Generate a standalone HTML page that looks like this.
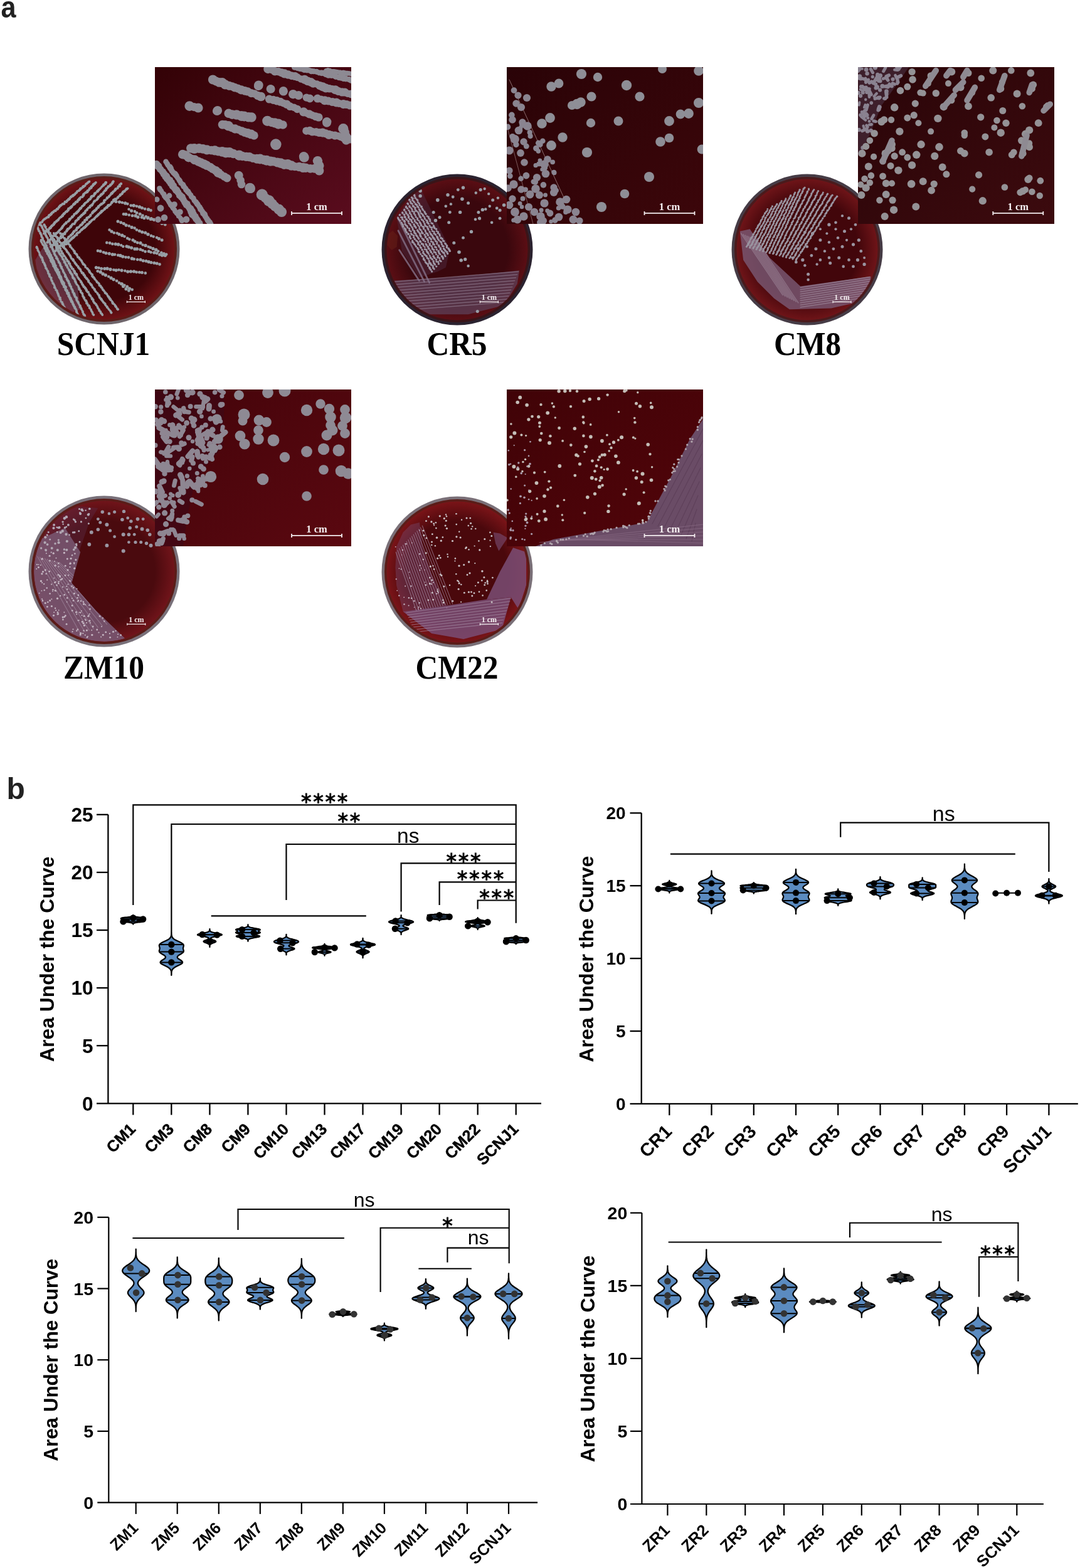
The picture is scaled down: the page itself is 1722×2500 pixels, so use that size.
<!DOCTYPE html>
<html><head><meta charset="utf-8"><style>
html,body{margin:0;padding:0;background:#fff;width:1722px;height:2500px;overflow:hidden}
svg{display:block}
</style></head><body>
<svg width="1722" height="2500" viewBox="0 0 1722 2500">
<defs><radialGradient id="ag0" cx="50%" cy="50%" r="50%"><stop offset="0" stop-color="#3e0509"/><stop offset="0.72" stop-color="#3e0509"/><stop offset="1" stop-color="#6e1216"/></radialGradient><clipPath id="dc0"><circle cx="166" cy="397" r="112"/></clipPath><radialGradient id="ag1" cx="50%" cy="50%" r="50%"><stop offset="0" stop-color="#3a070d"/><stop offset="0.72" stop-color="#3a070d"/><stop offset="1" stop-color="#5a0e14"/></radialGradient><clipPath id="dc1"><circle cx="729" cy="398" r="112"/></clipPath><radialGradient id="ag2" cx="50%" cy="50%" r="50%"><stop offset="0" stop-color="#42060b"/><stop offset="0.72" stop-color="#42060b"/><stop offset="1" stop-color="#6e1418"/></radialGradient><clipPath id="dc2"><circle cx="1287" cy="398" r="112"/></clipPath><clipPath id="zmb"><path d="M128.2 880.3 L114.2 929.4 L152.8 973.2 L198.4 1017.1 L198.7 1018.1 L189.3 1020.6 L179.6 1022.2 L169.9 1022.9 L160.1 1022.8 L150.4 1021.9 L140.8 1020.1 L131.4 1017.5 L122.2 1014.1 L113.4 1009.9 L105 1004.9 L97 999.3 L89.6 992.9 L82.8 985.9 L76.6 978.4 L71 970.4 L66.2 961.8 L62.2 953 L58.9 943.7 L56.4 934.3 L54.8 924.6 L54.1 914.9 L54.2 905.1 L55.1 895.4 L56.9 885.8 L59.5 876.4 L62.9 867.2 L67.1 858.4 L87.9 848.7 L103.7 841.7Z"/></clipPath><radialGradient id="ag3" cx="50%" cy="50%" r="50%"><stop offset="0" stop-color="#4a0a0e"/><stop offset="0.72" stop-color="#4a0a0e"/><stop offset="1" stop-color="#70141a"/></radialGradient><clipPath id="dc3"><circle cx="166" cy="911" r="112"/></clipPath><radialGradient id="ag4" cx="50%" cy="50%" r="50%"><stop offset="0" stop-color="#4a080c"/><stop offset="0.72" stop-color="#4a080c"/><stop offset="1" stop-color="#7a1418"/></radialGradient><clipPath id="dc4"><circle cx="729" cy="912" r="112"/></clipPath><linearGradient id="ig0" x1="0" y1="0" x2="1" y2="1"><stop offset="0" stop-color="#330206"/><stop offset="1" stop-color="#5a0c1e"/></linearGradient><clipPath id="ic0"><rect x="247" y="107" width="313" height="250"/></clipPath><linearGradient id="ig1" x1="0" y1="0" x2="1" y2="1"><stop offset="0" stop-color="#2a0307"/><stop offset="1" stop-color="#3c060a"/></linearGradient><clipPath id="ic1"><rect x="808" y="107" width="313" height="250"/></clipPath><linearGradient id="ig2" x1="0" y1="0" x2="1" y2="1"><stop offset="0" stop-color="#2a0508"/><stop offset="1" stop-color="#3c0a0e"/></linearGradient><clipPath id="ic2"><rect x="1368" y="107" width="313" height="250"/></clipPath><linearGradient id="ig3" x1="0" y1="0" x2="1" y2="1"><stop offset="0" stop-color="#44040a"/><stop offset="1" stop-color="#5a0810"/></linearGradient><clipPath id="ic3"><rect x="247" y="621" width="313" height="250"/></clipPath><linearGradient id="ig4" x1="0" y1="0" x2="1" y2="1"><stop offset="0" stop-color="#400307"/><stop offset="1" stop-color="#52040a"/></linearGradient><clipPath id="ic4"><rect x="808" y="621" width="313" height="250"/></clipPath></defs>
<rect width="1722" height="2500" fill="#fff"/>
<text transform="translate(1.5 27.8) scale(0.9 1)" font-family="Liberation Sans" font-weight="bold" font-size="48" fill="#222">a</text>
<text x="10.5" y="1274" font-family="Liberation Sans" font-weight="bold" font-size="48" fill="#222">b</text>
<text transform="translate(165 565.5) scale(1 1.08)" font-family="Liberation Serif" font-weight="bold" font-size="49.5" fill="#000" text-anchor="middle">SCNJ1</text>
<text transform="translate(728.5 565.5) scale(1 1.08)" font-family="Liberation Serif" font-weight="bold" font-size="49.5" fill="#000" text-anchor="middle">CR5</text>
<text transform="translate(1287.5 565.5) scale(1 1.08)" font-family="Liberation Serif" font-weight="bold" font-size="49.5" fill="#000" text-anchor="middle">CM8</text>
<text transform="translate(165.5 1082) scale(1 1.08)" font-family="Liberation Serif" font-weight="bold" font-size="49.5" fill="#000" text-anchor="middle">ZM10</text>
<text transform="translate(728.5 1082) scale(1 1.08)" font-family="Liberation Serif" font-weight="bold" font-size="49.5" fill="#000" text-anchor="middle">CM22</text>
<circle cx="166" cy="397" r="120.5" fill="#6f666c"/>
<circle cx="166" cy="397" r="116" fill="#5a1c18"/>
<circle cx="166" cy="397" r="112.5" fill="url(#ag0)"/>
<g clip-path="url(#dc0)" fill="#8c8791">
<path d="M56.3 414.4 L75.6 382.8 L121.2 435.4 L128.2 493.3 L103.7 502.1 L73.9 467 L59.8 444.2Z" fill="#6e4a62" opacity="0.55"/>
<circle cx="142" cy="289.4" r="2.3" fill="#98a0a6"/>
<circle cx="140" cy="291.3" r="2.1" fill="#98a0a6"/>
<circle cx="138.3" cy="292.7" r="2" fill="#98a0a6"/>
<circle cx="137.1" cy="293.5" r="2" fill="#98a0a6"/>
<circle cx="135.5" cy="296" r="2" fill="#98a0a6"/>
<circle cx="133.5" cy="297.1" r="2.4" fill="#98a0a6"/>
<circle cx="132.3" cy="298.2" r="2.4" fill="#98a0a6"/>
<circle cx="129.9" cy="300.3" r="2.1" fill="#98a0a6"/>
<circle cx="128.4" cy="300.7" r="2.1" fill="#98a0a6"/>
<circle cx="127.6" cy="302.2" r="2.2" fill="#98a0a6"/>
<circle cx="125.7" cy="303.9" r="2.2" fill="#98a0a6"/>
<circle cx="123.2" cy="304.9" r="2" fill="#98a0a6"/>
<circle cx="122.3" cy="306.8" r="2.1" fill="#98a0a6"/>
<circle cx="120.5" cy="308.3" r="2.1" fill="#98a0a6"/>
<circle cx="119.1" cy="310" r="2.1" fill="#98a0a6"/>
<circle cx="117.2" cy="311.2" r="2.4" fill="#98a0a6"/>
<circle cx="115.7" cy="312.4" r="2.4" fill="#98a0a6"/>
<circle cx="113.2" cy="313.9" r="2.3" fill="#98a0a6"/>
<circle cx="111.6" cy="315.5" r="2" fill="#98a0a6"/>
<circle cx="110.6" cy="317.3" r="2.2" fill="#98a0a6"/>
<circle cx="109.2" cy="318.1" r="2.3" fill="#98a0a6"/>
<circle cx="107.1" cy="319.9" r="2.2" fill="#98a0a6"/>
<circle cx="105.7" cy="321.8" r="2.2" fill="#98a0a6"/>
<circle cx="103.8" cy="322" r="2.3" fill="#98a0a6"/>
<circle cx="102.1" cy="324.7" r="2.3" fill="#98a0a6"/>
<circle cx="100" cy="325.3" r="2.3" fill="#98a0a6"/>
<circle cx="97.9" cy="326.8" r="2" fill="#98a0a6"/>
<circle cx="96.4" cy="327.7" r="2.3" fill="#98a0a6"/>
<circle cx="94.7" cy="329.4" r="2.1" fill="#98a0a6"/>
<circle cx="94" cy="330.6" r="2.2" fill="#98a0a6"/>
<circle cx="91.9" cy="333.1" r="2.3" fill="#98a0a6"/>
<circle cx="90.6" cy="333.7" r="2.1" fill="#98a0a6"/>
<circle cx="88.3" cy="335.9" r="2.4" fill="#98a0a6"/>
<circle cx="86.3" cy="336.4" r="2" fill="#98a0a6"/>
<circle cx="84.8" cy="338.3" r="2.2" fill="#98a0a6"/>
<circle cx="83.1" cy="339.1" r="2.1" fill="#98a0a6"/>
<circle cx="81.6" cy="341.2" r="2.4" fill="#98a0a6"/>
<circle cx="80.3" cy="342.6" r="2.2" fill="#98a0a6"/>
<circle cx="78.6" cy="343.4" r="2.4" fill="#98a0a6"/>
<circle cx="77.1" cy="345.9" r="2.3" fill="#98a0a6"/>
<circle cx="74.9" cy="346.7" r="2" fill="#98a0a6"/>
<circle cx="73.5" cy="347.7" r="2" fill="#98a0a6"/>
<circle cx="71.3" cy="349.2" r="2.1" fill="#98a0a6"/>
<circle cx="69.4" cy="350.5" r="2" fill="#98a0a6"/>
<circle cx="67.8" cy="352.4" r="1.9" fill="#98a0a6"/>
<circle cx="67.1" cy="354.1" r="2" fill="#98a0a6"/>
<circle cx="64.6" cy="355.2" r="2.1" fill="#98a0a6"/>
<circle cx="62.8" cy="357.3" r="2.4" fill="#98a0a6"/>
<circle cx="61.6" cy="358.2" r="2.1" fill="#98a0a6"/>
<circle cx="152.8" cy="291" r="2" fill="#98a0a6"/>
<circle cx="151" cy="292.8" r="2.3" fill="#98a0a6"/>
<circle cx="149.2" cy="294.1" r="2.4" fill="#98a0a6"/>
<circle cx="148.1" cy="295.8" r="2.2" fill="#98a0a6"/>
<circle cx="145.8" cy="297.8" r="2.4" fill="#98a0a6"/>
<circle cx="145.4" cy="299.6" r="2.1" fill="#98a0a6"/>
<circle cx="143.1" cy="300.5" r="2.3" fill="#98a0a6"/>
<circle cx="141.8" cy="302.8" r="2.1" fill="#98a0a6"/>
<circle cx="139.8" cy="304.4" r="2.4" fill="#98a0a6"/>
<circle cx="139" cy="306" r="2.3" fill="#98a0a6"/>
<circle cx="137.3" cy="306.7" r="2.2" fill="#98a0a6"/>
<circle cx="135.2" cy="308" r="1.9" fill="#98a0a6"/>
<circle cx="133.5" cy="309.9" r="2.3" fill="#98a0a6"/>
<circle cx="132.8" cy="311.7" r="2.4" fill="#98a0a6"/>
<circle cx="131.3" cy="313.9" r="2.1" fill="#98a0a6"/>
<circle cx="128.7" cy="314.5" r="2" fill="#98a0a6"/>
<circle cx="127" cy="316.6" r="2.4" fill="#98a0a6"/>
<circle cx="126.3" cy="317.9" r="2.3" fill="#98a0a6"/>
<circle cx="124.7" cy="319" r="2.3" fill="#98a0a6"/>
<circle cx="123.2" cy="321.4" r="2.3" fill="#98a0a6"/>
<circle cx="121.1" cy="322.2" r="2.3" fill="#98a0a6"/>
<circle cx="119.3" cy="324.6" r="2.4" fill="#98a0a6"/>
<circle cx="117.8" cy="325.6" r="2.4" fill="#98a0a6"/>
<circle cx="116.6" cy="326.8" r="2" fill="#98a0a6"/>
<circle cx="114.3" cy="329.4" r="2.3" fill="#98a0a6"/>
<circle cx="112.7" cy="330.8" r="2.4" fill="#98a0a6"/>
<circle cx="111.8" cy="331.7" r="2.2" fill="#98a0a6"/>
<circle cx="109.5" cy="332.8" r="2.4" fill="#98a0a6"/>
<circle cx="108.6" cy="335.1" r="2.4" fill="#98a0a6"/>
<circle cx="106.7" cy="337.1" r="2.3" fill="#98a0a6"/>
<circle cx="104.9" cy="337.8" r="2.1" fill="#98a0a6"/>
<circle cx="103.3" cy="339.8" r="2.1" fill="#98a0a6"/>
<circle cx="102" cy="340.8" r="2.4" fill="#98a0a6"/>
<circle cx="100.3" cy="342.7" r="2.2" fill="#98a0a6"/>
<circle cx="99.4" cy="344.2" r="2.4" fill="#98a0a6"/>
<circle cx="97.3" cy="345.9" r="2.2" fill="#98a0a6"/>
<circle cx="95.1" cy="347.4" r="2" fill="#98a0a6"/>
<circle cx="93.5" cy="349.4" r="2" fill="#98a0a6"/>
<circle cx="92.5" cy="350.9" r="2.2" fill="#98a0a6"/>
<circle cx="90.7" cy="352.1" r="2.2" fill="#98a0a6"/>
<circle cx="89.8" cy="353.1" r="2.2" fill="#98a0a6"/>
<circle cx="87.5" cy="354.9" r="2.3" fill="#98a0a6"/>
<circle cx="86.2" cy="356.8" r="2.3" fill="#98a0a6"/>
<circle cx="85.2" cy="358.2" r="2.2" fill="#98a0a6"/>
<circle cx="83" cy="359.9" r="2.3" fill="#98a0a6"/>
<circle cx="81.4" cy="361.5" r="2.2" fill="#98a0a6"/>
<circle cx="80.4" cy="363.2" r="2.4" fill="#98a0a6"/>
<circle cx="78.9" cy="364.2" r="2.2" fill="#98a0a6"/>
<circle cx="77.3" cy="366.5" r="2" fill="#98a0a6"/>
<circle cx="74.6" cy="367.5" r="2" fill="#98a0a6"/>
<circle cx="73.2" cy="368.6" r="2.3" fill="#98a0a6"/>
<circle cx="72.3" cy="371.3" r="2" fill="#98a0a6"/>
<circle cx="70.4" cy="372.3" r="2.2" fill="#98a0a6"/>
<circle cx="168.8" cy="291.1" r="2.4" fill="#98a0a6"/>
<circle cx="167.7" cy="292.8" r="2.4" fill="#98a0a6"/>
<circle cx="165.4" cy="294.7" r="2.4" fill="#98a0a6"/>
<circle cx="164.4" cy="295.9" r="2.1" fill="#98a0a6"/>
<circle cx="162.4" cy="297.7" r="2" fill="#98a0a6"/>
<circle cx="160.6" cy="299.8" r="1.9" fill="#98a0a6"/>
<circle cx="159.4" cy="301" r="1.9" fill="#98a0a6"/>
<circle cx="157.5" cy="302.8" r="2.2" fill="#98a0a6"/>
<circle cx="155.6" cy="304.9" r="2.3" fill="#98a0a6"/>
<circle cx="155.3" cy="305.3" r="2.1" fill="#98a0a6"/>
<circle cx="152.5" cy="307.7" r="2.1" fill="#98a0a6"/>
<circle cx="151.1" cy="308.8" r="2.4" fill="#98a0a6"/>
<circle cx="150.4" cy="310.2" r="2" fill="#98a0a6"/>
<circle cx="149" cy="312.2" r="2.3" fill="#98a0a6"/>
<circle cx="146.4" cy="313.1" r="2.3" fill="#98a0a6"/>
<circle cx="145.3" cy="314.7" r="2.4" fill="#98a0a6"/>
<circle cx="144" cy="317.2" r="2" fill="#98a0a6"/>
<circle cx="142.7" cy="317.8" r="2.4" fill="#98a0a6"/>
<circle cx="140.6" cy="319.8" r="2.2" fill="#98a0a6"/>
<circle cx="139.7" cy="321.3" r="2" fill="#98a0a6"/>
<circle cx="137.6" cy="322.8" r="2" fill="#98a0a6"/>
<circle cx="135.6" cy="324.1" r="2" fill="#98a0a6"/>
<circle cx="134.3" cy="326.1" r="2.3" fill="#98a0a6"/>
<circle cx="132.7" cy="327.9" r="2" fill="#98a0a6"/>
<circle cx="131.2" cy="328.8" r="2.1" fill="#98a0a6"/>
<circle cx="129.2" cy="331.4" r="2.2" fill="#98a0a6"/>
<circle cx="127.9" cy="332.6" r="2.4" fill="#98a0a6"/>
<circle cx="126.2" cy="334.6" r="2.1" fill="#98a0a6"/>
<circle cx="125.2" cy="336.2" r="2.1" fill="#98a0a6"/>
<circle cx="123.7" cy="337.6" r="2.4" fill="#98a0a6"/>
<circle cx="121.9" cy="339.4" r="2.3" fill="#98a0a6"/>
<circle cx="120.7" cy="340.4" r="2.1" fill="#98a0a6"/>
<circle cx="118.4" cy="341.6" r="2" fill="#98a0a6"/>
<circle cx="117.8" cy="343.4" r="2" fill="#98a0a6"/>
<circle cx="115.4" cy="345.7" r="2.4" fill="#98a0a6"/>
<circle cx="114.6" cy="346.6" r="2.1" fill="#98a0a6"/>
<circle cx="112.5" cy="348.4" r="2" fill="#98a0a6"/>
<circle cx="111.2" cy="349.7" r="2.4" fill="#98a0a6"/>
<circle cx="110.3" cy="351.6" r="2.1" fill="#98a0a6"/>
<circle cx="108.8" cy="352.9" r="2.1" fill="#98a0a6"/>
<circle cx="105.9" cy="354.6" r="2.2" fill="#98a0a6"/>
<circle cx="105.1" cy="355.9" r="2.2" fill="#98a0a6"/>
<circle cx="102.9" cy="357.6" r="2" fill="#98a0a6"/>
<circle cx="101.8" cy="358.9" r="1.9" fill="#98a0a6"/>
<circle cx="100.2" cy="360.7" r="2.2" fill="#98a0a6"/>
<circle cx="98.9" cy="363" r="2.3" fill="#98a0a6"/>
<circle cx="97.6" cy="364.7" r="2.1" fill="#98a0a6"/>
<circle cx="95.5" cy="366.4" r="2" fill="#98a0a6"/>
<circle cx="94.5" cy="367.6" r="2" fill="#98a0a6"/>
<circle cx="93.1" cy="369.5" r="2.2" fill="#98a0a6"/>
<circle cx="91.4" cy="370.9" r="2" fill="#98a0a6"/>
<circle cx="89.6" cy="372.1" r="2.3" fill="#98a0a6"/>
<circle cx="88.4" cy="374.1" r="2.2" fill="#98a0a6"/>
<circle cx="87" cy="375.5" r="2.3" fill="#98a0a6"/>
<circle cx="84.6" cy="376.2" r="2" fill="#98a0a6"/>
<circle cx="83.2" cy="377.9" r="2.3" fill="#98a0a6"/>
<circle cx="81.9" cy="380.2" r="2.2" fill="#98a0a6"/>
<circle cx="80.5" cy="381.6" r="1.9" fill="#98a0a6"/>
<circle cx="79.1" cy="383.5" r="2.2" fill="#98a0a6"/>
<circle cx="77.2" cy="384.9" r="2" fill="#98a0a6"/>
<circle cx="75.6" cy="386.3" r="2.2" fill="#98a0a6"/>
<circle cx="180.6" cy="289.3" r="2.1" fill="#98a0a6"/>
<circle cx="179.6" cy="291.1" r="2.3" fill="#98a0a6"/>
<circle cx="178.4" cy="293.1" r="2.1" fill="#98a0a6"/>
<circle cx="176.2" cy="294.9" r="2.3" fill="#98a0a6"/>
<circle cx="174.9" cy="296.5" r="2" fill="#98a0a6"/>
<circle cx="172.7" cy="297.6" r="2.3" fill="#98a0a6"/>
<circle cx="171.4" cy="299.6" r="1.9" fill="#98a0a6"/>
<circle cx="169.6" cy="300.8" r="2.3" fill="#98a0a6"/>
<circle cx="168.9" cy="303" r="2.1" fill="#98a0a6"/>
<circle cx="167.1" cy="304.3" r="2.2" fill="#98a0a6"/>
<circle cx="165" cy="306.5" r="2" fill="#98a0a6"/>
<circle cx="164.6" cy="308.2" r="1.9" fill="#98a0a6"/>
<circle cx="162.4" cy="309.7" r="2.4" fill="#98a0a6"/>
<circle cx="160.9" cy="310.5" r="2" fill="#98a0a6"/>
<circle cx="160" cy="312.1" r="2.2" fill="#98a0a6"/>
<circle cx="157.4" cy="314.1" r="2.4" fill="#98a0a6"/>
<circle cx="155.8" cy="316.1" r="2.2" fill="#98a0a6"/>
<circle cx="155.3" cy="317.6" r="2" fill="#98a0a6"/>
<circle cx="153.8" cy="318.9" r="1.9" fill="#98a0a6"/>
<circle cx="151.1" cy="320.5" r="2.2" fill="#98a0a6"/>
<circle cx="149.9" cy="321.7" r="2.1" fill="#98a0a6"/>
<circle cx="148.4" cy="324.2" r="1.9" fill="#98a0a6"/>
<circle cx="147.4" cy="325.9" r="2" fill="#98a0a6"/>
<circle cx="146.1" cy="327.3" r="2.4" fill="#98a0a6"/>
<circle cx="143.8" cy="328.5" r="2.1" fill="#98a0a6"/>
<circle cx="143.2" cy="330.4" r="2.1" fill="#98a0a6"/>
<circle cx="140.9" cy="331.6" r="2" fill="#98a0a6"/>
<circle cx="138.9" cy="333.9" r="2.1" fill="#98a0a6"/>
<circle cx="138.5" cy="334.8" r="2.1" fill="#98a0a6"/>
<circle cx="136.4" cy="336.3" r="2.1" fill="#98a0a6"/>
<circle cx="135.4" cy="338.9" r="2.3" fill="#98a0a6"/>
<circle cx="133.5" cy="340.5" r="2.4" fill="#98a0a6"/>
<circle cx="131.8" cy="341.9" r="2" fill="#98a0a6"/>
<circle cx="130.5" cy="343.1" r="2.3" fill="#98a0a6"/>
<circle cx="128.9" cy="344.5" r="2" fill="#98a0a6"/>
<circle cx="127.7" cy="345.9" r="2.2" fill="#98a0a6"/>
<circle cx="125.4" cy="347.8" r="2.3" fill="#98a0a6"/>
<circle cx="124.7" cy="349.3" r="2.3" fill="#98a0a6"/>
<circle cx="122.3" cy="351.4" r="2.1" fill="#98a0a6"/>
<circle cx="120.6" cy="352.5" r="2" fill="#98a0a6"/>
<circle cx="120" cy="354.5" r="2" fill="#98a0a6"/>
<circle cx="118.5" cy="356.8" r="2.2" fill="#98a0a6"/>
<circle cx="115.9" cy="357.3" r="2" fill="#98a0a6"/>
<circle cx="114.7" cy="358.8" r="2.1" fill="#98a0a6"/>
<circle cx="113" cy="361.1" r="2.4" fill="#98a0a6"/>
<circle cx="112.1" cy="362.5" r="2.1" fill="#98a0a6"/>
<circle cx="110.3" cy="364.1" r="2.1" fill="#98a0a6"/>
<circle cx="108.1" cy="365.5" r="2.4" fill="#98a0a6"/>
<circle cx="106.7" cy="367.5" r="2.2" fill="#98a0a6"/>
<circle cx="106.1" cy="368.7" r="2.1" fill="#98a0a6"/>
<circle cx="103.8" cy="370.6" r="2.2" fill="#98a0a6"/>
<circle cx="103.2" cy="372.8" r="2.4" fill="#98a0a6"/>
<circle cx="100.4" cy="373.3" r="2.3" fill="#98a0a6"/>
<circle cx="100" cy="375.5" r="2.2" fill="#98a0a6"/>
<circle cx="97.3" cy="377" r="2.4" fill="#98a0a6"/>
<circle cx="96.9" cy="379.2" r="2.4" fill="#98a0a6"/>
<circle cx="94.6" cy="379.9" r="2" fill="#98a0a6"/>
<circle cx="93.4" cy="382.3" r="2.4" fill="#98a0a6"/>
<circle cx="92.1" cy="383.8" r="2.3" fill="#98a0a6"/>
<circle cx="90.3" cy="385.3" r="2" fill="#98a0a6"/>
<circle cx="89.1" cy="386.5" r="2.4" fill="#98a0a6"/>
<circle cx="87.4" cy="388.2" r="2" fill="#98a0a6"/>
<circle cx="85.4" cy="390.3" r="2.3" fill="#98a0a6"/>
<circle cx="83.7" cy="391.1" r="2.2" fill="#98a0a6"/>
<circle cx="82.6" cy="393.3" r="2.2" fill="#98a0a6"/>
<circle cx="193" cy="293" r="2.2" fill="#98a0a6"/>
<circle cx="191" cy="294.6" r="2.2" fill="#98a0a6"/>
<circle cx="190.7" cy="296.7" r="2.4" fill="#98a0a6"/>
<circle cx="188.5" cy="297.7" r="2.1" fill="#98a0a6"/>
<circle cx="187.6" cy="299.9" r="2.1" fill="#98a0a6"/>
<circle cx="184.8" cy="301.2" r="2.3" fill="#98a0a6"/>
<circle cx="183.8" cy="302.5" r="2.3" fill="#98a0a6"/>
<circle cx="182.9" cy="304" r="2" fill="#98a0a6"/>
<circle cx="180.6" cy="305.8" r="2.3" fill="#98a0a6"/>
<circle cx="178.8" cy="307.9" r="2.3" fill="#98a0a6"/>
<circle cx="177.7" cy="308.7" r="2.4" fill="#98a0a6"/>
<circle cx="175.9" cy="311.1" r="2" fill="#98a0a6"/>
<circle cx="174.2" cy="312.6" r="2.1" fill="#98a0a6"/>
<circle cx="173.6" cy="313.8" r="2" fill="#98a0a6"/>
<circle cx="171.1" cy="315.3" r="2.3" fill="#98a0a6"/>
<circle cx="170.5" cy="316.5" r="2.1" fill="#98a0a6"/>
<circle cx="168" cy="319.1" r="2" fill="#98a0a6"/>
<circle cx="166.3" cy="319.5" r="2.1" fill="#98a0a6"/>
<circle cx="165.8" cy="322.2" r="2.3" fill="#98a0a6"/>
<circle cx="164.4" cy="323.8" r="2.1" fill="#98a0a6"/>
<circle cx="161.8" cy="325.4" r="2.3" fill="#98a0a6"/>
<circle cx="160" cy="326.6" r="2.1" fill="#98a0a6"/>
<circle cx="158.9" cy="327.7" r="2" fill="#98a0a6"/>
<circle cx="156.9" cy="329.2" r="2.1" fill="#98a0a6"/>
<circle cx="156.6" cy="330.6" r="2.4" fill="#98a0a6"/>
<circle cx="154.1" cy="332.5" r="2.3" fill="#98a0a6"/>
<circle cx="153.3" cy="334.2" r="2" fill="#98a0a6"/>
<circle cx="151.3" cy="335.7" r="2.4" fill="#98a0a6"/>
<circle cx="149.4" cy="337.2" r="2.4" fill="#98a0a6"/>
<circle cx="147.6" cy="338.9" r="2.3" fill="#98a0a6"/>
<circle cx="147.1" cy="339.9" r="2" fill="#98a0a6"/>
<circle cx="144.6" cy="342.7" r="2.1" fill="#98a0a6"/>
<circle cx="143.9" cy="344.2" r="2.1" fill="#98a0a6"/>
<circle cx="141.8" cy="345.9" r="2.2" fill="#98a0a6"/>
<circle cx="140.2" cy="347.1" r="2.1" fill="#98a0a6"/>
<circle cx="138.7" cy="347.8" r="2.3" fill="#98a0a6"/>
<circle cx="138" cy="350.2" r="2.4" fill="#98a0a6"/>
<circle cx="135.3" cy="351.2" r="2.2" fill="#98a0a6"/>
<circle cx="134.9" cy="353.7" r="2.1" fill="#98a0a6"/>
<circle cx="132.5" cy="354.6" r="2.2" fill="#98a0a6"/>
<circle cx="131.8" cy="355.9" r="2.3" fill="#98a0a6"/>
<circle cx="130" cy="358.3" r="2.3" fill="#98a0a6"/>
<circle cx="128.3" cy="359.2" r="2.1" fill="#98a0a6"/>
<circle cx="126.4" cy="361.4" r="2" fill="#98a0a6"/>
<circle cx="124.6" cy="362.9" r="2.1" fill="#98a0a6"/>
<circle cx="122.9" cy="363.5" r="2.2" fill="#98a0a6"/>
<circle cx="121.7" cy="366.4" r="2.4" fill="#98a0a6"/>
<circle cx="121" cy="367" r="2" fill="#98a0a6"/>
<circle cx="118.3" cy="368.9" r="2.3" fill="#98a0a6"/>
<circle cx="117.2" cy="370.1" r="2.1" fill="#98a0a6"/>
<circle cx="115.9" cy="372.3" r="2.3" fill="#98a0a6"/>
<circle cx="114.7" cy="373.8" r="2" fill="#98a0a6"/>
<circle cx="113.1" cy="374.9" r="2.2" fill="#98a0a6"/>
<circle cx="110.9" cy="377.1" r="2" fill="#98a0a6"/>
<circle cx="109.2" cy="378" r="2" fill="#98a0a6"/>
<circle cx="108.5" cy="380" r="2.1" fill="#98a0a6"/>
<circle cx="106.3" cy="382.1" r="2.2" fill="#98a0a6"/>
<circle cx="104.6" cy="383.4" r="2.3" fill="#98a0a6"/>
<circle cx="104" cy="384.1" r="2.2" fill="#98a0a6"/>
<circle cx="102.2" cy="386.6" r="2.4" fill="#98a0a6"/>
<circle cx="99.7" cy="387.5" r="2" fill="#98a0a6"/>
<circle cx="98.3" cy="390" r="2.2" fill="#98a0a6"/>
<circle cx="97.8" cy="390.7" r="2.4" fill="#98a0a6"/>
<circle cx="95.6" cy="392.2" r="2.3" fill="#98a0a6"/>
<circle cx="94.7" cy="393.5" r="2.2" fill="#98a0a6"/>
<circle cx="92.7" cy="395.3" r="2.1" fill="#98a0a6"/>
<circle cx="90.5" cy="396.8" r="2.1" fill="#98a0a6"/>
<circle cx="89.6" cy="399" r="2" fill="#98a0a6"/>
<circle cx="87.9" cy="400.4" r="2" fill="#98a0a6"/>
<circle cx="203.5" cy="300.6" r="2" fill="#98a0a6"/>
<circle cx="201.8" cy="301.4" r="2.3" fill="#98a0a6"/>
<circle cx="200.5" cy="302.7" r="2" fill="#98a0a6"/>
<circle cx="198.6" cy="304.8" r="2.2" fill="#98a0a6"/>
<circle cx="196.6" cy="305.8" r="2.3" fill="#98a0a6"/>
<circle cx="195.4" cy="307.4" r="2.1" fill="#98a0a6"/>
<circle cx="194.4" cy="309" r="2.2" fill="#98a0a6"/>
<circle cx="192" cy="310.6" r="2.4" fill="#98a0a6"/>
<circle cx="191.2" cy="312" r="2" fill="#98a0a6"/>
<circle cx="189.2" cy="313.2" r="1.9" fill="#98a0a6"/>
<circle cx="187.8" cy="315" r="2.3" fill="#98a0a6"/>
<circle cx="185.5" cy="317.1" r="2.2" fill="#98a0a6"/>
<circle cx="183.5" cy="317.4" r="2.2" fill="#98a0a6"/>
<circle cx="182.5" cy="320.1" r="2" fill="#98a0a6"/>
<circle cx="180.8" cy="320.8" r="2.2" fill="#98a0a6"/>
<circle cx="178.6" cy="322.2" r="2.2" fill="#98a0a6"/>
<circle cx="178" cy="323.4" r="2.2" fill="#98a0a6"/>
<circle cx="176.2" cy="326.1" r="2" fill="#98a0a6"/>
<circle cx="173.6" cy="327.5" r="2.4" fill="#98a0a6"/>
<circle cx="172.4" cy="327.8" r="2.4" fill="#98a0a6"/>
<circle cx="170.7" cy="330.4" r="2.2" fill="#98a0a6"/>
<circle cx="169.6" cy="330.9" r="2.3" fill="#98a0a6"/>
<circle cx="167.2" cy="332.7" r="2.3" fill="#98a0a6"/>
<circle cx="166.3" cy="333.9" r="2" fill="#98a0a6"/>
<circle cx="164.1" cy="335.8" r="2.1" fill="#98a0a6"/>
<circle cx="162.1" cy="336.9" r="2.3" fill="#98a0a6"/>
<circle cx="161.5" cy="338.1" r="2.2" fill="#98a0a6"/>
<circle cx="159.7" cy="339.6" r="2.3" fill="#98a0a6"/>
<circle cx="157.2" cy="341.8" r="2.2" fill="#98a0a6"/>
<circle cx="156.2" cy="342.9" r="2.1" fill="#98a0a6"/>
<circle cx="154.5" cy="344.5" r="2.3" fill="#98a0a6"/>
<circle cx="152.7" cy="346" r="1.9" fill="#98a0a6"/>
<circle cx="151.3" cy="347.6" r="2" fill="#98a0a6"/>
<circle cx="149.8" cy="349.4" r="2.2" fill="#98a0a6"/>
<circle cx="147.4" cy="350.5" r="2" fill="#98a0a6"/>
<circle cx="145.7" cy="351.9" r="2" fill="#98a0a6"/>
<circle cx="144.5" cy="353.5" r="2" fill="#98a0a6"/>
<circle cx="143.1" cy="354.4" r="2.3" fill="#98a0a6"/>
<circle cx="141.6" cy="356.5" r="2" fill="#98a0a6"/>
<circle cx="139.6" cy="357.8" r="2.4" fill="#98a0a6"/>
<circle cx="137.5" cy="359.9" r="2.4" fill="#98a0a6"/>
<circle cx="136.6" cy="361.3" r="2" fill="#98a0a6"/>
<circle cx="135.3" cy="362.3" r="2.4" fill="#98a0a6"/>
<circle cx="133.6" cy="363.4" r="2.3" fill="#98a0a6"/>
<circle cx="132" cy="364.7" r="2.1" fill="#98a0a6"/>
<circle cx="130.1" cy="366.3" r="2.4" fill="#98a0a6"/>
<circle cx="127.8" cy="368.7" r="2" fill="#98a0a6"/>
<circle cx="126.5" cy="370.3" r="2" fill="#98a0a6"/>
<circle cx="124.5" cy="371.2" r="2.1" fill="#98a0a6"/>
<circle cx="122.6" cy="372.3" r="2" fill="#98a0a6"/>
<circle cx="122.1" cy="374.4" r="2.4" fill="#98a0a6"/>
<circle cx="119.5" cy="376" r="2" fill="#98a0a6"/>
<circle cx="118.3" cy="377.3" r="2.1" fill="#98a0a6"/>
<circle cx="117.1" cy="378.6" r="2.2" fill="#98a0a6"/>
<circle cx="115.5" cy="379.5" r="2.4" fill="#98a0a6"/>
<circle cx="113.5" cy="381.4" r="2.3" fill="#98a0a6"/>
<circle cx="111.4" cy="383.6" r="2.2" fill="#98a0a6"/>
<circle cx="109.8" cy="384.8" r="2.2" fill="#98a0a6"/>
<circle cx="108" cy="386.3" r="2" fill="#98a0a6"/>
<circle cx="107.2" cy="387.1" r="2.2" fill="#98a0a6"/>
<circle cx="105.7" cy="389" r="2.3" fill="#98a0a6"/>
<circle cx="103.2" cy="389.7" r="2" fill="#98a0a6"/>
<circle cx="101.4" cy="392" r="2.1" fill="#98a0a6"/>
<circle cx="100.2" cy="393.3" r="2.1" fill="#98a0a6"/>
<circle cx="58.5" cy="357.8" r="1.9" fill="#98a0a6"/>
<circle cx="59.1" cy="359.5" r="1.8" fill="#98a0a6"/>
<circle cx="59.6" cy="361.4" r="1.9" fill="#98a0a6"/>
<circle cx="60.3" cy="363.8" r="2" fill="#98a0a6"/>
<circle cx="61.1" cy="365.7" r="2" fill="#98a0a6"/>
<circle cx="61.9" cy="367.9" r="1.9" fill="#98a0a6"/>
<circle cx="62.7" cy="368.7" r="2" fill="#98a0a6"/>
<circle cx="64.4" cy="371.3" r="1.9" fill="#98a0a6"/>
<circle cx="64.5" cy="372.2" r="2" fill="#98a0a6"/>
<circle cx="65.7" cy="374.5" r="2" fill="#98a0a6"/>
<circle cx="66.4" cy="377" r="2.1" fill="#98a0a6"/>
<circle cx="67.1" cy="378.8" r="1.8" fill="#98a0a6"/>
<circle cx="68.2" cy="380" r="1.9" fill="#98a0a6"/>
<circle cx="68.5" cy="382.3" r="1.8" fill="#98a0a6"/>
<circle cx="69.9" cy="384.3" r="1.8" fill="#98a0a6"/>
<circle cx="70.4" cy="385.7" r="2" fill="#98a0a6"/>
<circle cx="71.7" cy="387.8" r="1.8" fill="#98a0a6"/>
<circle cx="72.2" cy="389" r="1.8" fill="#98a0a6"/>
<circle cx="73.7" cy="391.4" r="2.1" fill="#98a0a6"/>
<circle cx="73.5" cy="393.3" r="2.1" fill="#98a0a6"/>
<circle cx="74.9" cy="395" r="2" fill="#98a0a6"/>
<circle cx="75.5" cy="396" r="1.9" fill="#98a0a6"/>
<circle cx="76.1" cy="398.1" r="2.1" fill="#98a0a6"/>
<circle cx="77.7" cy="400.5" r="2.1" fill="#98a0a6"/>
<circle cx="78" cy="402" r="2" fill="#98a0a6"/>
<circle cx="79.5" cy="403.8" r="1.9" fill="#98a0a6"/>
<circle cx="80.2" cy="406.1" r="1.9" fill="#98a0a6"/>
<circle cx="81.3" cy="406.8" r="1.9" fill="#98a0a6"/>
<circle cx="81.4" cy="409.5" r="2.2" fill="#98a0a6"/>
<circle cx="82.8" cy="410.8" r="2.1" fill="#98a0a6"/>
<circle cx="83.2" cy="412.6" r="2.2" fill="#98a0a6"/>
<circle cx="84.4" cy="414.9" r="2.1" fill="#98a0a6"/>
<circle cx="85.6" cy="416.5" r="2.1" fill="#98a0a6"/>
<circle cx="86.2" cy="418.8" r="2" fill="#98a0a6"/>
<circle cx="87" cy="420.2" r="1.9" fill="#98a0a6"/>
<circle cx="87.3" cy="422.1" r="1.8" fill="#98a0a6"/>
<circle cx="88.9" cy="423.4" r="1.8" fill="#98a0a6"/>
<circle cx="88.8" cy="426.1" r="1.9" fill="#98a0a6"/>
<circle cx="89.7" cy="426.9" r="1.8" fill="#98a0a6"/>
<circle cx="91.2" cy="429.4" r="2.1" fill="#98a0a6"/>
<circle cx="92.1" cy="430.6" r="2" fill="#98a0a6"/>
<circle cx="92.5" cy="433.3" r="2.1" fill="#98a0a6"/>
<circle cx="94" cy="434.2" r="2.1" fill="#98a0a6"/>
<circle cx="94.9" cy="437.1" r="1.8" fill="#98a0a6"/>
<circle cx="94.8" cy="437.9" r="1.8" fill="#98a0a6"/>
<circle cx="96.5" cy="440.6" r="2" fill="#98a0a6"/>
<circle cx="97.3" cy="442.2" r="1.9" fill="#98a0a6"/>
<circle cx="97.3" cy="443.4" r="2.1" fill="#98a0a6"/>
<circle cx="98.2" cy="445.4" r="1.9" fill="#98a0a6"/>
<circle cx="98.8" cy="447.2" r="1.9" fill="#98a0a6"/>
<circle cx="100.5" cy="449.1" r="1.9" fill="#98a0a6"/>
<circle cx="101.7" cy="451.1" r="2.1" fill="#98a0a6"/>
<circle cx="102.1" cy="452.4" r="1.9" fill="#98a0a6"/>
<circle cx="102.7" cy="455.1" r="1.9" fill="#98a0a6"/>
<circle cx="103.9" cy="456.6" r="1.9" fill="#98a0a6"/>
<circle cx="104.9" cy="457.9" r="2.1" fill="#98a0a6"/>
<circle cx="104.9" cy="459.6" r="1.8" fill="#98a0a6"/>
<circle cx="106.5" cy="462.6" r="1.8" fill="#98a0a6"/>
<circle cx="107" cy="463.9" r="2.1" fill="#98a0a6"/>
<circle cx="107.5" cy="465.7" r="1.9" fill="#98a0a6"/>
<circle cx="109.1" cy="467.2" r="2.2" fill="#98a0a6"/>
<circle cx="109.3" cy="469" r="2.1" fill="#98a0a6"/>
<circle cx="110.4" cy="470.7" r="2" fill="#98a0a6"/>
<circle cx="110.7" cy="473.3" r="2.1" fill="#98a0a6"/>
<circle cx="112.4" cy="474.9" r="1.9" fill="#98a0a6"/>
<circle cx="112.8" cy="476.5" r="2.2" fill="#98a0a6"/>
<circle cx="113.3" cy="478.9" r="1.8" fill="#98a0a6"/>
<circle cx="114.3" cy="480" r="2.2" fill="#98a0a6"/>
<circle cx="115.5" cy="481.9" r="2.1" fill="#98a0a6"/>
<circle cx="116" cy="483.8" r="2" fill="#98a0a6"/>
<circle cx="117.4" cy="486" r="2" fill="#98a0a6"/>
<circle cx="117.8" cy="487.3" r="1.8" fill="#98a0a6"/>
<circle cx="119.2" cy="489.6" r="2.1" fill="#98a0a6"/>
<circle cx="119.3" cy="491.1" r="2.1" fill="#98a0a6"/>
<circle cx="120.6" cy="492.6" r="2" fill="#98a0a6"/>
<circle cx="121.8" cy="494.5" r="1.8" fill="#98a0a6"/>
<circle cx="122" cy="496.9" r="2.1" fill="#98a0a6"/>
<circle cx="122.6" cy="498.1" r="1.9" fill="#98a0a6"/>
<circle cx="123.7" cy="500.3" r="1.8" fill="#98a0a6"/>
<circle cx="124.7" cy="502.1" r="1.9" fill="#98a0a6"/>
<circle cx="63" cy="355.3" r="2.1" fill="#98a0a6"/>
<circle cx="63.7" cy="357.1" r="1.8" fill="#98a0a6"/>
<circle cx="64.9" cy="359" r="2.1" fill="#98a0a6"/>
<circle cx="66.2" cy="360.1" r="1.8" fill="#98a0a6"/>
<circle cx="67" cy="361.5" r="1.9" fill="#98a0a6"/>
<circle cx="67.6" cy="363.3" r="1.9" fill="#98a0a6"/>
<circle cx="68.9" cy="365.9" r="2" fill="#98a0a6"/>
<circle cx="69.6" cy="367.4" r="1.8" fill="#98a0a6"/>
<circle cx="70.5" cy="369.2" r="2.1" fill="#98a0a6"/>
<circle cx="71.7" cy="371" r="2" fill="#98a0a6"/>
<circle cx="72.4" cy="372.8" r="1.9" fill="#98a0a6"/>
<circle cx="73.2" cy="375.2" r="2.1" fill="#98a0a6"/>
<circle cx="74.1" cy="377" r="2.1" fill="#98a0a6"/>
<circle cx="74.9" cy="378.3" r="1.9" fill="#98a0a6"/>
<circle cx="75.8" cy="379.7" r="1.9" fill="#98a0a6"/>
<circle cx="76.8" cy="382.3" r="2" fill="#98a0a6"/>
<circle cx="77.1" cy="383.7" r="2" fill="#98a0a6"/>
<circle cx="78.4" cy="385.5" r="2.1" fill="#98a0a6"/>
<circle cx="79.6" cy="387.1" r="2" fill="#98a0a6"/>
<circle cx="80.3" cy="389.2" r="2" fill="#98a0a6"/>
<circle cx="81.4" cy="390.6" r="2" fill="#98a0a6"/>
<circle cx="81.3" cy="393.3" r="2.2" fill="#98a0a6"/>
<circle cx="82.7" cy="394.3" r="2" fill="#98a0a6"/>
<circle cx="83.6" cy="396.8" r="2" fill="#98a0a6"/>
<circle cx="84.6" cy="398.8" r="2" fill="#98a0a6"/>
<circle cx="85.2" cy="400.7" r="1.9" fill="#98a0a6"/>
<circle cx="86.4" cy="401.9" r="2.1" fill="#98a0a6"/>
<circle cx="86.6" cy="404.4" r="1.9" fill="#98a0a6"/>
<circle cx="87.4" cy="405.4" r="1.9" fill="#98a0a6"/>
<circle cx="88.2" cy="407.4" r="1.9" fill="#98a0a6"/>
<circle cx="89.9" cy="409.1" r="1.9" fill="#98a0a6"/>
<circle cx="90.2" cy="411.4" r="2.2" fill="#98a0a6"/>
<circle cx="91.4" cy="412.6" r="2.1" fill="#98a0a6"/>
<circle cx="92.2" cy="414.4" r="1.8" fill="#98a0a6"/>
<circle cx="93.5" cy="416.9" r="2" fill="#98a0a6"/>
<circle cx="94" cy="418.5" r="1.9" fill="#98a0a6"/>
<circle cx="95.5" cy="420" r="2" fill="#98a0a6"/>
<circle cx="96.2" cy="422.4" r="2" fill="#98a0a6"/>
<circle cx="96.4" cy="423.9" r="1.8" fill="#98a0a6"/>
<circle cx="97.9" cy="425.5" r="2.1" fill="#98a0a6"/>
<circle cx="98.1" cy="427.3" r="1.9" fill="#98a0a6"/>
<circle cx="99.2" cy="428.9" r="1.8" fill="#98a0a6"/>
<circle cx="100.4" cy="430.9" r="1.9" fill="#98a0a6"/>
<circle cx="100.8" cy="432.9" r="1.9" fill="#98a0a6"/>
<circle cx="102.1" cy="434.9" r="1.9" fill="#98a0a6"/>
<circle cx="103.3" cy="437" r="1.8" fill="#98a0a6"/>
<circle cx="104.1" cy="438.9" r="2.1" fill="#98a0a6"/>
<circle cx="104.1" cy="440.6" r="2" fill="#98a0a6"/>
<circle cx="104.9" cy="441.4" r="2.2" fill="#98a0a6"/>
<circle cx="106.5" cy="443.5" r="1.8" fill="#98a0a6"/>
<circle cx="106.8" cy="445.3" r="2.1" fill="#98a0a6"/>
<circle cx="107.9" cy="447.1" r="2.2" fill="#98a0a6"/>
<circle cx="109.3" cy="448.9" r="2.2" fill="#98a0a6"/>
<circle cx="110" cy="451.5" r="2.1" fill="#98a0a6"/>
<circle cx="111.2" cy="453.3" r="2.1" fill="#98a0a6"/>
<circle cx="111.2" cy="455" r="2" fill="#98a0a6"/>
<circle cx="112.7" cy="456.5" r="2.1" fill="#98a0a6"/>
<circle cx="113.4" cy="458.1" r="1.9" fill="#98a0a6"/>
<circle cx="113.8" cy="460.2" r="1.8" fill="#98a0a6"/>
<circle cx="115" cy="461.6" r="2" fill="#98a0a6"/>
<circle cx="116" cy="463.9" r="2.1" fill="#98a0a6"/>
<circle cx="116.3" cy="466.1" r="2" fill="#98a0a6"/>
<circle cx="117.8" cy="467.7" r="2.1" fill="#98a0a6"/>
<circle cx="118.4" cy="469.2" r="2.2" fill="#98a0a6"/>
<circle cx="119" cy="471.3" r="2" fill="#98a0a6"/>
<circle cx="119.8" cy="473.1" r="2.1" fill="#98a0a6"/>
<circle cx="121.7" cy="474.6" r="2.2" fill="#98a0a6"/>
<circle cx="122.1" cy="476.6" r="2.2" fill="#98a0a6"/>
<circle cx="122.4" cy="478.7" r="2" fill="#98a0a6"/>
<circle cx="123.7" cy="480.7" r="1.9" fill="#98a0a6"/>
<circle cx="124.7" cy="482.1" r="2.1" fill="#98a0a6"/>
<circle cx="125.3" cy="483.8" r="1.9" fill="#98a0a6"/>
<circle cx="126.6" cy="486.1" r="1.9" fill="#98a0a6"/>
<circle cx="127.8" cy="487.4" r="2" fill="#98a0a6"/>
<circle cx="128" cy="489.3" r="2.2" fill="#98a0a6"/>
<circle cx="129.3" cy="491.5" r="1.9" fill="#98a0a6"/>
<circle cx="129.8" cy="492.7" r="2" fill="#98a0a6"/>
<circle cx="131" cy="495.1" r="1.8" fill="#98a0a6"/>
<circle cx="132" cy="497" r="2" fill="#98a0a6"/>
<circle cx="132.1" cy="498.2" r="1.8" fill="#98a0a6"/>
<circle cx="133.1" cy="500.7" r="2" fill="#98a0a6"/>
<circle cx="134.6" cy="502.4" r="2.2" fill="#98a0a6"/>
<circle cx="135.3" cy="503.9" r="2" fill="#98a0a6"/>
<circle cx="70.5" cy="358.4" r="2.1" fill="#98a0a6"/>
<circle cx="71.4" cy="360.2" r="1.9" fill="#98a0a6"/>
<circle cx="72.5" cy="361.7" r="2.1" fill="#98a0a6"/>
<circle cx="72.8" cy="363.1" r="1.8" fill="#98a0a6"/>
<circle cx="74.5" cy="365.8" r="2" fill="#98a0a6"/>
<circle cx="75" cy="367.4" r="2.1" fill="#98a0a6"/>
<circle cx="76.2" cy="368.5" r="1.9" fill="#98a0a6"/>
<circle cx="77" cy="370.3" r="1.9" fill="#98a0a6"/>
<circle cx="78.2" cy="372.8" r="1.8" fill="#98a0a6"/>
<circle cx="79.1" cy="373.5" r="1.8" fill="#98a0a6"/>
<circle cx="80.4" cy="375.9" r="2.2" fill="#98a0a6"/>
<circle cx="80.9" cy="377" r="1.9" fill="#98a0a6"/>
<circle cx="82" cy="379.8" r="2.2" fill="#98a0a6"/>
<circle cx="82.8" cy="380.9" r="1.8" fill="#98a0a6"/>
<circle cx="84" cy="382.5" r="1.8" fill="#98a0a6"/>
<circle cx="84.2" cy="384" r="2.1" fill="#98a0a6"/>
<circle cx="85.3" cy="386.9" r="1.8" fill="#98a0a6"/>
<circle cx="87.2" cy="387.6" r="1.8" fill="#98a0a6"/>
<circle cx="87.9" cy="389.5" r="2.1" fill="#98a0a6"/>
<circle cx="88.3" cy="391" r="2.1" fill="#98a0a6"/>
<circle cx="89.9" cy="393.8" r="2.1" fill="#98a0a6"/>
<circle cx="90.1" cy="395.2" r="2.1" fill="#98a0a6"/>
<circle cx="91.5" cy="397.4" r="1.9" fill="#98a0a6"/>
<circle cx="93.1" cy="398.9" r="1.8" fill="#98a0a6"/>
<circle cx="92.9" cy="400.5" r="2.1" fill="#98a0a6"/>
<circle cx="93.9" cy="401.9" r="2.1" fill="#98a0a6"/>
<circle cx="95" cy="404.3" r="2" fill="#98a0a6"/>
<circle cx="95.8" cy="405.5" r="2" fill="#98a0a6"/>
<circle cx="97.2" cy="407.6" r="1.8" fill="#98a0a6"/>
<circle cx="98.6" cy="409" r="2" fill="#98a0a6"/>
<circle cx="99.4" cy="410.8" r="1.9" fill="#98a0a6"/>
<circle cx="100.5" cy="413.2" r="2.1" fill="#98a0a6"/>
<circle cx="101.2" cy="414.1" r="1.8" fill="#98a0a6"/>
<circle cx="102.7" cy="416.4" r="2.1" fill="#98a0a6"/>
<circle cx="102.9" cy="418" r="2.2" fill="#98a0a6"/>
<circle cx="104.4" cy="419.8" r="1.9" fill="#98a0a6"/>
<circle cx="104.9" cy="421.9" r="1.9" fill="#98a0a6"/>
<circle cx="106.2" cy="423.3" r="2.2" fill="#98a0a6"/>
<circle cx="107.3" cy="424.7" r="1.8" fill="#98a0a6"/>
<circle cx="107.6" cy="426.6" r="2" fill="#98a0a6"/>
<circle cx="109.2" cy="428.9" r="1.8" fill="#98a0a6"/>
<circle cx="110.2" cy="430.5" r="2.1" fill="#98a0a6"/>
<circle cx="110.9" cy="431.7" r="2.1" fill="#98a0a6"/>
<circle cx="112.1" cy="433.9" r="2.2" fill="#98a0a6"/>
<circle cx="112.5" cy="434.9" r="2" fill="#98a0a6"/>
<circle cx="114" cy="436.8" r="2.1" fill="#98a0a6"/>
<circle cx="115.2" cy="438.6" r="2" fill="#98a0a6"/>
<circle cx="115.8" cy="440.7" r="1.9" fill="#98a0a6"/>
<circle cx="116.3" cy="442.8" r="2.1" fill="#98a0a6"/>
<circle cx="117.5" cy="443.7" r="2.1" fill="#98a0a6"/>
<circle cx="118.8" cy="445.6" r="2" fill="#98a0a6"/>
<circle cx="119.9" cy="448.2" r="2" fill="#98a0a6"/>
<circle cx="120.4" cy="449.6" r="1.8" fill="#98a0a6"/>
<circle cx="121" cy="450.8" r="2.1" fill="#98a0a6"/>
<circle cx="122.2" cy="453.1" r="1.9" fill="#98a0a6"/>
<circle cx="123.3" cy="454.3" r="1.8" fill="#98a0a6"/>
<circle cx="124.9" cy="456.3" r="1.8" fill="#98a0a6"/>
<circle cx="125.4" cy="458.6" r="1.8" fill="#98a0a6"/>
<circle cx="126.3" cy="459.8" r="2" fill="#98a0a6"/>
<circle cx="126.6" cy="461.2" r="2.2" fill="#98a0a6"/>
<circle cx="128.6" cy="463.5" r="2" fill="#98a0a6"/>
<circle cx="128.8" cy="465.6" r="1.9" fill="#98a0a6"/>
<circle cx="130.6" cy="467.3" r="2.1" fill="#98a0a6"/>
<circle cx="131.6" cy="468.5" r="1.8" fill="#98a0a6"/>
<circle cx="131.6" cy="470.1" r="1.8" fill="#98a0a6"/>
<circle cx="132.4" cy="472.3" r="2.1" fill="#98a0a6"/>
<circle cx="133.8" cy="474.6" r="2.2" fill="#98a0a6"/>
<circle cx="134.3" cy="475.9" r="1.9" fill="#98a0a6"/>
<circle cx="135.4" cy="478.1" r="1.9" fill="#98a0a6"/>
<circle cx="136.9" cy="479.5" r="2.2" fill="#98a0a6"/>
<circle cx="137.9" cy="480.9" r="2" fill="#98a0a6"/>
<circle cx="138.3" cy="483.4" r="2.2" fill="#98a0a6"/>
<circle cx="139.3" cy="484" r="1.9" fill="#98a0a6"/>
<circle cx="140.5" cy="486.8" r="2.2" fill="#98a0a6"/>
<circle cx="142" cy="487.5" r="2.1" fill="#98a0a6"/>
<circle cx="142.8" cy="490" r="2.2" fill="#98a0a6"/>
<circle cx="143" cy="491.2" r="2.1" fill="#98a0a6"/>
<circle cx="145" cy="493.5" r="1.9" fill="#98a0a6"/>
<circle cx="145.6" cy="495.4" r="1.8" fill="#98a0a6"/>
<circle cx="146.2" cy="496.6" r="1.8" fill="#98a0a6"/>
<circle cx="147.4" cy="498.2" r="1.9" fill="#98a0a6"/>
<circle cx="147.9" cy="500.6" r="1.8" fill="#98a0a6"/>
<circle cx="149.3" cy="502.1" r="2" fill="#98a0a6"/>
<circle cx="77" cy="368.2" r="2.2" fill="#98a0a6"/>
<circle cx="78.1" cy="371" r="2.1" fill="#98a0a6"/>
<circle cx="80" cy="371.7" r="2" fill="#98a0a6"/>
<circle cx="80.1" cy="374.3" r="2.1" fill="#98a0a6"/>
<circle cx="81.9" cy="375.5" r="1.9" fill="#98a0a6"/>
<circle cx="83.2" cy="377.2" r="2" fill="#98a0a6"/>
<circle cx="83.5" cy="378.6" r="1.8" fill="#98a0a6"/>
<circle cx="85.2" cy="380.7" r="1.8" fill="#98a0a6"/>
<circle cx="86.5" cy="382" r="1.9" fill="#98a0a6"/>
<circle cx="86.7" cy="383.7" r="2.1" fill="#98a0a6"/>
<circle cx="88.1" cy="385.3" r="2" fill="#98a0a6"/>
<circle cx="89.1" cy="387.8" r="1.8" fill="#98a0a6"/>
<circle cx="91" cy="388.5" r="2.2" fill="#98a0a6"/>
<circle cx="91.7" cy="390.4" r="2" fill="#98a0a6"/>
<circle cx="92.3" cy="392.1" r="1.8" fill="#98a0a6"/>
<circle cx="93.5" cy="394.7" r="2.2" fill="#98a0a6"/>
<circle cx="95.3" cy="395.3" r="1.9" fill="#98a0a6"/>
<circle cx="96.3" cy="396.9" r="2.1" fill="#98a0a6"/>
<circle cx="96.7" cy="399.7" r="1.8" fill="#98a0a6"/>
<circle cx="98.4" cy="400.6" r="1.8" fill="#98a0a6"/>
<circle cx="98.5" cy="402.9" r="2" fill="#98a0a6"/>
<circle cx="99.8" cy="404.1" r="2.2" fill="#98a0a6"/>
<circle cx="101" cy="406" r="1.8" fill="#98a0a6"/>
<circle cx="102" cy="407.9" r="2.1" fill="#98a0a6"/>
<circle cx="103.1" cy="408.8" r="1.8" fill="#98a0a6"/>
<circle cx="104.7" cy="411" r="1.9" fill="#98a0a6"/>
<circle cx="105.3" cy="412.8" r="2.1" fill="#98a0a6"/>
<circle cx="107.1" cy="414.4" r="1.8" fill="#98a0a6"/>
<circle cx="107.3" cy="416.3" r="1.9" fill="#98a0a6"/>
<circle cx="109.2" cy="417.2" r="2.1" fill="#98a0a6"/>
<circle cx="109.8" cy="419.8" r="2.1" fill="#98a0a6"/>
<circle cx="111.1" cy="420.5" r="2.2" fill="#98a0a6"/>
<circle cx="112.2" cy="423.2" r="1.9" fill="#98a0a6"/>
<circle cx="112.9" cy="424.9" r="1.9" fill="#98a0a6"/>
<circle cx="114" cy="426" r="2" fill="#98a0a6"/>
<circle cx="114.9" cy="427.9" r="2" fill="#98a0a6"/>
<circle cx="116.6" cy="429.1" r="2.1" fill="#98a0a6"/>
<circle cx="118" cy="431.7" r="1.9" fill="#98a0a6"/>
<circle cx="119" cy="432.8" r="2.1" fill="#98a0a6"/>
<circle cx="119.3" cy="435" r="2.2" fill="#98a0a6"/>
<circle cx="120.9" cy="436.3" r="2" fill="#98a0a6"/>
<circle cx="122" cy="437.4" r="2.2" fill="#98a0a6"/>
<circle cx="122.7" cy="439.3" r="1.8" fill="#98a0a6"/>
<circle cx="123.9" cy="441.7" r="1.8" fill="#98a0a6"/>
<circle cx="124.8" cy="443.3" r="1.8" fill="#98a0a6"/>
<circle cx="125.8" cy="444.8" r="2" fill="#98a0a6"/>
<circle cx="127.5" cy="446.7" r="1.8" fill="#98a0a6"/>
<circle cx="129" cy="448.4" r="1.8" fill="#98a0a6"/>
<circle cx="129.1" cy="449.8" r="2" fill="#98a0a6"/>
<circle cx="130.4" cy="451" r="1.9" fill="#98a0a6"/>
<circle cx="131.3" cy="453.3" r="2.1" fill="#98a0a6"/>
<circle cx="132.4" cy="454.9" r="2.1" fill="#98a0a6"/>
<circle cx="133.6" cy="456.9" r="2.2" fill="#98a0a6"/>
<circle cx="134.9" cy="458.1" r="2.1" fill="#98a0a6"/>
<circle cx="136.2" cy="459.8" r="2.2" fill="#98a0a6"/>
<circle cx="137.5" cy="461.4" r="1.9" fill="#98a0a6"/>
<circle cx="138.1" cy="463.2" r="2.2" fill="#98a0a6"/>
<circle cx="139.8" cy="465.5" r="2.1" fill="#98a0a6"/>
<circle cx="140.9" cy="466.1" r="2" fill="#98a0a6"/>
<circle cx="142.1" cy="468.9" r="1.9" fill="#98a0a6"/>
<circle cx="142.6" cy="470.2" r="1.9" fill="#98a0a6"/>
<circle cx="143.8" cy="471.2" r="2" fill="#98a0a6"/>
<circle cx="144.8" cy="472.8" r="1.8" fill="#98a0a6"/>
<circle cx="146.5" cy="475.4" r="2.2" fill="#98a0a6"/>
<circle cx="147.2" cy="477.2" r="2.1" fill="#98a0a6"/>
<circle cx="148.6" cy="477.9" r="2" fill="#98a0a6"/>
<circle cx="148.9" cy="480.4" r="1.9" fill="#98a0a6"/>
<circle cx="150.3" cy="482.4" r="2" fill="#98a0a6"/>
<circle cx="151.1" cy="483.6" r="2" fill="#98a0a6"/>
<circle cx="153" cy="485" r="1.9" fill="#98a0a6"/>
<circle cx="153.7" cy="486.5" r="2" fill="#98a0a6"/>
<circle cx="155.2" cy="488.6" r="1.9" fill="#98a0a6"/>
<circle cx="155.7" cy="490.3" r="1.8" fill="#98a0a6"/>
<circle cx="156.4" cy="491.5" r="1.9" fill="#98a0a6"/>
<circle cx="157.8" cy="493.4" r="1.9" fill="#98a0a6"/>
<circle cx="158.5" cy="495.4" r="2.1" fill="#98a0a6"/>
<circle cx="160.2" cy="497.1" r="2" fill="#98a0a6"/>
<circle cx="160.8" cy="499" r="2" fill="#98a0a6"/>
<circle cx="162.3" cy="500.6" r="2" fill="#98a0a6"/>
<circle cx="163.3" cy="502.1" r="1.9" fill="#98a0a6"/>
<circle cx="85.8" cy="371.9" r="2" fill="#98a0a6"/>
<circle cx="87.2" cy="374" r="1.8" fill="#98a0a6"/>
<circle cx="88.3" cy="376" r="1.9" fill="#98a0a6"/>
<circle cx="89.8" cy="377.2" r="1.9" fill="#98a0a6"/>
<circle cx="91.5" cy="378.6" r="2.1" fill="#98a0a6"/>
<circle cx="91.7" cy="380" r="2.1" fill="#98a0a6"/>
<circle cx="93.2" cy="381.6" r="1.9" fill="#98a0a6"/>
<circle cx="94.4" cy="384" r="1.8" fill="#98a0a6"/>
<circle cx="95.3" cy="386" r="2.1" fill="#98a0a6"/>
<circle cx="96.4" cy="386.8" r="1.9" fill="#98a0a6"/>
<circle cx="98.2" cy="388.8" r="2.1" fill="#98a0a6"/>
<circle cx="99.6" cy="390.3" r="2.1" fill="#98a0a6"/>
<circle cx="100.6" cy="392.3" r="2" fill="#98a0a6"/>
<circle cx="101.9" cy="393.9" r="2.2" fill="#98a0a6"/>
<circle cx="102.3" cy="395.7" r="1.8" fill="#98a0a6"/>
<circle cx="104.2" cy="397" r="2" fill="#98a0a6"/>
<circle cx="105.7" cy="398.6" r="1.9" fill="#98a0a6"/>
<circle cx="106.6" cy="400.6" r="2" fill="#98a0a6"/>
<circle cx="107.3" cy="401.8" r="2" fill="#98a0a6"/>
<circle cx="108.9" cy="403.2" r="1.9" fill="#98a0a6"/>
<circle cx="109.9" cy="405" r="1.9" fill="#98a0a6"/>
<circle cx="111.4" cy="407.1" r="2" fill="#98a0a6"/>
<circle cx="112.1" cy="408" r="1.9" fill="#98a0a6"/>
<circle cx="113" cy="410.1" r="2" fill="#98a0a6"/>
<circle cx="114.1" cy="412.2" r="1.9" fill="#98a0a6"/>
<circle cx="116.2" cy="413.7" r="2.2" fill="#98a0a6"/>
<circle cx="116.6" cy="414.8" r="2.2" fill="#98a0a6"/>
<circle cx="117.5" cy="416" r="2" fill="#98a0a6"/>
<circle cx="119.3" cy="418.7" r="2.1" fill="#98a0a6"/>
<circle cx="120.5" cy="420.5" r="2" fill="#98a0a6"/>
<circle cx="121.7" cy="421.7" r="1.9" fill="#98a0a6"/>
<circle cx="122.7" cy="423.2" r="1.9" fill="#98a0a6"/>
<circle cx="124.6" cy="425" r="2" fill="#98a0a6"/>
<circle cx="124.8" cy="426.3" r="1.9" fill="#98a0a6"/>
<circle cx="126.5" cy="428.1" r="2.1" fill="#98a0a6"/>
<circle cx="128.2" cy="429.7" r="2" fill="#98a0a6"/>
<circle cx="128.9" cy="431.9" r="1.9" fill="#98a0a6"/>
<circle cx="130" cy="433.4" r="1.8" fill="#98a0a6"/>
<circle cx="130.9" cy="435.2" r="2.1" fill="#98a0a6"/>
<circle cx="132.4" cy="435.8" r="2.2" fill="#98a0a6"/>
<circle cx="133.8" cy="438.3" r="2.2" fill="#98a0a6"/>
<circle cx="135.2" cy="439.4" r="1.8" fill="#98a0a6"/>
<circle cx="135.6" cy="441.2" r="2" fill="#98a0a6"/>
<circle cx="136.7" cy="442.4" r="2" fill="#98a0a6"/>
<circle cx="138.4" cy="444.3" r="2.2" fill="#98a0a6"/>
<circle cx="139.6" cy="445.6" r="1.9" fill="#98a0a6"/>
<circle cx="141" cy="447.5" r="2.1" fill="#98a0a6"/>
<circle cx="141.2" cy="449.1" r="2.1" fill="#98a0a6"/>
<circle cx="143.1" cy="451.2" r="1.8" fill="#98a0a6"/>
<circle cx="144.2" cy="452.7" r="1.9" fill="#98a0a6"/>
<circle cx="145.6" cy="454.3" r="2.2" fill="#98a0a6"/>
<circle cx="146.7" cy="455.8" r="1.8" fill="#98a0a6"/>
<circle cx="147.3" cy="457.9" r="1.8" fill="#98a0a6"/>
<circle cx="148.5" cy="458.8" r="2" fill="#98a0a6"/>
<circle cx="150.5" cy="461" r="2.1" fill="#98a0a6"/>
<circle cx="150.8" cy="461.9" r="2.1" fill="#98a0a6"/>
<circle cx="152.3" cy="464.4" r="1.9" fill="#98a0a6"/>
<circle cx="153.3" cy="465.5" r="1.8" fill="#98a0a6"/>
<circle cx="155.3" cy="467.5" r="1.9" fill="#98a0a6"/>
<circle cx="156" cy="468.9" r="1.8" fill="#98a0a6"/>
<circle cx="157.7" cy="470.8" r="2.2" fill="#98a0a6"/>
<circle cx="158.3" cy="472.5" r="1.9" fill="#98a0a6"/>
<circle cx="159" cy="474.5" r="2.1" fill="#98a0a6"/>
<circle cx="160.6" cy="476.1" r="2.1" fill="#98a0a6"/>
<circle cx="161.7" cy="477.4" r="2.2" fill="#98a0a6"/>
<circle cx="163.1" cy="479.5" r="1.9" fill="#98a0a6"/>
<circle cx="164.2" cy="480.8" r="1.9" fill="#98a0a6"/>
<circle cx="165.3" cy="482.6" r="2" fill="#98a0a6"/>
<circle cx="167.1" cy="483.5" r="1.8" fill="#98a0a6"/>
<circle cx="167.7" cy="485.1" r="2.2" fill="#98a0a6"/>
<circle cx="168.8" cy="487.2" r="1.8" fill="#98a0a6"/>
<circle cx="170.3" cy="488.6" r="1.9" fill="#98a0a6"/>
<circle cx="170.9" cy="489.9" r="2.1" fill="#98a0a6"/>
<circle cx="172.5" cy="491.7" r="1.8" fill="#98a0a6"/>
<circle cx="173.6" cy="493.4" r="1.8" fill="#98a0a6"/>
<circle cx="175.2" cy="495.1" r="1.8" fill="#98a0a6"/>
<circle cx="176.4" cy="496.5" r="1.9" fill="#98a0a6"/>
<circle cx="177.4" cy="498.6" r="2.1" fill="#98a0a6"/>
<circle cx="96.2" cy="372.2" r="2.1" fill="#98a0a6"/>
<circle cx="98.2" cy="373.5" r="1.9" fill="#98a0a6"/>
<circle cx="99.4" cy="375.4" r="2.2" fill="#98a0a6"/>
<circle cx="100" cy="377.7" r="2" fill="#98a0a6"/>
<circle cx="101.2" cy="378.7" r="1.8" fill="#98a0a6"/>
<circle cx="103" cy="380.1" r="2.2" fill="#98a0a6"/>
<circle cx="104.1" cy="381.8" r="1.9" fill="#98a0a6"/>
<circle cx="105.3" cy="383.2" r="2.1" fill="#98a0a6"/>
<circle cx="105.9" cy="385.2" r="2" fill="#98a0a6"/>
<circle cx="107.3" cy="387.1" r="1.9" fill="#98a0a6"/>
<circle cx="109" cy="388.5" r="1.9" fill="#98a0a6"/>
<circle cx="109.9" cy="389.5" r="1.8" fill="#98a0a6"/>
<circle cx="111.7" cy="391.4" r="2.1" fill="#98a0a6"/>
<circle cx="112" cy="393.3" r="1.9" fill="#98a0a6"/>
<circle cx="113.7" cy="394.6" r="1.8" fill="#98a0a6"/>
<circle cx="114.7" cy="396.2" r="1.8" fill="#98a0a6"/>
<circle cx="116.4" cy="397.8" r="1.9" fill="#98a0a6"/>
<circle cx="117.8" cy="400" r="2.1" fill="#98a0a6"/>
<circle cx="119" cy="400.9" r="1.9" fill="#98a0a6"/>
<circle cx="119.2" cy="403.2" r="2.1" fill="#98a0a6"/>
<circle cx="120.8" cy="404.5" r="2" fill="#98a0a6"/>
<circle cx="122.4" cy="405.9" r="2.1" fill="#98a0a6"/>
<circle cx="123.2" cy="407.9" r="1.8" fill="#98a0a6"/>
<circle cx="124.2" cy="409.9" r="2.1" fill="#98a0a6"/>
<circle cx="126.1" cy="410.5" r="1.8" fill="#98a0a6"/>
<circle cx="126.7" cy="412.3" r="1.9" fill="#98a0a6"/>
<circle cx="128.1" cy="413.7" r="1.9" fill="#98a0a6"/>
<circle cx="129.7" cy="415.5" r="2.1" fill="#98a0a6"/>
<circle cx="130.8" cy="417.7" r="1.9" fill="#98a0a6"/>
<circle cx="131.9" cy="419.3" r="1.9" fill="#98a0a6"/>
<circle cx="132.6" cy="421.1" r="2.1" fill="#98a0a6"/>
<circle cx="134.1" cy="421.8" r="2.1" fill="#98a0a6"/>
<circle cx="135.7" cy="423.4" r="1.9" fill="#98a0a6"/>
<circle cx="136.3" cy="425.9" r="1.9" fill="#98a0a6"/>
<circle cx="138.5" cy="427.5" r="1.8" fill="#98a0a6"/>
<circle cx="139.5" cy="428.6" r="2.1" fill="#98a0a6"/>
<circle cx="140.9" cy="430.1" r="1.8" fill="#98a0a6"/>
<circle cx="142.2" cy="431.9" r="2.2" fill="#98a0a6"/>
<circle cx="143.1" cy="433.9" r="2.1" fill="#98a0a6"/>
<circle cx="144.3" cy="435.2" r="1.8" fill="#98a0a6"/>
<circle cx="145.6" cy="436.8" r="2" fill="#98a0a6"/>
<circle cx="147.1" cy="438" r="2.1" fill="#98a0a6"/>
<circle cx="147.2" cy="440.3" r="2.1" fill="#98a0a6"/>
<circle cx="148.7" cy="441.7" r="2.2" fill="#98a0a6"/>
<circle cx="150.4" cy="443.4" r="1.9" fill="#98a0a6"/>
<circle cx="150.9" cy="444.7" r="1.9" fill="#98a0a6"/>
<circle cx="152.3" cy="446.3" r="1.8" fill="#98a0a6"/>
<circle cx="154.1" cy="448.3" r="1.9" fill="#98a0a6"/>
<circle cx="154.7" cy="449.8" r="2" fill="#98a0a6"/>
<circle cx="156.8" cy="451.2" r="1.9" fill="#98a0a6"/>
<circle cx="157.9" cy="452.6" r="2" fill="#98a0a6"/>
<circle cx="158.5" cy="455" r="2" fill="#98a0a6"/>
<circle cx="160.2" cy="455.8" r="2.1" fill="#98a0a6"/>
<circle cx="161.3" cy="457.8" r="2.1" fill="#98a0a6"/>
<circle cx="162.7" cy="459" r="1.9" fill="#98a0a6"/>
<circle cx="163.4" cy="460.7" r="1.8" fill="#98a0a6"/>
<circle cx="164.5" cy="462.3" r="2.1" fill="#98a0a6"/>
<circle cx="165.9" cy="463.8" r="1.9" fill="#98a0a6"/>
<circle cx="167.2" cy="465.7" r="1.8" fill="#98a0a6"/>
<circle cx="167.9" cy="466.9" r="2.2" fill="#98a0a6"/>
<circle cx="169.9" cy="468.6" r="2.1" fill="#98a0a6"/>
<circle cx="171.4" cy="470.8" r="1.8" fill="#98a0a6"/>
<circle cx="172.1" cy="472.3" r="1.8" fill="#98a0a6"/>
<circle cx="173.3" cy="473.4" r="2.2" fill="#98a0a6"/>
<circle cx="174.7" cy="475.7" r="2.2" fill="#98a0a6"/>
<circle cx="175.9" cy="476.9" r="1.9" fill="#98a0a6"/>
<circle cx="176.5" cy="478.2" r="2.1" fill="#98a0a6"/>
<circle cx="178.6" cy="480.2" r="1.8" fill="#98a0a6"/>
<circle cx="179.5" cy="482.4" r="2.2" fill="#98a0a6"/>
<circle cx="180.2" cy="484" r="2.1" fill="#98a0a6"/>
<circle cx="182.1" cy="485.1" r="1.8" fill="#98a0a6"/>
<circle cx="183.4" cy="486.7" r="1.9" fill="#98a0a6"/>
<circle cx="184.3" cy="488.3" r="2.1" fill="#98a0a6"/>
<circle cx="185.1" cy="489.6" r="2" fill="#98a0a6"/>
<circle cx="186.8" cy="492.1" r="2.1" fill="#98a0a6"/>
<circle cx="187.9" cy="493.3" r="2.1" fill="#98a0a6"/>
<circle cx="65.6" cy="382.8" r="2" fill="#98a0a6"/>
<circle cx="65.6" cy="384.4" r="2" fill="#98a0a6"/>
<circle cx="66.4" cy="386.7" r="1.8" fill="#98a0a6"/>
<circle cx="67.7" cy="388.8" r="1.8" fill="#98a0a6"/>
<circle cx="68.2" cy="390" r="1.8" fill="#98a0a6"/>
<circle cx="69.9" cy="391.3" r="2.1" fill="#98a0a6"/>
<circle cx="71" cy="394" r="1.9" fill="#98a0a6"/>
<circle cx="71.2" cy="395.7" r="2" fill="#98a0a6"/>
<circle cx="72.3" cy="397.1" r="2" fill="#98a0a6"/>
<circle cx="73.5" cy="399.5" r="2.2" fill="#98a0a6"/>
<circle cx="73.8" cy="400.7" r="2" fill="#98a0a6"/>
<circle cx="75.1" cy="402.6" r="1.8" fill="#98a0a6"/>
<circle cx="75.5" cy="404.4" r="2" fill="#98a0a6"/>
<circle cx="77.5" cy="406.9" r="2.1" fill="#98a0a6"/>
<circle cx="78.4" cy="408.8" r="2" fill="#98a0a6"/>
<circle cx="79.1" cy="409.5" r="2.1" fill="#98a0a6"/>
<circle cx="79.7" cy="411.6" r="2" fill="#98a0a6"/>
<circle cx="81.1" cy="413.6" r="2" fill="#98a0a6"/>
<circle cx="81.2" cy="415.3" r="2.1" fill="#98a0a6"/>
<circle cx="81.8" cy="416.9" r="2.1" fill="#98a0a6"/>
<circle cx="83.2" cy="418.6" r="2.1" fill="#98a0a6"/>
<circle cx="84" cy="421" r="1.9" fill="#98a0a6"/>
<circle cx="85.1" cy="422.8" r="1.9" fill="#98a0a6"/>
<circle cx="85.5" cy="424.2" r="2.2" fill="#98a0a6"/>
<circle cx="86.9" cy="425.9" r="2.1" fill="#98a0a6"/>
<circle cx="87.5" cy="427.7" r="2" fill="#98a0a6"/>
<circle cx="88.4" cy="430" r="2" fill="#98a0a6"/>
<circle cx="89.3" cy="431.9" r="1.8" fill="#98a0a6"/>
<circle cx="90.5" cy="433.7" r="1.8" fill="#98a0a6"/>
<circle cx="91.3" cy="434.9" r="2" fill="#98a0a6"/>
<circle cx="92.7" cy="437.3" r="2.1" fill="#98a0a6"/>
<circle cx="93.5" cy="438.6" r="2.2" fill="#98a0a6"/>
<circle cx="94.4" cy="440.4" r="2.1" fill="#98a0a6"/>
<circle cx="94.9" cy="442.3" r="2.2" fill="#98a0a6"/>
<circle cx="96" cy="444.8" r="1.8" fill="#98a0a6"/>
<circle cx="97.2" cy="445.8" r="1.9" fill="#98a0a6"/>
<circle cx="97.6" cy="447.6" r="2" fill="#98a0a6"/>
<circle cx="98.3" cy="449.7" r="2.1" fill="#98a0a6"/>
<circle cx="99.5" cy="452.2" r="2" fill="#98a0a6"/>
<circle cx="100.9" cy="453.7" r="2.2" fill="#98a0a6"/>
<circle cx="101.8" cy="455" r="2.1" fill="#98a0a6"/>
<circle cx="102.1" cy="457.5" r="2.1" fill="#98a0a6"/>
<circle cx="103.6" cy="458.6" r="1.9" fill="#98a0a6"/>
<circle cx="104.4" cy="461.4" r="2.1" fill="#98a0a6"/>
<circle cx="104.5" cy="462.8" r="1.8" fill="#98a0a6"/>
<circle cx="106" cy="464.8" r="1.8" fill="#98a0a6"/>
<circle cx="107.3" cy="466.5" r="1.9" fill="#98a0a6"/>
<circle cx="107.4" cy="468" r="2.1" fill="#98a0a6"/>
<circle cx="108.7" cy="469.5" r="1.8" fill="#98a0a6"/>
<circle cx="109.1" cy="472.1" r="1.8" fill="#98a0a6"/>
<circle cx="110.5" cy="473.3" r="2.1" fill="#98a0a6"/>
<circle cx="111.2" cy="474.9" r="2.1" fill="#98a0a6"/>
<circle cx="112.3" cy="477.4" r="2.1" fill="#98a0a6"/>
<circle cx="113.7" cy="478.4" r="1.9" fill="#98a0a6"/>
<circle cx="113.7" cy="480.8" r="2.1" fill="#98a0a6"/>
<circle cx="115.4" cy="482.1" r="1.8" fill="#98a0a6"/>
<circle cx="116.3" cy="484.7" r="1.9" fill="#98a0a6"/>
<circle cx="116.8" cy="485.8" r="2.1" fill="#98a0a6"/>
<circle cx="117.7" cy="488.1" r="1.9" fill="#98a0a6"/>
<circle cx="58.5" cy="393.5" r="1.8" fill="#98a0a6"/>
<circle cx="58.7" cy="394.8" r="2.2" fill="#98a0a6"/>
<circle cx="59.9" cy="396.5" r="1.8" fill="#98a0a6"/>
<circle cx="60.4" cy="398.9" r="2" fill="#98a0a6"/>
<circle cx="61.3" cy="400.6" r="1.8" fill="#98a0a6"/>
<circle cx="62.4" cy="402.4" r="1.8" fill="#98a0a6"/>
<circle cx="63.1" cy="405" r="1.8" fill="#98a0a6"/>
<circle cx="63.6" cy="406.5" r="1.9" fill="#98a0a6"/>
<circle cx="64.6" cy="408.1" r="1.9" fill="#98a0a6"/>
<circle cx="65.8" cy="410" r="2.2" fill="#98a0a6"/>
<circle cx="67.1" cy="411.3" r="2" fill="#98a0a6"/>
<circle cx="67.7" cy="414.2" r="2.1" fill="#98a0a6"/>
<circle cx="68.4" cy="415.7" r="1.9" fill="#98a0a6"/>
<circle cx="68.8" cy="417.8" r="2.1" fill="#98a0a6"/>
<circle cx="70.4" cy="419.5" r="1.9" fill="#98a0a6"/>
<circle cx="71.1" cy="421.4" r="2" fill="#98a0a6"/>
<circle cx="71.7" cy="422.8" r="2" fill="#98a0a6"/>
<circle cx="72.3" cy="424.3" r="1.9" fill="#98a0a6"/>
<circle cx="73.1" cy="427.3" r="2" fill="#98a0a6"/>
<circle cx="74" cy="428.2" r="1.9" fill="#98a0a6"/>
<circle cx="74.8" cy="429.9" r="1.8" fill="#98a0a6"/>
<circle cx="76.3" cy="432.2" r="2" fill="#98a0a6"/>
<circle cx="76.7" cy="433.8" r="1.8" fill="#98a0a6"/>
<circle cx="77" cy="435.7" r="1.9" fill="#98a0a6"/>
<circle cx="78.6" cy="437.8" r="2.2" fill="#98a0a6"/>
<circle cx="79" cy="440.1" r="2" fill="#98a0a6"/>
<circle cx="79.5" cy="441.1" r="2" fill="#98a0a6"/>
<circle cx="81.5" cy="443.2" r="2.1" fill="#98a0a6"/>
<circle cx="81.6" cy="445.6" r="1.8" fill="#98a0a6"/>
<circle cx="82.5" cy="447.5" r="1.9" fill="#98a0a6"/>
<circle cx="83.1" cy="448.3" r="1.8" fill="#98a0a6"/>
<circle cx="84" cy="451" r="1.9" fill="#98a0a6"/>
<circle cx="85" cy="452.2" r="2" fill="#98a0a6"/>
<circle cx="86.4" cy="454.6" r="1.8" fill="#98a0a6"/>
<circle cx="87.1" cy="456.9" r="2" fill="#98a0a6"/>
<circle cx="87.1" cy="458.5" r="2.1" fill="#98a0a6"/>
<circle cx="88.3" cy="459.6" r="1.8" fill="#98a0a6"/>
<circle cx="89.4" cy="462.3" r="2" fill="#98a0a6"/>
<circle cx="90.7" cy="463.4" r="1.9" fill="#98a0a6"/>
<circle cx="91.3" cy="465.7" r="1.9" fill="#98a0a6"/>
<circle cx="92.1" cy="467.2" r="1.8" fill="#98a0a6"/>
<circle cx="92.6" cy="468.7" r="2" fill="#98a0a6"/>
<circle cx="93.3" cy="471.1" r="2" fill="#98a0a6"/>
<circle cx="94.1" cy="472.9" r="1.8" fill="#98a0a6"/>
<circle cx="95.7" cy="474.9" r="2.2" fill="#98a0a6"/>
<circle cx="95.5" cy="476.8" r="2.1" fill="#98a0a6"/>
<circle cx="96.7" cy="478" r="1.8" fill="#98a0a6"/>
<circle cx="97.3" cy="480.7" r="1.8" fill="#98a0a6"/>
<circle cx="99" cy="482.1" r="2" fill="#98a0a6"/>
<circle cx="99.6" cy="484.1" r="2" fill="#98a0a6"/>
<circle cx="100.4" cy="485.7" r="2.1" fill="#98a0a6"/>
<circle cx="100.9" cy="488" r="2.1" fill="#98a0a6"/>
<circle cx="102.3" cy="489.4" r="2.1" fill="#98a0a6"/>
<circle cx="103.4" cy="491.4" r="1.9" fill="#98a0a6"/>
<circle cx="103.7" cy="493.3" r="2" fill="#98a0a6"/>
<circle cx="174.5" cy="366.5" r="2.2" fill="#98a0a6"/>
<circle cx="178" cy="369" r="2.6" fill="#98a0a6"/>
<circle cx="181.9" cy="371.3" r="2.3" fill="#98a0a6"/>
<circle cx="186.7" cy="371.7" r="2.2" fill="#98a0a6"/>
<circle cx="189.9" cy="373.4" r="2.5" fill="#98a0a6"/>
<circle cx="194.7" cy="375.3" r="2.7" fill="#98a0a6"/>
<circle cx="198.5" cy="377" r="2.3" fill="#98a0a6"/>
<circle cx="203.2" cy="379.9" r="2.3" fill="#98a0a6"/>
<circle cx="206.3" cy="381.5" r="2.3" fill="#98a0a6"/>
<circle cx="211.9" cy="382.8" r="2.5" fill="#98a0a6"/>
<circle cx="215.1" cy="385" r="2.5" fill="#98a0a6"/>
<circle cx="219.2" cy="386.9" r="2.3" fill="#98a0a6"/>
<circle cx="224" cy="387.4" r="2.6" fill="#98a0a6"/>
<circle cx="227.6" cy="390.4" r="2.2" fill="#98a0a6"/>
<circle cx="232" cy="391.4" r="2.7" fill="#98a0a6"/>
<circle cx="236.7" cy="393.5" r="2.3" fill="#98a0a6"/>
<circle cx="239.8" cy="394.7" r="2.4" fill="#98a0a6"/>
<circle cx="244" cy="396.4" r="2.6" fill="#98a0a6"/>
<circle cx="248.7" cy="398.3" r="2.7" fill="#98a0a6"/>
<circle cx="252.2" cy="400.5" r="2.3" fill="#98a0a6"/>
<circle cx="257.3" cy="402.7" r="2.3" fill="#98a0a6"/>
<circle cx="261.3" cy="404.3" r="2.4" fill="#98a0a6"/>
<circle cx="265.1" cy="405.6" r="2.4" fill="#98a0a6"/>
<circle cx="170.3" cy="386.9" r="2.3" fill="#98a0a6"/>
<circle cx="175.1" cy="387.5" r="2.4" fill="#98a0a6"/>
<circle cx="179.3" cy="388.9" r="2.3" fill="#98a0a6"/>
<circle cx="184.2" cy="389.1" r="2.6" fill="#98a0a6"/>
<circle cx="188.6" cy="389.8" r="2.7" fill="#98a0a6"/>
<circle cx="193.2" cy="391" r="2.2" fill="#98a0a6"/>
<circle cx="196.3" cy="393" r="2.2" fill="#98a0a6"/>
<circle cx="202" cy="392.8" r="2.6" fill="#98a0a6"/>
<circle cx="205.2" cy="393.8" r="2.6" fill="#98a0a6"/>
<circle cx="209.6" cy="395.1" r="2.7" fill="#98a0a6"/>
<circle cx="215" cy="396.9" r="2.7" fill="#98a0a6"/>
<circle cx="218.4" cy="396.9" r="2.6" fill="#98a0a6"/>
<circle cx="223.8" cy="397.7" r="2.5" fill="#98a0a6"/>
<circle cx="227.5" cy="399.2" r="2.3" fill="#98a0a6"/>
<circle cx="231.6" cy="401.1" r="2.4" fill="#98a0a6"/>
<circle cx="237.3" cy="400.8" r="2.5" fill="#98a0a6"/>
<circle cx="240.6" cy="402.2" r="2.3" fill="#98a0a6"/>
<circle cx="245.9" cy="402.8" r="2.6" fill="#98a0a6"/>
<circle cx="250.1" cy="403.8" r="2.4" fill="#98a0a6"/>
<circle cx="254.5" cy="406" r="2.4" fill="#98a0a6"/>
<circle cx="258.5" cy="407.1" r="2.7" fill="#98a0a6"/>
<circle cx="263.3" cy="407.4" r="2.5" fill="#98a0a6"/>
<circle cx="156" cy="399.9" r="2.3" fill="#98a0a6"/>
<circle cx="160.1" cy="400.6" r="2.5" fill="#98a0a6"/>
<circle cx="165.1" cy="402.3" r="2.4" fill="#98a0a6"/>
<circle cx="169" cy="403.5" r="2.6" fill="#98a0a6"/>
<circle cx="174.2" cy="404.3" r="2.6" fill="#98a0a6"/>
<circle cx="179.4" cy="405.7" r="2.6" fill="#98a0a6"/>
<circle cx="183" cy="405.8" r="2.4" fill="#98a0a6"/>
<circle cx="188.3" cy="406.9" r="2.4" fill="#98a0a6"/>
<circle cx="191.9" cy="407.5" r="2.7" fill="#98a0a6"/>
<circle cx="195.8" cy="409.1" r="2.7" fill="#98a0a6"/>
<circle cx="200.6" cy="410.1" r="2.4" fill="#98a0a6"/>
<circle cx="205" cy="410.4" r="2.3" fill="#98a0a6"/>
<circle cx="210.4" cy="412.3" r="2.7" fill="#98a0a6"/>
<circle cx="213.7" cy="413.1" r="2.4" fill="#98a0a6"/>
<circle cx="219.1" cy="413.8" r="2.4" fill="#98a0a6"/>
<circle cx="224" cy="414" r="2.6" fill="#98a0a6"/>
<circle cx="228.3" cy="415.7" r="2.5" fill="#98a0a6"/>
<circle cx="233" cy="416.2" r="2.5" fill="#98a0a6"/>
<circle cx="237.1" cy="417.4" r="2.6" fill="#98a0a6"/>
<circle cx="241" cy="418.6" r="2.5" fill="#98a0a6"/>
<circle cx="245.9" cy="419.2" r="2.5" fill="#98a0a6"/>
<circle cx="250.2" cy="420" r="2.5" fill="#98a0a6"/>
<circle cx="254.6" cy="421.4" r="2.3" fill="#98a0a6"/>
<circle cx="153.4" cy="426.6" r="2.6" fill="#98a0a6"/>
<circle cx="157.5" cy="427.1" r="2.3" fill="#98a0a6"/>
<circle cx="161.6" cy="428.3" r="2.5" fill="#98a0a6"/>
<circle cx="166.8" cy="428.3" r="2.6" fill="#98a0a6"/>
<circle cx="171" cy="428.2" r="2.7" fill="#98a0a6"/>
<circle cx="176" cy="429.5" r="2.7" fill="#98a0a6"/>
<circle cx="181.3" cy="430.3" r="2.2" fill="#98a0a6"/>
<circle cx="185.1" cy="430.8" r="2.6" fill="#98a0a6"/>
<circle cx="189.4" cy="430.3" r="2.3" fill="#98a0a6"/>
<circle cx="194" cy="431.1" r="2.6" fill="#98a0a6"/>
<circle cx="199.3" cy="431.8" r="2.2" fill="#98a0a6"/>
<circle cx="203.7" cy="433.1" r="2.6" fill="#98a0a6"/>
<circle cx="208.5" cy="432.8" r="2.6" fill="#98a0a6"/>
<circle cx="213.6" cy="432.8" r="2.6" fill="#98a0a6"/>
<circle cx="217.6" cy="433.9" r="2.3" fill="#98a0a6"/>
<circle cx="222.3" cy="434.2" r="2.4" fill="#98a0a6"/>
<circle cx="226.4" cy="434.5" r="2.5" fill="#98a0a6"/>
<circle cx="231.8" cy="435.4" r="2.3" fill="#98a0a6"/>
<circle cx="155.8" cy="432.3" r="2.4" fill="#98a0a6"/>
<circle cx="160.2" cy="433.8" r="2.7" fill="#98a0a6"/>
<circle cx="164.1" cy="436.7" r="2.7" fill="#98a0a6"/>
<circle cx="168.4" cy="438.7" r="2.6" fill="#98a0a6"/>
<circle cx="173.2" cy="440.9" r="2.2" fill="#98a0a6"/>
<circle cx="177.1" cy="443.2" r="2.6" fill="#98a0a6"/>
<circle cx="181.1" cy="445.6" r="2.6" fill="#98a0a6"/>
<circle cx="186.1" cy="447.8" r="2.4" fill="#98a0a6"/>
<circle cx="189.9" cy="450.9" r="2.3" fill="#98a0a6"/>
<circle cx="194.7" cy="452.9" r="2.4" fill="#98a0a6"/>
<circle cx="198.4" cy="454.6" r="2.2" fill="#98a0a6"/>
<circle cx="202.7" cy="457" r="2.5" fill="#98a0a6"/>
<circle cx="206.5" cy="460.1" r="2.6" fill="#98a0a6"/>
<circle cx="210.7" cy="461.8" r="2.3" fill="#98a0a6"/>
<circle cx="188" cy="352.9" r="2.5" fill="#98a0a6"/>
<circle cx="192.8" cy="354.7" r="2.5" fill="#98a0a6"/>
<circle cx="197.3" cy="356.6" r="2.5" fill="#98a0a6"/>
<circle cx="201.1" cy="359.1" r="2.6" fill="#98a0a6"/>
<circle cx="205.8" cy="360.3" r="2.2" fill="#98a0a6"/>
<circle cx="210.1" cy="362.4" r="2.6" fill="#98a0a6"/>
<circle cx="214.6" cy="363.6" r="2.3" fill="#98a0a6"/>
<circle cx="218" cy="366.5" r="2.3" fill="#98a0a6"/>
<circle cx="222.4" cy="368.3" r="2.5" fill="#98a0a6"/>
<circle cx="226.7" cy="370" r="2.6" fill="#98a0a6"/>
<circle cx="231.7" cy="371" r="2.6" fill="#98a0a6"/>
<circle cx="236" cy="373.6" r="2.7" fill="#98a0a6"/>
<circle cx="241" cy="375.9" r="2.3" fill="#98a0a6"/>
<circle cx="244.7" cy="377.2" r="2.2" fill="#98a0a6"/>
<circle cx="250" cy="378.7" r="2.3" fill="#98a0a6"/>
<circle cx="253.4" cy="380.6" r="2.7" fill="#98a0a6"/>
<circle cx="258.1" cy="382.8" r="2.5" fill="#98a0a6"/>
<circle cx="205.5" cy="333.6" r="2.2" fill="#98a0a6"/>
<circle cx="209.6" cy="336.1" r="2.6" fill="#98a0a6"/>
<circle cx="214.9" cy="337.1" r="2.3" fill="#98a0a6"/>
<circle cx="218.1" cy="339.4" r="2.4" fill="#98a0a6"/>
<circle cx="223.2" cy="341.2" r="2.5" fill="#98a0a6"/>
<circle cx="227.5" cy="343.6" r="2.3" fill="#98a0a6"/>
<circle cx="232.8" cy="345.1" r="2.2" fill="#98a0a6"/>
<circle cx="236.3" cy="347" r="2.4" fill="#98a0a6"/>
<circle cx="241.2" cy="348.5" r="2.4" fill="#98a0a6"/>
<circle cx="246" cy="350.4" r="2.6" fill="#98a0a6"/>
<circle cx="250.4" cy="352.7" r="2.5" fill="#98a0a6"/>
<circle cx="255.1" cy="354.4" r="2.7" fill="#98a0a6"/>
<circle cx="258.2" cy="356.3" r="2.6" fill="#98a0a6"/>
<circle cx="263.3" cy="358.2" r="2.3" fill="#98a0a6"/>
<circle cx="181.4" cy="319" r="2.5" fill="#98a0a6"/>
<circle cx="185" cy="321.5" r="2.5" fill="#98a0a6"/>
<circle cx="190.5" cy="322.1" r="2.6" fill="#98a0a6"/>
<circle cx="194.9" cy="323" r="2.3" fill="#98a0a6"/>
<circle cx="199.7" cy="324" r="2.7" fill="#98a0a6"/>
<circle cx="203.4" cy="325.1" r="2.3" fill="#98a0a6"/>
<circle cx="208.8" cy="327.6" r="2.4" fill="#98a0a6"/>
<circle cx="213.2" cy="327.8" r="2.7" fill="#98a0a6"/>
<circle cx="217.9" cy="328.8" r="2.2" fill="#98a0a6"/>
<circle cx="222.5" cy="329.9" r="2.7" fill="#98a0a6"/>
<circle cx="226.5" cy="331.4" r="2.5" fill="#98a0a6"/>
<circle cx="231.1" cy="333.1" r="2.3" fill="#98a0a6"/>
<circle cx="236.6" cy="334" r="2.7" fill="#98a0a6"/>
<circle cx="240.5" cy="335.4" r="2.3" fill="#98a0a6"/>
<circle cx="197.1" cy="341.4" r="2.4" fill="#98a0a6"/>
<circle cx="200.8" cy="341.5" r="2.6" fill="#98a0a6"/>
<circle cx="205.8" cy="342.7" r="2.3" fill="#98a0a6"/>
<circle cx="211" cy="343.9" r="2.4" fill="#98a0a6"/>
<circle cx="216.1" cy="344" r="2.7" fill="#98a0a6"/>
<circle cx="220" cy="346.1" r="2.7" fill="#98a0a6"/>
<circle cx="226" cy="346.5" r="2.4" fill="#98a0a6"/>
<circle cx="229.9" cy="347.8" r="2.5" fill="#98a0a6"/>
<circle cx="235.6" cy="347.7" r="2.5" fill="#98a0a6"/>
<circle cx="240.3" cy="349.5" r="2.5" fill="#98a0a6"/>
<circle cx="243.9" cy="349.7" r="2.3" fill="#98a0a6"/>
<circle cx="249.3" cy="351.2" r="2.6" fill="#98a0a6"/>
<circle cx="193.7" cy="452.6" r="2.7" fill="#98a0a6"/>
<circle cx="196.6" cy="456.6" r="2.7" fill="#98a0a6"/>
<circle cx="201.1" cy="460.7" r="2.6" fill="#98a0a6"/>
<circle cx="205.4" cy="463.5" r="2.3" fill="#98a0a6"/>
</g>
<path d="M202.4 481.3h29M202.4 479.5v3.6M231.4 479.5v3.6" stroke="#f4eef0" stroke-width="1.2" fill="none"/>
<text x="216.9" y="477.7" font-family="Liberation Serif" font-weight="bold" font-size="12" fill="#f4eef0" text-anchor="middle">1 cm</text>
<circle cx="729" cy="398" r="120.5" fill="#2b2330"/>
<circle cx="729" cy="398" r="116" fill="#3a1418"/>
<circle cx="729" cy="398" r="112.5" fill="url(#ag1)"/>
<g clip-path="url(#dc1)" fill="#8c8791">
<path d="M626.1 447.6 L714 442.7 L828.1 431.3 L824.8 452.5 L803.6 486.7 L746.6 501.3 L681.5 501.3 L645.6 498.1 L629.3 473.6Z" fill="#5e4058" opacity="0.75"/>
<path d="M627.7 449.2 L826.5 432.9" stroke="#8a7488" stroke-width="1.5" stroke-linecap="round" stroke-linejoin="round" fill="none" opacity="0.7"/>
<path d="M629 453.8 L824.5 437.8" stroke="#8a7488" stroke-width="1.5" stroke-linecap="round" stroke-linejoin="round" fill="none" opacity="0.7"/>
<path d="M630.3 458.3 L822.5 442.7" stroke="#8a7488" stroke-width="1.5" stroke-linecap="round" stroke-linejoin="round" fill="none" opacity="0.7"/>
<path d="M631.6 462.9 L820.6 447.6" stroke="#8a7488" stroke-width="1.5" stroke-linecap="round" stroke-linejoin="round" fill="none" opacity="0.7"/>
<path d="M632.9 467.5 L818.6 452.5" stroke="#8a7488" stroke-width="1.5" stroke-linecap="round" stroke-linejoin="round" fill="none" opacity="0.7"/>
<path d="M634.2 472 L816.7 457.4" stroke="#8a7488" stroke-width="1.5" stroke-linecap="round" stroke-linejoin="round" fill="none" opacity="0.7"/>
<path d="M635.5 476.6 L814.7 462.2" stroke="#8a7488" stroke-width="1.5" stroke-linecap="round" stroke-linejoin="round" fill="none" opacity="0.7"/>
<path d="M636.8 481.1 L812.8 467.1" stroke="#8a7488" stroke-width="1.5" stroke-linecap="round" stroke-linejoin="round" fill="none" opacity="0.7"/>
<path d="M638.1 485.7 L810.8 472" stroke="#8a7488" stroke-width="1.5" stroke-linecap="round" stroke-linejoin="round" fill="none" opacity="0.7"/>
<path d="M639.4 490.3 L808.9 476.9" stroke="#8a7488" stroke-width="1.5" stroke-linecap="round" stroke-linejoin="round" fill="none" opacity="0.7"/>
<path d="M640.7 494.8 L806.9 481.8" stroke="#8a7488" stroke-width="1.5" stroke-linecap="round" stroke-linejoin="round" fill="none" opacity="0.7"/>
<path d="M632.6 346.6 L657 309.1 L671.7 302.6 L717.3 397.1 L710.8 426.4 L697.8 432.9 L668.4 442.7 L640.7 400.3Z" fill="#4e2a40" opacity="0.5"/>
<path d="M634.2 346.6 L684.7 450.8" stroke="#857088" stroke-width="2.8" stroke-linecap="round" stroke-linejoin="round" fill="none" opacity="0.8"/>
<path d="M635 367.8 L676.6 449.2" stroke="#857088" stroke-width="2.8" stroke-linecap="round" stroke-linejoin="round" fill="none" opacity="0.8"/>
<path d="M636.7 398.7 L668.4 447.6" stroke="#857088" stroke-width="2.8" stroke-linecap="round" stroke-linejoin="round" fill="none" opacity="0.8"/>
<circle cx="658.4" cy="309" r="1.6" fill="#9e98a6"/>
<circle cx="660.5" cy="310.7" r="1.8" fill="#9e98a6"/>
<circle cx="661.1" cy="312.7" r="1.7" fill="#9e98a6"/>
<circle cx="662.2" cy="315.7" r="1.8" fill="#9e98a6"/>
<circle cx="664.4" cy="317.7" r="1.5" fill="#9e98a6"/>
<circle cx="665.7" cy="319.3" r="1.7" fill="#9e98a6"/>
<circle cx="666.4" cy="322.3" r="1.6" fill="#9e98a6"/>
<circle cx="668.2" cy="324.6" r="1.6" fill="#9e98a6"/>
<circle cx="669.3" cy="327.2" r="1.6" fill="#9e98a6"/>
<circle cx="671.8" cy="329.3" r="1.7" fill="#9e98a6"/>
<circle cx="672" cy="330.1" r="1.8" fill="#9e98a6"/>
<circle cx="673.4" cy="333" r="1.7" fill="#9e98a6"/>
<circle cx="674.8" cy="335.1" r="1.6" fill="#9e98a6"/>
<circle cx="676.9" cy="337.4" r="1.6" fill="#9e98a6"/>
<circle cx="677.7" cy="339.3" r="1.6" fill="#9e98a6"/>
<circle cx="679" cy="341.2" r="1.8" fill="#9e98a6"/>
<circle cx="681" cy="344.5" r="1.5" fill="#9e98a6"/>
<circle cx="683.1" cy="346" r="1.8" fill="#9e98a6"/>
<circle cx="683.9" cy="348.5" r="1.6" fill="#9e98a6"/>
<circle cx="685.6" cy="349.8" r="1.6" fill="#9e98a6"/>
<circle cx="685.8" cy="352.4" r="1.7" fill="#9e98a6"/>
<circle cx="687.6" cy="355.4" r="1.5" fill="#9e98a6"/>
<circle cx="689.5" cy="356.4" r="1.7" fill="#9e98a6"/>
<circle cx="691.3" cy="359.4" r="1.5" fill="#9e98a6"/>
<circle cx="691.7" cy="361.4" r="1.9" fill="#9e98a6"/>
<circle cx="692.8" cy="363.6" r="1.8" fill="#9e98a6"/>
<circle cx="695.5" cy="365.3" r="1.8" fill="#9e98a6"/>
<circle cx="696.3" cy="368.5" r="1.5" fill="#9e98a6"/>
<circle cx="698.5" cy="369.8" r="1.6" fill="#9e98a6"/>
<circle cx="698.4" cy="371.7" r="1.8" fill="#9e98a6"/>
<circle cx="700.8" cy="373.7" r="1.6" fill="#9e98a6"/>
<circle cx="701.3" cy="375.9" r="1.6" fill="#9e98a6"/>
<circle cx="703.1" cy="379.4" r="1.9" fill="#9e98a6"/>
<circle cx="705.2" cy="380.8" r="1.7" fill="#9e98a6"/>
<circle cx="706.6" cy="383.7" r="1.8" fill="#9e98a6"/>
<circle cx="707.8" cy="384.6" r="1.7" fill="#9e98a6"/>
<circle cx="709.5" cy="387.8" r="1.5" fill="#9e98a6"/>
<circle cx="710.7" cy="389.2" r="1.6" fill="#9e98a6"/>
<circle cx="712.5" cy="391.9" r="1.8" fill="#9e98a6"/>
<circle cx="712.5" cy="394.4" r="1.8" fill="#9e98a6"/>
<circle cx="715.2" cy="396.4" r="1.8" fill="#9e98a6"/>
<circle cx="716.4" cy="398.3" r="1.7" fill="#9e98a6"/>
<circle cx="717.3" cy="400.3" r="1.7" fill="#9e98a6"/>
<circle cx="656.2" cy="314.6" r="1.6" fill="#9e98a6"/>
<circle cx="657.9" cy="316.2" r="1.8" fill="#9e98a6"/>
<circle cx="657.8" cy="319.1" r="1.8" fill="#9e98a6"/>
<circle cx="659.4" cy="321" r="1.6" fill="#9e98a6"/>
<circle cx="660.7" cy="322.5" r="1.6" fill="#9e98a6"/>
<circle cx="662.6" cy="325.4" r="1.8" fill="#9e98a6"/>
<circle cx="664.4" cy="326.7" r="1.8" fill="#9e98a6"/>
<circle cx="665.9" cy="329.4" r="1.8" fill="#9e98a6"/>
<circle cx="667.3" cy="331.1" r="1.5" fill="#9e98a6"/>
<circle cx="668.4" cy="333.9" r="1.6" fill="#9e98a6"/>
<circle cx="669.7" cy="336.1" r="1.8" fill="#9e98a6"/>
<circle cx="670.1" cy="337.7" r="1.5" fill="#9e98a6"/>
<circle cx="671.6" cy="340.4" r="1.7" fill="#9e98a6"/>
<circle cx="673.8" cy="341.9" r="1.6" fill="#9e98a6"/>
<circle cx="674.6" cy="343.9" r="1.8" fill="#9e98a6"/>
<circle cx="676.6" cy="345.9" r="1.5" fill="#9e98a6"/>
<circle cx="677.4" cy="348.8" r="1.7" fill="#9e98a6"/>
<circle cx="679.5" cy="351.1" r="1.5" fill="#9e98a6"/>
<circle cx="680.9" cy="352" r="1.8" fill="#9e98a6"/>
<circle cx="681.4" cy="354.5" r="1.9" fill="#9e98a6"/>
<circle cx="683.1" cy="356.6" r="1.8" fill="#9e98a6"/>
<circle cx="684.9" cy="359.9" r="1.6" fill="#9e98a6"/>
<circle cx="686.1" cy="362.1" r="1.7" fill="#9e98a6"/>
<circle cx="688.3" cy="363" r="1.8" fill="#9e98a6"/>
<circle cx="688.3" cy="365.7" r="1.5" fill="#9e98a6"/>
<circle cx="689.7" cy="368.6" r="1.7" fill="#9e98a6"/>
<circle cx="692.1" cy="369.5" r="1.6" fill="#9e98a6"/>
<circle cx="692.3" cy="372.2" r="1.8" fill="#9e98a6"/>
<circle cx="694.4" cy="374.1" r="1.8" fill="#9e98a6"/>
<circle cx="696.4" cy="376.7" r="1.5" fill="#9e98a6"/>
<circle cx="697.4" cy="378.5" r="1.9" fill="#9e98a6"/>
<circle cx="698.3" cy="381" r="1.7" fill="#9e98a6"/>
<circle cx="699.7" cy="382.9" r="1.7" fill="#9e98a6"/>
<circle cx="702" cy="385" r="1.6" fill="#9e98a6"/>
<circle cx="703.5" cy="386.4" r="1.8" fill="#9e98a6"/>
<circle cx="704.4" cy="389.4" r="1.7" fill="#9e98a6"/>
<circle cx="705.9" cy="392.2" r="1.8" fill="#9e98a6"/>
<circle cx="707.2" cy="392.9" r="1.6" fill="#9e98a6"/>
<circle cx="707.6" cy="396.6" r="1.8" fill="#9e98a6"/>
<circle cx="709" cy="398.1" r="1.7" fill="#9e98a6"/>
<circle cx="710.2" cy="399.9" r="1.8" fill="#9e98a6"/>
<circle cx="712.6" cy="401.9" r="1.8" fill="#9e98a6"/>
<circle cx="713.7" cy="404.4" r="1.6" fill="#9e98a6"/>
<circle cx="652.9" cy="318.7" r="1.9" fill="#9e98a6"/>
<circle cx="654.4" cy="321.6" r="1.7" fill="#9e98a6"/>
<circle cx="655.4" cy="324" r="1.8" fill="#9e98a6"/>
<circle cx="657.3" cy="325.1" r="1.6" fill="#9e98a6"/>
<circle cx="658.5" cy="328.2" r="1.8" fill="#9e98a6"/>
<circle cx="659.5" cy="329.2" r="1.7" fill="#9e98a6"/>
<circle cx="661.8" cy="331.4" r="1.8" fill="#9e98a6"/>
<circle cx="662" cy="333.9" r="1.5" fill="#9e98a6"/>
<circle cx="663.6" cy="336.2" r="1.9" fill="#9e98a6"/>
<circle cx="666.2" cy="338" r="1.6" fill="#9e98a6"/>
<circle cx="667.5" cy="340.2" r="1.6" fill="#9e98a6"/>
<circle cx="668.1" cy="342.3" r="1.6" fill="#9e98a6"/>
<circle cx="669.4" cy="344.9" r="1.9" fill="#9e98a6"/>
<circle cx="670.6" cy="346.8" r="1.8" fill="#9e98a6"/>
<circle cx="672.3" cy="350" r="1.7" fill="#9e98a6"/>
<circle cx="674.2" cy="351.3" r="1.6" fill="#9e98a6"/>
<circle cx="675.6" cy="353.8" r="1.7" fill="#9e98a6"/>
<circle cx="676.9" cy="356.5" r="1.6" fill="#9e98a6"/>
<circle cx="677.7" cy="358.9" r="1.7" fill="#9e98a6"/>
<circle cx="679" cy="360.6" r="1.6" fill="#9e98a6"/>
<circle cx="681.2" cy="361.8" r="1.8" fill="#9e98a6"/>
<circle cx="682.3" cy="364.5" r="1.8" fill="#9e98a6"/>
<circle cx="683.2" cy="366.5" r="1.5" fill="#9e98a6"/>
<circle cx="685" cy="369.6" r="1.7" fill="#9e98a6"/>
<circle cx="686.2" cy="371.9" r="1.5" fill="#9e98a6"/>
<circle cx="687.4" cy="373.8" r="1.9" fill="#9e98a6"/>
<circle cx="689.4" cy="376" r="1.8" fill="#9e98a6"/>
<circle cx="690.4" cy="378.6" r="1.8" fill="#9e98a6"/>
<circle cx="691.7" cy="379.9" r="1.8" fill="#9e98a6"/>
<circle cx="693.1" cy="381.7" r="1.8" fill="#9e98a6"/>
<circle cx="694.8" cy="384.5" r="1.7" fill="#9e98a6"/>
<circle cx="696.8" cy="386" r="1.6" fill="#9e98a6"/>
<circle cx="696.8" cy="388.7" r="1.7" fill="#9e98a6"/>
<circle cx="699.5" cy="391.3" r="1.7" fill="#9e98a6"/>
<circle cx="700.2" cy="393.3" r="1.6" fill="#9e98a6"/>
<circle cx="702.3" cy="395.9" r="1.8" fill="#9e98a6"/>
<circle cx="702.5" cy="397.8" r="1.8" fill="#9e98a6"/>
<circle cx="704.5" cy="400.4" r="1.8" fill="#9e98a6"/>
<circle cx="706.4" cy="402.5" r="1.7" fill="#9e98a6"/>
<circle cx="708" cy="403.5" r="1.8" fill="#9e98a6"/>
<circle cx="709.1" cy="406.5" r="1.6" fill="#9e98a6"/>
<circle cx="710.1" cy="408.5" r="1.5" fill="#9e98a6"/>
<circle cx="650" cy="324.3" r="1.6" fill="#9e98a6"/>
<circle cx="650.7" cy="325.5" r="1.5" fill="#9e98a6"/>
<circle cx="652.9" cy="328.9" r="1.8" fill="#9e98a6"/>
<circle cx="653.8" cy="330.6" r="1.5" fill="#9e98a6"/>
<circle cx="656" cy="332.1" r="1.5" fill="#9e98a6"/>
<circle cx="657" cy="334" r="1.6" fill="#9e98a6"/>
<circle cx="657.4" cy="336.7" r="1.7" fill="#9e98a6"/>
<circle cx="660.1" cy="338.1" r="1.8" fill="#9e98a6"/>
<circle cx="660.3" cy="340.6" r="1.7" fill="#9e98a6"/>
<circle cx="662" cy="343" r="1.7" fill="#9e98a6"/>
<circle cx="663.2" cy="345.9" r="1.6" fill="#9e98a6"/>
<circle cx="665.6" cy="348.1" r="1.7" fill="#9e98a6"/>
<circle cx="665.6" cy="350.2" r="1.5" fill="#9e98a6"/>
<circle cx="667.8" cy="351.8" r="1.5" fill="#9e98a6"/>
<circle cx="669.4" cy="354.5" r="1.7" fill="#9e98a6"/>
<circle cx="670.4" cy="356.3" r="1.7" fill="#9e98a6"/>
<circle cx="671.5" cy="359" r="1.9" fill="#9e98a6"/>
<circle cx="673.9" cy="361.4" r="1.6" fill="#9e98a6"/>
<circle cx="675.6" cy="362" r="1.7" fill="#9e98a6"/>
<circle cx="675.5" cy="364.8" r="1.8" fill="#9e98a6"/>
<circle cx="677.9" cy="367" r="1.6" fill="#9e98a6"/>
<circle cx="678.4" cy="369.1" r="1.6" fill="#9e98a6"/>
<circle cx="679.8" cy="371.8" r="1.7" fill="#9e98a6"/>
<circle cx="681.6" cy="373.1" r="1.8" fill="#9e98a6"/>
<circle cx="682.5" cy="375.3" r="1.7" fill="#9e98a6"/>
<circle cx="684.8" cy="378.7" r="1.8" fill="#9e98a6"/>
<circle cx="686.6" cy="380.8" r="1.8" fill="#9e98a6"/>
<circle cx="687.6" cy="381.5" r="1.6" fill="#9e98a6"/>
<circle cx="687.7" cy="385" r="1.8" fill="#9e98a6"/>
<circle cx="690.2" cy="386.2" r="1.6" fill="#9e98a6"/>
<circle cx="690.8" cy="389" r="1.9" fill="#9e98a6"/>
<circle cx="692.4" cy="390.1" r="1.6" fill="#9e98a6"/>
<circle cx="693.9" cy="393.7" r="1.8" fill="#9e98a6"/>
<circle cx="695.4" cy="394.6" r="1.5" fill="#9e98a6"/>
<circle cx="696.3" cy="397.9" r="1.7" fill="#9e98a6"/>
<circle cx="699.1" cy="400.3" r="1.8" fill="#9e98a6"/>
<circle cx="699.6" cy="402.3" r="1.5" fill="#9e98a6"/>
<circle cx="700.4" cy="404" r="1.7" fill="#9e98a6"/>
<circle cx="701.9" cy="405.6" r="1.5" fill="#9e98a6"/>
<circle cx="704.5" cy="408.6" r="1.8" fill="#9e98a6"/>
<circle cx="706" cy="410.3" r="1.8" fill="#9e98a6"/>
<circle cx="706.5" cy="412.6" r="1.6" fill="#9e98a6"/>
<circle cx="647.5" cy="329.2" r="1.5" fill="#9e98a6"/>
<circle cx="647.5" cy="330.4" r="1.7" fill="#9e98a6"/>
<circle cx="649.5" cy="332.2" r="1.8" fill="#9e98a6"/>
<circle cx="651.6" cy="335.2" r="1.5" fill="#9e98a6"/>
<circle cx="653.2" cy="337.5" r="1.5" fill="#9e98a6"/>
<circle cx="653.6" cy="339.9" r="1.8" fill="#9e98a6"/>
<circle cx="655.3" cy="342.1" r="1.6" fill="#9e98a6"/>
<circle cx="656.3" cy="344.7" r="1.6" fill="#9e98a6"/>
<circle cx="657.5" cy="346.4" r="1.5" fill="#9e98a6"/>
<circle cx="659" cy="348.4" r="1.7" fill="#9e98a6"/>
<circle cx="661.2" cy="351" r="1.7" fill="#9e98a6"/>
<circle cx="661.6" cy="353.2" r="1.5" fill="#9e98a6"/>
<circle cx="663.7" cy="354.9" r="1.7" fill="#9e98a6"/>
<circle cx="665.5" cy="356.8" r="1.7" fill="#9e98a6"/>
<circle cx="666.9" cy="359.4" r="1.5" fill="#9e98a6"/>
<circle cx="668.6" cy="361.8" r="1.5" fill="#9e98a6"/>
<circle cx="668.9" cy="364.7" r="1.6" fill="#9e98a6"/>
<circle cx="670.6" cy="366.5" r="1.8" fill="#9e98a6"/>
<circle cx="672.4" cy="368.7" r="1.5" fill="#9e98a6"/>
<circle cx="672.9" cy="371.2" r="1.8" fill="#9e98a6"/>
<circle cx="674.2" cy="371.9" r="1.6" fill="#9e98a6"/>
<circle cx="677.1" cy="374.4" r="1.7" fill="#9e98a6"/>
<circle cx="678.5" cy="377.3" r="1.8" fill="#9e98a6"/>
<circle cx="678.7" cy="378.6" r="1.5" fill="#9e98a6"/>
<circle cx="681" cy="380.8" r="1.9" fill="#9e98a6"/>
<circle cx="682.3" cy="383.1" r="1.8" fill="#9e98a6"/>
<circle cx="682.8" cy="385.9" r="1.5" fill="#9e98a6"/>
<circle cx="685.2" cy="388.7" r="1.8" fill="#9e98a6"/>
<circle cx="685.3" cy="390.8" r="1.7" fill="#9e98a6"/>
<circle cx="688.1" cy="392.4" r="1.7" fill="#9e98a6"/>
<circle cx="689.1" cy="395.1" r="1.5" fill="#9e98a6"/>
<circle cx="689.6" cy="396.9" r="1.6" fill="#9e98a6"/>
<circle cx="691.6" cy="398.2" r="1.8" fill="#9e98a6"/>
<circle cx="692.3" cy="401.8" r="1.8" fill="#9e98a6"/>
<circle cx="694.5" cy="402.8" r="1.7" fill="#9e98a6"/>
<circle cx="695.5" cy="405.5" r="1.5" fill="#9e98a6"/>
<circle cx="698.2" cy="407.9" r="1.6" fill="#9e98a6"/>
<circle cx="698.1" cy="410.4" r="1.8" fill="#9e98a6"/>
<circle cx="700.8" cy="411.6" r="1.6" fill="#9e98a6"/>
<circle cx="701.2" cy="414.9" r="1.6" fill="#9e98a6"/>
<circle cx="703" cy="416.6" r="1.7" fill="#9e98a6"/>
<circle cx="644.8" cy="334" r="1.5" fill="#9e98a6"/>
<circle cx="644.7" cy="335.1" r="1.8" fill="#9e98a6"/>
<circle cx="646.9" cy="337.9" r="1.7" fill="#9e98a6"/>
<circle cx="648" cy="340.3" r="1.7" fill="#9e98a6"/>
<circle cx="650.2" cy="342.7" r="1.8" fill="#9e98a6"/>
<circle cx="651.6" cy="345" r="1.8" fill="#9e98a6"/>
<circle cx="651.5" cy="346.9" r="1.8" fill="#9e98a6"/>
<circle cx="653.6" cy="349.4" r="1.6" fill="#9e98a6"/>
<circle cx="655.8" cy="350.9" r="1.8" fill="#9e98a6"/>
<circle cx="656" cy="352.8" r="1.6" fill="#9e98a6"/>
<circle cx="657.5" cy="354.6" r="1.7" fill="#9e98a6"/>
<circle cx="660" cy="357.8" r="1.8" fill="#9e98a6"/>
<circle cx="661.1" cy="360.3" r="1.9" fill="#9e98a6"/>
<circle cx="662.4" cy="361.5" r="1.6" fill="#9e98a6"/>
<circle cx="663.2" cy="363.2" r="1.6" fill="#9e98a6"/>
<circle cx="665.4" cy="366.9" r="1.6" fill="#9e98a6"/>
<circle cx="666.6" cy="368.9" r="1.8" fill="#9e98a6"/>
<circle cx="668" cy="370.6" r="1.5" fill="#9e98a6"/>
<circle cx="669.5" cy="372.4" r="1.7" fill="#9e98a6"/>
<circle cx="670.1" cy="375" r="1.9" fill="#9e98a6"/>
<circle cx="671.1" cy="377.2" r="1.7" fill="#9e98a6"/>
<circle cx="673.1" cy="380" r="1.6" fill="#9e98a6"/>
<circle cx="675.2" cy="381.8" r="1.9" fill="#9e98a6"/>
<circle cx="675.1" cy="383.2" r="1.6" fill="#9e98a6"/>
<circle cx="677.9" cy="385" r="1.6" fill="#9e98a6"/>
<circle cx="679" cy="388.8" r="1.6" fill="#9e98a6"/>
<circle cx="679.9" cy="390.5" r="1.8" fill="#9e98a6"/>
<circle cx="681.8" cy="392.8" r="1.6" fill="#9e98a6"/>
<circle cx="682.4" cy="393.7" r="1.8" fill="#9e98a6"/>
<circle cx="683.7" cy="396.3" r="1.9" fill="#9e98a6"/>
<circle cx="685.8" cy="399.1" r="1.7" fill="#9e98a6"/>
<circle cx="687.1" cy="401.4" r="1.6" fill="#9e98a6"/>
<circle cx="687.6" cy="402.5" r="1.5" fill="#9e98a6"/>
<circle cx="689.5" cy="404.8" r="1.5" fill="#9e98a6"/>
<circle cx="691.1" cy="408.4" r="1.8" fill="#9e98a6"/>
<circle cx="692.1" cy="410.3" r="1.6" fill="#9e98a6"/>
<circle cx="693.2" cy="411.6" r="1.6" fill="#9e98a6"/>
<circle cx="695.5" cy="414.1" r="1.8" fill="#9e98a6"/>
<circle cx="695.9" cy="417.1" r="1.6" fill="#9e98a6"/>
<circle cx="698.6" cy="417.7" r="1.8" fill="#9e98a6"/>
<circle cx="699.4" cy="420.7" r="1.6" fill="#9e98a6"/>
<circle cx="641.7" cy="338.9" r="1.7" fill="#9e98a6"/>
<circle cx="642" cy="339.8" r="1.6" fill="#9e98a6"/>
<circle cx="644.5" cy="342.2" r="1.7" fill="#9e98a6"/>
<circle cx="645.3" cy="345.2" r="1.6" fill="#9e98a6"/>
<circle cx="645.9" cy="346.4" r="1.9" fill="#9e98a6"/>
<circle cx="647.7" cy="349.5" r="1.7" fill="#9e98a6"/>
<circle cx="648.8" cy="350.6" r="1.5" fill="#9e98a6"/>
<circle cx="651.2" cy="352.9" r="1.9" fill="#9e98a6"/>
<circle cx="651.8" cy="356.1" r="1.5" fill="#9e98a6"/>
<circle cx="653.9" cy="357.4" r="1.6" fill="#9e98a6"/>
<circle cx="654.8" cy="359.4" r="1.6" fill="#9e98a6"/>
<circle cx="656.6" cy="361.8" r="1.6" fill="#9e98a6"/>
<circle cx="657.9" cy="363.9" r="1.6" fill="#9e98a6"/>
<circle cx="658.4" cy="366.3" r="1.6" fill="#9e98a6"/>
<circle cx="660.5" cy="368.6" r="1.8" fill="#9e98a6"/>
<circle cx="660.8" cy="371.1" r="1.8" fill="#9e98a6"/>
<circle cx="662.5" cy="372.2" r="1.7" fill="#9e98a6"/>
<circle cx="663.7" cy="375.1" r="1.8" fill="#9e98a6"/>
<circle cx="665" cy="376.6" r="1.7" fill="#9e98a6"/>
<circle cx="666.5" cy="379" r="1.7" fill="#9e98a6"/>
<circle cx="667.8" cy="380.9" r="1.6" fill="#9e98a6"/>
<circle cx="669.7" cy="384.5" r="1.7" fill="#9e98a6"/>
<circle cx="670.4" cy="385.4" r="1.8" fill="#9e98a6"/>
<circle cx="672.6" cy="388.7" r="1.9" fill="#9e98a6"/>
<circle cx="674.5" cy="389.6" r="1.8" fill="#9e98a6"/>
<circle cx="675.3" cy="392" r="1.6" fill="#9e98a6"/>
<circle cx="677.3" cy="394.1" r="1.5" fill="#9e98a6"/>
<circle cx="677.6" cy="397.4" r="1.7" fill="#9e98a6"/>
<circle cx="679.8" cy="398.1" r="1.7" fill="#9e98a6"/>
<circle cx="680.4" cy="400.5" r="1.7" fill="#9e98a6"/>
<circle cx="681.9" cy="402.5" r="1.9" fill="#9e98a6"/>
<circle cx="683.4" cy="404.8" r="1.5" fill="#9e98a6"/>
<circle cx="685.1" cy="407.5" r="1.5" fill="#9e98a6"/>
<circle cx="686.2" cy="410.1" r="1.7" fill="#9e98a6"/>
<circle cx="687.1" cy="411.8" r="1.7" fill="#9e98a6"/>
<circle cx="689.2" cy="413.4" r="1.8" fill="#9e98a6"/>
<circle cx="691.1" cy="416.5" r="1.8" fill="#9e98a6"/>
<circle cx="691.5" cy="419" r="1.6" fill="#9e98a6"/>
<circle cx="692.6" cy="420.6" r="1.8" fill="#9e98a6"/>
<circle cx="693.7" cy="422.1" r="1.5" fill="#9e98a6"/>
<circle cx="695.8" cy="424.8" r="1.6" fill="#9e98a6"/>
<circle cx="637.5" cy="342.8" r="1.8" fill="#9e98a6"/>
<circle cx="639.7" cy="346.3" r="1.6" fill="#9e98a6"/>
<circle cx="641.2" cy="346.9" r="1.9" fill="#9e98a6"/>
<circle cx="641.8" cy="349.9" r="1.7" fill="#9e98a6"/>
<circle cx="644.4" cy="352.1" r="1.9" fill="#9e98a6"/>
<circle cx="645.3" cy="353.8" r="1.8" fill="#9e98a6"/>
<circle cx="645.9" cy="357.3" r="1.7" fill="#9e98a6"/>
<circle cx="647.4" cy="359.4" r="1.6" fill="#9e98a6"/>
<circle cx="649.1" cy="360.6" r="1.7" fill="#9e98a6"/>
<circle cx="649.8" cy="362.8" r="1.6" fill="#9e98a6"/>
<circle cx="652.5" cy="364.4" r="1.7" fill="#9e98a6"/>
<circle cx="653" cy="367.4" r="1.7" fill="#9e98a6"/>
<circle cx="655.1" cy="369" r="1.6" fill="#9e98a6"/>
<circle cx="655.5" cy="372.6" r="1.6" fill="#9e98a6"/>
<circle cx="656.9" cy="374.1" r="1.7" fill="#9e98a6"/>
<circle cx="659.6" cy="375.5" r="1.6" fill="#9e98a6"/>
<circle cx="659.7" cy="378.5" r="1.7" fill="#9e98a6"/>
<circle cx="661.5" cy="381.3" r="1.7" fill="#9e98a6"/>
<circle cx="663.7" cy="383.6" r="1.6" fill="#9e98a6"/>
<circle cx="665.2" cy="384.8" r="1.5" fill="#9e98a6"/>
<circle cx="666.6" cy="386.5" r="1.5" fill="#9e98a6"/>
<circle cx="666.9" cy="389" r="1.9" fill="#9e98a6"/>
<circle cx="669.3" cy="391.4" r="1.7" fill="#9e98a6"/>
<circle cx="670.6" cy="394.3" r="1.7" fill="#9e98a6"/>
<circle cx="671.4" cy="395.3" r="1.6" fill="#9e98a6"/>
<circle cx="673.1" cy="398.3" r="1.8" fill="#9e98a6"/>
<circle cx="674.9" cy="401.1" r="1.6" fill="#9e98a6"/>
<circle cx="674.8" cy="403.2" r="1.7" fill="#9e98a6"/>
<circle cx="676.4" cy="405" r="1.6" fill="#9e98a6"/>
<circle cx="677.9" cy="406.7" r="1.7" fill="#9e98a6"/>
<circle cx="680" cy="408.4" r="1.8" fill="#9e98a6"/>
<circle cx="681.3" cy="411.3" r="1.7" fill="#9e98a6"/>
<circle cx="683" cy="412.7" r="1.7" fill="#9e98a6"/>
<circle cx="684.2" cy="416" r="1.7" fill="#9e98a6"/>
<circle cx="684.7" cy="418.7" r="1.8" fill="#9e98a6"/>
<circle cx="686.2" cy="420" r="1.9" fill="#9e98a6"/>
<circle cx="687.6" cy="422.1" r="1.9" fill="#9e98a6"/>
<circle cx="690.1" cy="424" r="1.8" fill="#9e98a6"/>
<circle cx="690.6" cy="426.9" r="1.8" fill="#9e98a6"/>
<circle cx="692.2" cy="428.8" r="1.6" fill="#9e98a6"/>
<circle cx="634.7" cy="347.7" r="1.6" fill="#9e98a6"/>
<circle cx="635.8" cy="349.8" r="1.6" fill="#9e98a6"/>
<circle cx="637.8" cy="351.8" r="1.7" fill="#9e98a6"/>
<circle cx="640.1" cy="354.8" r="1.6" fill="#9e98a6"/>
<circle cx="641" cy="356.8" r="1.6" fill="#9e98a6"/>
<circle cx="642" cy="358.2" r="1.7" fill="#9e98a6"/>
<circle cx="642.8" cy="361" r="1.9" fill="#9e98a6"/>
<circle cx="645.2" cy="364" r="1.7" fill="#9e98a6"/>
<circle cx="646.4" cy="365.9" r="1.9" fill="#9e98a6"/>
<circle cx="647" cy="368.2" r="1.6" fill="#9e98a6"/>
<circle cx="648.5" cy="370.5" r="1.7" fill="#9e98a6"/>
<circle cx="650.9" cy="372.7" r="1.7" fill="#9e98a6"/>
<circle cx="651.1" cy="373.4" r="1.7" fill="#9e98a6"/>
<circle cx="653.4" cy="376.1" r="1.5" fill="#9e98a6"/>
<circle cx="653.5" cy="378.1" r="1.8" fill="#9e98a6"/>
<circle cx="654.9" cy="380.3" r="1.6" fill="#9e98a6"/>
<circle cx="657.5" cy="383.8" r="1.5" fill="#9e98a6"/>
<circle cx="657.8" cy="385.9" r="1.9" fill="#9e98a6"/>
<circle cx="659.3" cy="387" r="1.7" fill="#9e98a6"/>
<circle cx="660.9" cy="389.3" r="1.7" fill="#9e98a6"/>
<circle cx="662.2" cy="390.9" r="1.5" fill="#9e98a6"/>
<circle cx="663.4" cy="393.1" r="1.7" fill="#9e98a6"/>
<circle cx="665.7" cy="395.6" r="1.8" fill="#9e98a6"/>
<circle cx="667.1" cy="397.9" r="1.7" fill="#9e98a6"/>
<circle cx="667.5" cy="401.1" r="1.7" fill="#9e98a6"/>
<circle cx="668.7" cy="401.9" r="1.8" fill="#9e98a6"/>
<circle cx="670.6" cy="405" r="1.6" fill="#9e98a6"/>
<circle cx="672.7" cy="407.4" r="1.5" fill="#9e98a6"/>
<circle cx="673.7" cy="408.5" r="1.8" fill="#9e98a6"/>
<circle cx="675.4" cy="411.7" r="1.6" fill="#9e98a6"/>
<circle cx="675.6" cy="413.6" r="1.7" fill="#9e98a6"/>
<circle cx="677.1" cy="415" r="1.7" fill="#9e98a6"/>
<circle cx="678.4" cy="417.9" r="1.6" fill="#9e98a6"/>
<circle cx="680" cy="419.8" r="1.7" fill="#9e98a6"/>
<circle cx="682.2" cy="421.3" r="1.8" fill="#9e98a6"/>
<circle cx="682.7" cy="423.9" r="1.7" fill="#9e98a6"/>
<circle cx="684.8" cy="426.6" r="1.8" fill="#9e98a6"/>
<circle cx="685.4" cy="428.3" r="1.7" fill="#9e98a6"/>
<circle cx="686.9" cy="430.2" r="1.6" fill="#9e98a6"/>
<circle cx="688.6" cy="432.9" r="1.7" fill="#9e98a6"/>
<circle cx="670.1" cy="304.2" r="2.7" fill="#9aa0a8"/>
<circle cx="670.1" cy="312.4" r="2.7" fill="#9aa0a8"/>
<circle cx="697.8" cy="318.9" r="2.8" fill="#9aa0a8"/>
<circle cx="714" cy="310.7" r="2.7" fill="#9aa0a8"/>
<circle cx="722.2" cy="314" r="2.4" fill="#9aa0a8"/>
<circle cx="730.3" cy="302.6" r="2.4" fill="#9aa0a8"/>
<circle cx="738.5" cy="299.3" r="2.7" fill="#9aa0a8"/>
<circle cx="758.8" cy="307.5" r="2.2" fill="#9aa0a8"/>
<circle cx="766.2" cy="302.6" r="2.6" fill="#9aa0a8"/>
<circle cx="772.7" cy="301" r="2.2" fill="#9aa0a8"/>
<circle cx="779.2" cy="309.1" r="2.2" fill="#9aa0a8"/>
<circle cx="785.7" cy="318.9" r="2.5" fill="#9aa0a8"/>
<circle cx="793.9" cy="315.6" r="2.2" fill="#9aa0a8"/>
<circle cx="803.6" cy="327" r="2.8" fill="#9aa0a8"/>
<circle cx="736.9" cy="317.2" r="2.8" fill="#9aa0a8"/>
<circle cx="746.6" cy="323.8" r="2.5" fill="#9aa0a8"/>
<circle cx="710.8" cy="328.7" r="2.3" fill="#9aa0a8"/>
<circle cx="718.9" cy="325.4" r="2.2" fill="#9aa0a8"/>
<circle cx="691.2" cy="338.4" r="2.5" fill="#9aa0a8"/>
<circle cx="701" cy="346.6" r="2.5" fill="#9aa0a8"/>
<circle cx="717.3" cy="338.4" r="2.4" fill="#9aa0a8"/>
<circle cx="733.6" cy="338.4" r="2.7" fill="#9aa0a8"/>
<circle cx="762.9" cy="338.4" r="2.5" fill="#9aa0a8"/>
<circle cx="769.4" cy="334.4" r="2.7" fill="#9aa0a8"/>
<circle cx="774.3" cy="333.5" r="2.2" fill="#9aa0a8"/>
<circle cx="780.8" cy="328.7" r="2.2" fill="#9aa0a8"/>
<circle cx="792.2" cy="331.9" r="2.4" fill="#9aa0a8"/>
<circle cx="797.1" cy="335.2" r="2.5" fill="#9aa0a8"/>
<circle cx="758" cy="349.8" r="2.3" fill="#9aa0a8"/>
<circle cx="764.5" cy="348.2" r="2.6" fill="#9aa0a8"/>
<circle cx="784.1" cy="354.7" r="2.3" fill="#9aa0a8"/>
<circle cx="797.1" cy="348.2" r="2.4" fill="#9aa0a8"/>
<circle cx="715.7" cy="354.7" r="2.5" fill="#9aa0a8"/>
<circle cx="694.5" cy="351.5" r="2.7" fill="#9aa0a8"/>
<circle cx="751.5" cy="369.4" r="2.7" fill="#9aa0a8"/>
<circle cx="738.5" cy="379.2" r="2.4" fill="#9aa0a8"/>
<circle cx="723.8" cy="387.3" r="2.5" fill="#9aa0a8"/>
<circle cx="732" cy="402" r="2.8" fill="#9aa0a8"/>
<circle cx="735.2" cy="415" r="2.8" fill="#9aa0a8"/>
<circle cx="741.7" cy="413.4" r="2.6" fill="#9aa0a8"/>
<circle cx="746.6" cy="424" r="2.2" fill="#9aa0a8"/>
<circle cx="761.3" cy="496.5" r="2.5" fill="#9aa0a8"/>
<path d="M617.9 374.3 L626.1 367.8 L634.2 375.9 L632.6 393.8 L624.4 398.7 L617.1 390.6Z" fill="#6a2418" opacity="0.45"/>
</g>
<path d="M765.4 481.4h29M765.4 479.59999999999997v3.6M794.4 479.59999999999997v3.6" stroke="#f4eef0" stroke-width="1.2" fill="none"/>
<text x="779.9" y="477.79999999999995" font-family="Liberation Serif" font-weight="bold" font-size="12" fill="#f4eef0" text-anchor="middle">1 cm</text>
<circle cx="1287" cy="398" r="120.5" fill="#463c46"/>
<circle cx="1287" cy="398" r="116" fill="#4a1a1c"/>
<circle cx="1287" cy="398" r="112.5" fill="url(#ag2)"/>
<g clip-path="url(#dc2)" fill="#8c8791">
<path d="M1179.8 368.8 L1195.6 365.3 L1227.2 410.9 L1276.3 456.5 L1388.6 440.7 L1386.8 477.5 L1325.4 491.6 L1258.8 493.3 L1234.2 475.8 L1207.9 449.5 L1185.1 414.4Z" fill="#7a5a76" opacity="0.8"/>
<path d="M1276.3 458.2 L1386.8 441.6" stroke="#9c8698" stroke-width="1.6" stroke-linecap="round" stroke-linejoin="round" fill="none" opacity="0.7"/>
<path d="M1276.3 461.8 L1386.8 445.1" stroke="#9c8698" stroke-width="1.6" stroke-linecap="round" stroke-linejoin="round" fill="none" opacity="0.7"/>
<path d="M1276.3 465.3 L1386.8 448.6" stroke="#9c8698" stroke-width="1.6" stroke-linecap="round" stroke-linejoin="round" fill="none" opacity="0.7"/>
<path d="M1276.3 468.8 L1386.8 452.1" stroke="#9c8698" stroke-width="1.6" stroke-linecap="round" stroke-linejoin="round" fill="none" opacity="0.7"/>
<path d="M1276.3 472.3 L1386.8 455.6" stroke="#9c8698" stroke-width="1.6" stroke-linecap="round" stroke-linejoin="round" fill="none" opacity="0.7"/>
<path d="M1276.3 475.8 L1386.8 459.1" stroke="#9c8698" stroke-width="1.6" stroke-linecap="round" stroke-linejoin="round" fill="none" opacity="0.7"/>
<path d="M1276.3 479.3 L1386.8 462.6" stroke="#9c8698" stroke-width="1.6" stroke-linecap="round" stroke-linejoin="round" fill="none" opacity="0.7"/>
<path d="M1276.3 482.8 L1386.8 466.1" stroke="#9c8698" stroke-width="1.6" stroke-linecap="round" stroke-linejoin="round" fill="none" opacity="0.7"/>
<path d="M1276.3 486.3 L1386.8 469.6" stroke="#9c8698" stroke-width="1.6" stroke-linecap="round" stroke-linejoin="round" fill="none" opacity="0.7"/>
<path d="M1276.3 489.8 L1386.8 473.2" stroke="#9c8698" stroke-width="1.6" stroke-linecap="round" stroke-linejoin="round" fill="none" opacity="0.7"/>
<path d="M1181.6 372.3 L1248.2 470.5" stroke="#9c8698" stroke-width="1.6" stroke-linecap="round" stroke-linejoin="round" fill="none" opacity="0.6"/>
<path d="M1185.1 373.7 L1251.8 472.3" stroke="#9c8698" stroke-width="1.6" stroke-linecap="round" stroke-linejoin="round" fill="none" opacity="0.6"/>
<path d="M1188.6 375.1 L1255.3 474" stroke="#9c8698" stroke-width="1.6" stroke-linecap="round" stroke-linejoin="round" fill="none" opacity="0.6"/>
<path d="M1192.1 376.5 L1258.8 475.8" stroke="#9c8698" stroke-width="1.6" stroke-linecap="round" stroke-linejoin="round" fill="none" opacity="0.6"/>
<path d="M1195.6 377.9 L1262.3 477.5" stroke="#9c8698" stroke-width="1.6" stroke-linecap="round" stroke-linejoin="round" fill="none" opacity="0.6"/>
<path d="M1199.1 379.3 L1265.8 479.3" stroke="#9c8698" stroke-width="1.6" stroke-linecap="round" stroke-linejoin="round" fill="none" opacity="0.6"/>
<path d="M1202.6 380.7 L1269.3 481.1" stroke="#9c8698" stroke-width="1.6" stroke-linecap="round" stroke-linejoin="round" fill="none" opacity="0.6"/>
<path d="M1206.1 382.1 L1272.8 482.8" stroke="#9c8698" stroke-width="1.6" stroke-linecap="round" stroke-linejoin="round" fill="none" opacity="0.6"/>
<circle cx="1223.8" cy="333.4" r="1.4" fill="#9a94a0"/>
<circle cx="1223.2" cy="336" r="1.5" fill="#9a94a0"/>
<circle cx="1221.6" cy="337.5" r="1.5" fill="#9a94a0"/>
<circle cx="1220.1" cy="339.6" r="1.7" fill="#9a94a0"/>
<circle cx="1219.4" cy="340.7" r="1.5" fill="#9a94a0"/>
<circle cx="1218" cy="343.5" r="1.4" fill="#9a94a0"/>
<circle cx="1217.2" cy="345.2" r="1.5" fill="#9a94a0"/>
<circle cx="1216" cy="346.3" r="1.5" fill="#9a94a0"/>
<circle cx="1215.4" cy="349" r="1.5" fill="#9a94a0"/>
<circle cx="1213.9" cy="350.8" r="1.6" fill="#9a94a0"/>
<circle cx="1213.1" cy="351.9" r="1.5" fill="#9a94a0"/>
<circle cx="1212.8" cy="353.8" r="1.5" fill="#9a94a0"/>
<circle cx="1211.5" cy="356.5" r="1.7" fill="#9a94a0"/>
<circle cx="1210.1" cy="358.4" r="1.6" fill="#9a94a0"/>
<circle cx="1208.9" cy="359.7" r="1.7" fill="#9a94a0"/>
<circle cx="1208.3" cy="361.2" r="1.5" fill="#9a94a0"/>
<circle cx="1207.5" cy="363.1" r="1.7" fill="#9a94a0"/>
<circle cx="1205.8" cy="365.1" r="1.5" fill="#9a94a0"/>
<circle cx="1204.9" cy="367.8" r="1.5" fill="#9a94a0"/>
<circle cx="1204.3" cy="368.9" r="1.5" fill="#9a94a0"/>
<circle cx="1203.1" cy="370.8" r="1.5" fill="#9a94a0"/>
<circle cx="1201.7" cy="373.2" r="1.7" fill="#9a94a0"/>
<circle cx="1200.9" cy="374.1" r="1.7" fill="#9a94a0"/>
<circle cx="1199.8" cy="377" r="1.7" fill="#9a94a0"/>
<circle cx="1198.5" cy="378.8" r="1.7" fill="#9a94a0"/>
<circle cx="1197.4" cy="380.1" r="1.5" fill="#9a94a0"/>
<circle cx="1196.4" cy="382" r="1.4" fill="#9a94a0"/>
<circle cx="1195.3" cy="384.5" r="1.6" fill="#9a94a0"/>
<circle cx="1194.7" cy="386.3" r="1.7" fill="#9a94a0"/>
<circle cx="1193.2" cy="388.2" r="1.7" fill="#9a94a0"/>
<circle cx="1193" cy="389.9" r="1.7" fill="#9a94a0"/>
<circle cx="1191.7" cy="391.2" r="1.6" fill="#9a94a0"/>
<circle cx="1190.4" cy="393.3" r="1.5" fill="#9a94a0"/>
<circle cx="1231.4" cy="328.9" r="1.6" fill="#9a94a0"/>
<circle cx="1229.9" cy="331.5" r="1.5" fill="#9a94a0"/>
<circle cx="1229.4" cy="333.4" r="1.7" fill="#9a94a0"/>
<circle cx="1227.6" cy="335.4" r="1.7" fill="#9a94a0"/>
<circle cx="1227.2" cy="336.9" r="1.4" fill="#9a94a0"/>
<circle cx="1226.4" cy="338.7" r="1.6" fill="#9a94a0"/>
<circle cx="1224.8" cy="340.8" r="1.7" fill="#9a94a0"/>
<circle cx="1224.4" cy="342.1" r="1.5" fill="#9a94a0"/>
<circle cx="1222.7" cy="343.8" r="1.5" fill="#9a94a0"/>
<circle cx="1221.4" cy="346.5" r="1.5" fill="#9a94a0"/>
<circle cx="1220.4" cy="347.5" r="1.7" fill="#9a94a0"/>
<circle cx="1219.6" cy="349.8" r="1.5" fill="#9a94a0"/>
<circle cx="1219.2" cy="352.2" r="1.5" fill="#9a94a0"/>
<circle cx="1218" cy="354" r="1.6" fill="#9a94a0"/>
<circle cx="1217.3" cy="355.7" r="1.5" fill="#9a94a0"/>
<circle cx="1216.3" cy="357.4" r="1.4" fill="#9a94a0"/>
<circle cx="1215" cy="359.6" r="1.6" fill="#9a94a0"/>
<circle cx="1213.8" cy="361" r="1.7" fill="#9a94a0"/>
<circle cx="1213" cy="362.6" r="1.5" fill="#9a94a0"/>
<circle cx="1211.7" cy="365.3" r="1.7" fill="#9a94a0"/>
<circle cx="1210.4" cy="367.2" r="1.4" fill="#9a94a0"/>
<circle cx="1209.9" cy="368.5" r="1.7" fill="#9a94a0"/>
<circle cx="1208.7" cy="370" r="1.6" fill="#9a94a0"/>
<circle cx="1208.1" cy="372.6" r="1.5" fill="#9a94a0"/>
<circle cx="1206.4" cy="374.4" r="1.7" fill="#9a94a0"/>
<circle cx="1205.4" cy="376.5" r="1.8" fill="#9a94a0"/>
<circle cx="1204.7" cy="377.8" r="1.7" fill="#9a94a0"/>
<circle cx="1204.2" cy="379.4" r="1.5" fill="#9a94a0"/>
<circle cx="1202.5" cy="381.9" r="1.5" fill="#9a94a0"/>
<circle cx="1201.7" cy="383.5" r="1.6" fill="#9a94a0"/>
<circle cx="1200.3" cy="385.9" r="1.8" fill="#9a94a0"/>
<circle cx="1199.7" cy="387.6" r="1.5" fill="#9a94a0"/>
<circle cx="1199.1" cy="389.2" r="1.7" fill="#9a94a0"/>
<circle cx="1198.1" cy="390.8" r="1.7" fill="#9a94a0"/>
<circle cx="1196.3" cy="392.3" r="1.6" fill="#9a94a0"/>
<circle cx="1195.6" cy="394.7" r="1.7" fill="#9a94a0"/>
<circle cx="1238.9" cy="325.4" r="1.6" fill="#9a94a0"/>
<circle cx="1237.9" cy="326.9" r="1.5" fill="#9a94a0"/>
<circle cx="1236.6" cy="329" r="1.6" fill="#9a94a0"/>
<circle cx="1235.6" cy="330.3" r="1.5" fill="#9a94a0"/>
<circle cx="1234.4" cy="332.4" r="1.6" fill="#9a94a0"/>
<circle cx="1233" cy="333.7" r="1.5" fill="#9a94a0"/>
<circle cx="1232.7" cy="336.4" r="1.5" fill="#9a94a0"/>
<circle cx="1231.2" cy="338.1" r="1.5" fill="#9a94a0"/>
<circle cx="1230.6" cy="340.4" r="1.5" fill="#9a94a0"/>
<circle cx="1229.6" cy="342" r="1.7" fill="#9a94a0"/>
<circle cx="1228.8" cy="343.9" r="1.5" fill="#9a94a0"/>
<circle cx="1227.9" cy="346" r="1.4" fill="#9a94a0"/>
<circle cx="1227.1" cy="347.3" r="1.4" fill="#9a94a0"/>
<circle cx="1225.1" cy="349.6" r="1.6" fill="#9a94a0"/>
<circle cx="1224.2" cy="351.1" r="1.6" fill="#9a94a0"/>
<circle cx="1224.2" cy="352.8" r="1.7" fill="#9a94a0"/>
<circle cx="1222.3" cy="354.6" r="1.5" fill="#9a94a0"/>
<circle cx="1221.5" cy="356.9" r="1.5" fill="#9a94a0"/>
<circle cx="1220.3" cy="358.3" r="1.4" fill="#9a94a0"/>
<circle cx="1219.3" cy="360.3" r="1.6" fill="#9a94a0"/>
<circle cx="1218.3" cy="362.4" r="1.6" fill="#9a94a0"/>
<circle cx="1218.2" cy="364.3" r="1.7" fill="#9a94a0"/>
<circle cx="1216.7" cy="365.8" r="1.6" fill="#9a94a0"/>
<circle cx="1215.3" cy="367.7" r="1.4" fill="#9a94a0"/>
<circle cx="1214.9" cy="370.4" r="1.5" fill="#9a94a0"/>
<circle cx="1213.6" cy="371.7" r="1.5" fill="#9a94a0"/>
<circle cx="1212.9" cy="373.5" r="1.5" fill="#9a94a0"/>
<circle cx="1212.2" cy="375.6" r="1.4" fill="#9a94a0"/>
<circle cx="1211.1" cy="377.7" r="1.5" fill="#9a94a0"/>
<circle cx="1209.9" cy="379.7" r="1.5" fill="#9a94a0"/>
<circle cx="1208.7" cy="380.9" r="1.6" fill="#9a94a0"/>
<circle cx="1208" cy="383.3" r="1.7" fill="#9a94a0"/>
<circle cx="1206.4" cy="384.7" r="1.7" fill="#9a94a0"/>
<circle cx="1206.1" cy="386.9" r="1.6" fill="#9a94a0"/>
<circle cx="1204.7" cy="389.1" r="1.6" fill="#9a94a0"/>
<circle cx="1203.7" cy="390.2" r="1.4" fill="#9a94a0"/>
<circle cx="1203.3" cy="392.7" r="1.4" fill="#9a94a0"/>
<circle cx="1201.7" cy="394.2" r="1.6" fill="#9a94a0"/>
<circle cx="1200.9" cy="396.1" r="1.5" fill="#9a94a0"/>
<circle cx="1246.2" cy="320.4" r="1.6" fill="#9a94a0"/>
<circle cx="1245.3" cy="322.6" r="1.6" fill="#9a94a0"/>
<circle cx="1243.7" cy="324.2" r="1.6" fill="#9a94a0"/>
<circle cx="1243.2" cy="325.9" r="1.5" fill="#9a94a0"/>
<circle cx="1241.8" cy="327.9" r="1.7" fill="#9a94a0"/>
<circle cx="1241" cy="329.7" r="1.5" fill="#9a94a0"/>
<circle cx="1240.3" cy="331.4" r="1.7" fill="#9a94a0"/>
<circle cx="1238.5" cy="333.3" r="1.4" fill="#9a94a0"/>
<circle cx="1238.4" cy="335.2" r="1.5" fill="#9a94a0"/>
<circle cx="1236.6" cy="337.2" r="1.7" fill="#9a94a0"/>
<circle cx="1236.4" cy="339.8" r="1.7" fill="#9a94a0"/>
<circle cx="1235.2" cy="341.7" r="1.4" fill="#9a94a0"/>
<circle cx="1234.7" cy="343" r="1.5" fill="#9a94a0"/>
<circle cx="1233.5" cy="345.3" r="1.5" fill="#9a94a0"/>
<circle cx="1231.8" cy="347.2" r="1.7" fill="#9a94a0"/>
<circle cx="1231.4" cy="349.2" r="1.4" fill="#9a94a0"/>
<circle cx="1229.8" cy="350.2" r="1.4" fill="#9a94a0"/>
<circle cx="1229.6" cy="352.6" r="1.4" fill="#9a94a0"/>
<circle cx="1228" cy="354" r="1.6" fill="#9a94a0"/>
<circle cx="1227.6" cy="356.7" r="1.5" fill="#9a94a0"/>
<circle cx="1227" cy="358" r="1.5" fill="#9a94a0"/>
<circle cx="1225.2" cy="359.7" r="1.8" fill="#9a94a0"/>
<circle cx="1225.1" cy="362.1" r="1.5" fill="#9a94a0"/>
<circle cx="1223.2" cy="363.3" r="1.5" fill="#9a94a0"/>
<circle cx="1222.8" cy="365.1" r="1.6" fill="#9a94a0"/>
<circle cx="1221.8" cy="367" r="1.6" fill="#9a94a0"/>
<circle cx="1221" cy="369.5" r="1.6" fill="#9a94a0"/>
<circle cx="1220.1" cy="371.4" r="1.5" fill="#9a94a0"/>
<circle cx="1218.6" cy="373.6" r="1.7" fill="#9a94a0"/>
<circle cx="1218.2" cy="375.1" r="1.5" fill="#9a94a0"/>
<circle cx="1216.4" cy="376.7" r="1.7" fill="#9a94a0"/>
<circle cx="1215.3" cy="379.1" r="1.7" fill="#9a94a0"/>
<circle cx="1214.9" cy="380.1" r="1.7" fill="#9a94a0"/>
<circle cx="1213.8" cy="382.7" r="1.6" fill="#9a94a0"/>
<circle cx="1213.2" cy="384.3" r="1.7" fill="#9a94a0"/>
<circle cx="1212.5" cy="386.8" r="1.6" fill="#9a94a0"/>
<circle cx="1210.8" cy="388" r="1.5" fill="#9a94a0"/>
<circle cx="1210.5" cy="390.4" r="1.7" fill="#9a94a0"/>
<circle cx="1209.4" cy="392.5" r="1.7" fill="#9a94a0"/>
<circle cx="1207.9" cy="394.1" r="1.5" fill="#9a94a0"/>
<circle cx="1207.2" cy="395.3" r="1.7" fill="#9a94a0"/>
<circle cx="1206.1" cy="397.5" r="1.6" fill="#9a94a0"/>
<circle cx="1252.9" cy="316.6" r="1.4" fill="#9a94a0"/>
<circle cx="1252.7" cy="318.3" r="1.5" fill="#9a94a0"/>
<circle cx="1251.6" cy="320" r="1.7" fill="#9a94a0"/>
<circle cx="1250.4" cy="321.7" r="1.7" fill="#9a94a0"/>
<circle cx="1248.9" cy="324" r="1.4" fill="#9a94a0"/>
<circle cx="1248.2" cy="325.1" r="1.7" fill="#9a94a0"/>
<circle cx="1247.4" cy="327.7" r="1.5" fill="#9a94a0"/>
<circle cx="1246.8" cy="329.5" r="1.4" fill="#9a94a0"/>
<circle cx="1245.6" cy="331.4" r="1.5" fill="#9a94a0"/>
<circle cx="1244.8" cy="332.8" r="1.5" fill="#9a94a0"/>
<circle cx="1244.1" cy="335.5" r="1.8" fill="#9a94a0"/>
<circle cx="1242.6" cy="336.9" r="1.7" fill="#9a94a0"/>
<circle cx="1242.1" cy="338.7" r="1.7" fill="#9a94a0"/>
<circle cx="1240.7" cy="341.1" r="1.6" fill="#9a94a0"/>
<circle cx="1239.4" cy="342.8" r="1.5" fill="#9a94a0"/>
<circle cx="1239.1" cy="343.9" r="1.8" fill="#9a94a0"/>
<circle cx="1238" cy="346.5" r="1.5" fill="#9a94a0"/>
<circle cx="1237.2" cy="348" r="1.5" fill="#9a94a0"/>
<circle cx="1236.4" cy="349.5" r="1.6" fill="#9a94a0"/>
<circle cx="1234.7" cy="352.3" r="1.7" fill="#9a94a0"/>
<circle cx="1233.7" cy="353.7" r="1.6" fill="#9a94a0"/>
<circle cx="1233.5" cy="355.9" r="1.5" fill="#9a94a0"/>
<circle cx="1232.8" cy="357.2" r="1.5" fill="#9a94a0"/>
<circle cx="1231.7" cy="359" r="1.5" fill="#9a94a0"/>
<circle cx="1230.4" cy="361.1" r="1.5" fill="#9a94a0"/>
<circle cx="1229.9" cy="363.2" r="1.7" fill="#9a94a0"/>
<circle cx="1228.2" cy="365.5" r="1.5" fill="#9a94a0"/>
<circle cx="1228" cy="367.1" r="1.7" fill="#9a94a0"/>
<circle cx="1226.9" cy="369" r="1.6" fill="#9a94a0"/>
<circle cx="1226" cy="370.7" r="1.4" fill="#9a94a0"/>
<circle cx="1225.2" cy="372.9" r="1.6" fill="#9a94a0"/>
<circle cx="1224" cy="374.2" r="1.6" fill="#9a94a0"/>
<circle cx="1223.2" cy="376.9" r="1.7" fill="#9a94a0"/>
<circle cx="1221.5" cy="378.5" r="1.6" fill="#9a94a0"/>
<circle cx="1220.8" cy="379.8" r="1.5" fill="#9a94a0"/>
<circle cx="1219.9" cy="382" r="1.5" fill="#9a94a0"/>
<circle cx="1218.8" cy="384" r="1.7" fill="#9a94a0"/>
<circle cx="1218.1" cy="385.4" r="1.7" fill="#9a94a0"/>
<circle cx="1216.9" cy="388.2" r="1.8" fill="#9a94a0"/>
<circle cx="1215.7" cy="389.6" r="1.7" fill="#9a94a0"/>
<circle cx="1215.1" cy="391.5" r="1.5" fill="#9a94a0"/>
<circle cx="1213.7" cy="393" r="1.5" fill="#9a94a0"/>
<circle cx="1213.1" cy="395.3" r="1.6" fill="#9a94a0"/>
<circle cx="1212.9" cy="397.3" r="1.5" fill="#9a94a0"/>
<circle cx="1211.4" cy="398.9" r="1.7" fill="#9a94a0"/>
<circle cx="1260.7" cy="311.8" r="1.7" fill="#9a94a0"/>
<circle cx="1259.8" cy="313.5" r="1.6" fill="#9a94a0"/>
<circle cx="1258.4" cy="316" r="1.5" fill="#9a94a0"/>
<circle cx="1258.3" cy="316.9" r="1.4" fill="#9a94a0"/>
<circle cx="1256.9" cy="319" r="1.6" fill="#9a94a0"/>
<circle cx="1255.4" cy="321.6" r="1.6" fill="#9a94a0"/>
<circle cx="1255.1" cy="323.5" r="1.8" fill="#9a94a0"/>
<circle cx="1254.2" cy="325.2" r="1.4" fill="#9a94a0"/>
<circle cx="1252.6" cy="326.8" r="1.7" fill="#9a94a0"/>
<circle cx="1251.9" cy="328.8" r="1.4" fill="#9a94a0"/>
<circle cx="1251.1" cy="331.1" r="1.6" fill="#9a94a0"/>
<circle cx="1250.6" cy="331.9" r="1.5" fill="#9a94a0"/>
<circle cx="1249" cy="334.7" r="1.4" fill="#9a94a0"/>
<circle cx="1248.9" cy="336" r="1.7" fill="#9a94a0"/>
<circle cx="1247.5" cy="337.9" r="1.7" fill="#9a94a0"/>
<circle cx="1246.4" cy="340.3" r="1.4" fill="#9a94a0"/>
<circle cx="1246" cy="342.5" r="1.4" fill="#9a94a0"/>
<circle cx="1244.9" cy="343.5" r="1.5" fill="#9a94a0"/>
<circle cx="1243.6" cy="345.9" r="1.7" fill="#9a94a0"/>
<circle cx="1243.3" cy="348.1" r="1.6" fill="#9a94a0"/>
<circle cx="1242" cy="349.1" r="1.7" fill="#9a94a0"/>
<circle cx="1241" cy="351.2" r="1.7" fill="#9a94a0"/>
<circle cx="1239.7" cy="352.8" r="1.5" fill="#9a94a0"/>
<circle cx="1238.7" cy="355.2" r="1.7" fill="#9a94a0"/>
<circle cx="1237.7" cy="357" r="1.6" fill="#9a94a0"/>
<circle cx="1237.3" cy="358.8" r="1.6" fill="#9a94a0"/>
<circle cx="1235.7" cy="360.3" r="1.6" fill="#9a94a0"/>
<circle cx="1235" cy="362.9" r="1.5" fill="#9a94a0"/>
<circle cx="1234.8" cy="364.2" r="1.4" fill="#9a94a0"/>
<circle cx="1233.4" cy="366.3" r="1.5" fill="#9a94a0"/>
<circle cx="1232.8" cy="368" r="1.6" fill="#9a94a0"/>
<circle cx="1232" cy="370.1" r="1.6" fill="#9a94a0"/>
<circle cx="1231.1" cy="372.2" r="1.5" fill="#9a94a0"/>
<circle cx="1229.2" cy="373.5" r="1.5" fill="#9a94a0"/>
<circle cx="1228.3" cy="376" r="1.6" fill="#9a94a0"/>
<circle cx="1227.7" cy="377.7" r="1.7" fill="#9a94a0"/>
<circle cx="1226.6" cy="379.2" r="1.5" fill="#9a94a0"/>
<circle cx="1225.8" cy="382" r="1.7" fill="#9a94a0"/>
<circle cx="1225" cy="383" r="1.4" fill="#9a94a0"/>
<circle cx="1223.7" cy="385.7" r="1.6" fill="#9a94a0"/>
<circle cx="1222.8" cy="387.3" r="1.4" fill="#9a94a0"/>
<circle cx="1222.3" cy="388.9" r="1.4" fill="#9a94a0"/>
<circle cx="1221.6" cy="391.2" r="1.6" fill="#9a94a0"/>
<circle cx="1220" cy="393" r="1.6" fill="#9a94a0"/>
<circle cx="1219.6" cy="394.2" r="1.7" fill="#9a94a0"/>
<circle cx="1218" cy="396.3" r="1.5" fill="#9a94a0"/>
<circle cx="1217.3" cy="398" r="1.6" fill="#9a94a0"/>
<circle cx="1216.7" cy="400.4" r="1.7" fill="#9a94a0"/>
<circle cx="1267.7" cy="307.1" r="1.6" fill="#9a94a0"/>
<circle cx="1266.7" cy="309.1" r="1.7" fill="#9a94a0"/>
<circle cx="1266" cy="310.8" r="1.4" fill="#9a94a0"/>
<circle cx="1265.2" cy="313.6" r="1.7" fill="#9a94a0"/>
<circle cx="1263.8" cy="314.9" r="1.6" fill="#9a94a0"/>
<circle cx="1263" cy="317" r="1.6" fill="#9a94a0"/>
<circle cx="1262.7" cy="318.5" r="1.7" fill="#9a94a0"/>
<circle cx="1261.8" cy="320.6" r="1.5" fill="#9a94a0"/>
<circle cx="1260.5" cy="322.1" r="1.6" fill="#9a94a0"/>
<circle cx="1259.8" cy="324.4" r="1.8" fill="#9a94a0"/>
<circle cx="1258.2" cy="326.5" r="1.7" fill="#9a94a0"/>
<circle cx="1257.3" cy="327.9" r="1.4" fill="#9a94a0"/>
<circle cx="1257" cy="330.3" r="1.5" fill="#9a94a0"/>
<circle cx="1256.2" cy="331.8" r="1.7" fill="#9a94a0"/>
<circle cx="1254.8" cy="334.3" r="1.6" fill="#9a94a0"/>
<circle cx="1253.5" cy="335.2" r="1.7" fill="#9a94a0"/>
<circle cx="1253.6" cy="337.7" r="1.5" fill="#9a94a0"/>
<circle cx="1252.7" cy="339.7" r="1.4" fill="#9a94a0"/>
<circle cx="1251.2" cy="341.5" r="1.4" fill="#9a94a0"/>
<circle cx="1249.9" cy="343.1" r="1.7" fill="#9a94a0"/>
<circle cx="1250.1" cy="344.9" r="1.7" fill="#9a94a0"/>
<circle cx="1248.9" cy="347.4" r="1.6" fill="#9a94a0"/>
<circle cx="1248.2" cy="349.1" r="1.7" fill="#9a94a0"/>
<circle cx="1246.8" cy="350.4" r="1.6" fill="#9a94a0"/>
<circle cx="1245.8" cy="352.5" r="1.5" fill="#9a94a0"/>
<circle cx="1244.9" cy="354.7" r="1.5" fill="#9a94a0"/>
<circle cx="1243.7" cy="356.5" r="1.6" fill="#9a94a0"/>
<circle cx="1243" cy="358.5" r="1.5" fill="#9a94a0"/>
<circle cx="1242.2" cy="360" r="1.7" fill="#9a94a0"/>
<circle cx="1241.5" cy="362.4" r="1.6" fill="#9a94a0"/>
<circle cx="1240" cy="364.5" r="1.6" fill="#9a94a0"/>
<circle cx="1239.3" cy="365.7" r="1.5" fill="#9a94a0"/>
<circle cx="1238.7" cy="368.1" r="1.6" fill="#9a94a0"/>
<circle cx="1237.8" cy="369.3" r="1.6" fill="#9a94a0"/>
<circle cx="1236.5" cy="371.3" r="1.5" fill="#9a94a0"/>
<circle cx="1236" cy="373.7" r="1.5" fill="#9a94a0"/>
<circle cx="1234.5" cy="375.6" r="1.6" fill="#9a94a0"/>
<circle cx="1234.1" cy="377.4" r="1.7" fill="#9a94a0"/>
<circle cx="1232.7" cy="378.6" r="1.5" fill="#9a94a0"/>
<circle cx="1231.5" cy="381.5" r="1.6" fill="#9a94a0"/>
<circle cx="1231.3" cy="383.4" r="1.7" fill="#9a94a0"/>
<circle cx="1229.9" cy="384.6" r="1.4" fill="#9a94a0"/>
<circle cx="1229.6" cy="386.9" r="1.6" fill="#9a94a0"/>
<circle cx="1228.2" cy="388.3" r="1.6" fill="#9a94a0"/>
<circle cx="1227.7" cy="390.9" r="1.7" fill="#9a94a0"/>
<circle cx="1226.9" cy="392.2" r="1.6" fill="#9a94a0"/>
<circle cx="1225.4" cy="394.7" r="1.5" fill="#9a94a0"/>
<circle cx="1224.3" cy="395.8" r="1.7" fill="#9a94a0"/>
<circle cx="1224.2" cy="397.8" r="1.7" fill="#9a94a0"/>
<circle cx="1223.3" cy="399.8" r="1.5" fill="#9a94a0"/>
<circle cx="1221.9" cy="401.8" r="1.6" fill="#9a94a0"/>
<circle cx="1275.1" cy="302.6" r="1.7" fill="#9a94a0"/>
<circle cx="1274.3" cy="304.8" r="1.6" fill="#9a94a0"/>
<circle cx="1273.2" cy="306.2" r="1.5" fill="#9a94a0"/>
<circle cx="1272.4" cy="308.1" r="1.5" fill="#9a94a0"/>
<circle cx="1271.9" cy="310.4" r="1.6" fill="#9a94a0"/>
<circle cx="1270.9" cy="312.1" r="1.4" fill="#9a94a0"/>
<circle cx="1270" cy="314.4" r="1.5" fill="#9a94a0"/>
<circle cx="1268.6" cy="316.6" r="1.7" fill="#9a94a0"/>
<circle cx="1267.7" cy="318.2" r="1.6" fill="#9a94a0"/>
<circle cx="1266.9" cy="319.5" r="1.5" fill="#9a94a0"/>
<circle cx="1266.4" cy="322" r="1.6" fill="#9a94a0"/>
<circle cx="1264.9" cy="323.5" r="1.5" fill="#9a94a0"/>
<circle cx="1264.3" cy="325.5" r="1.7" fill="#9a94a0"/>
<circle cx="1263" cy="328.1" r="1.5" fill="#9a94a0"/>
<circle cx="1263" cy="329.2" r="1.6" fill="#9a94a0"/>
<circle cx="1261.5" cy="330.8" r="1.7" fill="#9a94a0"/>
<circle cx="1261.1" cy="333" r="1.7" fill="#9a94a0"/>
<circle cx="1259.8" cy="335.7" r="1.4" fill="#9a94a0"/>
<circle cx="1258.8" cy="336.7" r="1.6" fill="#9a94a0"/>
<circle cx="1258.3" cy="339.3" r="1.6" fill="#9a94a0"/>
<circle cx="1257" cy="341.1" r="1.4" fill="#9a94a0"/>
<circle cx="1255.9" cy="343" r="1.6" fill="#9a94a0"/>
<circle cx="1255.9" cy="344.1" r="1.6" fill="#9a94a0"/>
<circle cx="1254.1" cy="345.9" r="1.4" fill="#9a94a0"/>
<circle cx="1253" cy="348.2" r="1.6" fill="#9a94a0"/>
<circle cx="1252.6" cy="350" r="1.7" fill="#9a94a0"/>
<circle cx="1251.7" cy="352.7" r="1.5" fill="#9a94a0"/>
<circle cx="1250.8" cy="354" r="1.5" fill="#9a94a0"/>
<circle cx="1250.3" cy="355.6" r="1.7" fill="#9a94a0"/>
<circle cx="1248.8" cy="357.6" r="1.6" fill="#9a94a0"/>
<circle cx="1248.1" cy="359.4" r="1.4" fill="#9a94a0"/>
<circle cx="1247.7" cy="361.4" r="1.4" fill="#9a94a0"/>
<circle cx="1246.4" cy="363.5" r="1.5" fill="#9a94a0"/>
<circle cx="1245.1" cy="365.7" r="1.5" fill="#9a94a0"/>
<circle cx="1244.3" cy="367.8" r="1.5" fill="#9a94a0"/>
<circle cx="1243.4" cy="368.8" r="1.6" fill="#9a94a0"/>
<circle cx="1242.8" cy="371" r="1.6" fill="#9a94a0"/>
<circle cx="1241.4" cy="373.2" r="1.6" fill="#9a94a0"/>
<circle cx="1241.2" cy="374.7" r="1.7" fill="#9a94a0"/>
<circle cx="1239.4" cy="376.4" r="1.7" fill="#9a94a0"/>
<circle cx="1239.2" cy="378.8" r="1.6" fill="#9a94a0"/>
<circle cx="1238" cy="380.1" r="1.5" fill="#9a94a0"/>
<circle cx="1237.3" cy="382.6" r="1.5" fill="#9a94a0"/>
<circle cx="1236.4" cy="383.8" r="1.6" fill="#9a94a0"/>
<circle cx="1235" cy="386.2" r="1.5" fill="#9a94a0"/>
<circle cx="1234.5" cy="387.6" r="1.6" fill="#9a94a0"/>
<circle cx="1233.7" cy="389.5" r="1.5" fill="#9a94a0"/>
<circle cx="1232.8" cy="391.9" r="1.6" fill="#9a94a0"/>
<circle cx="1232" cy="393.8" r="1.5" fill="#9a94a0"/>
<circle cx="1230.8" cy="396" r="1.6" fill="#9a94a0"/>
<circle cx="1230.2" cy="397.3" r="1.6" fill="#9a94a0"/>
<circle cx="1229.5" cy="399.7" r="1.6" fill="#9a94a0"/>
<circle cx="1227.7" cy="401.4" r="1.4" fill="#9a94a0"/>
<circle cx="1227.2" cy="403.2" r="1.7" fill="#9a94a0"/>
<circle cx="1283.2" cy="298.9" r="1.5" fill="#9a94a0"/>
<circle cx="1282.1" cy="300.1" r="1.7" fill="#9a94a0"/>
<circle cx="1280.9" cy="301.8" r="1.7" fill="#9a94a0"/>
<circle cx="1279.9" cy="304.6" r="1.7" fill="#9a94a0"/>
<circle cx="1279.1" cy="306.6" r="1.5" fill="#9a94a0"/>
<circle cx="1278.6" cy="307.9" r="1.4" fill="#9a94a0"/>
<circle cx="1277.1" cy="309.5" r="1.4" fill="#9a94a0"/>
<circle cx="1276.5" cy="311.4" r="1.5" fill="#9a94a0"/>
<circle cx="1275.2" cy="313.5" r="1.7" fill="#9a94a0"/>
<circle cx="1275" cy="316" r="1.8" fill="#9a94a0"/>
<circle cx="1273.6" cy="317.9" r="1.5" fill="#9a94a0"/>
<circle cx="1273.3" cy="319.8" r="1.7" fill="#9a94a0"/>
<circle cx="1271.6" cy="320.8" r="1.7" fill="#9a94a0"/>
<circle cx="1271" cy="323.3" r="1.7" fill="#9a94a0"/>
<circle cx="1269.7" cy="325.3" r="1.6" fill="#9a94a0"/>
<circle cx="1269.5" cy="326.9" r="1.5" fill="#9a94a0"/>
<circle cx="1268.8" cy="328.6" r="1.7" fill="#9a94a0"/>
<circle cx="1267.8" cy="330.5" r="1.7" fill="#9a94a0"/>
<circle cx="1266.4" cy="332.3" r="1.5" fill="#9a94a0"/>
<circle cx="1266.1" cy="334.4" r="1.6" fill="#9a94a0"/>
<circle cx="1264.7" cy="335.9" r="1.7" fill="#9a94a0"/>
<circle cx="1264.1" cy="338.8" r="1.5" fill="#9a94a0"/>
<circle cx="1262.6" cy="340.1" r="1.7" fill="#9a94a0"/>
<circle cx="1262.2" cy="342" r="1.6" fill="#9a94a0"/>
<circle cx="1260.7" cy="344.5" r="1.6" fill="#9a94a0"/>
<circle cx="1260.2" cy="346.2" r="1.5" fill="#9a94a0"/>
<circle cx="1259.6" cy="347.6" r="1.7" fill="#9a94a0"/>
<circle cx="1258" cy="349.4" r="1.6" fill="#9a94a0"/>
<circle cx="1257.5" cy="351.4" r="1.6" fill="#9a94a0"/>
<circle cx="1256.3" cy="353.4" r="1.4" fill="#9a94a0"/>
<circle cx="1256.1" cy="355.1" r="1.7" fill="#9a94a0"/>
<circle cx="1254.9" cy="357.4" r="1.6" fill="#9a94a0"/>
<circle cx="1253.5" cy="359.5" r="1.5" fill="#9a94a0"/>
<circle cx="1253.5" cy="361.4" r="1.6" fill="#9a94a0"/>
<circle cx="1252.5" cy="362.9" r="1.6" fill="#9a94a0"/>
<circle cx="1251.8" cy="364.5" r="1.4" fill="#9a94a0"/>
<circle cx="1250.3" cy="366.7" r="1.5" fill="#9a94a0"/>
<circle cx="1249.2" cy="369" r="1.5" fill="#9a94a0"/>
<circle cx="1248.2" cy="370.1" r="1.6" fill="#9a94a0"/>
<circle cx="1247.3" cy="372.4" r="1.6" fill="#9a94a0"/>
<circle cx="1246.7" cy="374.3" r="1.7" fill="#9a94a0"/>
<circle cx="1245.4" cy="376.7" r="1.5" fill="#9a94a0"/>
<circle cx="1244.5" cy="378.4" r="1.6" fill="#9a94a0"/>
<circle cx="1244.1" cy="379.6" r="1.7" fill="#9a94a0"/>
<circle cx="1243" cy="382.1" r="1.5" fill="#9a94a0"/>
<circle cx="1242.4" cy="383.9" r="1.5" fill="#9a94a0"/>
<circle cx="1241.4" cy="385.2" r="1.6" fill="#9a94a0"/>
<circle cx="1240.7" cy="387.1" r="1.6" fill="#9a94a0"/>
<circle cx="1239.9" cy="389" r="1.7" fill="#9a94a0"/>
<circle cx="1239.1" cy="390.8" r="1.5" fill="#9a94a0"/>
<circle cx="1237.4" cy="392.9" r="1.4" fill="#9a94a0"/>
<circle cx="1236.9" cy="394.8" r="1.5" fill="#9a94a0"/>
<circle cx="1236" cy="396.8" r="1.7" fill="#9a94a0"/>
<circle cx="1235.4" cy="398.5" r="1.5" fill="#9a94a0"/>
<circle cx="1233.7" cy="400.6" r="1.4" fill="#9a94a0"/>
<circle cx="1233.6" cy="403" r="1.8" fill="#9a94a0"/>
<circle cx="1232.5" cy="404.6" r="1.5" fill="#9a94a0"/>
<circle cx="1289.5" cy="301" r="1.6" fill="#9a94a0"/>
<circle cx="1289.5" cy="302.5" r="1.5" fill="#9a94a0"/>
<circle cx="1287.7" cy="305" r="1.6" fill="#9a94a0"/>
<circle cx="1287.1" cy="306.3" r="1.7" fill="#9a94a0"/>
<circle cx="1286.6" cy="308.2" r="1.5" fill="#9a94a0"/>
<circle cx="1285.2" cy="310.5" r="1.6" fill="#9a94a0"/>
<circle cx="1284.6" cy="312" r="1.6" fill="#9a94a0"/>
<circle cx="1283.5" cy="313.6" r="1.6" fill="#9a94a0"/>
<circle cx="1282.9" cy="315.3" r="1.5" fill="#9a94a0"/>
<circle cx="1282" cy="318.2" r="1.4" fill="#9a94a0"/>
<circle cx="1280.8" cy="319.6" r="1.7" fill="#9a94a0"/>
<circle cx="1279.7" cy="321" r="1.5" fill="#9a94a0"/>
<circle cx="1279" cy="323.5" r="1.5" fill="#9a94a0"/>
<circle cx="1278" cy="325.3" r="1.6" fill="#9a94a0"/>
<circle cx="1276.4" cy="327" r="1.5" fill="#9a94a0"/>
<circle cx="1276.1" cy="328.7" r="1.5" fill="#9a94a0"/>
<circle cx="1275.3" cy="330.5" r="1.7" fill="#9a94a0"/>
<circle cx="1273.9" cy="332.7" r="1.7" fill="#9a94a0"/>
<circle cx="1272.8" cy="334.8" r="1.4" fill="#9a94a0"/>
<circle cx="1272.8" cy="335.9" r="1.7" fill="#9a94a0"/>
<circle cx="1271.2" cy="337.9" r="1.5" fill="#9a94a0"/>
<circle cx="1270.4" cy="340.1" r="1.5" fill="#9a94a0"/>
<circle cx="1269.5" cy="341.8" r="1.7" fill="#9a94a0"/>
<circle cx="1268.4" cy="343.9" r="1.5" fill="#9a94a0"/>
<circle cx="1268.1" cy="345.6" r="1.6" fill="#9a94a0"/>
<circle cx="1267" cy="347.6" r="1.7" fill="#9a94a0"/>
<circle cx="1265.5" cy="349.1" r="1.4" fill="#9a94a0"/>
<circle cx="1264.7" cy="351.9" r="1.5" fill="#9a94a0"/>
<circle cx="1263.8" cy="353.6" r="1.5" fill="#9a94a0"/>
<circle cx="1262.5" cy="355.2" r="1.6" fill="#9a94a0"/>
<circle cx="1262.5" cy="357.5" r="1.5" fill="#9a94a0"/>
<circle cx="1261.1" cy="358.9" r="1.4" fill="#9a94a0"/>
<circle cx="1260.1" cy="361.3" r="1.5" fill="#9a94a0"/>
<circle cx="1259.3" cy="363" r="1.4" fill="#9a94a0"/>
<circle cx="1258.7" cy="364.2" r="1.5" fill="#9a94a0"/>
<circle cx="1257.6" cy="366" r="1.5" fill="#9a94a0"/>
<circle cx="1256" cy="368.3" r="1.4" fill="#9a94a0"/>
<circle cx="1255.1" cy="369.9" r="1.4" fill="#9a94a0"/>
<circle cx="1254.1" cy="371.8" r="1.6" fill="#9a94a0"/>
<circle cx="1253.2" cy="374.4" r="1.6" fill="#9a94a0"/>
<circle cx="1252.4" cy="375.6" r="1.7" fill="#9a94a0"/>
<circle cx="1251.2" cy="378" r="1.4" fill="#9a94a0"/>
<circle cx="1251.3" cy="379.5" r="1.6" fill="#9a94a0"/>
<circle cx="1250.3" cy="381.1" r="1.4" fill="#9a94a0"/>
<circle cx="1249.1" cy="383.5" r="1.7" fill="#9a94a0"/>
<circle cx="1247.7" cy="385.3" r="1.5" fill="#9a94a0"/>
<circle cx="1247" cy="386.9" r="1.6" fill="#9a94a0"/>
<circle cx="1245.9" cy="388.8" r="1.6" fill="#9a94a0"/>
<circle cx="1244.7" cy="391.3" r="1.6" fill="#9a94a0"/>
<circle cx="1244" cy="392.4" r="1.6" fill="#9a94a0"/>
<circle cx="1243.3" cy="394.9" r="1.5" fill="#9a94a0"/>
<circle cx="1242.3" cy="397" r="1.5" fill="#9a94a0"/>
<circle cx="1242" cy="398.9" r="1.8" fill="#9a94a0"/>
<circle cx="1241" cy="400.1" r="1.7" fill="#9a94a0"/>
<circle cx="1239.7" cy="401.9" r="1.8" fill="#9a94a0"/>
<circle cx="1238.8" cy="404.4" r="1.6" fill="#9a94a0"/>
<circle cx="1237.7" cy="406" r="1.5" fill="#9a94a0"/>
<circle cx="1297.8" cy="302.4" r="1.5" fill="#9a94a0"/>
<circle cx="1296.5" cy="304.3" r="1.6" fill="#9a94a0"/>
<circle cx="1295.7" cy="306.1" r="1.6" fill="#9a94a0"/>
<circle cx="1294" cy="308.4" r="1.6" fill="#9a94a0"/>
<circle cx="1293.7" cy="309.8" r="1.5" fill="#9a94a0"/>
<circle cx="1293" cy="312" r="1.6" fill="#9a94a0"/>
<circle cx="1291.4" cy="314.2" r="1.7" fill="#9a94a0"/>
<circle cx="1290.7" cy="315.8" r="1.6" fill="#9a94a0"/>
<circle cx="1289.6" cy="317.4" r="1.7" fill="#9a94a0"/>
<circle cx="1289.1" cy="319.9" r="1.8" fill="#9a94a0"/>
<circle cx="1287.6" cy="321.9" r="1.5" fill="#9a94a0"/>
<circle cx="1287" cy="323.6" r="1.7" fill="#9a94a0"/>
<circle cx="1286.1" cy="325.6" r="1.5" fill="#9a94a0"/>
<circle cx="1285.1" cy="327.1" r="1.5" fill="#9a94a0"/>
<circle cx="1283.6" cy="329.3" r="1.7" fill="#9a94a0"/>
<circle cx="1283.2" cy="331" r="1.5" fill="#9a94a0"/>
<circle cx="1281.4" cy="332.8" r="1.5" fill="#9a94a0"/>
<circle cx="1280.7" cy="334.1" r="1.5" fill="#9a94a0"/>
<circle cx="1280.1" cy="336.1" r="1.7" fill="#9a94a0"/>
<circle cx="1278.7" cy="338.7" r="1.5" fill="#9a94a0"/>
<circle cx="1277.7" cy="340" r="1.4" fill="#9a94a0"/>
<circle cx="1276.9" cy="341.9" r="1.4" fill="#9a94a0"/>
<circle cx="1276.4" cy="343.7" r="1.4" fill="#9a94a0"/>
<circle cx="1275.5" cy="345.4" r="1.5" fill="#9a94a0"/>
<circle cx="1273.5" cy="347.2" r="1.7" fill="#9a94a0"/>
<circle cx="1273.2" cy="349.5" r="1.5" fill="#9a94a0"/>
<circle cx="1271.9" cy="351.9" r="1.5" fill="#9a94a0"/>
<circle cx="1271.7" cy="353.7" r="1.5" fill="#9a94a0"/>
<circle cx="1270.6" cy="354.6" r="1.7" fill="#9a94a0"/>
<circle cx="1269.6" cy="357.2" r="1.6" fill="#9a94a0"/>
<circle cx="1268.6" cy="358.4" r="1.6" fill="#9a94a0"/>
<circle cx="1267" cy="360.6" r="1.5" fill="#9a94a0"/>
<circle cx="1266.5" cy="362.6" r="1.7" fill="#9a94a0"/>
<circle cx="1265.5" cy="364.5" r="1.7" fill="#9a94a0"/>
<circle cx="1264.7" cy="366.4" r="1.5" fill="#9a94a0"/>
<circle cx="1263.9" cy="368" r="1.4" fill="#9a94a0"/>
<circle cx="1262.2" cy="370.3" r="1.7" fill="#9a94a0"/>
<circle cx="1261.6" cy="372.1" r="1.7" fill="#9a94a0"/>
<circle cx="1260.8" cy="373.7" r="1.6" fill="#9a94a0"/>
<circle cx="1259.8" cy="375.4" r="1.4" fill="#9a94a0"/>
<circle cx="1258.7" cy="377.8" r="1.5" fill="#9a94a0"/>
<circle cx="1257.8" cy="379.8" r="1.5" fill="#9a94a0"/>
<circle cx="1256.2" cy="381.2" r="1.5" fill="#9a94a0"/>
<circle cx="1256.1" cy="383.7" r="1.6" fill="#9a94a0"/>
<circle cx="1255" cy="385.1" r="1.5" fill="#9a94a0"/>
<circle cx="1254.2" cy="386.5" r="1.4" fill="#9a94a0"/>
<circle cx="1252.6" cy="388.2" r="1.6" fill="#9a94a0"/>
<circle cx="1251.6" cy="391.1" r="1.6" fill="#9a94a0"/>
<circle cx="1251.1" cy="392.7" r="1.6" fill="#9a94a0"/>
<circle cx="1249.5" cy="394.1" r="1.6" fill="#9a94a0"/>
<circle cx="1248.7" cy="396.3" r="1.6" fill="#9a94a0"/>
<circle cx="1247.6" cy="398.2" r="1.8" fill="#9a94a0"/>
<circle cx="1246.5" cy="399.7" r="1.4" fill="#9a94a0"/>
<circle cx="1245.4" cy="401.3" r="1.6" fill="#9a94a0"/>
<circle cx="1245.3" cy="403.9" r="1.7" fill="#9a94a0"/>
<circle cx="1244.3" cy="405.6" r="1.6" fill="#9a94a0"/>
<circle cx="1243" cy="407.4" r="1.4" fill="#9a94a0"/>
<circle cx="1304.6" cy="304.6" r="1.6" fill="#9a94a0"/>
<circle cx="1303.2" cy="306.8" r="1.5" fill="#9a94a0"/>
<circle cx="1302.7" cy="308.5" r="1.4" fill="#9a94a0"/>
<circle cx="1302" cy="310.8" r="1.6" fill="#9a94a0"/>
<circle cx="1300.3" cy="312.4" r="1.7" fill="#9a94a0"/>
<circle cx="1300.2" cy="314.5" r="1.4" fill="#9a94a0"/>
<circle cx="1299.1" cy="316.2" r="1.5" fill="#9a94a0"/>
<circle cx="1298.1" cy="318.3" r="1.7" fill="#9a94a0"/>
<circle cx="1296.4" cy="319.8" r="1.5" fill="#9a94a0"/>
<circle cx="1295.4" cy="321.9" r="1.6" fill="#9a94a0"/>
<circle cx="1294.5" cy="323.5" r="1.7" fill="#9a94a0"/>
<circle cx="1293.7" cy="325.8" r="1.6" fill="#9a94a0"/>
<circle cx="1293.2" cy="326.6" r="1.6" fill="#9a94a0"/>
<circle cx="1291.7" cy="329.3" r="1.7" fill="#9a94a0"/>
<circle cx="1290.8" cy="330.9" r="1.6" fill="#9a94a0"/>
<circle cx="1289.6" cy="333" r="1.7" fill="#9a94a0"/>
<circle cx="1288.1" cy="334.4" r="1.7" fill="#9a94a0"/>
<circle cx="1287.1" cy="336.8" r="1.4" fill="#9a94a0"/>
<circle cx="1286.7" cy="338.6" r="1.5" fill="#9a94a0"/>
<circle cx="1285.4" cy="339.8" r="1.7" fill="#9a94a0"/>
<circle cx="1284.6" cy="342.1" r="1.5" fill="#9a94a0"/>
<circle cx="1283.6" cy="344.4" r="1.7" fill="#9a94a0"/>
<circle cx="1283" cy="345.4" r="1.6" fill="#9a94a0"/>
<circle cx="1281.4" cy="347.4" r="1.7" fill="#9a94a0"/>
<circle cx="1280.2" cy="349.5" r="1.7" fill="#9a94a0"/>
<circle cx="1280" cy="350.7" r="1.5" fill="#9a94a0"/>
<circle cx="1278.5" cy="353.6" r="1.5" fill="#9a94a0"/>
<circle cx="1277.9" cy="354.9" r="1.6" fill="#9a94a0"/>
<circle cx="1277" cy="356.4" r="1.5" fill="#9a94a0"/>
<circle cx="1275.1" cy="358.3" r="1.5" fill="#9a94a0"/>
<circle cx="1274.7" cy="360.6" r="1.5" fill="#9a94a0"/>
<circle cx="1273.8" cy="362.4" r="1.5" fill="#9a94a0"/>
<circle cx="1272.8" cy="364.6" r="1.5" fill="#9a94a0"/>
<circle cx="1271.9" cy="366.5" r="1.5" fill="#9a94a0"/>
<circle cx="1269.9" cy="368.4" r="1.7" fill="#9a94a0"/>
<circle cx="1269" cy="370.1" r="1.7" fill="#9a94a0"/>
<circle cx="1268.6" cy="372.1" r="1.8" fill="#9a94a0"/>
<circle cx="1267.2" cy="373.9" r="1.7" fill="#9a94a0"/>
<circle cx="1266.2" cy="375.6" r="1.6" fill="#9a94a0"/>
<circle cx="1265.8" cy="377.3" r="1.5" fill="#9a94a0"/>
<circle cx="1264.1" cy="379.1" r="1.5" fill="#9a94a0"/>
<circle cx="1263.8" cy="381.4" r="1.5" fill="#9a94a0"/>
<circle cx="1262.6" cy="383" r="1.5" fill="#9a94a0"/>
<circle cx="1261.7" cy="385" r="1.5" fill="#9a94a0"/>
<circle cx="1259.9" cy="386.3" r="1.7" fill="#9a94a0"/>
<circle cx="1259.3" cy="388.7" r="1.5" fill="#9a94a0"/>
<circle cx="1257.9" cy="390.1" r="1.7" fill="#9a94a0"/>
<circle cx="1256.9" cy="391.6" r="1.7" fill="#9a94a0"/>
<circle cx="1255.9" cy="394.1" r="1.4" fill="#9a94a0"/>
<circle cx="1255" cy="396" r="1.7" fill="#9a94a0"/>
<circle cx="1254.2" cy="397.6" r="1.4" fill="#9a94a0"/>
<circle cx="1253.1" cy="399.2" r="1.7" fill="#9a94a0"/>
<circle cx="1252.5" cy="401.7" r="1.6" fill="#9a94a0"/>
<circle cx="1251.5" cy="402.8" r="1.5" fill="#9a94a0"/>
<circle cx="1250" cy="404.8" r="1.7" fill="#9a94a0"/>
<circle cx="1248.9" cy="406.7" r="1.5" fill="#9a94a0"/>
<circle cx="1248.2" cy="408.8" r="1.6" fill="#9a94a0"/>
<circle cx="1312.3" cy="307" r="1.5" fill="#9a94a0"/>
<circle cx="1311.5" cy="309.3" r="1.6" fill="#9a94a0"/>
<circle cx="1310.1" cy="311" r="1.5" fill="#9a94a0"/>
<circle cx="1308.8" cy="312" r="1.6" fill="#9a94a0"/>
<circle cx="1308.3" cy="313.9" r="1.6" fill="#9a94a0"/>
<circle cx="1307.5" cy="316" r="1.5" fill="#9a94a0"/>
<circle cx="1306.3" cy="318.3" r="1.5" fill="#9a94a0"/>
<circle cx="1304.5" cy="319.8" r="1.7" fill="#9a94a0"/>
<circle cx="1304.4" cy="321.7" r="1.5" fill="#9a94a0"/>
<circle cx="1302.9" cy="323.1" r="1.6" fill="#9a94a0"/>
<circle cx="1301.8" cy="325.6" r="1.7" fill="#9a94a0"/>
<circle cx="1301.3" cy="326.9" r="1.7" fill="#9a94a0"/>
<circle cx="1299.4" cy="329.2" r="1.6" fill="#9a94a0"/>
<circle cx="1299.2" cy="330.4" r="1.8" fill="#9a94a0"/>
<circle cx="1297.2" cy="332.7" r="1.7" fill="#9a94a0"/>
<circle cx="1296.5" cy="334.5" r="1.5" fill="#9a94a0"/>
<circle cx="1295.9" cy="335.9" r="1.6" fill="#9a94a0"/>
<circle cx="1294.3" cy="338.1" r="1.7" fill="#9a94a0"/>
<circle cx="1293.1" cy="340.1" r="1.5" fill="#9a94a0"/>
<circle cx="1292.4" cy="341.3" r="1.6" fill="#9a94a0"/>
<circle cx="1292" cy="343.7" r="1.6" fill="#9a94a0"/>
<circle cx="1290.4" cy="344.6" r="1.4" fill="#9a94a0"/>
<circle cx="1289.5" cy="346.9" r="1.6" fill="#9a94a0"/>
<circle cx="1289" cy="348.5" r="1.5" fill="#9a94a0"/>
<circle cx="1287.3" cy="350.1" r="1.7" fill="#9a94a0"/>
<circle cx="1286.5" cy="352.3" r="1.6" fill="#9a94a0"/>
<circle cx="1285.1" cy="353.9" r="1.6" fill="#9a94a0"/>
<circle cx="1284.3" cy="356.4" r="1.6" fill="#9a94a0"/>
<circle cx="1283" cy="357.2" r="1.5" fill="#9a94a0"/>
<circle cx="1282.1" cy="359.8" r="1.7" fill="#9a94a0"/>
<circle cx="1281" cy="361.6" r="1.6" fill="#9a94a0"/>
<circle cx="1280.3" cy="363.2" r="1.4" fill="#9a94a0"/>
<circle cx="1278.7" cy="365.1" r="1.7" fill="#9a94a0"/>
<circle cx="1278" cy="367.2" r="1.7" fill="#9a94a0"/>
<circle cx="1276.9" cy="368.1" r="1.6" fill="#9a94a0"/>
<circle cx="1276.3" cy="370.1" r="1.4" fill="#9a94a0"/>
<circle cx="1275.1" cy="371.6" r="1.7" fill="#9a94a0"/>
<circle cx="1274.2" cy="373.7" r="1.6" fill="#9a94a0"/>
<circle cx="1272.7" cy="375.4" r="1.5" fill="#9a94a0"/>
<circle cx="1272.4" cy="377.5" r="1.7" fill="#9a94a0"/>
<circle cx="1270.8" cy="379.8" r="1.6" fill="#9a94a0"/>
<circle cx="1270.1" cy="381.1" r="1.6" fill="#9a94a0"/>
<circle cx="1268.6" cy="383.6" r="1.6" fill="#9a94a0"/>
<circle cx="1267.9" cy="385" r="1.4" fill="#9a94a0"/>
<circle cx="1266.7" cy="386.3" r="1.7" fill="#9a94a0"/>
<circle cx="1265.3" cy="388.4" r="1.7" fill="#9a94a0"/>
<circle cx="1265.1" cy="390.5" r="1.5" fill="#9a94a0"/>
<circle cx="1263.5" cy="392.3" r="1.5" fill="#9a94a0"/>
<circle cx="1263" cy="393.7" r="1.7" fill="#9a94a0"/>
<circle cx="1261.8" cy="396.1" r="1.8" fill="#9a94a0"/>
<circle cx="1260.6" cy="398.1" r="1.4" fill="#9a94a0"/>
<circle cx="1260.1" cy="398.8" r="1.6" fill="#9a94a0"/>
<circle cx="1258.5" cy="401.4" r="1.5" fill="#9a94a0"/>
<circle cx="1257.3" cy="403.3" r="1.6" fill="#9a94a0"/>
<circle cx="1256.9" cy="404.7" r="1.4" fill="#9a94a0"/>
<circle cx="1255.9" cy="406.2" r="1.6" fill="#9a94a0"/>
<circle cx="1254" cy="408.1" r="1.6" fill="#9a94a0"/>
<circle cx="1253.5" cy="410.2" r="1.6" fill="#9a94a0"/>
<circle cx="1319.6" cy="309.1" r="1.7" fill="#9a94a0"/>
<circle cx="1318.6" cy="310.6" r="1.6" fill="#9a94a0"/>
<circle cx="1317.5" cy="313" r="1.5" fill="#9a94a0"/>
<circle cx="1316.1" cy="314.3" r="1.4" fill="#9a94a0"/>
<circle cx="1315" cy="316.6" r="1.6" fill="#9a94a0"/>
<circle cx="1313.8" cy="318.4" r="1.4" fill="#9a94a0"/>
<circle cx="1313.4" cy="319.5" r="1.4" fill="#9a94a0"/>
<circle cx="1311.7" cy="321.7" r="1.5" fill="#9a94a0"/>
<circle cx="1311.4" cy="324" r="1.5" fill="#9a94a0"/>
<circle cx="1310.2" cy="325.5" r="1.6" fill="#9a94a0"/>
<circle cx="1308.5" cy="327.6" r="1.7" fill="#9a94a0"/>
<circle cx="1307.2" cy="328.7" r="1.5" fill="#9a94a0"/>
<circle cx="1306.4" cy="330.6" r="1.7" fill="#9a94a0"/>
<circle cx="1305.1" cy="332.9" r="1.5" fill="#9a94a0"/>
<circle cx="1304" cy="334.7" r="1.5" fill="#9a94a0"/>
<circle cx="1303.2" cy="335.7" r="1.5" fill="#9a94a0"/>
<circle cx="1302" cy="337.5" r="1.5" fill="#9a94a0"/>
<circle cx="1301.5" cy="339.6" r="1.5" fill="#9a94a0"/>
<circle cx="1300.3" cy="341.8" r="1.7" fill="#9a94a0"/>
<circle cx="1299.1" cy="343.7" r="1.7" fill="#9a94a0"/>
<circle cx="1298.2" cy="345" r="1.5" fill="#9a94a0"/>
<circle cx="1296.7" cy="347.3" r="1.6" fill="#9a94a0"/>
<circle cx="1295.6" cy="349.1" r="1.7" fill="#9a94a0"/>
<circle cx="1294.5" cy="350.7" r="1.5" fill="#9a94a0"/>
<circle cx="1294" cy="352.6" r="1.5" fill="#9a94a0"/>
<circle cx="1292.8" cy="354.2" r="1.5" fill="#9a94a0"/>
<circle cx="1291.9" cy="355.8" r="1.8" fill="#9a94a0"/>
<circle cx="1290.4" cy="357.9" r="1.4" fill="#9a94a0"/>
<circle cx="1289.4" cy="359" r="1.5" fill="#9a94a0"/>
<circle cx="1288.6" cy="360.9" r="1.7" fill="#9a94a0"/>
<circle cx="1287.1" cy="363.2" r="1.7" fill="#9a94a0"/>
<circle cx="1286" cy="364.5" r="1.7" fill="#9a94a0"/>
<circle cx="1285.4" cy="367.1" r="1.5" fill="#9a94a0"/>
<circle cx="1284.2" cy="369" r="1.5" fill="#9a94a0"/>
<circle cx="1283.8" cy="370.7" r="1.5" fill="#9a94a0"/>
<circle cx="1282.3" cy="372.5" r="1.4" fill="#9a94a0"/>
<circle cx="1281.5" cy="374.1" r="1.7" fill="#9a94a0"/>
<circle cx="1280.2" cy="375.2" r="1.7" fill="#9a94a0"/>
<circle cx="1278.6" cy="377.7" r="1.7" fill="#9a94a0"/>
<circle cx="1277.7" cy="379.4" r="1.6" fill="#9a94a0"/>
<circle cx="1277.2" cy="380.5" r="1.7" fill="#9a94a0"/>
<circle cx="1275.7" cy="383.2" r="1.6" fill="#9a94a0"/>
<circle cx="1275.1" cy="384.4" r="1.6" fill="#9a94a0"/>
<circle cx="1273.1" cy="386.4" r="1.4" fill="#9a94a0"/>
<circle cx="1273" cy="388.4" r="1.6" fill="#9a94a0"/>
<circle cx="1272.1" cy="390.5" r="1.7" fill="#9a94a0"/>
<circle cx="1270" cy="392" r="1.7" fill="#9a94a0"/>
<circle cx="1269.5" cy="393.1" r="1.7" fill="#9a94a0"/>
<circle cx="1268.3" cy="395.5" r="1.7" fill="#9a94a0"/>
<circle cx="1267" cy="396.7" r="1.7" fill="#9a94a0"/>
<circle cx="1266" cy="398.5" r="1.5" fill="#9a94a0"/>
<circle cx="1265.7" cy="401.1" r="1.5" fill="#9a94a0"/>
<circle cx="1263.7" cy="403" r="1.6" fill="#9a94a0"/>
<circle cx="1263.1" cy="404" r="1.6" fill="#9a94a0"/>
<circle cx="1262.5" cy="405.6" r="1.6" fill="#9a94a0"/>
<circle cx="1260.4" cy="408.5" r="1.4" fill="#9a94a0"/>
<circle cx="1260.3" cy="410.2" r="1.7" fill="#9a94a0"/>
<circle cx="1258.8" cy="411.6" r="1.5" fill="#9a94a0"/>
<circle cx="1327.1" cy="311.2" r="1.6" fill="#9a94a0"/>
<circle cx="1325.3" cy="313" r="1.7" fill="#9a94a0"/>
<circle cx="1324.2" cy="315.2" r="1.6" fill="#9a94a0"/>
<circle cx="1323.3" cy="316.3" r="1.6" fill="#9a94a0"/>
<circle cx="1322.6" cy="318.4" r="1.7" fill="#9a94a0"/>
<circle cx="1321.3" cy="320.2" r="1.8" fill="#9a94a0"/>
<circle cx="1319.9" cy="321.4" r="1.5" fill="#9a94a0"/>
<circle cx="1318.9" cy="323.3" r="1.6" fill="#9a94a0"/>
<circle cx="1317.5" cy="326" r="1.6" fill="#9a94a0"/>
<circle cx="1317.3" cy="327.5" r="1.7" fill="#9a94a0"/>
<circle cx="1316.1" cy="328.9" r="1.7" fill="#9a94a0"/>
<circle cx="1314.4" cy="330.9" r="1.6" fill="#9a94a0"/>
<circle cx="1313.9" cy="332.3" r="1.5" fill="#9a94a0"/>
<circle cx="1312.9" cy="334.8" r="1.8" fill="#9a94a0"/>
<circle cx="1311" cy="335.9" r="1.4" fill="#9a94a0"/>
<circle cx="1310.6" cy="338.3" r="1.6" fill="#9a94a0"/>
<circle cx="1309.5" cy="339.8" r="1.6" fill="#9a94a0"/>
<circle cx="1308.6" cy="341.7" r="1.6" fill="#9a94a0"/>
<circle cx="1307.1" cy="343.4" r="1.7" fill="#9a94a0"/>
<circle cx="1306" cy="344.7" r="1.6" fill="#9a94a0"/>
<circle cx="1304.7" cy="346.9" r="1.6" fill="#9a94a0"/>
<circle cx="1303.5" cy="348.6" r="1.6" fill="#9a94a0"/>
<circle cx="1302.5" cy="351" r="1.4" fill="#9a94a0"/>
<circle cx="1301" cy="352.5" r="1.5" fill="#9a94a0"/>
<circle cx="1300.3" cy="354.2" r="1.5" fill="#9a94a0"/>
<circle cx="1299" cy="355.3" r="1.7" fill="#9a94a0"/>
<circle cx="1298.7" cy="357.4" r="1.6" fill="#9a94a0"/>
<circle cx="1296.9" cy="358.9" r="1.7" fill="#9a94a0"/>
<circle cx="1296.4" cy="360.9" r="1.5" fill="#9a94a0"/>
<circle cx="1295.1" cy="363.3" r="1.6" fill="#9a94a0"/>
<circle cx="1293.7" cy="364.5" r="1.7" fill="#9a94a0"/>
<circle cx="1293.1" cy="367" r="1.4" fill="#9a94a0"/>
<circle cx="1291.7" cy="368.9" r="1.7" fill="#9a94a0"/>
<circle cx="1290.4" cy="369.7" r="1.4" fill="#9a94a0"/>
<circle cx="1289.6" cy="371.4" r="1.7" fill="#9a94a0"/>
<circle cx="1288.5" cy="373.7" r="1.7" fill="#9a94a0"/>
<circle cx="1287.7" cy="375.6" r="1.4" fill="#9a94a0"/>
<circle cx="1286.2" cy="377.2" r="1.5" fill="#9a94a0"/>
<circle cx="1285.5" cy="379.3" r="1.5" fill="#9a94a0"/>
<circle cx="1283.6" cy="380.7" r="1.6" fill="#9a94a0"/>
<circle cx="1282.6" cy="382.6" r="1.7" fill="#9a94a0"/>
<circle cx="1281.3" cy="384.7" r="1.5" fill="#9a94a0"/>
<circle cx="1281.1" cy="386.7" r="1.5" fill="#9a94a0"/>
<circle cx="1279.6" cy="387.6" r="1.6" fill="#9a94a0"/>
<circle cx="1278.5" cy="389.9" r="1.5" fill="#9a94a0"/>
<circle cx="1276.7" cy="391.1" r="1.6" fill="#9a94a0"/>
<circle cx="1275.8" cy="393.1" r="1.6" fill="#9a94a0"/>
<circle cx="1275.5" cy="395.1" r="1.5" fill="#9a94a0"/>
<circle cx="1274" cy="396.7" r="1.7" fill="#9a94a0"/>
<circle cx="1272.5" cy="398.4" r="1.6" fill="#9a94a0"/>
<circle cx="1272.2" cy="400.1" r="1.5" fill="#9a94a0"/>
<circle cx="1270.2" cy="402" r="1.5" fill="#9a94a0"/>
<circle cx="1269.4" cy="404.3" r="1.6" fill="#9a94a0"/>
<circle cx="1268.4" cy="405.7" r="1.7" fill="#9a94a0"/>
<circle cx="1267.8" cy="407.5" r="1.7" fill="#9a94a0"/>
<circle cx="1266" cy="409.9" r="1.6" fill="#9a94a0"/>
<circle cx="1265.3" cy="411.1" r="1.5" fill="#9a94a0"/>
<circle cx="1264" cy="413" r="1.5" fill="#9a94a0"/>
<circle cx="1334.6" cy="313.2" r="1.7" fill="#9a94a0"/>
<circle cx="1333" cy="315.1" r="1.5" fill="#9a94a0"/>
<circle cx="1331.6" cy="316.7" r="1.6" fill="#9a94a0"/>
<circle cx="1330.8" cy="318.1" r="1.7" fill="#9a94a0"/>
<circle cx="1329.6" cy="319.9" r="1.5" fill="#9a94a0"/>
<circle cx="1328.2" cy="322.6" r="1.6" fill="#9a94a0"/>
<circle cx="1327.2" cy="323.7" r="1.5" fill="#9a94a0"/>
<circle cx="1326" cy="325.6" r="1.7" fill="#9a94a0"/>
<circle cx="1325.4" cy="327.7" r="1.7" fill="#9a94a0"/>
<circle cx="1324.1" cy="328.9" r="1.4" fill="#9a94a0"/>
<circle cx="1322.4" cy="330.8" r="1.6" fill="#9a94a0"/>
<circle cx="1322" cy="332.9" r="1.6" fill="#9a94a0"/>
<circle cx="1320.3" cy="335.1" r="1.7" fill="#9a94a0"/>
<circle cx="1319.2" cy="335.9" r="1.8" fill="#9a94a0"/>
<circle cx="1318" cy="338.5" r="1.4" fill="#9a94a0"/>
<circle cx="1317.3" cy="339.8" r="1.7" fill="#9a94a0"/>
<circle cx="1315.8" cy="341.3" r="1.5" fill="#9a94a0"/>
<circle cx="1315.2" cy="344" r="1.6" fill="#9a94a0"/>
<circle cx="1313.9" cy="345" r="1.5" fill="#9a94a0"/>
<circle cx="1312.1" cy="347.6" r="1.4" fill="#9a94a0"/>
<circle cx="1311.6" cy="348.6" r="1.5" fill="#9a94a0"/>
<circle cx="1310.2" cy="351" r="1.5" fill="#9a94a0"/>
<circle cx="1308.8" cy="352.5" r="1.6" fill="#9a94a0"/>
<circle cx="1308" cy="353.8" r="1.7" fill="#9a94a0"/>
<circle cx="1306.4" cy="355.5" r="1.5" fill="#9a94a0"/>
<circle cx="1305.8" cy="357.6" r="1.6" fill="#9a94a0"/>
<circle cx="1304.9" cy="359.9" r="1.6" fill="#9a94a0"/>
<circle cx="1302.9" cy="361.6" r="1.4" fill="#9a94a0"/>
<circle cx="1302.1" cy="362.6" r="1.6" fill="#9a94a0"/>
<circle cx="1301.5" cy="364.3" r="1.5" fill="#9a94a0"/>
<circle cx="1300.4" cy="366.7" r="1.4" fill="#9a94a0"/>
<circle cx="1299.1" cy="368.6" r="1.6" fill="#9a94a0"/>
<circle cx="1297.4" cy="370.2" r="1.5" fill="#9a94a0"/>
<circle cx="1296.2" cy="371.5" r="1.5" fill="#9a94a0"/>
<circle cx="1295.1" cy="373.5" r="1.6" fill="#9a94a0"/>
<circle cx="1294.4" cy="375.3" r="1.7" fill="#9a94a0"/>
<circle cx="1292.8" cy="377" r="1.7" fill="#9a94a0"/>
<circle cx="1292.5" cy="379.4" r="1.7" fill="#9a94a0"/>
<circle cx="1291" cy="381" r="1.6" fill="#9a94a0"/>
<circle cx="1289.4" cy="382.2" r="1.4" fill="#9a94a0"/>
<circle cx="1289.1" cy="384" r="1.6" fill="#9a94a0"/>
<circle cx="1287.6" cy="385.6" r="1.7" fill="#9a94a0"/>
<circle cx="1286.7" cy="388.1" r="1.7" fill="#9a94a0"/>
<circle cx="1285" cy="389.2" r="1.7" fill="#9a94a0"/>
<circle cx="1284.3" cy="391.2" r="1.5" fill="#9a94a0"/>
<circle cx="1282.6" cy="393.5" r="1.6" fill="#9a94a0"/>
<circle cx="1282.2" cy="394.7" r="1.5" fill="#9a94a0"/>
<circle cx="1280.7" cy="396.9" r="1.7" fill="#9a94a0"/>
<circle cx="1279.4" cy="398.6" r="1.6" fill="#9a94a0"/>
<circle cx="1278.8" cy="400.5" r="1.6" fill="#9a94a0"/>
<circle cx="1277.1" cy="401.7" r="1.7" fill="#9a94a0"/>
<circle cx="1276.5" cy="403.5" r="1.4" fill="#9a94a0"/>
<circle cx="1274.7" cy="406" r="1.4" fill="#9a94a0"/>
<circle cx="1274.2" cy="407.3" r="1.6" fill="#9a94a0"/>
<circle cx="1272.8" cy="409" r="1.6" fill="#9a94a0"/>
<circle cx="1271.1" cy="411.3" r="1.4" fill="#9a94a0"/>
<circle cx="1270" cy="412.8" r="1.6" fill="#9a94a0"/>
<circle cx="1269.3" cy="414.4" r="1.6" fill="#9a94a0"/>
<circle cx="1283.3" cy="370.5" r="2.4" fill="#9a94a0"/>
<circle cx="1295.6" cy="372.3" r="2.6" fill="#9a94a0"/>
<circle cx="1307.9" cy="365.3" r="2" fill="#9a94a0"/>
<circle cx="1318.4" cy="372.3" r="2" fill="#9a94a0"/>
<circle cx="1332.5" cy="365.3" r="2.1" fill="#9a94a0"/>
<circle cx="1346.5" cy="368.8" r="2.5" fill="#9a94a0"/>
<circle cx="1357" cy="365.3" r="2.1" fill="#9a94a0"/>
<circle cx="1364" cy="358.2" r="2.3" fill="#9a94a0"/>
<circle cx="1353.5" cy="347.7" r="2.5" fill="#9a94a0"/>
<circle cx="1343" cy="344.2" r="2.1" fill="#9a94a0"/>
<circle cx="1332.5" cy="354.7" r="2.3" fill="#9a94a0"/>
<circle cx="1321.9" cy="358.2" r="2.6" fill="#9a94a0"/>
<circle cx="1307.9" cy="382.8" r="2.5" fill="#9a94a0"/>
<circle cx="1321.9" cy="386.3" r="2.2" fill="#9a94a0"/>
<circle cx="1336" cy="379.3" r="2.3" fill="#9a94a0"/>
<circle cx="1350" cy="382.8" r="2.1" fill="#9a94a0"/>
<circle cx="1360.5" cy="389.8" r="2.6" fill="#9a94a0"/>
<circle cx="1343" cy="393.3" r="2.5" fill="#9a94a0"/>
<circle cx="1328.9" cy="396.8" r="2.4" fill="#9a94a0"/>
<circle cx="1314.9" cy="400.4" r="2.2" fill="#9a94a0"/>
<circle cx="1300.9" cy="396.8" r="2.5" fill="#9a94a0"/>
<circle cx="1286.8" cy="393.3" r="2.3" fill="#9a94a0"/>
<circle cx="1272.8" cy="396.8" r="2.5" fill="#9a94a0"/>
<circle cx="1264" cy="410.9" r="2.2" fill="#9a94a0"/>
<circle cx="1279.8" cy="414.4" r="2.6" fill="#9a94a0"/>
<circle cx="1293.9" cy="407.4" r="2.4" fill="#9a94a0"/>
<circle cx="1307.9" cy="414.4" r="2.3" fill="#9a94a0"/>
<circle cx="1321.9" cy="410.9" r="2.3" fill="#9a94a0"/>
<circle cx="1337.7" cy="410.9" r="2.5" fill="#9a94a0"/>
<circle cx="1353.5" cy="414.4" r="2.3" fill="#9a94a0"/>
<circle cx="1367.5" cy="414.4" r="2.6" fill="#9a94a0"/>
<circle cx="1378.1" cy="410.9" r="2" fill="#9a94a0"/>
<circle cx="1378.1" cy="421.4" r="2.6" fill="#9a94a0"/>
<circle cx="1360.5" cy="424.9" r="2.4" fill="#9a94a0"/>
<circle cx="1344.7" cy="424.9" r="2.3" fill="#9a94a0"/>
<circle cx="1323.7" cy="419.6" r="2.5" fill="#9a94a0"/>
<circle cx="1302.6" cy="421.4" r="2.1" fill="#9a94a0"/>
<circle cx="1283.3" cy="423.2" r="2.2" fill="#9a94a0"/>
<circle cx="1269.3" cy="417.9" r="2.4" fill="#9a94a0"/>
<circle cx="1288.6" cy="437.2" r="2.5" fill="#9a94a0"/>
<circle cx="1288.6" cy="446" r="2.2" fill="#9a94a0"/>
<circle cx="1369.3" cy="382.8" r="2.6" fill="#9a94a0"/>
<circle cx="1372.8" cy="400.4" r="2.4" fill="#9a94a0"/>
</g>
<path d="M1328 481.4h29M1328 479.59999999999997v3.6M1357 479.59999999999997v3.6" stroke="#f4eef0" stroke-width="1.2" fill="none"/>
<text x="1342.5" y="477.79999999999995" font-family="Liberation Serif" font-weight="bold" font-size="12" fill="#f4eef0" text-anchor="middle">1 cm</text>
<circle cx="166" cy="911" r="120.5" fill="#79717a"/>
<circle cx="166" cy="911" r="116" fill="#5a1c18"/>
<circle cx="166" cy="911" r="112.5" fill="url(#ag3)"/>
<g clip-path="url(#dc3)" fill="#8c8791">
<path d="M156.3 810.1 L142.3 832.9 L128.2 873.2 L114.2 929.4 L152.8 973.2 L198.4 1017.1 L198.7 1018.1 L189.3 1020.6 L179.6 1022.2 L169.9 1022.9 L160.1 1022.8 L150.4 1021.9 L140.8 1020.1 L131.4 1017.5 L122.2 1014.1 L113.4 1009.9 L105 1004.9 L97 999.3 L89.6 992.9 L82.8 985.9 L76.6 978.4 L71 970.4 L66.2 961.8 L62.2 953 L58.9 943.7 L56.4 934.3 L54.8 924.6 L54.1 914.9 L54.2 905.1 L55.1 895.4 L56.9 885.8 L59.5 876.4 L62.9 867.2 L67.1 858.4 L72.1 850 L77.7 842 L84.1 834.6 L91.1 827.8 L98.6 821.6 L106.6 816 L115.2 811.2 L124 807.2Z" fill="#5a2a44" opacity="0.45"/>
<path d="M128.2 880.3 L114.2 929.4 L152.8 973.2 L198.4 1017.1 L198.7 1018.1 L189.3 1020.6 L179.6 1022.2 L169.9 1022.9 L160.1 1022.8 L150.4 1021.9 L140.8 1020.1 L131.4 1017.5 L122.2 1014.1 L113.4 1009.9 L105 1004.9 L97 999.3 L89.6 992.9 L82.8 985.9 L76.6 978.4 L71 970.4 L66.2 961.8 L62.2 953 L58.9 943.7 L56.4 934.3 L54.8 924.6 L54.1 914.9 L54.2 905.1 L55.1 895.4 L56.9 885.8 L59.5 876.4 L62.9 867.2 L67.1 858.4 L87.9 848.7 L103.7 841.7Z" fill="#7c5c78" opacity="0.8"/>
<g clip-path="url(#zmb)">
<path d="M59.8 887.3 L128.2 1010.1" stroke="#a88fa6" stroke-width="1.3" stroke-linecap="round" stroke-linejoin="round" fill="none" opacity="0.5"/>
<path d="M63.7 888.3 L135.3 1007.6" stroke="#a88fa6" stroke-width="1.3" stroke-linecap="round" stroke-linejoin="round" fill="none" opacity="0.5"/>
<path d="M67.5 889.4 L142.3 1005.2" stroke="#a88fa6" stroke-width="1.3" stroke-linecap="round" stroke-linejoin="round" fill="none" opacity="0.5"/>
<path d="M71.4 890.4 L149.3 1002.7" stroke="#a88fa6" stroke-width="1.3" stroke-linecap="round" stroke-linejoin="round" fill="none" opacity="0.5"/>
<path d="M75.3 891.5 L156.3 1000.3" stroke="#a88fa6" stroke-width="1.3" stroke-linecap="round" stroke-linejoin="round" fill="none" opacity="0.5"/>
<path d="M79.1 892.5 L163.3 997.8" stroke="#a88fa6" stroke-width="1.3" stroke-linecap="round" stroke-linejoin="round" fill="none" opacity="0.5"/>
<path d="M83 893.6 L170.4 995.4" stroke="#a88fa6" stroke-width="1.3" stroke-linecap="round" stroke-linejoin="round" fill="none" opacity="0.5"/>
<path d="M86.8 894.6 L177.4 992.9" stroke="#a88fa6" stroke-width="1.3" stroke-linecap="round" stroke-linejoin="round" fill="none" opacity="0.5"/>
<path d="M90.7 895.7 L184.4 990.4" stroke="#a88fa6" stroke-width="1.3" stroke-linecap="round" stroke-linejoin="round" fill="none" opacity="0.5"/>
<path d="M94.6 896.8 L191.4 988" stroke="#a88fa6" stroke-width="1.3" stroke-linecap="round" stroke-linejoin="round" fill="none" opacity="0.5"/>
</g>
<circle cx="67.2" cy="929.1" r="1.1" fill="#c4b6c2"/>
<circle cx="93.4" cy="903.5" r="1" fill="#c4b6c2"/>
<circle cx="100.1" cy="935.9" r="1.1" fill="#c4b6c2"/>
<circle cx="159.6" cy="982.5" r="1" fill="#c4b6c2"/>
<circle cx="73.9" cy="882.2" r="1" fill="#c4b6c2"/>
<circle cx="174.9" cy="1010.2" r="1.1" fill="#c4b6c2"/>
<circle cx="122.2" cy="869.8" r="1.3" fill="#b2a8b4"/>
<circle cx="122.5" cy="938.7" r="1" fill="#c4b6c2"/>
<circle cx="125.7" cy="846.8" r="1.5" fill="#b2a8b4"/>
<circle cx="161.1" cy="1015.6" r="1" fill="#c4b6c2"/>
<circle cx="105.9" cy="934.9" r="1" fill="#c4b6c2"/>
<circle cx="99.7" cy="846.8" r="2.2" fill="#b2a8b4"/>
<circle cx="140.1" cy="982.5" r="0.9" fill="#c4b6c2"/>
<circle cx="133.5" cy="963.1" r="1.6" fill="#c4b6c2"/>
<circle cx="132.3" cy="1009.9" r="1.1" fill="#c4b6c2"/>
<circle cx="93.8" cy="927.1" r="1.2" fill="#c4b6c2"/>
<circle cx="138.4" cy="1005" r="1.6" fill="#c4b6c2"/>
<circle cx="115.5" cy="1007.2" r="1.1" fill="#c4b6c2"/>
<circle cx="108.5" cy="931.6" r="1.1" fill="#c4b6c2"/>
<circle cx="105.8" cy="840.1" r="1.4" fill="#b2a8b4"/>
<circle cx="121.5" cy="976" r="1.6" fill="#c4b6c2"/>
<circle cx="95.4" cy="918.3" r="1.6" fill="#c4b6c2"/>
<circle cx="135.7" cy="987.3" r="1" fill="#c4b6c2"/>
<circle cx="118.8" cy="848.7" r="1.7" fill="#b2a8b4"/>
<circle cx="92.6" cy="978.7" r="1.5" fill="#c4b6c2"/>
<circle cx="58.9" cy="900.2" r="1.1" fill="#c4b6c2"/>
<circle cx="139.9" cy="1014.8" r="1" fill="#c4b6c2"/>
<circle cx="67" cy="955.1" r="1" fill="#c4b6c2"/>
<circle cx="88" cy="901.8" r="1.6" fill="#c4b6c2"/>
<circle cx="102.4" cy="876" r="1.7" fill="#b2a8b4"/>
<circle cx="79.4" cy="894.1" r="1.4" fill="#c4b6c2"/>
<circle cx="102.4" cy="976.3" r="1" fill="#c4b6c2"/>
<circle cx="70.7" cy="941" r="1.2" fill="#c4b6c2"/>
<circle cx="108.9" cy="836.9" r="1.9" fill="#b2a8b4"/>
<circle cx="123.5" cy="953.2" r="1.3" fill="#c4b6c2"/>
<circle cx="116.5" cy="848.9" r="1.7" fill="#b2a8b4"/>
<circle cx="134.4" cy="997.2" r="1.6" fill="#c4b6c2"/>
<circle cx="88" cy="941.7" r="1.4" fill="#c4b6c2"/>
<circle cx="91.5" cy="954.2" r="1.6" fill="#c4b6c2"/>
<circle cx="118.4" cy="946.2" r="1.5" fill="#c4b6c2"/>
<circle cx="85.2" cy="882.2" r="1.6" fill="#c4b6c2"/>
<circle cx="65.6" cy="874" r="1.7" fill="#b2a8b4"/>
<circle cx="61.5" cy="900.2" r="0.9" fill="#c4b6c2"/>
<circle cx="107.2" cy="939.5" r="1.3" fill="#c4b6c2"/>
<circle cx="93.7" cy="972.9" r="0.9" fill="#c4b6c2"/>
<circle cx="91.8" cy="877" r="2.1" fill="#b2a8b4"/>
<circle cx="127.5" cy="817.7" r="1.6" fill="#b2a8b4"/>
<circle cx="142.9" cy="978.9" r="1" fill="#c4b6c2"/>
<circle cx="131.9" cy="814.2" r="1.6" fill="#b2a8b4"/>
<circle cx="105.9" cy="824.2" r="2.2" fill="#b2a8b4"/>
<circle cx="72.2" cy="961.6" r="1.5" fill="#c4b6c2"/>
<circle cx="73.4" cy="877.9" r="1.3" fill="#b2a8b4"/>
<circle cx="138.9" cy="1016.1" r="1.4" fill="#c4b6c2"/>
<circle cx="188.1" cy="1011.2" r="1" fill="#c4b6c2"/>
<circle cx="102.4" cy="881.4" r="1.6" fill="#c4b6c2"/>
<circle cx="64.9" cy="900.9" r="1" fill="#c4b6c2"/>
<circle cx="115.1" cy="965.5" r="1.4" fill="#c4b6c2"/>
<circle cx="136.9" cy="826.1" r="1.4" fill="#b2a8b4"/>
<circle cx="100.6" cy="835.8" r="1.3" fill="#b2a8b4"/>
<circle cx="158.9" cy="982.5" r="1.3" fill="#c4b6c2"/>
<circle cx="88.6" cy="928" r="1.2" fill="#c4b6c2"/>
<circle cx="94.5" cy="841.1" r="2.1" fill="#b2a8b4"/>
<circle cx="146.2" cy="1004.8" r="1" fill="#c4b6c2"/>
<circle cx="93.9" cy="916.4" r="0.9" fill="#c4b6c2"/>
<circle cx="99.3" cy="922.8" r="1.2" fill="#c4b6c2"/>
<circle cx="72.2" cy="856.5" r="1.9" fill="#b2a8b4"/>
<circle cx="126.5" cy="811.4" r="1.5" fill="#b2a8b4"/>
<circle cx="110.6" cy="852.9" r="1.3" fill="#b2a8b4"/>
<circle cx="93.3" cy="861" r="1.6" fill="#b2a8b4"/>
<circle cx="115.2" cy="885.2" r="1.1" fill="#c4b6c2"/>
<circle cx="85.5" cy="981.3" r="1.5" fill="#c4b6c2"/>
<circle cx="73.7" cy="914.7" r="1.3" fill="#c4b6c2"/>
<circle cx="73" cy="876.8" r="1.9" fill="#b2a8b4"/>
<circle cx="105.5" cy="851.9" r="2.1" fill="#b2a8b4"/>
<circle cx="93.3" cy="930" r="1.4" fill="#c4b6c2"/>
<circle cx="89.5" cy="889.8" r="1" fill="#c4b6c2"/>
<circle cx="75.6" cy="868.1" r="1.9" fill="#b2a8b4"/>
<circle cx="86.1" cy="921.7" r="1" fill="#c4b6c2"/>
<circle cx="90.7" cy="840.8" r="1.4" fill="#b2a8b4"/>
<circle cx="106.1" cy="995.2" r="1.4" fill="#c4b6c2"/>
<circle cx="90.5" cy="933.1" r="1.3" fill="#c4b6c2"/>
<circle cx="112.5" cy="898.4" r="1.3" fill="#c4b6c2"/>
<circle cx="175.6" cy="1016.3" r="1.4" fill="#c4b6c2"/>
<circle cx="132.9" cy="959.7" r="1.3" fill="#c4b6c2"/>
<circle cx="192.6" cy="1012.7" r="1.4" fill="#c4b6c2"/>
<circle cx="87.1" cy="928.8" r="1.2" fill="#c4b6c2"/>
<circle cx="89.2" cy="973.2" r="1.1" fill="#c4b6c2"/>
<circle cx="117" cy="957.6" r="1.4" fill="#c4b6c2"/>
<circle cx="100.1" cy="832.1" r="1.7" fill="#b2a8b4"/>
<circle cx="119.4" cy="882.8" r="1.3" fill="#c4b6c2"/>
<circle cx="135.8" cy="1012.6" r="1.1" fill="#c4b6c2"/>
<circle cx="106.3" cy="876.8" r="2" fill="#b2a8b4"/>
<circle cx="126.4" cy="976.3" r="0.9" fill="#c4b6c2"/>
<circle cx="75.2" cy="853.1" r="1.6" fill="#b2a8b4"/>
<circle cx="113.1" cy="890.5" r="1.6" fill="#c4b6c2"/>
<circle cx="140.8" cy="983" r="1.1" fill="#c4b6c2"/>
<circle cx="109.4" cy="944.3" r="1.1" fill="#c4b6c2"/>
<circle cx="88" cy="866.7" r="1.7" fill="#b2a8b4"/>
<circle cx="86.2" cy="976.2" r="1" fill="#c4b6c2"/>
<circle cx="115.2" cy="973.6" r="1.4" fill="#c4b6c2"/>
<circle cx="93" cy="841.5" r="1.7" fill="#b2a8b4"/>
<circle cx="71.6" cy="865.1" r="2.1" fill="#b2a8b4"/>
<circle cx="142.9" cy="989.8" r="1.6" fill="#c4b6c2"/>
<circle cx="140.8" cy="820.6" r="2.1" fill="#b2a8b4"/>
<circle cx="79.7" cy="860.2" r="1.4" fill="#b2a8b4"/>
<circle cx="76.3" cy="960" r="1.3" fill="#c4b6c2"/>
<circle cx="100.2" cy="984.1" r="1.6" fill="#c4b6c2"/>
<circle cx="187.4" cy="1015.7" r="0.9" fill="#c4b6c2"/>
<circle cx="111.5" cy="904" r="1.1" fill="#c4b6c2"/>
<circle cx="162" cy="999" r="1" fill="#c4b6c2"/>
<circle cx="128.2" cy="1012.1" r="1.5" fill="#c4b6c2"/>
<circle cx="120.4" cy="831.9" r="1.7" fill="#b2a8b4"/>
<circle cx="129.9" cy="974.1" r="1" fill="#c4b6c2"/>
<circle cx="116.5" cy="1003.3" r="1.1" fill="#c4b6c2"/>
<circle cx="67.1" cy="891.2" r="1.6" fill="#c4b6c2"/>
<circle cx="106.7" cy="959.7" r="0.9" fill="#c4b6c2"/>
<circle cx="70.2" cy="931.1" r="1.2" fill="#c4b6c2"/>
<circle cx="102.8" cy="983.5" r="1.4" fill="#c4b6c2"/>
<circle cx="146.8" cy="1012.3" r="1.6" fill="#c4b6c2"/>
<circle cx="141.4" cy="834.8" r="1.5" fill="#b2a8b4"/>
<circle cx="74.7" cy="937.5" r="1.3" fill="#c4b6c2"/>
<circle cx="93.6" cy="865.2" r="2.1" fill="#b2a8b4"/>
<circle cx="142.8" cy="811.3" r="1.8" fill="#b2a8b4"/>
<circle cx="143.5" cy="971.1" r="1.3" fill="#c4b6c2"/>
<circle cx="72.5" cy="856.6" r="1.9" fill="#b2a8b4"/>
<circle cx="92" cy="976.3" r="1.3" fill="#c4b6c2"/>
<circle cx="136.7" cy="988.7" r="1.2" fill="#c4b6c2"/>
<circle cx="82.1" cy="931.6" r="1.1" fill="#c4b6c2"/>
<circle cx="123.6" cy="958.9" r="0.9" fill="#c4b6c2"/>
<circle cx="141.4" cy="981.4" r="1.2" fill="#c4b6c2"/>
<circle cx="92.7" cy="916.6" r="1.3" fill="#c4b6c2"/>
<circle cx="88.1" cy="969.8" r="1.2" fill="#c4b6c2"/>
<circle cx="106.8" cy="863" r="2.1" fill="#b2a8b4"/>
<circle cx="184.5" cy="1005.9" r="1.1" fill="#c4b6c2"/>
<circle cx="66.4" cy="941.9" r="0.9" fill="#c4b6c2"/>
<circle cx="104.2" cy="902.2" r="1.4" fill="#c4b6c2"/>
<circle cx="79.1" cy="886.3" r="1.5" fill="#c4b6c2"/>
<circle cx="122.3" cy="1005.7" r="1.2" fill="#c4b6c2"/>
<circle cx="84.4" cy="940.3" r="1.3" fill="#c4b6c2"/>
<circle cx="123.9" cy="1003.6" r="1.4" fill="#c4b6c2"/>
<circle cx="61.4" cy="904.4" r="1.5" fill="#c4b6c2"/>
<circle cx="141.8" cy="819.3" r="1.4" fill="#b2a8b4"/>
<circle cx="79.7" cy="957.6" r="1.5" fill="#c4b6c2"/>
<circle cx="122.2" cy="979.3" r="1.1" fill="#c4b6c2"/>
<circle cx="65.4" cy="926.4" r="1.6" fill="#c4b6c2"/>
<circle cx="144.1" cy="993" r="1" fill="#c4b6c2"/>
<circle cx="103.5" cy="841.2" r="1.7" fill="#b2a8b4"/>
<circle cx="148.2" cy="999" r="1.4" fill="#c4b6c2"/>
<circle cx="133.5" cy="1005.5" r="1.2" fill="#c4b6c2"/>
<circle cx="67.9" cy="957.1" r="1" fill="#c4b6c2"/>
<circle cx="102.7" cy="948.4" r="1.4" fill="#c4b6c2"/>
<circle cx="121.7" cy="867.6" r="1.7" fill="#b2a8b4"/>
<circle cx="78.7" cy="911.1" r="1.4" fill="#c4b6c2"/>
<circle cx="68.5" cy="911.6" r="1.5" fill="#c4b6c2"/>
<circle cx="124.9" cy="948.9" r="1.3" fill="#c4b6c2"/>
<circle cx="82.3" cy="955.3" r="1" fill="#c4b6c2"/>
<circle cx="100.4" cy="987.9" r="1.3" fill="#c4b6c2"/>
<circle cx="129" cy="958.3" r="1.2" fill="#c4b6c2"/>
<circle cx="110.9" cy="925.4" r="0.9" fill="#c4b6c2"/>
<circle cx="142.3" cy="964.9" r="1.1" fill="#c4b6c2"/>
<circle cx="163.9" cy="985.4" r="1.1" fill="#c4b6c2"/>
<circle cx="114.7" cy="885.6" r="1" fill="#c4b6c2"/>
<circle cx="107.2" cy="953.4" r="1.3" fill="#c4b6c2"/>
<circle cx="127" cy="864.1" r="1.5" fill="#b2a8b4"/>
<circle cx="129.4" cy="831.9" r="1.6" fill="#b2a8b4"/>
<circle cx="66.9" cy="914.8" r="1.6" fill="#c4b6c2"/>
<circle cx="111.6" cy="898.9" r="1.3" fill="#c4b6c2"/>
<circle cx="131.2" cy="991.3" r="1.5" fill="#c4b6c2"/>
<circle cx="108" cy="908.8" r="1.6" fill="#c4b6c2"/>
<circle cx="84" cy="942.7" r="0.9" fill="#c4b6c2"/>
<circle cx="136.1" cy="964.3" r="1" fill="#c4b6c2"/>
<circle cx="164.3" cy="1012.3" r="1.5" fill="#c4b6c2"/>
<circle cx="168.7" cy="1007.9" r="1.4" fill="#c4b6c2"/>
<circle cx="134.1" cy="982.2" r="1.5" fill="#c4b6c2"/>
<circle cx="81.7" cy="880.7" r="1.1" fill="#c4b6c2"/>
<circle cx="102.9" cy="826.2" r="2.2" fill="#b2a8b4"/>
<circle cx="107.3" cy="891.1" r="1.5" fill="#c4b6c2"/>
<circle cx="118.8" cy="906.2" r="1.6" fill="#c4b6c2"/>
<circle cx="95.7" cy="919.8" r="1.2" fill="#c4b6c2"/>
<circle cx="128.3" cy="976.8" r="1.2" fill="#c4b6c2"/>
<circle cx="62.7" cy="945.7" r="1" fill="#c4b6c2"/>
<circle cx="93.3" cy="898.1" r="1.4" fill="#c4b6c2"/>
<circle cx="118.2" cy="897.4" r="1.2" fill="#c4b6c2"/>
<circle cx="75.2" cy="924.6" r="1.1" fill="#c4b6c2"/>
<circle cx="117.8" cy="876.4" r="1.8" fill="#b2a8b4"/>
<circle cx="96.2" cy="949.9" r="1.2" fill="#c4b6c2"/>
<circle cx="117.3" cy="828" r="1.4" fill="#b2a8b4"/>
<circle cx="77.2" cy="848.5" r="1.5" fill="#b2a8b4"/>
<circle cx="91.2" cy="848.3" r="1.4" fill="#b2a8b4"/>
<circle cx="92" cy="979.3" r="1.4" fill="#c4b6c2"/>
<circle cx="117.2" cy="937" r="1.4" fill="#c4b6c2"/>
<circle cx="119" cy="829.2" r="1.6" fill="#b2a8b4"/>
<circle cx="166.3" cy="990.5" r="1.2" fill="#c4b6c2"/>
<circle cx="109.2" cy="917.2" r="1.1" fill="#c4b6c2"/>
<circle cx="86.1" cy="836.9" r="1.9" fill="#b2a8b4"/>
<circle cx="128.7" cy="1009.7" r="1.6" fill="#c4b6c2"/>
<circle cx="180.5" cy="1007.3" r="1.5" fill="#c4b6c2"/>
<circle cx="118.3" cy="898.8" r="1" fill="#c4b6c2"/>
<circle cx="138" cy="993" r="1.1" fill="#c4b6c2"/>
<circle cx="102.6" cy="826.8" r="1.7" fill="#b2a8b4"/>
<circle cx="130.6" cy="980.9" r="1" fill="#c4b6c2"/>
<circle cx="82.7" cy="873.9" r="2" fill="#b2a8b4"/>
<circle cx="89.3" cy="942.4" r="0.9" fill="#c4b6c2"/>
<circle cx="68" cy="958" r="1.2" fill="#c4b6c2"/>
<circle cx="72.3" cy="908.8" r="1.6" fill="#c4b6c2"/>
<circle cx="111.9" cy="926.4" r="1.2" fill="#c4b6c2"/>
<circle cx="128.1" cy="819.1" r="2.1" fill="#b2a8b4"/>
<circle cx="96.7" cy="849.1" r="2.1" fill="#b2a8b4"/>
<circle cx="136.6" cy="813.7" r="1.3" fill="#b2a8b4"/>
<circle cx="79.6" cy="946.5" r="1.3" fill="#c4b6c2"/>
<circle cx="130.5" cy="812.8" r="2.2" fill="#b2a8b4"/>
<circle cx="125.8" cy="989.2" r="0.9" fill="#c4b6c2"/>
<circle cx="87.1" cy="894.9" r="1" fill="#c4b6c2"/>
<circle cx="157.5" cy="1008.5" r="1.1" fill="#c4b6c2"/>
<circle cx="104.4" cy="981.7" r="1.4" fill="#c4b6c2"/>
<circle cx="120.9" cy="892.6" r="1.5" fill="#c4b6c2"/>
<circle cx="58.2" cy="907.1" r="1" fill="#c4b6c2"/>
<circle cx="75.4" cy="967.4" r="1.4" fill="#c4b6c2"/>
<circle cx="114.6" cy="934.6" r="1.3" fill="#c4b6c2"/>
<circle cx="114.8" cy="954.1" r="1" fill="#c4b6c2"/>
<circle cx="154.7" cy="1004" r="1.4" fill="#c4b6c2"/>
<circle cx="132.9" cy="993.8" r="1.5" fill="#c4b6c2"/>
<circle cx="82.4" cy="966.5" r="1.5" fill="#c4b6c2"/>
<circle cx="124.5" cy="989.3" r="1" fill="#c4b6c2"/>
<circle cx="104" cy="917.4" r="1.4" fill="#c4b6c2"/>
<circle cx="120.1" cy="873.2" r="2.1" fill="#b2a8b4"/>
<circle cx="112" cy="897.7" r="1.1" fill="#c4b6c2"/>
<circle cx="125" cy="957.5" r="1.2" fill="#c4b6c2"/>
<circle cx="97.3" cy="924" r="1.6" fill="#c4b6c2"/>
<circle cx="85.5" cy="842" r="2.1" fill="#b2a8b4"/>
<circle cx="163.3" cy="816.2" r="2.7" fill="#9a96a2"/>
<circle cx="173.9" cy="818.9" r="2.3" fill="#9a96a2"/>
<circle cx="182.6" cy="816.2" r="2.5" fill="#9a96a2"/>
<circle cx="197.5" cy="815.4" r="2.7" fill="#9a96a2"/>
<circle cx="156.3" cy="827.6" r="2.4" fill="#9a96a2"/>
<circle cx="159.8" cy="832.9" r="2.5" fill="#9a96a2"/>
<circle cx="170.4" cy="836.4" r="3" fill="#9a96a2"/>
<circle cx="156.3" cy="844.3" r="2.7" fill="#9a96a2"/>
<circle cx="175.6" cy="846.1" r="2.5" fill="#9a96a2"/>
<circle cx="194.9" cy="828.5" r="2.8" fill="#9a96a2"/>
<circle cx="203.7" cy="825.9" r="2.4" fill="#9a96a2"/>
<circle cx="208.9" cy="831.1" r="2.7" fill="#9a96a2"/>
<circle cx="219.5" cy="827.6" r="2.8" fill="#9a96a2"/>
<circle cx="228.2" cy="827.6" r="2.4" fill="#9a96a2"/>
<circle cx="207.2" cy="841.7" r="2.7" fill="#9a96a2"/>
<circle cx="217.7" cy="839.9" r="2.5" fill="#9a96a2"/>
<circle cx="226.5" cy="843.4" r="2.9" fill="#9a96a2"/>
<circle cx="235.3" cy="845.2" r="2.8" fill="#9a96a2"/>
<circle cx="196.7" cy="852.2" r="3" fill="#9a96a2"/>
<circle cx="205.4" cy="852.2" r="2.8" fill="#9a96a2"/>
<circle cx="214.2" cy="852.2" r="2.4" fill="#9a96a2"/>
<circle cx="182.6" cy="855.7" r="2.4" fill="#9a96a2"/>
<circle cx="170.4" cy="869.7" r="2.9" fill="#9a96a2"/>
<circle cx="196.7" cy="878.5" r="3" fill="#9a96a2"/>
<circle cx="205.4" cy="864.5" r="2.3" fill="#9a96a2"/>
<circle cx="216" cy="864.5" r="2.6" fill="#9a96a2"/>
<circle cx="224.7" cy="864.5" r="2.5" fill="#9a96a2"/>
<circle cx="233.5" cy="866.2" r="2.7" fill="#9a96a2"/>
<circle cx="240.5" cy="869.7" r="3" fill="#9a96a2"/>
<circle cx="238.8" cy="852.2" r="2.7" fill="#9a96a2"/>
<circle cx="142.3" cy="868" r="2.9" fill="#9a96a2"/>
<circle cx="145.8" cy="848.7" r="2.9" fill="#9a96a2"/>
</g>
<path d="M202.8 995.2h29M202.8 993.4000000000001v3.6M231.8 993.4000000000001v3.6" stroke="#f4eef0" stroke-width="1.2" fill="none"/>
<text x="217.3" y="991.6" font-family="Liberation Serif" font-weight="bold" font-size="12" fill="#f4eef0" text-anchor="middle">1 cm</text>
<circle cx="729" cy="912" r="120.5" fill="#7a7078"/>
<circle cx="729" cy="912" r="116" fill="#5a1c18"/>
<circle cx="729" cy="912" r="112.5" fill="url(#ag4)"/>
<g clip-path="url(#dc4)" fill="#8c8791">
<path d="M630.4 904.8 L632.1 871.5 L642.6 848.7 L654.9 836.4 L668.9 832.9 L674.2 873.2 L688.2 915.4 L712.8 965.4 L642.6 975 L632.1 932.9Z" fill="#7a4e76" opacity="0.4"/>
<circle cx="653.2" cy="921.5" r="1" fill="#c8b8c4"/>
<circle cx="669.5" cy="909.1" r="1.1" fill="#c8b8c4"/>
<circle cx="644.2" cy="952.3" r="0.9" fill="#c8b8c4"/>
<circle cx="656.2" cy="953.8" r="1.3" fill="#c8b8c4"/>
<circle cx="660.6" cy="968.3" r="0.8" fill="#c8b8c4"/>
<circle cx="633.2" cy="941.6" r="0.9" fill="#c8b8c4"/>
<circle cx="640.6" cy="884.8" r="0.8" fill="#c8b8c4"/>
<circle cx="669.2" cy="883.2" r="1.2" fill="#c8b8c4"/>
<circle cx="671" cy="970.1" r="1.2" fill="#c8b8c4"/>
<circle cx="644.5" cy="963.4" r="1.2" fill="#c8b8c4"/>
<circle cx="676.9" cy="908.6" r="0.9" fill="#c8b8c4"/>
<circle cx="656.8" cy="865.5" r="0.9" fill="#c8b8c4"/>
<circle cx="641.9" cy="876.9" r="1.2" fill="#c8b8c4"/>
<circle cx="631.7" cy="923.3" r="1.1" fill="#c8b8c4"/>
<circle cx="669.7" cy="901.6" r="1.2" fill="#c8b8c4"/>
<circle cx="636.4" cy="906.3" r="0.9" fill="#c8b8c4"/>
<circle cx="647.4" cy="867.2" r="1.2" fill="#c8b8c4"/>
<circle cx="660.3" cy="958.2" r="1.2" fill="#c8b8c4"/>
<circle cx="652.5" cy="912.4" r="0.8" fill="#c8b8c4"/>
<circle cx="639.6" cy="907.5" r="1" fill="#c8b8c4"/>
<circle cx="636.3" cy="949.6" r="1.2" fill="#c8b8c4"/>
<circle cx="655.4" cy="934.5" r="1.2" fill="#c8b8c4"/>
<circle cx="668.7" cy="961.2" r="1.2" fill="#c8b8c4"/>
<circle cx="712.3" cy="969.2" r="1.1" fill="#c8b8c4"/>
<circle cx="690.9" cy="928.8" r="1" fill="#c8b8c4"/>
<circle cx="671.5" cy="905.9" r="0.9" fill="#c8b8c4"/>
<circle cx="651.9" cy="953.2" r="1.2" fill="#c8b8c4"/>
<circle cx="687.9" cy="931.3" r="1.1" fill="#c8b8c4"/>
<circle cx="677.6" cy="928.2" r="0.8" fill="#c8b8c4"/>
<circle cx="666.9" cy="970.7" r="0.9" fill="#c8b8c4"/>
<circle cx="668.9" cy="845.5" r="0.9" fill="#c8b8c4"/>
<circle cx="696.2" cy="946.6" r="1.2" fill="#c8b8c4"/>
<circle cx="651.6" cy="965.4" r="1" fill="#c8b8c4"/>
<circle cx="667.5" cy="968.1" r="1.1" fill="#c8b8c4"/>
<circle cx="630.7" cy="871.8" r="0.9" fill="#c8b8c4"/>
<circle cx="646.2" cy="934.4" r="1" fill="#c8b8c4"/>
<circle cx="699" cy="945.1" r="1.1" fill="#c8b8c4"/>
<path d="M642.6 975 L712.8 965.4 L776 955.7 L814.6 952.2 L800.5 1003.1 L739.1 1018.9 L688.2 1010.1 L651.4 982Z" fill="#7a4e76" opacity="0.85"/>
<path d="M776 955.7 L797 911.8 L818.1 873.2 L839.1 880.3 L839.1 932.9 L826.8 971.5 L814.6 952.2Z" fill="#7a4e76" opacity="0.85"/>
<path d="M786.5 848.7 L797 850.4 L809.3 857.5 L795.3 878.5 L790 866.2Z" fill="#7a4e76" opacity="0.6"/>
<path d="M631.2 880.3 L663.7 973.2" stroke="#b098b0" stroke-width="1.2" stroke-linecap="round" stroke-linejoin="round" fill="none" opacity="0.55"/>
<path d="M634 877.5 L667.5 972.5" stroke="#b098b0" stroke-width="1.2" stroke-linecap="round" stroke-linejoin="round" fill="none" opacity="0.55"/>
<path d="M636.8 874.6 L671.4 971.8" stroke="#b098b0" stroke-width="1.2" stroke-linecap="round" stroke-linejoin="round" fill="none" opacity="0.55"/>
<path d="M639.6 871.8 L675.3 971.1" stroke="#b098b0" stroke-width="1.2" stroke-linecap="round" stroke-linejoin="round" fill="none" opacity="0.55"/>
<path d="M642.5 869 L679.1 970.4" stroke="#b098b0" stroke-width="1.2" stroke-linecap="round" stroke-linejoin="round" fill="none" opacity="0.55"/>
<path d="M645.3 866.2 L683 969.7" stroke="#b098b0" stroke-width="1.2" stroke-linecap="round" stroke-linejoin="round" fill="none" opacity="0.55"/>
<path d="M648.1 863.4 L686.8 969" stroke="#b098b0" stroke-width="1.2" stroke-linecap="round" stroke-linejoin="round" fill="none" opacity="0.55"/>
<path d="M650.9 860.6 L690.7 968.3" stroke="#b098b0" stroke-width="1.2" stroke-linecap="round" stroke-linejoin="round" fill="none" opacity="0.55"/>
<path d="M653.7 857.8 L694.6 967.6" stroke="#b098b0" stroke-width="1.2" stroke-linecap="round" stroke-linejoin="round" fill="none" opacity="0.55"/>
<path d="M656.5 855 L698.4 966.9" stroke="#b098b0" stroke-width="1.2" stroke-linecap="round" stroke-linejoin="round" fill="none" opacity="0.55"/>
<path d="M659.3 852.2 L702.3 966.2" stroke="#b098b0" stroke-width="1.2" stroke-linecap="round" stroke-linejoin="round" fill="none" opacity="0.55"/>
<path d="M662.1 849.4 L706.1 965.5" stroke="#b098b0" stroke-width="1.2" stroke-linecap="round" stroke-linejoin="round" fill="none" opacity="0.55"/>
<path d="M664.9 846.6 L710 964.8" stroke="#b098b0" stroke-width="1.2" stroke-linecap="round" stroke-linejoin="round" fill="none" opacity="0.55"/>
<path d="M667.7 843.8 L713.9 964.1" stroke="#b098b0" stroke-width="1.2" stroke-linecap="round" stroke-linejoin="round" fill="none" opacity="0.55"/>
<path d="M670.5 841 L717.7 963.4" stroke="#b098b0" stroke-width="1.2" stroke-linecap="round" stroke-linejoin="round" fill="none" opacity="0.55"/>
<path d="M673.3 838.2 L721.6 962.7" stroke="#b098b0" stroke-width="1.2" stroke-linecap="round" stroke-linejoin="round" fill="none" opacity="0.55"/>
<path d="M647.9 976.8 L814.6 953.9" stroke="#a890a8" stroke-width="1.3" stroke-linecap="round" stroke-linejoin="round" fill="none" opacity="0.55"/>
<path d="M649.6 980.6 L812.8 958.9" stroke="#a890a8" stroke-width="1.3" stroke-linecap="round" stroke-linejoin="round" fill="none" opacity="0.55"/>
<path d="M651.4 984.5 L811.1 963.8" stroke="#a890a8" stroke-width="1.3" stroke-linecap="round" stroke-linejoin="round" fill="none" opacity="0.55"/>
<path d="M653.2 988.3 L809.3 968.7" stroke="#a890a8" stroke-width="1.3" stroke-linecap="round" stroke-linejoin="round" fill="none" opacity="0.55"/>
<path d="M654.9 992.2 L807.5 973.6" stroke="#a890a8" stroke-width="1.3" stroke-linecap="round" stroke-linejoin="round" fill="none" opacity="0.55"/>
<path d="M656.7 996.1 L805.8 978.5" stroke="#a890a8" stroke-width="1.3" stroke-linecap="round" stroke-linejoin="round" fill="none" opacity="0.55"/>
<path d="M658.4 999.9 L804 983.4" stroke="#a890a8" stroke-width="1.3" stroke-linecap="round" stroke-linejoin="round" fill="none" opacity="0.55"/>
<path d="M660.2 1003.8 L802.3 988.3" stroke="#a890a8" stroke-width="1.3" stroke-linecap="round" stroke-linejoin="round" fill="none" opacity="0.55"/>
<path d="M661.9 1007.6 L800.5 993.2" stroke="#a890a8" stroke-width="1.3" stroke-linecap="round" stroke-linejoin="round" fill="none" opacity="0.55"/>
<circle cx="688.5" cy="863.9" r="1.5" fill="#c8c0c4"/>
<circle cx="757.3" cy="898.1" r="1.1" fill="#c8c0c4"/>
<circle cx="689.3" cy="851.7" r="1.4" fill="#c8c0c4"/>
<circle cx="727.5" cy="819.2" r="1.3" fill="#c8c0c4"/>
<circle cx="679.2" cy="881.8" r="1.5" fill="#c8c0c4"/>
<circle cx="689.2" cy="945" r="1.5" fill="#c8c0c4"/>
<circle cx="688.7" cy="924.9" r="1.5" fill="#c8c0c4"/>
<circle cx="763.4" cy="862.5" r="1.2" fill="#c8c0c4"/>
<circle cx="735.1" cy="959.8" r="1.1" fill="#c8c0c4"/>
<circle cx="743.5" cy="872.8" r="1.5" fill="#c8c0c4"/>
<circle cx="783.8" cy="854.5" r="1.5" fill="#c8c0c4"/>
<circle cx="781.5" cy="861.7" r="1.1" fill="#c8c0c4"/>
<circle cx="721.5" cy="862.5" r="1.6" fill="#c8c0c4"/>
<circle cx="747.4" cy="944" r="1.6" fill="#c8c0c4"/>
<circle cx="751.6" cy="843.3" r="1.3" fill="#c8c0c4"/>
<circle cx="785.4" cy="921.1" r="1.4" fill="#c8c0c4"/>
<circle cx="731.1" cy="939.3" r="1.5" fill="#c8c0c4"/>
<circle cx="686.3" cy="903.1" r="1.6" fill="#c8c0c4"/>
<circle cx="762.4" cy="928.8" r="1.5" fill="#c8c0c4"/>
<circle cx="749.8" cy="826.1" r="1.4" fill="#c8c0c4"/>
<circle cx="727.9" cy="855.8" r="1.6" fill="#c8c0c4"/>
<circle cx="742.5" cy="874.2" r="1.4" fill="#c8c0c4"/>
<circle cx="725.4" cy="894.5" r="1.1" fill="#c8c0c4"/>
<circle cx="740.3" cy="945.2" r="1.4" fill="#c8c0c4"/>
<circle cx="705.9" cy="856.6" r="1.4" fill="#c8c0c4"/>
<circle cx="694.9" cy="833.3" r="1.3" fill="#c8c0c4"/>
<circle cx="769.6" cy="949.4" r="1.3" fill="#c8c0c4"/>
<circle cx="688.3" cy="868.9" r="1.2" fill="#c8c0c4"/>
<circle cx="775.7" cy="941.4" r="1.3" fill="#c8c0c4"/>
<circle cx="784.1" cy="959.9" r="1.5" fill="#c8c0c4"/>
<circle cx="708.3" cy="826.7" r="1.6" fill="#c8c0c4"/>
<circle cx="702.2" cy="889.4" r="1.4" fill="#c8c0c4"/>
<circle cx="675.9" cy="853.6" r="1.6" fill="#c8c0c4"/>
<circle cx="727.3" cy="915.2" r="1.2" fill="#c8c0c4"/>
<circle cx="691.6" cy="834.8" r="1.4" fill="#c8c0c4"/>
<circle cx="711.3" cy="830.2" r="1.5" fill="#c8c0c4"/>
<circle cx="687.9" cy="831.9" r="1.6" fill="#c8c0c4"/>
<circle cx="764" cy="943.6" r="1.3" fill="#c8c0c4"/>
<circle cx="679" cy="932.8" r="1.2" fill="#c8c0c4"/>
<circle cx="768.9" cy="910.7" r="1.7" fill="#c8c0c4"/>
<circle cx="707.9" cy="935.1" r="1.5" fill="#c8c0c4"/>
<circle cx="683.4" cy="823.8" r="1.5" fill="#c8c0c4"/>
<circle cx="781.4" cy="848.9" r="1.3" fill="#c8c0c4"/>
<circle cx="777" cy="925.6" r="1.2" fill="#c8c0c4"/>
<circle cx="679.5" cy="830.7" r="1.4" fill="#c8c0c4"/>
<circle cx="746.8" cy="838.1" r="1.3" fill="#c8c0c4"/>
<circle cx="749" cy="913.8" r="1.6" fill="#c8c0c4"/>
<circle cx="700.2" cy="885.7" r="1.5" fill="#c8c0c4"/>
<circle cx="698" cy="942.4" r="1.5" fill="#c8c0c4"/>
<circle cx="745" cy="916.5" r="1.4" fill="#c8c0c4"/>
<circle cx="744" cy="825.9" r="1.5" fill="#c8c0c4"/>
<circle cx="773.7" cy="929.2" r="1.2" fill="#c8c0c4"/>
<circle cx="732" cy="902.1" r="1.7" fill="#c8c0c4"/>
<circle cx="729.5" cy="925.8" r="1.4" fill="#c8c0c4"/>
<circle cx="734.1" cy="857.1" r="1.5" fill="#c8c0c4"/>
<circle cx="732.2" cy="847.8" r="1.2" fill="#c8c0c4"/>
<circle cx="674.8" cy="892" r="1.2" fill="#c8c0c4"/>
<circle cx="771.9" cy="920.6" r="1.5" fill="#c8c0c4"/>
<circle cx="697.7" cy="890.2" r="1.5" fill="#c8c0c4"/>
<circle cx="739.7" cy="900.5" r="1.5" fill="#c8c0c4"/>
<circle cx="725.9" cy="890.4" r="1.3" fill="#c8c0c4"/>
<circle cx="751.5" cy="943.9" r="1.4" fill="#c8c0c4"/>
<circle cx="732.1" cy="929.9" r="1.6" fill="#c8c0c4"/>
<circle cx="750.6" cy="834.3" r="1.5" fill="#c8c0c4"/>
<circle cx="703.3" cy="862.2" r="1.6" fill="#c8c0c4"/>
<circle cx="714" cy="887.8" r="1.2" fill="#c8c0c4"/>
<circle cx="707.3" cy="960.7" r="1.6" fill="#c8c0c4"/>
<circle cx="756.6" cy="870.5" r="1.1" fill="#c8c0c4"/>
<circle cx="752.8" cy="950.1" r="1.5" fill="#c8c0c4"/>
<circle cx="692.1" cy="907.6" r="1.4" fill="#c8c0c4"/>
<circle cx="781.9" cy="871.1" r="1.2" fill="#c8c0c4"/>
<circle cx="772.7" cy="932.7" r="1.4" fill="#c8c0c4"/>
<circle cx="710.1" cy="837.9" r="1.5" fill="#c8c0c4"/>
<circle cx="764.8" cy="876.9" r="1.6" fill="#c8c0c4"/>
<circle cx="713.5" cy="883.8" r="1.2" fill="#c8c0c4"/>
<circle cx="756" cy="945.7" r="1.4" fill="#c8c0c4"/>
<circle cx="777.1" cy="927.4" r="1.6" fill="#c8c0c4"/>
<circle cx="693.9" cy="870.2" r="1.2" fill="#c8c0c4"/>
<circle cx="675" cy="846" r="1.6" fill="#c8c0c4"/>
<circle cx="712.4" cy="842.6" r="1.6" fill="#c8c0c4"/>
<circle cx="727.7" cy="836.1" r="1.3" fill="#c8c0c4"/>
<circle cx="747.5" cy="876.2" r="1.2" fill="#c8c0c4"/>
<circle cx="701.9" cy="915.8" r="1.2" fill="#c8c0c4"/>
<circle cx="711" cy="820.5" r="1.2" fill="#c8c0c4"/>
<circle cx="768.3" cy="925.6" r="1.4" fill="#c8c0c4"/>
<circle cx="772.8" cy="859.4" r="1.5" fill="#c8c0c4"/>
<circle cx="703.8" cy="917.3" r="1.6" fill="#c8c0c4"/>
<circle cx="690.6" cy="956.2" r="1.4" fill="#c8c0c4"/>
<circle cx="747.6" cy="896" r="1.7" fill="#c8c0c4"/>
<circle cx="680" cy="857.9" r="1.4" fill="#c8c0c4"/>
<circle cx="721.7" cy="958.2" r="1.5" fill="#c8c0c4"/>
<circle cx="690.5" cy="902.2" r="1.1" fill="#c8c0c4"/>
<circle cx="682.9" cy="956.8" r="1.4" fill="#c8c0c4"/>
<circle cx="758.1" cy="934" r="1.1" fill="#c8c0c4"/>
<circle cx="758.3" cy="843" r="1.2" fill="#c8c0c4"/>
<circle cx="701.3" cy="822.8" r="1.6" fill="#c8c0c4"/>
<circle cx="736.1" cy="828.8" r="1.2" fill="#c8c0c4"/>
<circle cx="695.4" cy="842.1" r="1.3" fill="#c8c0c4"/>
<circle cx="777.5" cy="930.7" r="1.4" fill="#c8c0c4"/>
<circle cx="706.3" cy="956.8" r="1.4" fill="#c8c0c4"/>
<circle cx="692.1" cy="837.3" r="1.1" fill="#c8c0c4"/>
<circle cx="717" cy="933" r="1.2" fill="#c8c0c4"/>
<circle cx="685.3" cy="930.6" r="1.5" fill="#c8c0c4"/>
<circle cx="735.3" cy="932" r="1.3" fill="#c8c0c4"/>
<circle cx="712" cy="823.2" r="1.2" fill="#c8c0c4"/>
<circle cx="685.3" cy="921.1" r="1.4" fill="#c8c0c4"/>
<circle cx="731.1" cy="927" r="1.3" fill="#c8c0c4"/>
<circle cx="696.5" cy="857.3" r="1.7" fill="#c8c0c4"/>
<circle cx="698" cy="939.5" r="1.1" fill="#c8c0c4"/>
<circle cx="753.2" cy="839.4" r="1.2" fill="#c8c0c4"/>
</g>
<path d="M765.4 995.2h29M765.4 993.4000000000001v3.6M794.4 993.4000000000001v3.6" stroke="#f4eef0" stroke-width="1.2" fill="none"/>
<text x="779.9" y="991.6" font-family="Liberation Serif" font-weight="bold" font-size="12" fill="#f4eef0" text-anchor="middle">1 cm</text>
<rect x="247" y="107" width="313" height="250" fill="url(#ig0)"/>
<g clip-path="url(#ic0)" fill="#8c8791">
<circle cx="427.3" cy="110.1" r="7.1" fill="#8d8a93"/>
<circle cx="433.7" cy="110.9" r="6.5" fill="#8d8a93"/>
<circle cx="438.3" cy="113.7" r="6.7" fill="#8d8a93"/>
<circle cx="443.9" cy="114.1" r="6.3" fill="#8d8a93"/>
<circle cx="449" cy="115.8" r="6.5" fill="#8d8a93"/>
<circle cx="453.6" cy="117.4" r="7.1" fill="#8d8a93"/>
<circle cx="459.3" cy="119" r="6.8" fill="#8d8a93"/>
<circle cx="465.2" cy="120.9" r="6.3" fill="#8d8a93"/>
<circle cx="470.3" cy="121.5" r="6.6" fill="#8d8a93"/>
<circle cx="474.2" cy="123.3" r="6" fill="#8d8a93"/>
<circle cx="479.8" cy="126" r="5.7" fill="#8d8a93"/>
<circle cx="485.6" cy="126.8" r="7.1" fill="#8d8a93"/>
<circle cx="490.7" cy="129.4" r="6.9" fill="#8d8a93"/>
<circle cx="495.7" cy="130.9" r="6.9" fill="#8d8a93"/>
<circle cx="499.3" cy="133.2" r="6.6" fill="#8d8a93"/>
<circle cx="505.4" cy="134.1" r="5.8" fill="#8d8a93"/>
<circle cx="510" cy="136.6" r="6.7" fill="#8d8a93"/>
<circle cx="514.5" cy="138.3" r="7.1" fill="#8d8a93"/>
<circle cx="519.6" cy="140.5" r="7.1" fill="#8d8a93"/>
<circle cx="525.3" cy="141.2" r="6.3" fill="#8d8a93"/>
<circle cx="529.9" cy="141.9" r="5.8" fill="#8d8a93"/>
<circle cx="534.7" cy="143.2" r="7" fill="#8d8a93"/>
<circle cx="539.8" cy="145.6" r="6.5" fill="#8d8a93"/>
<circle cx="545.6" cy="146.9" r="6.7" fill="#8d8a93"/>
<circle cx="549.9" cy="147.1" r="6.5" fill="#8d8a93"/>
<circle cx="554.7" cy="149.3" r="5.8" fill="#8d8a93"/>
<circle cx="560" cy="150" r="6.5" fill="#8d8a93"/>
<circle cx="469.8" cy="106.9" r="5" fill="#8d8a93"/>
<circle cx="474.4" cy="108.4" r="4.8" fill="#8d8a93"/>
<circle cx="478.2" cy="109.2" r="5" fill="#8d8a93"/>
<circle cx="481.6" cy="109.2" r="5.3" fill="#8d8a93"/>
<circle cx="485.4" cy="110.7" r="5.4" fill="#8d8a93"/>
<circle cx="489.4" cy="111.5" r="5" fill="#8d8a93"/>
<circle cx="492.6" cy="112" r="4.5" fill="#8d8a93"/>
<circle cx="496.5" cy="113.5" r="4.8" fill="#8d8a93"/>
<circle cx="500.3" cy="113.7" r="4.5" fill="#8d8a93"/>
<circle cx="504.7" cy="114.3" r="4.6" fill="#8d8a93"/>
<circle cx="508.6" cy="116" r="4.4" fill="#8d8a93"/>
<circle cx="512.6" cy="116.4" r="4.9" fill="#8d8a93"/>
<circle cx="516.1" cy="116.6" r="4.8" fill="#8d8a93"/>
<circle cx="520" cy="117.8" r="5.5" fill="#8d8a93"/>
<circle cx="523.8" cy="119.4" r="5.3" fill="#8d8a93"/>
<circle cx="528.4" cy="120" r="4.9" fill="#8d8a93"/>
<circle cx="532.4" cy="120.5" r="4.6" fill="#8d8a93"/>
<circle cx="535.4" cy="122" r="4.9" fill="#8d8a93"/>
<circle cx="540.5" cy="123.5" r="4.8" fill="#8d8a93"/>
<circle cx="544" cy="123.5" r="5.2" fill="#8d8a93"/>
<circle cx="548" cy="124.6" r="5.4" fill="#8d8a93"/>
<circle cx="551.5" cy="125.6" r="4.9" fill="#8d8a93"/>
<circle cx="556.6" cy="126.6" r="4.7" fill="#8d8a93"/>
<circle cx="560" cy="128" r="5.1" fill="#8d8a93"/>
<circle cx="519.8" cy="112.4" r="3.5" fill="#8d8a93"/>
<circle cx="522.8" cy="112.3" r="4.3" fill="#8d8a93"/>
<circle cx="525.8" cy="113.1" r="4.3" fill="#8d8a93"/>
<circle cx="529.7" cy="113.7" r="3.6" fill="#8d8a93"/>
<circle cx="532.3" cy="113.6" r="3.6" fill="#8d8a93"/>
<circle cx="535.1" cy="114.5" r="4" fill="#8d8a93"/>
<circle cx="538.1" cy="114.6" r="3.6" fill="#8d8a93"/>
<circle cx="541.9" cy="115.5" r="3.9" fill="#8d8a93"/>
<circle cx="545.1" cy="116.2" r="3.7" fill="#8d8a93"/>
<circle cx="547.5" cy="115.9" r="4.1" fill="#8d8a93"/>
<circle cx="550.9" cy="116.6" r="4.2" fill="#8d8a93"/>
<circle cx="553.9" cy="116.9" r="4.1" fill="#8d8a93"/>
<circle cx="557.4" cy="117.1" r="3.9" fill="#8d8a93"/>
<circle cx="560" cy="118" r="3.7" fill="#8d8a93"/>
<circle cx="339.4" cy="126.9" r="7.5" fill="#8d8a93"/>
<circle cx="344.5" cy="129.6" r="7.1" fill="#8d8a93"/>
<circle cx="349.6" cy="131.4" r="7.4" fill="#8d8a93"/>
<circle cx="354.3" cy="131.7" r="7.6" fill="#8d8a93"/>
<circle cx="359.1" cy="134.9" r="7.6" fill="#8d8a93"/>
<circle cx="365.3" cy="136.8" r="7.1" fill="#8d8a93"/>
<circle cx="370.4" cy="137.8" r="6.5" fill="#8d8a93"/>
<circle cx="374.3" cy="139.7" r="6.9" fill="#8d8a93"/>
<circle cx="379.4" cy="141.1" r="6.6" fill="#8d8a93"/>
<circle cx="384.6" cy="143.3" r="7.1" fill="#8d8a93"/>
<circle cx="390.4" cy="144.9" r="6.8" fill="#8d8a93"/>
<circle cx="394.9" cy="145.9" r="6.7" fill="#8d8a93"/>
<circle cx="400.7" cy="148.6" r="6.6" fill="#8d8a93"/>
<circle cx="405.9" cy="149.5" r="6.2" fill="#8d8a93"/>
<circle cx="411.1" cy="152.5" r="6.7" fill="#8d8a93"/>
<circle cx="416" cy="154" r="7.3" fill="#8d8a93"/>
<circle cx="412.4" cy="135.7" r="7.3" fill="#8d8a93"/>
<circle cx="412" cy="137" r="7.2" fill="#8d8a93"/>
<circle cx="431.4" cy="141.7" r="6.8" fill="#8d8a93"/>
<circle cx="432" cy="142" r="6.6" fill="#8d8a93"/>
<circle cx="451.8" cy="145" r="7" fill="#8d8a93"/>
<circle cx="452" cy="146" r="6.6" fill="#8d8a93"/>
<circle cx="467.3" cy="150.2" r="7.3" fill="#8d8a93"/>
<circle cx="476" cy="152" r="7" fill="#8d8a93"/>
<circle cx="488.8" cy="155.6" r="6.2" fill="#8d8a93"/>
<circle cx="494" cy="157" r="6.4" fill="#8d8a93"/>
<circle cx="506.2" cy="157.1" r="6.5" fill="#8d8a93"/>
<circle cx="512.3" cy="158.3" r="5.7" fill="#8d8a93"/>
<circle cx="517.8" cy="160.2" r="7" fill="#8d8a93"/>
<circle cx="523.6" cy="161" r="6.4" fill="#8d8a93"/>
<circle cx="530.1" cy="162.5" r="6.6" fill="#8d8a93"/>
<circle cx="536.3" cy="163.5" r="7" fill="#8d8a93"/>
<circle cx="540.6" cy="164.9" r="6.2" fill="#8d8a93"/>
<circle cx="547.5" cy="166.1" r="7.1" fill="#8d8a93"/>
<circle cx="552.8" cy="166.6" r="6.5" fill="#8d8a93"/>
<circle cx="558" cy="168" r="6.6" fill="#8d8a93"/>
<circle cx="429.3" cy="158.1" r="6.5" fill="#8d8a93"/>
<circle cx="435.8" cy="159.3" r="6.6" fill="#8d8a93"/>
<circle cx="441.4" cy="160.8" r="6.7" fill="#8d8a93"/>
<circle cx="447.1" cy="162.3" r="6.5" fill="#8d8a93"/>
<circle cx="452" cy="164.5" r="6.1" fill="#8d8a93"/>
<circle cx="457.2" cy="166.3" r="6.7" fill="#8d8a93"/>
<circle cx="462.5" cy="169.7" r="6.4" fill="#8d8a93"/>
<circle cx="468.9" cy="171.4" r="5.8" fill="#8d8a93"/>
<circle cx="474" cy="174" r="6.2" fill="#8d8a93"/>
<circle cx="484.1" cy="178.4" r="7.1" fill="#8d8a93"/>
<circle cx="488.9" cy="180.5" r="5.8" fill="#8d8a93"/>
<circle cx="493.2" cy="181.9" r="6.6" fill="#8d8a93"/>
<circle cx="497.9" cy="183.8" r="6.1" fill="#8d8a93"/>
<circle cx="503.3" cy="185.7" r="6.5" fill="#8d8a93"/>
<circle cx="508" cy="187" r="6.6" fill="#8d8a93"/>
<circle cx="521.2" cy="194.3" r="7.2" fill="#8d8a93"/>
<circle cx="521" cy="196" r="6.8" fill="#8d8a93"/>
<circle cx="488.4" cy="208.7" r="6.2" fill="#8d8a93"/>
<circle cx="493.9" cy="208.4" r="6.6" fill="#8d8a93"/>
<circle cx="498" cy="210.1" r="6.4" fill="#8d8a93"/>
<circle cx="504.1" cy="210.4" r="6.3" fill="#8d8a93"/>
<circle cx="509.2" cy="211.5" r="6.6" fill="#8d8a93"/>
<circle cx="514.3" cy="211.6" r="7.1" fill="#8d8a93"/>
<circle cx="519.4" cy="212.8" r="6.5" fill="#8d8a93"/>
<circle cx="524.4" cy="214.9" r="7.1" fill="#8d8a93"/>
<circle cx="528.8" cy="214.9" r="6" fill="#8d8a93"/>
<circle cx="534" cy="216.1" r="6.7" fill="#8d8a93"/>
<circle cx="539.5" cy="216.9" r="5.8" fill="#8d8a93"/>
<circle cx="543.1" cy="218.4" r="5.9" fill="#8d8a93"/>
<circle cx="548.3" cy="219.6" r="6.8" fill="#8d8a93"/>
<circle cx="554" cy="221.6" r="6.3" fill="#8d8a93"/>
<circle cx="558" cy="222" r="6.5" fill="#8d8a93"/>
<circle cx="547.3" cy="205.2" r="8.1" fill="#8d8a93"/>
<circle cx="550" cy="210.7" r="6.9" fill="#8d8a93"/>
<circle cx="551.4" cy="218" r="7.9" fill="#8d8a93"/>
<circle cx="552" cy="224" r="6.8" fill="#8d8a93"/>
<circle cx="302.2" cy="169.1" r="7.8" fill="#8d8a93"/>
<circle cx="309.5" cy="170.7" r="6.6" fill="#8d8a93"/>
<circle cx="316" cy="172" r="7.6" fill="#8d8a93"/>
<circle cx="346.9" cy="176.2" r="7.2" fill="#8d8a93"/>
<circle cx="346" cy="177" r="7.1" fill="#8d8a93"/>
<circle cx="364.6" cy="180.8" r="7.2" fill="#8d8a93"/>
<circle cx="370.2" cy="182.6" r="7.3" fill="#8d8a93"/>
<circle cx="377.2" cy="183" r="7.8" fill="#8d8a93"/>
<circle cx="384.9" cy="184.9" r="8" fill="#8d8a93"/>
<circle cx="389.5" cy="185.5" r="7.9" fill="#8d8a93"/>
<circle cx="396.2" cy="186.8" r="7.8" fill="#8d8a93"/>
<circle cx="401" cy="187" r="7.7" fill="#8d8a93"/>
<circle cx="354.7" cy="198.8" r="7" fill="#8d8a93"/>
<circle cx="359.1" cy="198.9" r="7" fill="#8d8a93"/>
<circle cx="364.3" cy="200.7" r="7.7" fill="#8d8a93"/>
<circle cx="369.4" cy="204" r="6.2" fill="#8d8a93"/>
<circle cx="374.8" cy="205.5" r="7.2" fill="#8d8a93"/>
<circle cx="380.3" cy="206.8" r="6.3" fill="#8d8a93"/>
<circle cx="385.6" cy="209.1" r="6.9" fill="#8d8a93"/>
<circle cx="390.1" cy="211" r="6.9" fill="#8d8a93"/>
<circle cx="395" cy="212.3" r="7.3" fill="#8d8a93"/>
<circle cx="400.4" cy="213.9" r="7.4" fill="#8d8a93"/>
<circle cx="405" cy="216" r="6.7" fill="#8d8a93"/>
<circle cx="426.3" cy="192.8" r="8.1" fill="#8d8a93"/>
<circle cx="433" cy="195" r="7.2" fill="#8d8a93"/>
<circle cx="438.2" cy="195.9" r="7.6" fill="#8d8a93"/>
<circle cx="443.9" cy="197.6" r="8.1" fill="#8d8a93"/>
<circle cx="451" cy="199" r="6.8" fill="#8d8a93"/>
<circle cx="439.8" cy="230.1" r="8.8" fill="#8d8a93"/>
<circle cx="440" cy="231" r="8.1" fill="#8d8a93"/>
<circle cx="304.4" cy="236.5" r="7.3" fill="#8d8a93"/>
<circle cx="309.8" cy="237.1" r="8" fill="#8d8a93"/>
<circle cx="317.4" cy="236.5" r="7.4" fill="#8d8a93"/>
<circle cx="323.5" cy="237.3" r="7.4" fill="#8d8a93"/>
<circle cx="329.9" cy="238.9" r="7.6" fill="#8d8a93"/>
<circle cx="336.9" cy="239.7" r="6.9" fill="#8d8a93"/>
<circle cx="342.5" cy="239.8" r="7.6" fill="#8d8a93"/>
<circle cx="348.1" cy="241.4" r="7.1" fill="#8d8a93"/>
<circle cx="354.3" cy="241.8" r="7.9" fill="#8d8a93"/>
<circle cx="360" cy="243.3" r="8.2" fill="#8d8a93"/>
<circle cx="365.6" cy="243.1" r="8.1" fill="#8d8a93"/>
<circle cx="372" cy="245" r="7.3" fill="#8d8a93"/>
<circle cx="381.3" cy="247.6" r="8.1" fill="#8d8a93"/>
<circle cx="386.4" cy="249" r="7.2" fill="#8d8a93"/>
<circle cx="392.6" cy="249.9" r="7.2" fill="#8d8a93"/>
<circle cx="397.6" cy="250.2" r="7.2" fill="#8d8a93"/>
<circle cx="403.1" cy="252.2" r="6.7" fill="#8d8a93"/>
<circle cx="409.7" cy="253.2" r="7.5" fill="#8d8a93"/>
<circle cx="414.7" cy="253.5" r="7.9" fill="#8d8a93"/>
<circle cx="420.7" cy="254.8" r="7.4" fill="#8d8a93"/>
<circle cx="425" cy="255.7" r="8" fill="#8d8a93"/>
<circle cx="431.4" cy="257.1" r="7.7" fill="#8d8a93"/>
<circle cx="436.1" cy="257.4" r="7.2" fill="#8d8a93"/>
<circle cx="442.4" cy="258.9" r="7.5" fill="#8d8a93"/>
<circle cx="447.5" cy="260.1" r="7.8" fill="#8d8a93"/>
<circle cx="453.1" cy="262.1" r="7.8" fill="#8d8a93"/>
<circle cx="458.7" cy="261.9" r="8" fill="#8d8a93"/>
<circle cx="464.5" cy="264" r="7.7" fill="#8d8a93"/>
<circle cx="470.1" cy="265.7" r="6.6" fill="#8d8a93"/>
<circle cx="477" cy="266" r="7.3" fill="#8d8a93"/>
<circle cx="483.1" cy="267.4" r="7.6" fill="#8d8a93"/>
<circle cx="487.6" cy="267.7" r="7.3" fill="#8d8a93"/>
<circle cx="494.8" cy="268.9" r="6.8" fill="#8d8a93"/>
<circle cx="501.5" cy="268.8" r="7" fill="#8d8a93"/>
<circle cx="507" cy="270" r="6.8" fill="#8d8a93"/>
<circle cx="484.3" cy="249.6" r="7.5" fill="#8d8a93"/>
<circle cx="485" cy="251" r="7.8" fill="#8d8a93"/>
<circle cx="506.4" cy="256.6" r="7.7" fill="#8d8a93"/>
<circle cx="508.3" cy="264.2" r="8.2" fill="#8d8a93"/>
<circle cx="509" cy="272" r="7.4" fill="#8d8a93"/>
<circle cx="291.2" cy="246.1" r="7.3" fill="#8d8a93"/>
<circle cx="296.1" cy="247.5" r="7.2" fill="#8d8a93"/>
<circle cx="300.8" cy="251.2" r="7.2" fill="#8d8a93"/>
<circle cx="305.7" cy="252.6" r="6.2" fill="#8d8a93"/>
<circle cx="310.3" cy="254.8" r="7.5" fill="#8d8a93"/>
<circle cx="316.4" cy="257.7" r="7.1" fill="#8d8a93"/>
<circle cx="320.6" cy="259.5" r="7.2" fill="#8d8a93"/>
<circle cx="325.2" cy="261.6" r="7.4" fill="#8d8a93"/>
<circle cx="329.7" cy="263.8" r="7.2" fill="#8d8a93"/>
<circle cx="335.4" cy="266.6" r="6.8" fill="#8d8a93"/>
<circle cx="339" cy="269.2" r="6.7" fill="#8d8a93"/>
<circle cx="344.2" cy="272" r="6.9" fill="#8d8a93"/>
<circle cx="347.9" cy="275.6" r="7.4" fill="#8d8a93"/>
<circle cx="352.2" cy="278.3" r="6.4" fill="#8d8a93"/>
<circle cx="357.7" cy="281.4" r="6.5" fill="#8d8a93"/>
<circle cx="362" cy="284" r="6.5" fill="#8d8a93"/>
<circle cx="380.7" cy="279.7" r="7" fill="#8d8a93"/>
<circle cx="383.6" cy="287.5" r="6.3" fill="#8d8a93"/>
<circle cx="385" cy="294" r="6.3" fill="#8d8a93"/>
<circle cx="398.5" cy="299.9" r="8.2" fill="#8d8a93"/>
<circle cx="400" cy="301" r="6.9" fill="#8d8a93"/>
<circle cx="417.8" cy="310.4" r="9.1" fill="#8d8a93"/>
<circle cx="422.8" cy="315.5" r="7.6" fill="#8d8a93"/>
<circle cx="428.7" cy="320" r="9" fill="#8d8a93"/>
<circle cx="434" cy="325" r="8" fill="#8d8a93"/>
<circle cx="438.2" cy="329.2" r="7.6" fill="#8d8a93"/>
<circle cx="444.7" cy="333.9" r="8.4" fill="#8d8a93"/>
<circle cx="449" cy="338" r="8.1" fill="#8d8a93"/>
<circle cx="249.4" cy="262.1" r="6.3" fill="#8d8a93"/>
<circle cx="252.3" cy="265.2" r="6.2" fill="#8d8a93"/>
<circle cx="255.7" cy="270" r="5.8" fill="#8d8a93"/>
<circle cx="259.3" cy="273.9" r="5.7" fill="#8d8a93"/>
<circle cx="261.5" cy="277.3" r="5.9" fill="#8d8a93"/>
<circle cx="264.7" cy="281.2" r="6.4" fill="#8d8a93"/>
<circle cx="266.8" cy="284.7" r="6" fill="#8d8a93"/>
<circle cx="270.1" cy="287.8" r="6.4" fill="#8d8a93"/>
<circle cx="272.8" cy="291.8" r="6.4" fill="#8d8a93"/>
<circle cx="275.8" cy="296.4" r="6.3" fill="#8d8a93"/>
<circle cx="278.7" cy="300.5" r="5.4" fill="#8d8a93"/>
<circle cx="281.2" cy="303.2" r="6.1" fill="#8d8a93"/>
<circle cx="283.9" cy="306.7" r="5.5" fill="#8d8a93"/>
<circle cx="286.7" cy="311.3" r="5.9" fill="#8d8a93"/>
<circle cx="289.9" cy="314.3" r="6" fill="#8d8a93"/>
<circle cx="292.2" cy="318.1" r="5.4" fill="#8d8a93"/>
<circle cx="294.6" cy="322.3" r="5.5" fill="#8d8a93"/>
<circle cx="297.6" cy="325.7" r="6.3" fill="#8d8a93"/>
<circle cx="300.7" cy="329.7" r="5.4" fill="#8d8a93"/>
<circle cx="303.4" cy="333" r="6.1" fill="#8d8a93"/>
<circle cx="305.6" cy="337.3" r="6.5" fill="#8d8a93"/>
<circle cx="307.3" cy="341.4" r="6.5" fill="#8d8a93"/>
<circle cx="310.9" cy="345.3" r="5.9" fill="#8d8a93"/>
<circle cx="312.9" cy="349" r="5.8" fill="#8d8a93"/>
<circle cx="315.1" cy="351.6" r="5.5" fill="#8d8a93"/>
<circle cx="318" cy="356" r="5.5" fill="#8d8a93"/>
<circle cx="264.5" cy="257.8" r="4.3" fill="#8d8a93"/>
<circle cx="266.6" cy="261" r="4.4" fill="#8d8a93"/>
<circle cx="267.7" cy="263.4" r="4.2" fill="#8d8a93"/>
<circle cx="270.7" cy="266.3" r="4.9" fill="#8d8a93"/>
<circle cx="272.1" cy="268.6" r="4.9" fill="#8d8a93"/>
<circle cx="274" cy="272.2" r="4.5" fill="#8d8a93"/>
<circle cx="276.3" cy="275.1" r="4.4" fill="#8d8a93"/>
<circle cx="279.1" cy="277.5" r="4.9" fill="#8d8a93"/>
<circle cx="281.2" cy="280.1" r="4.6" fill="#8d8a93"/>
<circle cx="283" cy="283.2" r="4" fill="#8d8a93"/>
<circle cx="285.1" cy="286.1" r="4.2" fill="#8d8a93"/>
<circle cx="286.5" cy="288.1" r="4.5" fill="#8d8a93"/>
<circle cx="288.6" cy="291.8" r="4.4" fill="#8d8a93"/>
<circle cx="291.7" cy="294.4" r="4.4" fill="#8d8a93"/>
<circle cx="292.9" cy="296.9" r="4.6" fill="#8d8a93"/>
<circle cx="295.7" cy="300.2" r="4.3" fill="#8d8a93"/>
<circle cx="296.9" cy="302.7" r="4.6" fill="#8d8a93"/>
<circle cx="299.6" cy="305.6" r="4.8" fill="#8d8a93"/>
<circle cx="301.7" cy="308.4" r="4.1" fill="#8d8a93"/>
<circle cx="304.1" cy="311" r="4.1" fill="#8d8a93"/>
<circle cx="305.4" cy="313.8" r="4.3" fill="#8d8a93"/>
<circle cx="308.3" cy="316.2" r="4.4" fill="#8d8a93"/>
<circle cx="309.9" cy="319.7" r="4.3" fill="#8d8a93"/>
<circle cx="312.4" cy="322.2" r="4.5" fill="#8d8a93"/>
<circle cx="314.5" cy="325.3" r="4.7" fill="#8d8a93"/>
<circle cx="316" cy="327.3" r="4.2" fill="#8d8a93"/>
<circle cx="318.2" cy="330.3" r="4.6" fill="#8d8a93"/>
<circle cx="319.8" cy="333.5" r="4.8" fill="#8d8a93"/>
<circle cx="322.4" cy="336.9" r="4.4" fill="#8d8a93"/>
<circle cx="324" cy="340" r="4.9" fill="#8d8a93"/>
<circle cx="326.1" cy="342" r="4.9" fill="#8d8a93"/>
<circle cx="327.5" cy="344.9" r="4.6" fill="#8d8a93"/>
<circle cx="329.7" cy="348.5" r="4.6" fill="#8d8a93"/>
<circle cx="331.6" cy="351.6" r="4.9" fill="#8d8a93"/>
<circle cx="334.2" cy="354.6" r="4.8" fill="#8d8a93"/>
<circle cx="336" cy="357" r="4.4" fill="#8d8a93"/>
<circle cx="254.3" cy="300.4" r="4.1" fill="#8d8a93"/>
<circle cx="255.3" cy="302.4" r="4.1" fill="#8d8a93"/>
<circle cx="257.3" cy="304.6" r="3.9" fill="#8d8a93"/>
<circle cx="258.8" cy="307.4" r="3.6" fill="#8d8a93"/>
<circle cx="261.1" cy="309.6" r="4.3" fill="#8d8a93"/>
<circle cx="262.2" cy="312.5" r="4.1" fill="#8d8a93"/>
<circle cx="264" cy="315" r="4" fill="#8d8a93"/>
<circle cx="266.1" cy="317" r="3.9" fill="#8d8a93"/>
<circle cx="268" cy="319.9" r="3.7" fill="#8d8a93"/>
<circle cx="269.3" cy="322.6" r="3.6" fill="#8d8a93"/>
<circle cx="271.1" cy="324.8" r="3.9" fill="#8d8a93"/>
<circle cx="272.4" cy="326.9" r="4.3" fill="#8d8a93"/>
<circle cx="274.5" cy="329.5" r="3.9" fill="#8d8a93"/>
<circle cx="275.9" cy="331.8" r="4.2" fill="#8d8a93"/>
<circle cx="278.2" cy="334.4" r="3.8" fill="#8d8a93"/>
<circle cx="279.3" cy="337" r="4" fill="#8d8a93"/>
<circle cx="281.7" cy="339.6" r="4.3" fill="#8d8a93"/>
<circle cx="283.6" cy="342.2" r="3.6" fill="#8d8a93"/>
<circle cx="284.5" cy="344.7" r="3.6" fill="#8d8a93"/>
<circle cx="287" cy="346.6" r="3.6" fill="#8d8a93"/>
<circle cx="288.8" cy="349.4" r="4" fill="#8d8a93"/>
<circle cx="290" cy="352" r="4" fill="#8d8a93"/>
<circle cx="270" cy="312" r="4.4" fill="#8d8a93"/>
<circle cx="278" cy="326" r="4.8" fill="#8d8a93"/>
<circle cx="287" cy="338" r="4.8" fill="#8d8a93"/>
<circle cx="297" cy="350" r="5.4" fill="#8d8a93"/>
<circle cx="256" cy="332" r="5.4" fill="#8d8a93"/>
<circle cx="262" cy="347" r="5.3" fill="#8d8a93"/>
<circle cx="250" cy="318" r="4.5" fill="#8d8a93"/>
<circle cx="252" cy="350" r="4.9" fill="#8d8a93"/>
</g>
<path d="M465 339.9h80M465 336.9v6M545 336.9v6" stroke="#f4eef0" stroke-width="1.8" fill="none"/>
<text x="505" y="334.7" font-family="Liberation Serif" font-weight="bold" font-size="16.5" fill="#f4eef0" text-anchor="middle">1 cm</text>
<rect x="808" y="107" width="313" height="250" fill="url(#ig1)"/>
<g clip-path="url(#ic1)" fill="#8c8791">
<path d="M812 127 L899 315" stroke="#c8b0b0" stroke-width="1" stroke-linecap="round" stroke-linejoin="round" fill="none" opacity="0.6"/>
<path d="M808 200 L850 357" stroke="#c8b0b0" stroke-width="1" stroke-linecap="round" stroke-linejoin="round" fill="none" opacity="0.5"/>
<circle cx="927" cy="118" r="8.1" fill="#8e8e96"/>
<circle cx="953" cy="123" r="7.2" fill="#8e8e96"/>
<circle cx="891" cy="133" r="7.4" fill="#8e8e96"/>
<circle cx="879" cy="138" r="7.7" fill="#8e8e96"/>
<circle cx="999" cy="136" r="8.2" fill="#8e8e96"/>
<circle cx="1056" cy="110" r="7" fill="#8e8e96"/>
<circle cx="1114" cy="113" r="7.8" fill="#8e8e96"/>
<circle cx="943" cy="154" r="7.6" fill="#8e8e96"/>
<circle cx="1020" cy="154" r="7.6" fill="#8e8e96"/>
<circle cx="1114" cy="164" r="8" fill="#8e8e96"/>
<circle cx="912" cy="168" r="7.1" fill="#8e8e96"/>
<circle cx="926" cy="163" r="7.7" fill="#8e8e96"/>
<circle cx="1085" cy="182" r="7.4" fill="#8e8e96"/>
<circle cx="1098" cy="181" r="7.9" fill="#8e8e96"/>
<circle cx="1067" cy="193" r="7.9" fill="#8e8e96"/>
<circle cx="986" cy="193" r="7.5" fill="#8e8e96"/>
<circle cx="942" cy="196" r="7.2" fill="#8e8e96"/>
<circle cx="877" cy="188" r="7.9" fill="#8e8e96"/>
<circle cx="864" cy="197" r="7.8" fill="#8e8e96"/>
<circle cx="897" cy="219" r="7.7" fill="#8e8e96"/>
<circle cx="879" cy="232" r="7.9" fill="#8e8e96"/>
<circle cx="936" cy="243" r="8.1" fill="#8e8e96"/>
<circle cx="1067" cy="220" r="7.3" fill="#8e8e96"/>
<circle cx="1053" cy="226" r="7.8" fill="#8e8e96"/>
<circle cx="1035" cy="282" r="8" fill="#8e8e96"/>
<circle cx="996" cy="309" r="7.3" fill="#8e8e96"/>
<circle cx="959" cy="330" r="8.1" fill="#8e8e96"/>
<circle cx="1119" cy="238" r="7.4" fill="#8e8e96"/>
<circle cx="920" cy="166" r="8.2" fill="#8e8e96"/>
<circle cx="884.9" cy="351.1" r="4.8" fill="#8a8692"/>
<circle cx="868.5" cy="267.4" r="4.6" fill="#8a8692"/>
<circle cx="863" cy="335.1" r="3.6" fill="#8a8692"/>
<circle cx="830.5" cy="203.1" r="3.3" fill="#8a8692"/>
<circle cx="883.2" cy="274.6" r="3.9" fill="#8a8692"/>
<circle cx="829.1" cy="324.4" r="3.4" fill="#8a8692"/>
<circle cx="896.8" cy="329.1" r="4.7" fill="#8a8692"/>
<circle cx="860.6" cy="354.4" r="4.6" fill="#8a8692"/>
<circle cx="844.7" cy="211.2" r="4.1" fill="#8a8692"/>
<circle cx="858.4" cy="228.1" r="4.5" fill="#8a8692"/>
<circle cx="866.4" cy="294.9" r="4.8" fill="#8a8692"/>
<circle cx="819.5" cy="144.1" r="4.9" fill="#8a8692"/>
<circle cx="833.5" cy="316.7" r="3.9" fill="#8a8692"/>
<circle cx="864.6" cy="270.2" r="3.3" fill="#8a8692"/>
<circle cx="809.5" cy="202.4" r="4.8" fill="#8a8692"/>
<circle cx="861.2" cy="230.4" r="4.5" fill="#8a8692"/>
<circle cx="845.6" cy="217.1" r="4.1" fill="#8a8692"/>
<circle cx="839.3" cy="233.1" r="4.5" fill="#8a8692"/>
<circle cx="854.1" cy="263.7" r="3.6" fill="#8a8692"/>
<circle cx="859.2" cy="261.4" r="3.9" fill="#8a8692"/>
<circle cx="832.1" cy="329.9" r="3.3" fill="#8a8692"/>
<circle cx="881.1" cy="258.3" r="3.9" fill="#8a8692"/>
<circle cx="890.6" cy="331.7" r="3.8" fill="#8a8692"/>
<circle cx="815.9" cy="183.4" r="4.8" fill="#8a8692"/>
<circle cx="887" cy="303.6" r="3.9" fill="#8a8692"/>
<circle cx="850.7" cy="289.8" r="4.2" fill="#8a8692"/>
<circle cx="853.3" cy="290" r="4.8" fill="#8a8692"/>
<circle cx="869.6" cy="310.9" r="3.4" fill="#8a8692"/>
<circle cx="832.7" cy="198.4" r="4.5" fill="#8a8692"/>
<circle cx="902" cy="338.1" r="3.9" fill="#8a8692"/>
<circle cx="816.6" cy="315.5" r="3.7" fill="#8a8692"/>
<circle cx="837.9" cy="302.3" r="4" fill="#8a8692"/>
<circle cx="878.5" cy="353.3" r="3.2" fill="#8a8692"/>
<circle cx="860.9" cy="255.8" r="3.3" fill="#8a8692"/>
<circle cx="858.4" cy="241" r="3.7" fill="#8a8692"/>
<circle cx="830.6" cy="284.8" r="4.3" fill="#8a8692"/>
<circle cx="818.7" cy="351.2" r="3.4" fill="#8a8692"/>
<circle cx="837.4" cy="201.1" r="3.9" fill="#8a8692"/>
<circle cx="872.7" cy="336" r="3.4" fill="#8a8692"/>
<circle cx="883.8" cy="275.5" r="3.7" fill="#8a8692"/>
<circle cx="854.9" cy="236.5" r="4.8" fill="#8a8692"/>
<circle cx="817.1" cy="217.6" r="4.7" fill="#8a8692"/>
<circle cx="865.3" cy="224.8" r="4.3" fill="#8a8692"/>
<circle cx="813.3" cy="280.6" r="4.4" fill="#8a8692"/>
<circle cx="822.9" cy="230.5" r="4.7" fill="#8a8692"/>
<circle cx="826" cy="152" r="5.6" fill="#8a8490"/>
<circle cx="840" cy="156" r="6.1" fill="#8a8490"/>
<circle cx="823" cy="165" r="5.7" fill="#8a8490"/>
<circle cx="831" cy="171" r="6.1" fill="#8a8490"/>
<circle cx="817" cy="191" r="5.8" fill="#8a8490"/>
<circle cx="833" cy="195" r="5.7" fill="#8a8490"/>
<circle cx="841" cy="201" r="6.8" fill="#8a8490"/>
<circle cx="827" cy="208" r="6.3" fill="#8a8490"/>
<circle cx="821" cy="222" r="6.9" fill="#8a8490"/>
<circle cx="835" cy="226" r="5.7" fill="#8a8490"/>
<circle cx="830" cy="244" r="5.9" fill="#8a8490"/>
<circle cx="836" cy="259" r="5.8" fill="#8a8490"/>
<circle cx="868" cy="262" r="6.7" fill="#8a8490"/>
<circle cx="873" cy="254" r="5.8" fill="#8a8490"/>
<circle cx="870" cy="277" r="6.3" fill="#8a8490"/>
<circle cx="839" cy="280" r="5.4" fill="#8a8490"/>
<circle cx="856" cy="283" r="6.1" fill="#8a8490"/>
<circle cx="812" cy="272" r="5.6" fill="#8a8490"/>
<circle cx="819" cy="294" r="6.7" fill="#8a8490"/>
<circle cx="831" cy="302" r="5.8" fill="#8a8490"/>
<circle cx="854" cy="301" r="6.8" fill="#8a8490"/>
<circle cx="860" cy="311" r="6.1" fill="#8a8490"/>
<circle cx="883" cy="299" r="5.7" fill="#8a8490"/>
<circle cx="883" cy="307" r="6.1" fill="#8a8490"/>
<circle cx="893" cy="322" r="6.8" fill="#8a8490"/>
<circle cx="903" cy="318" r="6.3" fill="#8a8490"/>
<circle cx="868" cy="324" r="6.6" fill="#8a8490"/>
<circle cx="843" cy="330" r="6.1" fill="#8a8490"/>
<circle cx="852" cy="338" r="6.2" fill="#8a8490"/>
<circle cx="877" cy="340" r="5.4" fill="#8a8490"/>
<circle cx="905" cy="334" r="6.6" fill="#8a8490"/>
<circle cx="918" cy="338" r="6.3" fill="#8a8490"/>
<circle cx="891" cy="346" r="6.3" fill="#8a8490"/>
<circle cx="924" cy="352" r="5.6" fill="#8a8490"/>
<circle cx="914" cy="350" r="6.5" fill="#8a8490"/>
<circle cx="866" cy="352" r="6" fill="#8a8490"/>
<circle cx="817" cy="317" r="5.7" fill="#8a8490"/>
<circle cx="821" cy="338" r="6.9" fill="#8a8490"/>
<circle cx="825" cy="350" r="6.5" fill="#8a8490"/>
<circle cx="812" cy="327" r="6.3" fill="#8a8490"/>
<circle cx="812" cy="240" r="6.6" fill="#8a8490"/>
<circle cx="845" cy="310" r="6.4" fill="#8a8490"/>
<circle cx="810" cy="300" r="5.8" fill="#8a8490"/>
<circle cx="862" cy="345" r="6.8" fill="#8a8490"/>
<circle cx="835" cy="345" r="6.7" fill="#8a8490"/>
</g>
<path d="M1027.5 339.9h80M1027.5 336.9v6M1107.5 336.9v6" stroke="#f4eef0" stroke-width="1.8" fill="none"/>
<text x="1067.5" y="334.7" font-family="Liberation Serif" font-weight="bold" font-size="16.5" fill="#f4eef0" text-anchor="middle">1 cm</text>
<rect x="1368" y="107" width="313" height="250" fill="url(#ig2)"/>
<g clip-path="url(#ic2)" fill="#8c8791">
<path d="M1368.3 107.2 L1448.9 107.2 L1428.2 137.2 L1405.5 168.2 L1393.1 199.3 L1382.7 224.1 L1368.3 248.9Z" fill="#4a3042" opacity="0.6"/>
<path d="M1408.6 113.7 L1411.8 108" stroke="#8a8290" stroke-width="4.931934780234559" stroke-linecap="round" stroke-linejoin="round" fill="none"/>
<circle cx="1433.1" cy="110.3" r="2.6" fill="#8a8290"/>
<circle cx="1401.4" cy="123.5" r="3.5" fill="#8a8290"/>
<circle cx="1370.7" cy="121.8" r="3.6" fill="#8a8290"/>
<circle cx="1372.1" cy="152.8" r="3.1" fill="#8a8290"/>
<path d="M1386.2 198.7 L1389.7 198.4" stroke="#8a8290" stroke-width="4.591769989484539" stroke-linecap="round" stroke-linejoin="round" fill="none"/>
<circle cx="1376.6" cy="148.3" r="2.2" fill="#8a8290"/>
<path d="M1432.5 110.8 L1436.5 105.3" stroke="#8a8290" stroke-width="5.207936115813064" stroke-linecap="round" stroke-linejoin="round" fill="none"/>
<circle cx="1411.3" cy="157.1" r="3" fill="#8a8290"/>
<path d="M1383.4 202.5 L1381.6 200" stroke="#8a8290" stroke-width="4.810052177493012" stroke-linecap="round" stroke-linejoin="round" fill="none"/>
<path d="M1430.1 125.8 L1427.5 120.1" stroke="#8a8290" stroke-width="4.660927506521889" stroke-linecap="round" stroke-linejoin="round" fill="none"/>
<circle cx="1369.6" cy="207" r="3.2" fill="#8a8290"/>
<circle cx="1383.2" cy="209.3" r="3.3" fill="#8a8290"/>
<path d="M1380 124.8 L1380.3 130.4" stroke="#8a8290" stroke-width="4.400431464613419" stroke-linecap="round" stroke-linejoin="round" fill="none"/>
<circle cx="1423.6" cy="126.3" r="3.1" fill="#8a8290"/>
<path d="M1374.8 208.7 L1382 205.4" stroke="#8a8290" stroke-width="5.310530095380317" stroke-linecap="round" stroke-linejoin="round" fill="none"/>
<path d="M1391.7 115.9 L1388.3 110.1" stroke="#8a8290" stroke-width="5.023774759614708" stroke-linecap="round" stroke-linejoin="round" fill="none"/>
<path d="M1398.6 127.1 L1399.2 118.7" stroke="#8a8290" stroke-width="5.9711099795310165" stroke-linecap="round" stroke-linejoin="round" fill="none"/>
<circle cx="1403.5" cy="129.3" r="3" fill="#8a8290"/>
<path d="M1385.4 147.4 L1386.1 154.8" stroke="#8a8290" stroke-width="4.547672279295655" stroke-linecap="round" stroke-linejoin="round" fill="none"/>
<circle cx="1401.3" cy="173.8" r="3.5" fill="#8a8290"/>
<circle cx="1381.1" cy="110.9" r="3.4" fill="#8a8290"/>
<circle cx="1389.3" cy="164.1" r="2.8" fill="#8a8290"/>
<path d="M1383.2 183.5 L1381 180.7" stroke="#8a8290" stroke-width="4.863336000838845" stroke-linecap="round" stroke-linejoin="round" fill="none"/>
<path d="M1402 170.1 L1400.4 175.5" stroke="#8a8290" stroke-width="5.96074144701473" stroke-linecap="round" stroke-linejoin="round" fill="none"/>
<path d="M1393 183.7 L1389.6 189.5" stroke="#8a8290" stroke-width="4.842884038894537" stroke-linecap="round" stroke-linejoin="round" fill="none"/>
<circle cx="1380.2" cy="158.7" r="2.2" fill="#8a8290"/>
<path d="M1373.6 125 L1381.6 127.1" stroke="#8a8290" stroke-width="5.016116327477118" stroke-linecap="round" stroke-linejoin="round" fill="none"/>
<circle cx="1401.2" cy="155.9" r="3.4" fill="#8a8290"/>
<path d="M1413.3 121.8 L1417.3 119.9" stroke="#8a8290" stroke-width="5.549390975148656" stroke-linecap="round" stroke-linejoin="round" fill="none"/>
<circle cx="1388.8" cy="208.3" r="3.2" fill="#8a8290"/>
<path d="M1430.8 111.8 L1426.4 111.2" stroke="#8a8290" stroke-width="4.614513960827961" stroke-linecap="round" stroke-linejoin="round" fill="none"/>
<circle cx="1382.6" cy="117.2" r="3.2" fill="#8a8290"/>
<path d="M1415.8 127.9 L1413.2 124.4" stroke="#8a8290" stroke-width="5.332880977381915" stroke-linecap="round" stroke-linejoin="round" fill="none"/>
<path d="M1422.2 137.6 L1418.2 134.2" stroke="#8a8290" stroke-width="5.385735703563851" stroke-linecap="round" stroke-linejoin="round" fill="none"/>
<circle cx="1396.1" cy="134.3" r="3" fill="#8a8290"/>
<path d="M1379.9 140.8 L1386.5 141.6" stroke="#8a8290" stroke-width="4.815796032346912" stroke-linecap="round" stroke-linejoin="round" fill="none"/>
<circle cx="1406.9" cy="137.4" r="3.6" fill="#8a8290"/>
<path d="M1397.8 149 L1393.6 153.6" stroke="#8a8290" stroke-width="4.281174988607607" stroke-linecap="round" stroke-linejoin="round" fill="none"/>
<path d="M1372.5 125.7 L1367.5 124.2" stroke="#8a8290" stroke-width="5.42429868917334" stroke-linecap="round" stroke-linejoin="round" fill="none"/>
<circle cx="1386" cy="193.4" r="2.4" fill="#8a8290"/>
<path d="M1430.8 133.3 L1431.2 127.7" stroke="#8a8290" stroke-width="4.906887040412201" stroke-linecap="round" stroke-linejoin="round" fill="none"/>
<path d="M1384.8 127 L1380.4 131.6" stroke="#8a8290" stroke-width="4.736089555198895" stroke-linecap="round" stroke-linejoin="round" fill="none"/>
<path d="M1389.7 130.3 L1386.2 131.9" stroke="#8a8290" stroke-width="5.7464845305029915" stroke-linecap="round" stroke-linejoin="round" fill="none"/>
<circle cx="1380.7" cy="139.7" r="3.1" fill="#8a8290"/>
<path d="M1431 111.6 L1428.6 104" stroke="#8a8290" stroke-width="4.843709912027996" stroke-linecap="round" stroke-linejoin="round" fill="none"/>
<circle cx="1403.5" cy="120.5" r="3.6" fill="#8a8290"/>
<path d="M1379.6 167.1 L1377.9 171.3" stroke="#8a8290" stroke-width="4.041102119013708" stroke-linecap="round" stroke-linejoin="round" fill="none"/>
<path d="M1385.3 143.9 L1388.9 150.7" stroke="#8a8290" stroke-width="5.74446554979937" stroke-linecap="round" stroke-linejoin="round" fill="none"/>
<path d="M1402.2 125.7 L1401.1 129.2" stroke="#8a8290" stroke-width="5.418643111985565" stroke-linecap="round" stroke-linejoin="round" fill="none"/>
<circle cx="1413.4" cy="145.7" r="3.4" fill="#8a8290"/>
<circle cx="1415.5" cy="138.5" r="3.1" fill="#8a8290"/>
<path d="M1392.9 192.9 L1396.5 193.9" stroke="#8a8290" stroke-width="4.828441558020858" stroke-linecap="round" stroke-linejoin="round" fill="none"/>
<path d="M1380.2 184.6 L1374.3 178.7" stroke="#8a8290" stroke-width="5.216432404466149" stroke-linecap="round" stroke-linejoin="round" fill="none"/>
<path d="M1430.5 123.6 L1436.4 120.8" stroke="#8a8290" stroke-width="5.655222777462359" stroke-linecap="round" stroke-linejoin="round" fill="none"/>
<path d="M1381.2 175.3 L1383.5 167.3" stroke="#8a8290" stroke-width="5.036233275726813" stroke-linecap="round" stroke-linejoin="round" fill="none"/>
<path d="M1369.8 167.6 L1370.4 163.2" stroke="#8a8290" stroke-width="4.0504927997532505" stroke-linecap="round" stroke-linejoin="round" fill="none"/>
<path d="M1426.5 134.3 L1423.1 132.8" stroke="#8a8290" stroke-width="5.0418711683090764" stroke-linecap="round" stroke-linejoin="round" fill="none"/>
<path d="M1380.2 191.4 L1373.4 186.3" stroke="#8a8290" stroke-width="4.402693431342452" stroke-linecap="round" stroke-linejoin="round" fill="none"/>
<circle cx="1372" cy="183.4" r="2.8" fill="#8a8290"/>
<path d="M1414 147.5 L1413.9 152.3" stroke="#8a8290" stroke-width="4.3852256006354935" stroke-linecap="round" stroke-linejoin="round" fill="none"/>
<path d="M1397.7 123.9 L1394.4 129.3" stroke="#8a8290" stroke-width="5.311108704515524" stroke-linecap="round" stroke-linejoin="round" fill="none"/>
<path d="M1368.4 113.7 L1370.8 111.1" stroke="#8a8290" stroke-width="4.44609812847523" stroke-linecap="round" stroke-linejoin="round" fill="none"/>
<circle cx="1375.6" cy="235.5" r="3.2" fill="#8a8290"/>
<circle cx="1403.2" cy="170.7" r="2.6" fill="#8a8290"/>
<circle cx="1414.3" cy="150" r="2.4" fill="#8a8290"/>
<circle cx="1391.3" cy="122.4" r="2.6" fill="#8a8290"/>
<circle cx="1383.8" cy="188.1" r="2.5" fill="#8a8290"/>
<path d="M1368.5 108.6 L1374.8 109.7" stroke="#8a8290" stroke-width="4.051216098551734" stroke-linecap="round" stroke-linejoin="round" fill="none"/>
<path d="M1411.8 137.9 L1419.6 136.5" stroke="#8a8290" stroke-width="5.863967254607712" stroke-linecap="round" stroke-linejoin="round" fill="none"/>
<circle cx="1431.7" cy="131" r="2.9" fill="#8a8290"/>
<circle cx="1395.4" cy="107.8" r="3.6" fill="#8a8290"/>
<path d="M1376 180.7 L1378.6 176.5" stroke="#8a8290" stroke-width="5.214597648048026" stroke-linecap="round" stroke-linejoin="round" fill="none"/>
<path d="M1413.8 155.2 L1412.9 148.1" stroke="#8a8290" stroke-width="5.350251453978585" stroke-linecap="round" stroke-linejoin="round" fill="none"/>
<circle cx="1396.6" cy="140.2" r="3.1" fill="#8a8290"/>
<circle cx="1382" cy="147.2" r="2.8" fill="#8a8290"/>
<circle cx="1409.6" cy="157" r="2.5" fill="#8a8290"/>
<circle cx="1375.5" cy="147.5" r="2.9" fill="#8a8290"/>
<path d="M1414.5 123.5 L1408 125.5" stroke="#8a8290" stroke-width="4.860427602373338" stroke-linecap="round" stroke-linejoin="round" fill="none"/>
<circle cx="1378" cy="185" r="3.4" fill="#8a8290"/>
<circle cx="1398.2" cy="139" r="3.8" fill="#8a8290"/>
<path d="M1377.9 142.8 L1383.1 144.6" stroke="#8a8290" stroke-width="4.865699415169377" stroke-linecap="round" stroke-linejoin="round" fill="none"/>
<circle cx="1375.1" cy="137.7" r="2.6" fill="#8a8290"/>
<path d="M1376.3 145.2 L1371.7 142.4" stroke="#8a8290" stroke-width="4.144070776779905" stroke-linecap="round" stroke-linejoin="round" fill="none"/>
<path d="M1372.8 138 L1378.4 140.2" stroke="#8a8290" stroke-width="5.635609233512794" stroke-linecap="round" stroke-linejoin="round" fill="none"/>
<circle cx="1368.5" cy="148" r="3.2" fill="#8a8290"/>
<path d="M1403.3 155.1 L1395 157.3" stroke="#8a8290" stroke-width="5.058291659807712" stroke-linecap="round" stroke-linejoin="round" fill="none"/>
<circle cx="1392.8" cy="132.5" r="2.9" fill="#8a8290"/>
<circle cx="1403.1" cy="143.5" r="3.1" fill="#8a8290"/>
<path d="M1376.5 200.6 L1378 204.8" stroke="#8a8290" stroke-width="4.076467352664492" stroke-linecap="round" stroke-linejoin="round" fill="none"/>
<circle cx="1454.1" cy="114.5" r="5.6" fill="#949296"/>
<circle cx="1455.1" cy="126.9" r="5.8" fill="#949296"/>
<circle cx="1446.8" cy="138.3" r="5.5" fill="#949296"/>
<circle cx="1435.5" cy="144.5" r="5.7" fill="#949296"/>
<circle cx="1492.3" cy="148.6" r="5.7" fill="#949296"/>
<circle cx="1512" cy="133.1" r="5" fill="#949296"/>
<circle cx="1471.7" cy="148.6" r="5" fill="#949296"/>
<circle cx="1459.3" cy="165.1" r="5.6" fill="#949296"/>
<circle cx="1426.2" cy="171.3" r="6.2" fill="#949296"/>
<circle cx="1544" cy="169.3" r="5.9" fill="#949296"/>
<circle cx="1598.8" cy="176.5" r="5.5" fill="#949296"/>
<circle cx="1629.9" cy="169.3" r="5.3" fill="#949296"/>
<circle cx="1668.1" cy="170.3" r="5.1" fill="#949296"/>
<circle cx="1580.2" cy="155.8" r="5.8" fill="#949296"/>
<circle cx="1621.6" cy="149.6" r="6" fill="#949296"/>
<circle cx="1645.4" cy="141.4" r="5.5" fill="#949296"/>
<circle cx="1597.8" cy="131" r="5" fill="#949296"/>
<circle cx="1612.3" cy="112.4" r="5.3" fill="#949296"/>
<circle cx="1643.3" cy="116.5" r="5.9" fill="#949296"/>
<circle cx="1583.3" cy="112.4" r="6" fill="#949296"/>
<circle cx="1544" cy="116.5" r="5.5" fill="#949296"/>
<circle cx="1517.2" cy="114.5" r="6.1" fill="#949296"/>
<circle cx="1484.1" cy="120.7" r="5.5" fill="#949296"/>
<circle cx="1479.9" cy="133.1" r="5" fill="#949296"/>
<circle cx="1517.2" cy="160" r="5.2" fill="#949296"/>
<circle cx="1504.7" cy="170.3" r="6.1" fill="#949296"/>
<circle cx="1531.6" cy="139.3" r="5.9" fill="#949296"/>
<circle cx="1550.2" cy="147.6" r="5" fill="#949296"/>
<circle cx="1564.7" cy="124.8" r="5.3" fill="#949296"/>
<circle cx="1446.8" cy="187.9" r="5.5" fill="#949296"/>
<circle cx="1457.2" cy="183.7" r="5.6" fill="#949296"/>
<circle cx="1464.4" cy="196.2" r="5" fill="#949296"/>
<circle cx="1495.4" cy="188.9" r="6.2" fill="#949296"/>
<circle cx="1563.7" cy="186.8" r="5.6" fill="#949296"/>
<circle cx="1589.5" cy="192" r="5.3" fill="#949296"/>
<circle cx="1585.4" cy="203.4" r="5" fill="#949296"/>
<circle cx="1604" cy="196.2" r="5.7" fill="#949296"/>
<circle cx="1595.7" cy="211.7" r="6.2" fill="#949296"/>
<circle cx="1655.7" cy="196.2" r="5.9" fill="#949296"/>
<circle cx="1641.2" cy="207.5" r="6.1" fill="#949296"/>
<circle cx="1635" cy="213.7" r="6.1" fill="#949296"/>
<circle cx="1628.8" cy="224.1" r="5.8" fill="#949296"/>
<circle cx="1641.2" cy="228.2" r="5" fill="#949296"/>
<circle cx="1616.4" cy="242.7" r="5.3" fill="#949296"/>
<circle cx="1630.9" cy="244.7" r="5.7" fill="#949296"/>
<circle cx="1570.9" cy="217.9" r="5.5" fill="#949296"/>
<circle cx="1537.8" cy="215.8" r="5.2" fill="#949296"/>
<circle cx="1484.1" cy="209.6" r="5" fill="#949296"/>
<circle cx="1434.4" cy="209.6" r="6.1" fill="#949296"/>
<circle cx="1394.1" cy="212.7" r="5.8" fill="#949296"/>
<circle cx="1386.9" cy="224.1" r="5.3" fill="#949296"/>
<circle cx="1380.7" cy="233.4" r="5.6" fill="#949296"/>
<circle cx="1374.5" cy="244.7" r="6.1" fill="#949296"/>
<circle cx="1393.1" cy="249.9" r="5.1" fill="#949296"/>
<circle cx="1409.6" cy="191" r="5.8" fill="#949296"/>
<circle cx="1421" cy="191" r="5.2" fill="#949296"/>
<circle cx="1405.5" cy="194.1" r="6.1" fill="#949296"/>
<circle cx="1422" cy="230.3" r="6" fill="#949296"/>
<circle cx="1411.7" cy="244.7" r="6.2" fill="#949296"/>
<circle cx="1407.6" cy="257.2" r="5.4" fill="#949296"/>
<circle cx="1426.2" cy="248.9" r="5.6" fill="#949296"/>
<circle cx="1438.6" cy="242.7" r="5.4" fill="#949296"/>
<circle cx="1446.8" cy="251" r="5.4" fill="#949296"/>
<circle cx="1461.3" cy="246.8" r="6.2" fill="#949296"/>
<circle cx="1468.6" cy="230.3" r="6.2" fill="#949296"/>
<circle cx="1497.5" cy="234.4" r="6.3" fill="#949296"/>
<circle cx="1490.3" cy="248.9" r="6.1" fill="#949296"/>
<circle cx="1531.6" cy="240.6" r="5.6" fill="#949296"/>
<circle cx="1577.1" cy="242.7" r="5.8" fill="#949296"/>
<circle cx="1454.1" cy="263.4" r="6.1" fill="#949296"/>
<circle cx="1420" cy="264.4" r="5.5" fill="#949296"/>
<circle cx="1432.4" cy="271.6" r="6.2" fill="#949296"/>
<circle cx="1384.8" cy="265.4" r="6" fill="#949296"/>
<circle cx="1388.9" cy="279.9" r="5.3" fill="#949296"/>
<circle cx="1407.6" cy="280.9" r="5.4" fill="#949296"/>
<circle cx="1412.7" cy="292.3" r="5.9" fill="#949296"/>
<circle cx="1422" cy="292.3" r="5.1" fill="#949296"/>
<circle cx="1378.6" cy="285.1" r="5.3" fill="#949296"/>
<circle cx="1386.9" cy="291.3" r="5.2" fill="#949296"/>
<circle cx="1372.4" cy="294.4" r="5.1" fill="#949296"/>
<circle cx="1380.7" cy="299.5" r="6.1" fill="#949296"/>
<circle cx="1453.1" cy="293.3" r="6.3" fill="#949296"/>
<circle cx="1471.7" cy="289.2" r="6" fill="#949296"/>
<circle cx="1489.2" cy="293.3" r="5.6" fill="#949296"/>
<circle cx="1485.1" cy="303.7" r="5.9" fill="#949296"/>
<circle cx="1502.7" cy="266.5" r="5.9" fill="#949296"/>
<circle cx="1508.9" cy="277.8" r="5.5" fill="#949296"/>
<circle cx="1560.6" cy="278.9" r="5.6" fill="#949296"/>
<circle cx="1550.2" cy="301.6" r="5.1" fill="#949296"/>
<circle cx="1601.9" cy="298.5" r="5.3" fill="#949296"/>
<circle cx="1641.2" cy="284" r="5.4" fill="#949296"/>
<circle cx="1658.8" cy="288.2" r="5.4" fill="#949296"/>
<circle cx="1630.9" cy="304.7" r="5.8" fill="#949296"/>
<circle cx="1645.4" cy="305.7" r="5.3" fill="#949296"/>
<circle cx="1657.8" cy="312" r="5.2" fill="#949296"/>
<circle cx="1566.8" cy="320.2" r="6.1" fill="#949296"/>
<circle cx="1460.3" cy="329.5" r="6" fill="#949296"/>
<circle cx="1425.1" cy="334.7" r="6.2" fill="#949296"/>
<circle cx="1410.7" cy="345" r="6" fill="#949296"/>
<circle cx="1402.4" cy="319.2" r="5.2" fill="#949296"/>
<circle cx="1423.1" cy="319.2" r="5.6" fill="#949296"/>
<circle cx="1412.7" cy="309.9" r="6" fill="#949296"/>
<circle cx="1373.4" cy="310.9" r="6" fill="#949296"/>
<circle cx="1467.5" cy="147.6" r="5.2" fill="#949296"/>
<circle cx="1595.7" cy="141.4" r="5.6" fill="#949296"/>
<circle cx="1647.4" cy="135.2" r="5.7" fill="#949296"/>
<circle cx="1670.2" cy="168.2" r="4.9" fill="#949296"/>
<circle cx="1537.8" cy="211.7" r="5.3" fill="#949296"/>
<circle cx="1537.8" cy="244.7" r="5.9" fill="#949296"/>
<circle cx="1641.2" cy="234.4" r="5.8" fill="#949296"/>
<circle cx="1613.3" cy="246.8" r="5.5" fill="#949296"/>
<circle cx="1422" cy="236.5" r="5.7" fill="#949296"/>
<circle cx="1415.8" cy="240.6" r="5.6" fill="#949296"/>
<circle cx="1626.7" cy="306.8" r="5.4" fill="#949296"/>
<circle cx="1635" cy="302.6" r="5" fill="#949296"/>
<circle cx="1639.2" cy="286.1" r="5.9" fill="#949296"/>
<path d="M1492.3 112.4 L1475.8 137.2" stroke="#8e8a92" stroke-width="9.5" stroke-linecap="round" stroke-linejoin="round" fill="none"/>
<path d="M1515.1 112.4 L1508.9 120.7" stroke="#8e8a92" stroke-width="9.5" stroke-linecap="round" stroke-linejoin="round" fill="none"/>
<path d="M1542 112.4 L1535.8 122.7" stroke="#8e8a92" stroke-width="9.5" stroke-linecap="round" stroke-linejoin="round" fill="none"/>
<path d="M1535.8 131 L1523.4 143.4" stroke="#8e8a92" stroke-width="9.5" stroke-linecap="round" stroke-linejoin="round" fill="none"/>
<path d="M1554.4 139.3 L1542 160" stroke="#8e8a92" stroke-width="9.5" stroke-linecap="round" stroke-linejoin="round" fill="none"/>
<path d="M1601.9 120.7 L1593.7 143.4" stroke="#8e8a92" stroke-width="9.5" stroke-linecap="round" stroke-linejoin="round" fill="none"/>
<path d="M1645.4 135.2 L1641.2 147.6" stroke="#8e8a92" stroke-width="9.5" stroke-linecap="round" stroke-linejoin="round" fill="none"/>
<path d="M1521.3 151.7 L1504.7 170.3" stroke="#8e8a92" stroke-width="9.5" stroke-linecap="round" stroke-linejoin="round" fill="none"/>
<path d="M1422 224.1 L1407.6 257.2" stroke="#8e8a92" stroke-width="9.5" stroke-linecap="round" stroke-linejoin="round" fill="none"/>
<path d="M1637.1 215.8 L1628.8 248.9" stroke="#8e8a92" stroke-width="9.5" stroke-linecap="round" stroke-linejoin="round" fill="none"/>
<path d="M1674.3 166.2 L1664 176.5" stroke="#8e8a92" stroke-width="9.5" stroke-linecap="round" stroke-linejoin="round" fill="none"/>
</g>
<path d="M1583.3 339.9h80M1583.3 336.9v6M1663.3 336.9v6" stroke="#f4eef0" stroke-width="1.8" fill="none"/>
<text x="1623.3" y="334.7" font-family="Liberation Serif" font-weight="bold" font-size="16.5" fill="#f4eef0" text-anchor="middle">1 cm</text>
<rect x="247" y="621" width="313" height="250" fill="url(#ig3)"/>
<g clip-path="url(#ic3)" fill="#8c8791">
<path d="M247 621 L358 621 L356 712 L330 742 L309 775 L299 822 L292 872 L247 872 Z" fill="#3a0a1a" opacity="0.55"/>
<path d="M334.3 730.2 L338.7 721.7" stroke="#8e8692" stroke-width="8.424260129666605" stroke-linecap="round" stroke-linejoin="round" fill="none"/>
<circle cx="258.1" cy="768.2" r="4.5" fill="#8e8692"/>
<circle cx="285.3" cy="715.5" r="4.6" fill="#8e8692"/>
<path d="M319.4 695.9 L323.5 705.5" stroke="#8e8692" stroke-width="7.813288519889632" stroke-linecap="round" stroke-linejoin="round" fill="none"/>
<path d="M299.4 769.2 L298 775.5" stroke="#8e8692" stroke-width="8.396552872297075" stroke-linecap="round" stroke-linejoin="round" fill="none"/>
<circle cx="324.5" cy="747.7" r="4.4" fill="#8e8692"/>
<circle cx="331.5" cy="717.3" r="3.1" fill="#8e8692"/>
<circle cx="335.2" cy="728.4" r="3.1" fill="#8e8692"/>
<path d="M278.3 807.6 L273.6 800.2" stroke="#8e8692" stroke-width="6.748178514798363" stroke-linecap="round" stroke-linejoin="round" fill="none"/>
<path d="M323.2 767.7 L316.4 767.1" stroke="#8e8692" stroke-width="8.718339557493646" stroke-linecap="round" stroke-linejoin="round" fill="none"/>
<path d="M317.6 706.7 L320.7 711.2" stroke="#8e8692" stroke-width="8.652479452985835" stroke-linecap="round" stroke-linejoin="round" fill="none"/>
<circle cx="299.4" cy="822.3" r="3.9" fill="#8e8692"/>
<path d="M273.8 822.4 L268.3 826.8" stroke="#8e8692" stroke-width="6.633710893939195" stroke-linecap="round" stroke-linejoin="round" fill="none"/>
<circle cx="270.8" cy="794.3" r="3.2" fill="#8e8692"/>
<path d="M290.6 734.7 L285.2 739.4" stroke="#8e8692" stroke-width="8.915962266225797" stroke-linecap="round" stroke-linejoin="round" fill="none"/>
<circle cx="328.5" cy="736.2" r="3.5" fill="#8e8692"/>
<path d="M264.2 739.6 L270.4 744.4" stroke="#8e8692" stroke-width="6.519701768851506" stroke-linecap="round" stroke-linejoin="round" fill="none"/>
<path d="M315 707.5 L316.5 700.4" stroke="#8e8692" stroke-width="7.1478581118621385" stroke-linecap="round" stroke-linejoin="round" fill="none"/>
<path d="M255.9 674.2 L257.7 669.4" stroke="#8e8692" stroke-width="8.928453536506172" stroke-linecap="round" stroke-linejoin="round" fill="none"/>
<circle cx="350.3" cy="712.8" r="4.3" fill="#8e8692"/>
<path d="M284.2 713 L276.7 713.7" stroke="#8e8692" stroke-width="7.688365111797655" stroke-linecap="round" stroke-linejoin="round" fill="none"/>
<circle cx="260.1" cy="739.1" r="3.3" fill="#8e8692"/>
<circle cx="306.3" cy="797.3" r="4" fill="#8e8692"/>
<path d="M322.7 726.8 L323.6 730.8" stroke="#8e8692" stroke-width="7.705591163714896" stroke-linecap="round" stroke-linejoin="round" fill="none"/>
<circle cx="325.6" cy="717" r="3.7" fill="#8e8692"/>
<path d="M274.5 819.7 L272.9 828.1" stroke="#8e8692" stroke-width="7.378990329995749" stroke-linecap="round" stroke-linejoin="round" fill="none"/>
<circle cx="261.9" cy="805.1" r="5" fill="#8e8692"/>
<path d="M276.6 648.5 L284 654.5" stroke="#8e8692" stroke-width="6.526680806129182" stroke-linecap="round" stroke-linejoin="round" fill="none"/>
<circle cx="326.7" cy="634.5" r="4.7" fill="#8e8692"/>
<path d="M305.2 734.1 L306.5 728.4" stroke="#8e8692" stroke-width="8.117923761628509" stroke-linecap="round" stroke-linejoin="round" fill="none"/>
<circle cx="290.6" cy="737.4" r="3.5" fill="#8e8692"/>
<circle cx="281.2" cy="689.5" r="4.7" fill="#8e8692"/>
<path d="M289.8 761.7 L287.5 757" stroke="#8e8692" stroke-width="8.858777594286446" stroke-linecap="round" stroke-linejoin="round" fill="none"/>
<path d="M284.2 829.4 L291.1 830.8" stroke="#8e8692" stroke-width="8.094065669422967" stroke-linecap="round" stroke-linejoin="round" fill="none"/>
<path d="M349.6 621.6 L356.4 625.8" stroke="#8e8692" stroke-width="7.323289289997533" stroke-linecap="round" stroke-linejoin="round" fill="none"/>
<path d="M255.1 780.8 L256.1 786.6" stroke="#8e8692" stroke-width="8.312401927258051" stroke-linecap="round" stroke-linejoin="round" fill="none"/>
<circle cx="306.7" cy="625.6" r="4.9" fill="#8e8692"/>
<circle cx="278.2" cy="693.6" r="4.8" fill="#8e8692"/>
<path d="M338.5 717.6 L342.9 718.4" stroke="#8e8692" stroke-width="7.115878203400094" stroke-linecap="round" stroke-linejoin="round" fill="none"/>
<circle cx="318.6" cy="656.3" r="4.7" fill="#8e8692"/>
<circle cx="268" cy="634.7" r="3.2" fill="#8e8692"/>
<path d="M279.3 766.3 L277.5 774.2" stroke="#8e8692" stroke-width="6.99741425083561" stroke-linecap="round" stroke-linejoin="round" fill="none"/>
<path d="M312.5 648.4 L323.9 648.4" stroke="#8e8692" stroke-width="6.627841347114155" stroke-linecap="round" stroke-linejoin="round" fill="none"/>
<circle cx="309.6" cy="668.3" r="3.5" fill="#8e8692"/>
<circle cx="298.4" cy="758.9" r="3.6" fill="#8e8692"/>
<circle cx="253.3" cy="808.6" r="4.2" fill="#8e8692"/>
<circle cx="277" cy="801.4" r="3.6" fill="#8e8692"/>
<circle cx="297.6" cy="622.2" r="4.8" fill="#8e8692"/>
<path d="M256.3 720.8 L267.5 723.4" stroke="#8e8692" stroke-width="6.619953684672887" stroke-linecap="round" stroke-linejoin="round" fill="none"/>
<circle cx="313.2" cy="772.5" r="4" fill="#8e8692"/>
<circle cx="261.5" cy="723.7" r="3.1" fill="#8e8692"/>
<path d="M333.5 646.6 L333 651.9" stroke="#8e8692" stroke-width="8.85778230707012" stroke-linecap="round" stroke-linejoin="round" fill="none"/>
<path d="M315.5 762.6 L322 765.4" stroke="#8e8692" stroke-width="6.656792441120345" stroke-linecap="round" stroke-linejoin="round" fill="none"/>
<path d="M314.4 720 L315.1 726.1" stroke="#8e8692" stroke-width="8.751890761552438" stroke-linecap="round" stroke-linejoin="round" fill="none"/>
<circle cx="328.5" cy="728.7" r="4.5" fill="#8e8692"/>
<circle cx="263.8" cy="802.2" r="4.6" fill="#8e8692"/>
<path d="M255.3 850.5 L260.6 851.3" stroke="#8e8692" stroke-width="8.743287980292964" stroke-linecap="round" stroke-linejoin="round" fill="none"/>
<path d="M339.6 694.3 L334.3 691.4" stroke="#8e8692" stroke-width="8.063471360526776" stroke-linecap="round" stroke-linejoin="round" fill="none"/>
<path d="M293.9 656.6 L292.7 650.8" stroke="#8e8692" stroke-width="7.281089682286687" stroke-linecap="round" stroke-linejoin="round" fill="none"/>
<circle cx="324.2" cy="714.2" r="4.1" fill="#8e8692"/>
<circle cx="354.4" cy="644.8" r="4" fill="#8e8692"/>
<circle cx="247.9" cy="782.1" r="3.4" fill="#8e8692"/>
<path d="M262.3 746.5 L269.1 745" stroke="#8e8692" stroke-width="8.69479467452121" stroke-linecap="round" stroke-linejoin="round" fill="none"/>
<path d="M324.9 639.6 L323.1 651.3" stroke="#8e8692" stroke-width="6.396617419569064" stroke-linecap="round" stroke-linejoin="round" fill="none"/>
<circle cx="305.2" cy="666.9" r="4.5" fill="#8e8692"/>
<path d="M262.1 805.9 L267 801.4" stroke="#8e8692" stroke-width="7.388950343258566" stroke-linecap="round" stroke-linejoin="round" fill="none"/>
<circle cx="338.8" cy="685.2" r="4.7" fill="#8e8692"/>
<circle cx="320.3" cy="743.9" r="4.5" fill="#8e8692"/>
<circle cx="293.9" cy="680.7" r="3.3" fill="#8e8692"/>
<path d="M265.2 727.1 L272 727.1" stroke="#8e8692" stroke-width="6.447504632836904" stroke-linecap="round" stroke-linejoin="round" fill="none"/>
<path d="M266.3 690 L276.3 694.5" stroke="#8e8692" stroke-width="7.29062058309756" stroke-linecap="round" stroke-linejoin="round" fill="none"/>
<circle cx="266.6" cy="646.4" r="3.7" fill="#8e8692"/>
<circle cx="303.6" cy="648.1" r="4" fill="#8e8692"/>
<path d="M256.5 746.9 L252.3 744.2" stroke="#8e8692" stroke-width="7.893995996491771" stroke-linecap="round" stroke-linejoin="round" fill="none"/>
<circle cx="256.4" cy="656.6" r="4.1" fill="#8e8692"/>
<circle cx="267.1" cy="691" r="4.8" fill="#8e8692"/>
<path d="M263.4 790.3 L255.2 793" stroke="#8e8692" stroke-width="6.99967604366768" stroke-linecap="round" stroke-linejoin="round" fill="none"/>
<circle cx="255.8" cy="797.7" r="4" fill="#8e8692"/>
<path d="M267.7 742.6 L267 736" stroke="#8e8692" stroke-width="6.164042921199815" stroke-linecap="round" stroke-linejoin="round" fill="none"/>
<path d="M309.4 776.5 L301.9 767.7" stroke="#8e8692" stroke-width="8.863940301045773" stroke-linecap="round" stroke-linejoin="round" fill="none"/>
<path d="M263 687.4 L253.5 682.2" stroke="#8e8692" stroke-width="8.32216413405983" stroke-linecap="round" stroke-linejoin="round" fill="none"/>
<path d="M284.4 664 L290.6 669.1" stroke="#8e8692" stroke-width="6.827063435936489" stroke-linecap="round" stroke-linejoin="round" fill="none"/>
<path d="M292.3 785.2 L289 782.2" stroke="#8e8692" stroke-width="8.681900449782848" stroke-linecap="round" stroke-linejoin="round" fill="none"/>
<path d="M316.2 783.3 L316 774.2" stroke="#8e8692" stroke-width="6.119856743025583" stroke-linecap="round" stroke-linejoin="round" fill="none"/>
<path d="M249.7 800.9 L245.4 804.7" stroke="#8e8692" stroke-width="7.324066405706625" stroke-linecap="round" stroke-linejoin="round" fill="none"/>
<circle cx="261.7" cy="671.6" r="4.5" fill="#8e8692"/>
<circle cx="275.3" cy="844.1" r="3.4" fill="#8e8692"/>
<path d="M293.9 656.1 L301.2 657.2" stroke="#8e8692" stroke-width="7.135944987470438" stroke-linecap="round" stroke-linejoin="round" fill="none"/>
<path d="M251.3 676.7 L256 671" stroke="#8e8692" stroke-width="8.61934263569854" stroke-linecap="round" stroke-linejoin="round" fill="none"/>
<circle cx="329.1" cy="763.3" r="4.4" fill="#8e8692"/>
<path d="M267.4 846.5 L257.3 850.3" stroke="#8e8692" stroke-width="6.85876329577939" stroke-linecap="round" stroke-linejoin="round" fill="none"/>
<path d="M291.2 765.8 L291.7 776.5" stroke="#8e8692" stroke-width="7.972003397605871" stroke-linecap="round" stroke-linejoin="round" fill="none"/>
<path d="M351 696.3 L359.4 689.1" stroke="#8e8692" stroke-width="8.094859936674023" stroke-linecap="round" stroke-linejoin="round" fill="none"/>
<circle cx="309.4" cy="669.3" r="5" fill="#8e8692"/>
<circle cx="353.9" cy="631.6" r="3.5" fill="#8e8692"/>
<path d="M342.2 666.7 L344.4 673" stroke="#8e8692" stroke-width="8.917350664797254" stroke-linecap="round" stroke-linejoin="round" fill="none"/>
<circle cx="261.2" cy="767" r="4.5" fill="#8e8692"/>
<circle cx="254.6" cy="790.9" r="4.9" fill="#8e8692"/>
<circle cx="284.2" cy="789" r="4.9" fill="#8e8692"/>
<path d="M331 636.1 L326.9 639.9" stroke="#8e8692" stroke-width="8.67160733596447" stroke-linecap="round" stroke-linejoin="round" fill="none"/>
<circle cx="322" cy="708.6" r="4.3" fill="#8e8692"/>
<circle cx="253.7" cy="681" r="3.3" fill="#8e8692"/>
<path d="M331.5 688.1 L329.6 698.4" stroke="#8e8692" stroke-width="8.207983177081394" stroke-linecap="round" stroke-linejoin="round" fill="none"/>
<circle cx="319.7" cy="772.8" r="4.7" fill="#8e8692"/>
<circle cx="268.2" cy="642.6" r="4.9" fill="#8e8692"/>
<circle cx="282.8" cy="691.4" r="3.1" fill="#8e8692"/>
<path d="M281.8 628.5 L285.4 619.1" stroke="#8e8692" stroke-width="6.631824742824569" stroke-linecap="round" stroke-linejoin="round" fill="none"/>
<path d="M250.6 867.3 L255.1 877.5" stroke="#8e8692" stroke-width="7.791426321345832" stroke-linecap="round" stroke-linejoin="round" fill="none"/>
<circle cx="318.9" cy="628" r="4.6" fill="#8e8692"/>
<circle cx="248.6" cy="669.6" r="4.2" fill="#8e8692"/>
<circle cx="262.6" cy="817.9" r="4.6" fill="#8e8692"/>
<path d="M268.7 712.5 L263 722.5" stroke="#8e8692" stroke-width="7.0085826460199465" stroke-linecap="round" stroke-linejoin="round" fill="none"/>
<path d="M317.8 685.3 L316.3 692.5" stroke="#8e8692" stroke-width="8.169190744419488" stroke-linecap="round" stroke-linejoin="round" fill="none"/>
<circle cx="340.6" cy="656.2" r="3.4" fill="#8e8692"/>
<circle cx="273.4" cy="745.6" r="3.7" fill="#8e8692"/>
<path d="M314.9 686.4 L316.7 693.7" stroke="#8e8692" stroke-width="8.051932118924503" stroke-linecap="round" stroke-linejoin="round" fill="none"/>
<circle cx="272.1" cy="787.6" r="3.1" fill="#8e8692"/>
<path d="M258.9 784.7 L254.2 774.9" stroke="#8e8692" stroke-width="7.99699598520431" stroke-linecap="round" stroke-linejoin="round" fill="none"/>
<circle cx="314.3" cy="754.4" r="3.5" fill="#8e8692"/>
<circle cx="256.7" cy="648.9" r="3.6" fill="#8e8692"/>
<path d="M277.4 845.5 L280.5 853.6" stroke="#8e8692" stroke-width="6.592412161866665" stroke-linecap="round" stroke-linejoin="round" fill="none"/>
<circle cx="254.3" cy="676.3" r="3" fill="#8e8692"/>
<path d="M249.9 823.6 L252.9 820.1" stroke="#8e8692" stroke-width="6.070570574067932" stroke-linecap="round" stroke-linejoin="round" fill="none"/>
<circle cx="343.9" cy="715" r="4.4" fill="#8e8692"/>
<circle cx="307" cy="703.7" r="3.2" fill="#8e8692"/>
<circle cx="251.3" cy="677" r="3.5" fill="#8e8692"/>
<circle cx="302.3" cy="747" r="3.2" fill="#8e8692"/>
<circle cx="294.3" cy="824.6" r="4.1" fill="#8e8692"/>
<path d="M286.2 854 L292.6 853.9" stroke="#8e8692" stroke-width="7.451404396787169" stroke-linecap="round" stroke-linejoin="round" fill="none"/>
<path d="M297.9 832 L290.2 829.4" stroke="#8e8692" stroke-width="8.67257086566126" stroke-linecap="round" stroke-linejoin="round" fill="none"/>
<circle cx="286.9" cy="653.9" r="3.5" fill="#8e8692"/>
<path d="M257.8 866.1 L260.1 858.8" stroke="#8e8692" stroke-width="7.563899610340675" stroke-linecap="round" stroke-linejoin="round" fill="none"/>
<circle cx="272.5" cy="844.6" r="3.8" fill="#8e8692"/>
<circle cx="294.9" cy="828.3" r="3.4" fill="#8e8692"/>
<circle cx="301" cy="697.8" r="4.5" fill="#8e8692"/>
<circle cx="286.5" cy="777.9" r="3.2" fill="#8e8692"/>
<circle cx="326.7" cy="774.1" r="4" fill="#8e8692"/>
<circle cx="313.8" cy="779.4" r="3.1" fill="#8e8692"/>
<circle cx="342.6" cy="625.6" r="3.8" fill="#8e8692"/>
<circle cx="277.7" cy="683.5" r="3.7" fill="#8e8692"/>
<path d="M258.6 862.3 L254.2 862.5" stroke="#8e8692" stroke-width="8.736179872476793" stroke-linecap="round" stroke-linejoin="round" fill="none"/>
<circle cx="274.7" cy="814.2" r="3.5" fill="#8e8692"/>
<circle cx="262.5" cy="755.3" r="4.1" fill="#8e8692"/>
<circle cx="327.8" cy="677.7" r="4" fill="#8e8692"/>
<circle cx="292.2" cy="733.2" r="3.3" fill="#8e8692"/>
<path d="M260.9 803.5 L257.4 795.1" stroke="#8e8692" stroke-width="7.5398332873503975" stroke-linecap="round" stroke-linejoin="round" fill="none"/>
<circle cx="269.2" cy="850.4" r="3.9" fill="#8e8692"/>
<path d="M276.5 715.6 L267.9 721.4" stroke="#8e8692" stroke-width="6.373013035489619" stroke-linecap="round" stroke-linejoin="round" fill="none"/>
<circle cx="314.7" cy="689.2" r="3.6" fill="#8e8692"/>
<circle cx="291.8" cy="782.6" r="4.7" fill="#8e8692"/>
<circle cx="264.5" cy="835.7" r="4.6" fill="#8e8692"/>
<path d="M291.6 685.6 L285.2 678.2" stroke="#8e8692" stroke-width="7.567576425255943" stroke-linecap="round" stroke-linejoin="round" fill="none"/>
<path d="M286.5 695.8 L292 686.2" stroke="#8e8692" stroke-width="7.306499278118733" stroke-linecap="round" stroke-linejoin="round" fill="none"/>
<circle cx="293.7" cy="858.8" r="3.3" fill="#8e8692"/>
<circle cx="266.4" cy="697" r="3.8" fill="#8e8692"/>
<circle cx="299" cy="629.9" r="4" fill="#8e8692"/>
<path d="M253.1 741.8 L246.5 732.4" stroke="#8e8692" stroke-width="8.580088611240244" stroke-linecap="round" stroke-linejoin="round" fill="none"/>
<circle cx="302.8" cy="626.3" r="4.2" fill="#8e8692"/>
<circle cx="342.2" cy="704.3" r="4.5" fill="#8e8692"/>
<circle cx="307.9" cy="738.5" r="4.1" fill="#8e8692"/>
<path d="M311.8 799.3 L321.3 804.2" stroke="#8e8692" stroke-width="6.964045595690432" stroke-linecap="round" stroke-linejoin="round" fill="none"/>
<path d="M294 707.3 L289.7 709" stroke="#8e8692" stroke-width="7.4222511444899855" stroke-linecap="round" stroke-linejoin="round" fill="none"/>
<circle cx="263.8" cy="625" r="3.8" fill="#8e8692"/>
<circle cx="297.9" cy="621.2" r="4.8" fill="#8e8692"/>
<circle cx="325.1" cy="718.2" r="3.3" fill="#8e8692"/>
<path d="M280.6 662 L286 659.4" stroke="#8e8692" stroke-width="8.99084606515965" stroke-linecap="round" stroke-linejoin="round" fill="none"/>
<circle cx="307.4" cy="673.2" r="4.4" fill="#8e8692"/>
<circle cx="351.9" cy="672" r="3.3" fill="#8e8692"/>
<circle cx="270.6" cy="677.6" r="3.5" fill="#8e8692"/>
<circle cx="321.9" cy="681.2" r="3.8" fill="#8e8692"/>
<circle cx="266.1" cy="633.8" r="3" fill="#8e8692"/>
<circle cx="323.2" cy="633.3" r="4.8" fill="#8e8692"/>
<circle cx="316.4" cy="697.9" r="3.9" fill="#8e8692"/>
<circle cx="283.3" cy="634.5" r="3.3" fill="#8e8692"/>
<circle cx="270.5" cy="704.1" r="4.2" fill="#8e8692"/>
<path d="M269.6 749.1 L259.6 749.3" stroke="#8e8692" stroke-width="8.340386940667372" stroke-linecap="round" stroke-linejoin="round" fill="none"/>
<circle cx="297.6" cy="674.3" r="4.4" fill="#8e8692"/>
<circle cx="288.5" cy="694" r="3.4" fill="#8e8692"/>
<path d="M275 677.7 L275.8 686.5" stroke="#8e8692" stroke-width="8.809492146962318" stroke-linecap="round" stroke-linejoin="round" fill="none"/>
<path d="M299.6 727.6 L307 718.9" stroke="#8e8692" stroke-width="8.121022565970202" stroke-linecap="round" stroke-linejoin="round" fill="none"/>
<circle cx="272.3" cy="633.1" r="4.8" fill="#8e8692"/>
<path d="M355.2 680.6 L354.4 685.9" stroke="#8e8692" stroke-width="6.816287940260951" stroke-linecap="round" stroke-linejoin="round" fill="none"/>
<path d="M286.8 742 L290.5 731.4" stroke="#8e8692" stroke-width="7.086972328021609" stroke-linecap="round" stroke-linejoin="round" fill="none"/>
<path d="M273.2 749.7 L264.9 742.6" stroke="#8e8692" stroke-width="6.588622899205405" stroke-linecap="round" stroke-linejoin="round" fill="none"/>
<path d="M338.3 732.1 L335.6 725.1" stroke="#8e8692" stroke-width="7.56052258512845" stroke-linecap="round" stroke-linejoin="round" fill="none"/>
<path d="M323.4 759.2 L323.9 767" stroke="#8e8692" stroke-width="6.768549469225314" stroke-linecap="round" stroke-linejoin="round" fill="none"/>
<circle cx="247.7" cy="648.2" r="4.2" fill="#8e8692"/>
<circle cx="334.6" cy="707.3" r="4.2" fill="#8e8692"/>
<circle cx="316.4" cy="729" r="3.7" fill="#8e8692"/>
<circle cx="273.3" cy="825" r="4.4" fill="#8e8692"/>
<circle cx="309.1" cy="678.5" r="4.3" fill="#8e8692"/>
<circle cx="264.4" cy="686.1" r="3.4" fill="#8e8692"/>
<path d="M290.7 801.3 L286.3 798.5" stroke="#8e8692" stroke-width="7.1292401441916615" stroke-linecap="round" stroke-linejoin="round" fill="none"/>
<path d="M263.2 691.2 L257.9 691.1" stroke="#8e8692" stroke-width="6.828337304461408" stroke-linecap="round" stroke-linejoin="round" fill="none"/>
<circle cx="315" cy="701.8" r="4.5" fill="#8e8692"/>
<path d="M248.7 785.1 L245.8 781.8" stroke="#8e8692" stroke-width="6.1013817727577235" stroke-linecap="round" stroke-linejoin="round" fill="none"/>
<circle cx="335.7" cy="667.5" r="4.3" fill="#8e8692"/>
<path d="M323.3 693.3 L329.9 689.2" stroke="#8e8692" stroke-width="7.188925368330107" stroke-linecap="round" stroke-linejoin="round" fill="none"/>
<circle cx="275.3" cy="789.9" r="3.2" fill="#8e8692"/>
<circle cx="285.6" cy="858.4" r="3.6" fill="#8e8692"/>
<path d="M332.6 709.5 L336.3 711.1" stroke="#8e8692" stroke-width="6.1895478166050815" stroke-linecap="round" stroke-linejoin="round" fill="none"/>
<path d="M284.8 681.5 L274.6 685.1" stroke="#8e8692" stroke-width="7.463676532963527" stroke-linecap="round" stroke-linejoin="round" fill="none"/>
<circle cx="289.1" cy="706.2" r="3.9" fill="#8e8692"/>
<circle cx="352.3" cy="645.5" r="4.7" fill="#8e8692"/>
<circle cx="264.4" cy="637.4" r="3.2" fill="#8e8692"/>
<path d="M267.2 640.9 L268.3 636.4" stroke="#8e8692" stroke-width="6.561347557695052" stroke-linecap="round" stroke-linejoin="round" fill="none"/>
<circle cx="321.4" cy="663.9" r="3.3" fill="#8e8692"/>
<circle cx="257.4" cy="742.6" r="4.7" fill="#8e8692"/>
<circle cx="247.4" cy="710" r="4.1" fill="#8e8692"/>
<path d="M265.7 704.1 L260.1 696.6" stroke="#8e8692" stroke-width="7.8170735959979325" stroke-linecap="round" stroke-linejoin="round" fill="none"/>
<circle cx="381" cy="630" r="7.9" fill="#8e8a94"/>
<circle cx="427" cy="626" r="8.9" fill="#8e8a94"/>
<circle cx="454" cy="623" r="9.5" fill="#8e8a94"/>
<circle cx="511" cy="644" r="7.7" fill="#8e8a94"/>
<circle cx="489" cy="654" r="9.2" fill="#8e8a94"/>
<circle cx="525" cy="652" r="8.2" fill="#8e8a94"/>
<circle cx="550" cy="653" r="7.9" fill="#8e8a94"/>
<circle cx="527" cy="665" r="8.8" fill="#8e8a94"/>
<circle cx="551" cy="666" r="9.2" fill="#8e8a94"/>
<circle cx="527" cy="678" r="7.8" fill="#8e8a94"/>
<circle cx="546" cy="679" r="7.9" fill="#8e8a94"/>
<circle cx="521" cy="694" r="8.5" fill="#8e8a94"/>
<circle cx="550" cy="691" r="7.9" fill="#8e8a94"/>
<circle cx="530" cy="686" r="8.5" fill="#8e8a94"/>
<circle cx="389" cy="661" r="9.5" fill="#8e8a94"/>
<circle cx="387" cy="671" r="7.5" fill="#8e8a94"/>
<circle cx="413" cy="670" r="8.4" fill="#8e8a94"/>
<circle cx="425" cy="673" r="7.9" fill="#8e8a94"/>
<circle cx="412" cy="686" r="7.8" fill="#8e8a94"/>
<circle cx="412" cy="700" r="8.7" fill="#8e8a94"/>
<circle cx="436" cy="702" r="9.4" fill="#8e8a94"/>
<circle cx="383" cy="695" r="8.4" fill="#8e8a94"/>
<circle cx="390" cy="708" r="8.6" fill="#8e8a94"/>
<circle cx="489" cy="720" r="8.9" fill="#8e8a94"/>
<circle cx="516" cy="716" r="9.2" fill="#8e8a94"/>
<circle cx="540" cy="718" r="9.5" fill="#8e8a94"/>
<circle cx="454" cy="729" r="8.2" fill="#8e8a94"/>
<circle cx="516" cy="749" r="7.8" fill="#8e8a94"/>
<circle cx="544" cy="751" r="9.3" fill="#8e8a94"/>
<circle cx="555" cy="755" r="8.7" fill="#8e8a94"/>
<circle cx="419" cy="764" r="9.3" fill="#8e8a94"/>
<circle cx="489" cy="791" r="7.8" fill="#8e8a94"/>
<circle cx="336" cy="760" r="9.1" fill="#8e8a94"/>
<circle cx="346" cy="668" r="7.7" fill="#8e8a94"/>
<circle cx="348" cy="700" r="7.7" fill="#8e8a94"/>
<circle cx="340" cy="715" r="7.7" fill="#8e8a94"/>
</g>
<path d="M465 853.9h80M465 850.9v6M545 850.9v6" stroke="#f4eef0" stroke-width="1.8" fill="none"/>
<text x="505" y="848.6999999999999" font-family="Liberation Serif" font-weight="bold" font-size="16.5" fill="#f4eef0" text-anchor="middle">1 cm</text>
<rect x="808" y="621" width="313" height="250" fill="url(#ig4)"/>
<g clip-path="url(#ic4)" fill="#8c8791">
<path d="M1123 665 L1100 700 L1070 760 L1031 833 L882 860 L851 872 L1123 872 Z" fill="#6a4c66"/>
<path d="M1123 680 L1040 835" stroke="#5a3c56" stroke-width="1.2" stroke-linecap="round" stroke-linejoin="round" fill="none" opacity="0.7"/>
<path d="M1121 702 L1049 839" stroke="#5a3c56" stroke-width="1.2" stroke-linecap="round" stroke-linejoin="round" fill="none" opacity="0.7"/>
<path d="M1119 724 L1058 843" stroke="#5a3c56" stroke-width="1.2" stroke-linecap="round" stroke-linejoin="round" fill="none" opacity="0.7"/>
<path d="M1117 746 L1067 847" stroke="#5a3c56" stroke-width="1.2" stroke-linecap="round" stroke-linejoin="round" fill="none" opacity="0.7"/>
<path d="M1115 768 L1076 851" stroke="#5a3c56" stroke-width="1.2" stroke-linecap="round" stroke-linejoin="round" fill="none" opacity="0.7"/>
<path d="M1113 790 L1085 855" stroke="#5a3c56" stroke-width="1.2" stroke-linecap="round" stroke-linejoin="round" fill="none" opacity="0.7"/>
<path d="M1111 812 L1094 859" stroke="#5a3c56" stroke-width="1.2" stroke-linecap="round" stroke-linejoin="round" fill="none" opacity="0.7"/>
<path d="M1109 834 L1103 863" stroke="#5a3c56" stroke-width="1.2" stroke-linecap="round" stroke-linejoin="round" fill="none" opacity="0.7"/>
<path d="M860 865 L1123 836" stroke="#8a6c86" stroke-width="1.2" stroke-linecap="round" stroke-linejoin="round" fill="none" opacity="0.6"/>
<path d="M870 864 L1123 842" stroke="#8a6c86" stroke-width="1.2" stroke-linecap="round" stroke-linejoin="round" fill="none" opacity="0.6"/>
<path d="M880 863 L1123 848" stroke="#8a6c86" stroke-width="1.2" stroke-linecap="round" stroke-linejoin="round" fill="none" opacity="0.6"/>
<path d="M890 862 L1123 854" stroke="#8a6c86" stroke-width="1.2" stroke-linecap="round" stroke-linejoin="round" fill="none" opacity="0.6"/>
<path d="M900 861 L1123 860" stroke="#8a6c86" stroke-width="1.2" stroke-linecap="round" stroke-linejoin="round" fill="none" opacity="0.6"/>
<path d="M910 860 L1123 866" stroke="#8a6c86" stroke-width="1.2" stroke-linecap="round" stroke-linejoin="round" fill="none" opacity="0.6"/>
<circle cx="1087" cy="726.8" r="1.6" fill="#b0a4ac"/>
<circle cx="1034.2" cy="823" r="1.6" fill="#b0a4ac"/>
<circle cx="1082.3" cy="732.6" r="1.6" fill="#b0a4ac"/>
<circle cx="1118.6" cy="667.2" r="1.6" fill="#b0a4ac"/>
<circle cx="1049" cy="798.9" r="1.6" fill="#b0a4ac"/>
<circle cx="1080.7" cy="732.5" r="1.6" fill="#b0a4ac"/>
<circle cx="1029.9" cy="832.1" r="1.6" fill="#b0a4ac"/>
<circle cx="1071.7" cy="753.7" r="1.6" fill="#b0a4ac"/>
<circle cx="1082" cy="737.6" r="1.6" fill="#b0a4ac"/>
<circle cx="1037.3" cy="814.4" r="1.6" fill="#b0a4ac"/>
<circle cx="1104.2" cy="700.1" r="1.6" fill="#b0a4ac"/>
<circle cx="1072.8" cy="745.7" r="1.6" fill="#b0a4ac"/>
<circle cx="1074.8" cy="740.2" r="1.6" fill="#b0a4ac"/>
<circle cx="1074.8" cy="747.8" r="1.6" fill="#b0a4ac"/>
<circle cx="1114.6" cy="673.2" r="1.6" fill="#b0a4ac"/>
<circle cx="1112.3" cy="680.7" r="1.6" fill="#b0a4ac"/>
<circle cx="1073.8" cy="751.4" r="1.6" fill="#b0a4ac"/>
<circle cx="1076.3" cy="751" r="1.6" fill="#b0a4ac"/>
<circle cx="1060.2" cy="782" r="1.6" fill="#b0a4ac"/>
<circle cx="1102.9" cy="704.2" r="1.6" fill="#b0a4ac"/>
<circle cx="1079.6" cy="744.1" r="1.6" fill="#b0a4ac"/>
<circle cx="1036.3" cy="817.8" r="1.6" fill="#b0a4ac"/>
<circle cx="1045" cy="798.9" r="1.6" fill="#b0a4ac"/>
<circle cx="1115.9" cy="670.3" r="1.6" fill="#b0a4ac"/>
<circle cx="1100.2" cy="699.6" r="1.6" fill="#b0a4ac"/>
<circle cx="1035.3" cy="823.7" r="1.6" fill="#b0a4ac"/>
<circle cx="1095.7" cy="709.2" r="1.6" fill="#b0a4ac"/>
<circle cx="1068.4" cy="764.5" r="1.6" fill="#b0a4ac"/>
<circle cx="1065.7" cy="765.9" r="1.6" fill="#b0a4ac"/>
<circle cx="1116.5" cy="669.3" r="1.6" fill="#b0a4ac"/>
<circle cx="1034.3" cy="826.9" r="1.6" fill="#b0a4ac"/>
<circle cx="1033.9" cy="823.9" r="1.6" fill="#b0a4ac"/>
<circle cx="1062.4" cy="776" r="1.6" fill="#b0a4ac"/>
<circle cx="1036.8" cy="818.3" r="1.6" fill="#b0a4ac"/>
<circle cx="1093.4" cy="716" r="1.6" fill="#b0a4ac"/>
<circle cx="1060.7" cy="775.1" r="1.6" fill="#b0a4ac"/>
<circle cx="1058.9" cy="779.5" r="1.6" fill="#b0a4ac"/>
<circle cx="1112.3" cy="685.3" r="1.6" fill="#b0a4ac"/>
<circle cx="1119.1" cy="665.6" r="1.6" fill="#b0a4ac"/>
<circle cx="1025.8" cy="833.8" r="1.6" fill="#b0a4ac"/>
<circle cx="933.2" cy="851.8" r="1.6" fill="#b0a4ac"/>
<circle cx="862.8" cy="869.3" r="1.6" fill="#b0a4ac"/>
<circle cx="919.7" cy="855.4" r="1.6" fill="#b0a4ac"/>
<circle cx="1003.3" cy="837.6" r="1.6" fill="#b0a4ac"/>
<circle cx="1024.8" cy="832.4" r="1.6" fill="#b0a4ac"/>
<circle cx="941.7" cy="851.3" r="1.6" fill="#b0a4ac"/>
<circle cx="894.1" cy="860.4" r="1.6" fill="#b0a4ac"/>
<circle cx="993.9" cy="840.7" r="1.6" fill="#b0a4ac"/>
<circle cx="907.3" cy="858.4" r="1.6" fill="#b0a4ac"/>
<circle cx="993.8" cy="838.7" r="1.6" fill="#b0a4ac"/>
<circle cx="965.6" cy="846.1" r="1.6" fill="#b0a4ac"/>
<circle cx="887.6" cy="862.3" r="1.6" fill="#b0a4ac"/>
<circle cx="969.7" cy="847" r="1.6" fill="#b0a4ac"/>
<circle cx="993.7" cy="838.3" r="1.6" fill="#b0a4ac"/>
<circle cx="856" cy="872.5" r="1.6" fill="#b0a4ac"/>
<circle cx="974.1" cy="843.7" r="1.6" fill="#b0a4ac"/>
<circle cx="948.2" cy="849" r="1.6" fill="#b0a4ac"/>
<circle cx="889.4" cy="865.1" r="1.6" fill="#b0a4ac"/>
<circle cx="902.8" cy="859.8" r="1.6" fill="#b0a4ac"/>
<circle cx="879.8" cy="867.4" r="1.6" fill="#b0a4ac"/>
<circle cx="997.9" cy="840.5" r="1.6" fill="#b0a4ac"/>
<circle cx="999.9" cy="841.7" r="1.6" fill="#b0a4ac"/>
<circle cx="887.8" cy="863.1" r="1.6" fill="#b0a4ac"/>
<circle cx="897.6" cy="860.4" r="1.6" fill="#b0a4ac"/>
<circle cx="1019.6" cy="835" r="1.6" fill="#b0a4ac"/>
<circle cx="1017.5" cy="835.2" r="1.6" fill="#b0a4ac"/>
<circle cx="877.5" cy="866.2" r="1.6" fill="#b0a4ac"/>
<circle cx="983.1" cy="841.4" r="1.6" fill="#b0a4ac"/>
<circle cx="930.5" cy="854.3" r="1.6" fill="#b0a4ac"/>
<circle cx="868.4" cy="866.1" r="1.6" fill="#b0a4ac"/>
<circle cx="947.1" cy="850.4" r="1.6" fill="#b0a4ac"/>
<circle cx="963.2" cy="845.6" r="1.6" fill="#b0a4ac"/>
<circle cx="962" cy="847.7" r="1.6" fill="#b0a4ac"/>
<circle cx="996.1" cy="839.2" r="1.6" fill="#b0a4ac"/>
<circle cx="936.2" cy="855.2" r="1.6" fill="#b0a4ac"/>
<circle cx="944.1" cy="850.6" r="1.6" fill="#b0a4ac"/>
<circle cx="1024.8" cy="833.9" r="1.6" fill="#b0a4ac"/>
<circle cx="969.1" cy="844" r="1.6" fill="#b0a4ac"/>
<circle cx="945.7" cy="851.6" r="1.6" fill="#b0a4ac"/>
<circle cx="967.8" cy="847.4" r="1.6" fill="#b0a4ac"/>
<circle cx="954.6" cy="635.7" r="2.6" fill="#c4beb8"/>
<circle cx="819.4" cy="744" r="3" fill="#c4beb8"/>
<circle cx="948.4" cy="751.3" r="2.2" fill="#c4beb8"/>
<circle cx="861.2" cy="701.6" r="2.6" fill="#c4beb8"/>
<circle cx="974.5" cy="713.9" r="2.2" fill="#c4beb8"/>
<circle cx="930.7" cy="674.5" r="1.9" fill="#c4beb8"/>
<circle cx="953.9" cy="733.2" r="2" fill="#c4beb8"/>
<circle cx="808.7" cy="797.5" r="2.1" fill="#c4beb8"/>
<circle cx="1026.6" cy="785.3" r="2" fill="#c4beb8"/>
<circle cx="916.3" cy="683.2" r="2.7" fill="#c4beb8"/>
<circle cx="971.2" cy="719" r="1.7" fill="#c4beb8"/>
<circle cx="882.9" cy="648.4" r="2.1" fill="#c4beb8"/>
<circle cx="948.5" cy="787.3" r="2.6" fill="#c4beb8"/>
<circle cx="986.5" cy="656.7" r="1.7" fill="#c4beb8"/>
<circle cx="855.5" cy="770.1" r="2.9" fill="#c4beb8"/>
<circle cx="838.1" cy="828.4" r="2.5" fill="#c4beb8"/>
<circle cx="1023.2" cy="768.6" r="2.5" fill="#c4beb8"/>
<circle cx="868.7" cy="752.6" r="1.9" fill="#c4beb8"/>
<circle cx="985.8" cy="701.7" r="1.9" fill="#c4beb8"/>
<circle cx="958.7" cy="761.7" r="2.8" fill="#c4beb8"/>
<circle cx="1018.8" cy="802.6" r="3" fill="#c4beb8"/>
<circle cx="963.2" cy="748.5" r="1.6" fill="#c4beb8"/>
<circle cx="1014.4" cy="762" r="2.7" fill="#c4beb8"/>
<circle cx="967.9" cy="693.7" r="1.9" fill="#c4beb8"/>
<circle cx="832.9" cy="751.5" r="1.7" fill="#c4beb8"/>
<circle cx="859.3" cy="830.6" r="2.4" fill="#c4beb8"/>
<circle cx="885.3" cy="665.9" r="1.7" fill="#c4beb8"/>
<circle cx="941.9" cy="696.4" r="2.8" fill="#c4beb8"/>
<circle cx="1038.5" cy="765.5" r="2.8" fill="#c4beb8"/>
<circle cx="831.4" cy="693.5" r="2" fill="#c4beb8"/>
<circle cx="833.9" cy="736.5" r="1.8" fill="#c4beb8"/>
<circle cx="930.4" cy="694.9" r="2.3" fill="#c4beb8"/>
<circle cx="964.1" cy="725.1" r="2.6" fill="#c4beb8"/>
<circle cx="998.2" cy="779.9" r="1.7" fill="#c4beb8"/>
<circle cx="868" cy="815.2" r="2.6" fill="#c4beb8"/>
<circle cx="814.9" cy="676" r="1.8" fill="#c4beb8"/>
<circle cx="932.2" cy="817.9" r="2.1" fill="#c4beb8"/>
<circle cx="1037.7" cy="642.4" r="1.8" fill="#c4beb8"/>
<circle cx="1016.8" cy="625.8" r="1.7" fill="#c4beb8"/>
<circle cx="970.6" cy="806.6" r="2.3" fill="#c4beb8"/>
<circle cx="897.3" cy="829.3" r="2" fill="#c4beb8"/>
<circle cx="985.9" cy="737.4" r="2.9" fill="#c4beb8"/>
<circle cx="873.2" cy="658.3" r="2.9" fill="#c4beb8"/>
<circle cx="825.7" cy="747.7" r="2.6" fill="#c4beb8"/>
<circle cx="929.8" cy="664.9" r="2.3" fill="#c4beb8"/>
<circle cx="931.1" cy="639.6" r="2.5" fill="#c4beb8"/>
<circle cx="878.1" cy="777.6" r="2.1" fill="#c4beb8"/>
<circle cx="843.1" cy="743.4" r="2.3" fill="#c4beb8"/>
<circle cx="839" cy="827.4" r="2.4" fill="#c4beb8"/>
<circle cx="873.5" cy="780.5" r="2.2" fill="#c4beb8"/>
<circle cx="968.6" cy="629.6" r="2.2" fill="#c4beb8"/>
<circle cx="840.1" cy="645.7" r="2.8" fill="#c4beb8"/>
<circle cx="991.1" cy="697.3" r="3" fill="#c4beb8"/>
<circle cx="995.8" cy="623.5" r="2.6" fill="#c4beb8"/>
<circle cx="934.4" cy="712.1" r="2.8" fill="#c4beb8"/>
<circle cx="956.5" cy="766.3" r="2" fill="#c4beb8"/>
<circle cx="837.6" cy="732.4" r="1.7" fill="#c4beb8"/>
<circle cx="1016.1" cy="751.7" r="1.9" fill="#c4beb8"/>
<circle cx="956.1" cy="728.6" r="2.3" fill="#c4beb8"/>
<circle cx="891.1" cy="623.7" r="2.7" fill="#c4beb8"/>
<circle cx="858.7" cy="664.6" r="2.6" fill="#c4beb8"/>
<circle cx="829.2" cy="633.7" r="2.9" fill="#c4beb8"/>
<circle cx="969.9" cy="815.4" r="2.7" fill="#c4beb8"/>
<circle cx="856.6" cy="819.8" r="2" fill="#c4beb8"/>
<circle cx="896.3" cy="821" r="1.7" fill="#c4beb8"/>
<circle cx="863.2" cy="691" r="2.3" fill="#c4beb8"/>
<circle cx="930.2" cy="673.3" r="2.1" fill="#c4beb8"/>
<circle cx="868" cy="791" r="2.8" fill="#c4beb8"/>
<circle cx="959.9" cy="703" r="2.9" fill="#c4beb8"/>
<circle cx="916.8" cy="758.1" r="2.4" fill="#c4beb8"/>
<circle cx="918.9" cy="725.4" r="2.7" fill="#c4beb8"/>
<circle cx="814.7" cy="696.8" r="2.6" fill="#c4beb8"/>
<circle cx="920" cy="623.7" r="2.3" fill="#c4beb8"/>
<circle cx="910" cy="648.1" r="2.2" fill="#c4beb8"/>
<circle cx="870.1" cy="827.9" r="2.9" fill="#c4beb8"/>
<circle cx="1020.4" cy="647.8" r="2.7" fill="#c4beb8"/>
<circle cx="944.4" cy="734.8" r="2.4" fill="#c4beb8"/>
<circle cx="820.4" cy="690.6" r="3" fill="#c4beb8"/>
<circle cx="932" cy="720.5" r="1.8" fill="#c4beb8"/>
<circle cx="940.2" cy="636.5" r="2.7" fill="#c4beb8"/>
<circle cx="950.2" cy="764.1" r="2.4" fill="#c4beb8"/>
<circle cx="852" cy="753.7" r="2.1" fill="#c4beb8"/>
<circle cx="1024.7" cy="829.5" r="1.8" fill="#c4beb8"/>
<circle cx="951.1" cy="742.9" r="2.4" fill="#c4beb8"/>
<circle cx="981.9" cy="727.2" r="2.8" fill="#c4beb8"/>
<circle cx="972" cy="708.2" r="1.9" fill="#c4beb8"/>
<circle cx="936.8" cy="792.7" r="2.8" fill="#c4beb8"/>
<circle cx="943.8" cy="762.1" r="3" fill="#c4beb8"/>
<circle cx="897.1" cy="702.9" r="1.9" fill="#c4beb8"/>
<circle cx="960" cy="725.4" r="2.4" fill="#c4beb8"/>
<circle cx="910.3" cy="709.6" r="2.3" fill="#c4beb8"/>
<circle cx="875.4" cy="767.5" r="2.1" fill="#c4beb8"/>
<circle cx="1011.7" cy="666.6" r="1.8" fill="#c4beb8"/>
<circle cx="958.7" cy="745.3" r="2" fill="#c4beb8"/>
<circle cx="955.8" cy="776.2" r="2.9" fill="#c4beb8"/>
<circle cx="900.8" cy="623.5" r="2.8" fill="#c4beb8"/>
<circle cx="892.3" cy="743" r="2.9" fill="#c4beb8"/>
<circle cx="960.6" cy="773.8" r="2.3" fill="#c4beb8"/>
<circle cx="889.3" cy="806.9" r="2.3" fill="#c4beb8"/>
<circle cx="838.1" cy="828.1" r="1.7" fill="#c4beb8"/>
<circle cx="921.6" cy="727.1" r="2.2" fill="#c4beb8"/>
<circle cx="968.6" cy="748" r="2.4" fill="#c4beb8"/>
<circle cx="1039" cy="649.2" r="3" fill="#c4beb8"/>
<circle cx="822.8" cy="760.2" r="1.7" fill="#c4beb8"/>
<circle cx="860.5" cy="674.2" r="2.5" fill="#c4beb8"/>
<circle cx="1039.6" cy="744.8" r="1.7" fill="#c4beb8"/>
<circle cx="876" cy="706.3" r="3" fill="#c4beb8"/>
<circle cx="860.3" cy="680" r="1.9" fill="#c4beb8"/>
<circle cx="978.5" cy="705.2" r="2.6" fill="#c4beb8"/>
<circle cx="1014.5" cy="643.2" r="2.5" fill="#c4beb8"/>
<circle cx="1009.6" cy="750" r="1.9" fill="#c4beb8"/>
<circle cx="1036.5" cy="724.1" r="2.2" fill="#c4beb8"/>
<circle cx="909" cy="623" r="2.2" fill="#c4beb8"/>
<circle cx="941.7" cy="676.9" r="1.9" fill="#c4beb8"/>
<circle cx="1012.4" cy="673.4" r="2.2" fill="#c4beb8"/>
<circle cx="1012.8" cy="699.1" r="1.7" fill="#c4beb8"/>
<circle cx="995.1" cy="788.1" r="2.6" fill="#c4beb8"/>
<circle cx="1024.5" cy="755.6" r="3" fill="#c4beb8"/>
<circle cx="891.6" cy="682.5" r="2.4" fill="#c4beb8"/>
<circle cx="862.5" cy="645.1" r="2.2" fill="#c4beb8"/>
<circle cx="877.4" cy="695.2" r="2.3" fill="#c4beb8"/>
<circle cx="998.9" cy="622.6" r="1.8" fill="#c4beb8"/>
<circle cx="924.5" cy="739.8" r="2.6" fill="#c4beb8"/>
<circle cx="844.7" cy="783.3" r="2.6" fill="#c4beb8"/>
<circle cx="856.1" cy="794.9" r="1.8" fill="#c4beb8"/>
<circle cx="847.3" cy="826.6" r="2.1" fill="#c4beb8"/>
<circle cx="880.4" cy="643.1" r="1.8" fill="#c4beb8"/>
<circle cx="842.9" cy="668.8" r="2.6" fill="#c4beb8"/>
<circle cx="838.6" cy="694.5" r="1.6" fill="#c4beb8"/>
<circle cx="1033.2" cy="708.7" r="2.8" fill="#c4beb8"/>
<circle cx="899.4" cy="797.2" r="1.7" fill="#c4beb8"/>
<circle cx="825.2" cy="641.5" r="2.8" fill="#c4beb8"/>
<circle cx="1009.8" cy="697.5" r="1.9" fill="#c4beb8"/>
<circle cx="848.5" cy="664" r="2.3" fill="#c4beb8"/>
<circle cx="836.5" cy="860.6" r="1.4" fill="#a898a8"/>
<circle cx="843" cy="726.9" r="1.3" fill="#a898a8"/>
<circle cx="836.6" cy="774.1" r="1.5" fill="#a898a8"/>
<circle cx="814.7" cy="779.5" r="1.3" fill="#a898a8"/>
<circle cx="845.5" cy="704.3" r="1.4" fill="#a898a8"/>
<circle cx="836" cy="793.2" r="1.8" fill="#a898a8"/>
<circle cx="843.3" cy="781.8" r="1.3" fill="#a898a8"/>
<circle cx="818" cy="845.7" r="1.7" fill="#a898a8"/>
<circle cx="812.3" cy="818.1" r="1.6" fill="#a898a8"/>
<circle cx="819.7" cy="710.1" r="1.1" fill="#a898a8"/>
<circle cx="814.7" cy="845.5" r="1.5" fill="#a898a8"/>
<circle cx="814.3" cy="857.1" r="1.8" fill="#a898a8"/>
<circle cx="813.9" cy="858.8" r="1.6" fill="#a898a8"/>
<circle cx="810.1" cy="813.1" r="1.8" fill="#a898a8"/>
<circle cx="829.4" cy="802.4" r="1.6" fill="#a898a8"/>
<circle cx="845" cy="739.6" r="1.9" fill="#a898a8"/>
<circle cx="847.7" cy="797.9" r="1.1" fill="#a898a8"/>
<circle cx="840.4" cy="743.6" r="1.4" fill="#a898a8"/>
<circle cx="847.9" cy="823.5" r="1.2" fill="#a898a8"/>
<circle cx="826.8" cy="738" r="1.7" fill="#a898a8"/>
<circle cx="843.1" cy="796.2" r="1.3" fill="#a898a8"/>
<circle cx="847.6" cy="851.3" r="1.6" fill="#a898a8"/>
<circle cx="838" cy="823.7" r="1.6" fill="#a898a8"/>
<circle cx="814.7" cy="842.1" r="1.1" fill="#a898a8"/>
<circle cx="836.6" cy="717.6" r="1.6" fill="#a898a8"/>
<circle cx="810.8" cy="718.3" r="1.3" fill="#a898a8"/>
<circle cx="816.8" cy="830.9" r="1.3" fill="#a898a8"/>
<circle cx="838.7" cy="819.1" r="1.6" fill="#a898a8"/>
<circle cx="822.7" cy="860.5" r="1.6" fill="#a898a8"/>
<circle cx="814.1" cy="739.7" r="1.2" fill="#a898a8"/>
<circle cx="825.6" cy="745.3" r="1.7" fill="#a898a8"/>
<circle cx="837.4" cy="842.9" r="1.1" fill="#a898a8"/>
<circle cx="837.7" cy="756" r="1.1" fill="#a898a8"/>
<circle cx="831.2" cy="754.6" r="1.8" fill="#a898a8"/>
<circle cx="830" cy="791.3" r="1.9" fill="#a898a8"/>
<circle cx="814.1" cy="844.7" r="1.9" fill="#a898a8"/>
<circle cx="840.5" cy="833.2" r="1.9" fill="#a898a8"/>
<circle cx="811.7" cy="740.7" r="1.7" fill="#a898a8"/>
<circle cx="838" cy="838.3" r="1.6" fill="#a898a8"/>
<circle cx="832.7" cy="859.6" r="1.5" fill="#a898a8"/>
</g>
<path d="M1027.5 853.9h80M1027.5 850.9v6M1107.5 850.9v6" stroke="#f4eef0" stroke-width="1.8" fill="none"/>
<text x="1067.5" y="848.6999999999999" font-family="Liberation Serif" font-weight="bold" font-size="16.5" fill="#f4eef0" text-anchor="middle">1 cm</text>
<path d="M172.4 1298.8V1759.3M154 1759.3H863" stroke="#000" stroke-width="2.3" fill="none"/>
<text x="148.6" y="1770.6" font-family="Liberation Sans" font-weight="bold" font-size="31.5" text-anchor="end">0</text>
<path d="M154 1667.2H172.4" stroke="#000" stroke-width="2.3"/>
<text x="148.6" y="1678.5" font-family="Liberation Sans" font-weight="bold" font-size="31.5" text-anchor="end">5</text>
<path d="M154 1575.1H172.4" stroke="#000" stroke-width="2.3"/>
<text x="148.6" y="1586.4" font-family="Liberation Sans" font-weight="bold" font-size="31.5" text-anchor="end">10</text>
<path d="M154 1483H172.4" stroke="#000" stroke-width="2.3"/>
<text x="148.6" y="1494.3" font-family="Liberation Sans" font-weight="bold" font-size="31.5" text-anchor="end">15</text>
<path d="M154 1390.9H172.4" stroke="#000" stroke-width="2.3"/>
<text x="148.6" y="1402.2" font-family="Liberation Sans" font-weight="bold" font-size="31.5" text-anchor="end">20</text>
<path d="M154 1298.8H172.4" stroke="#000" stroke-width="2.3"/>
<text x="148.6" y="1310.1" font-family="Liberation Sans" font-weight="bold" font-size="31.5" text-anchor="end">25</text>
<text transform="translate(86 1529.2) rotate(-90)" font-family="Liberation Sans" font-weight="bold" font-size="31.85" text-anchor="middle">Area Under the Curve</text>
<path d="M212.3 1759.3V1777.6" stroke="#000" stroke-width="2.3"/>
<text transform="translate(217.7 1801.7) rotate(-45)" font-family="Liberation Sans" font-weight="bold" font-size="25.3" stroke="#000" stroke-width="0.45" text-anchor="end">CM1</text>
<path d="M273.3 1759.3V1777.6" stroke="#000" stroke-width="2.3"/>
<text transform="translate(278.7 1801.7) rotate(-45)" font-family="Liberation Sans" font-weight="bold" font-size="25.3" stroke="#000" stroke-width="0.45" text-anchor="end">CM3</text>
<path d="M334.4 1759.3V1777.6" stroke="#000" stroke-width="2.3"/>
<text transform="translate(339.8 1801.7) rotate(-45)" font-family="Liberation Sans" font-weight="bold" font-size="25.3" stroke="#000" stroke-width="0.45" text-anchor="end">CM8</text>
<path d="M395.4 1759.3V1777.6" stroke="#000" stroke-width="2.3"/>
<text transform="translate(400.8 1801.7) rotate(-45)" font-family="Liberation Sans" font-weight="bold" font-size="25.3" stroke="#000" stroke-width="0.45" text-anchor="end">CM9</text>
<path d="M456.5 1759.3V1777.6" stroke="#000" stroke-width="2.3"/>
<text transform="translate(461.9 1801.7) rotate(-45)" font-family="Liberation Sans" font-weight="bold" font-size="25.3" stroke="#000" stroke-width="0.45" text-anchor="end">CM10</text>
<path d="M517.5 1759.3V1777.6" stroke="#000" stroke-width="2.3"/>
<text transform="translate(522.9 1801.7) rotate(-45)" font-family="Liberation Sans" font-weight="bold" font-size="25.3" stroke="#000" stroke-width="0.45" text-anchor="end">CM13</text>
<path d="M578.5 1759.3V1777.6" stroke="#000" stroke-width="2.3"/>
<text transform="translate(583.9 1801.7) rotate(-45)" font-family="Liberation Sans" font-weight="bold" font-size="25.3" stroke="#000" stroke-width="0.45" text-anchor="end">CM17</text>
<path d="M639.6 1759.3V1777.6" stroke="#000" stroke-width="2.3"/>
<text transform="translate(645 1801.7) rotate(-45)" font-family="Liberation Sans" font-weight="bold" font-size="25.3" stroke="#000" stroke-width="0.45" text-anchor="end">CM19</text>
<path d="M700.6 1759.3V1777.6" stroke="#000" stroke-width="2.3"/>
<text transform="translate(706 1801.7) rotate(-45)" font-family="Liberation Sans" font-weight="bold" font-size="25.3" stroke="#000" stroke-width="0.45" text-anchor="end">CM20</text>
<path d="M761.7 1759.3V1777.6" stroke="#000" stroke-width="2.3"/>
<text transform="translate(767.1 1801.7) rotate(-45)" font-family="Liberation Sans" font-weight="bold" font-size="25.3" stroke="#000" stroke-width="0.45" text-anchor="end">CM22</text>
<path d="M822.7 1759.3V1777.6" stroke="#000" stroke-width="2.3"/>
<text transform="translate(828.1 1801.7) rotate(-45)" font-family="Liberation Sans" font-weight="bold" font-size="25.3" stroke="#000" stroke-width="0.45" text-anchor="end">SCNJ1</text>
<path d="M212.3 1473.7 L212.3 1473.5 L212.3 1473.3 L212.3 1473.1 L212.4 1472.8 L212.5 1472.6 L212.6 1472.4 L212.8 1472.2 L213.1 1472 L213.5 1471.8 L214.2 1471.6 L215 1471.4 L216.1 1471.2 L217.5 1470.9 L219.1 1470.7 L220.8 1470.5 L222.6 1470.3 L224.3 1470.1 L225.8 1469.9 L226.8 1469.7 L227.4 1469.5 L227.4 1469.3 L226.9 1469.1 L225.9 1468.8 L224.5 1468.6 L223 1468.4 L221.5 1468.2 L220.1 1468 L219.1 1467.8 L218.5 1467.6 L218.4 1467.4 L218.8 1467.2 L219.8 1466.9 L221.1 1466.7 L222.7 1466.5 L224.4 1466.3 L226.2 1466.1 L227.8 1465.9 L229.1 1465.7 L230.2 1465.5 L230.9 1465.3 L231.4 1465.1 L231.7 1464.8 L231.8 1464.6 L231.8 1464.4 L231.7 1464.2 L231.5 1464 L231.1 1463.8 L230.5 1463.6 L229.5 1463.4 L228.3 1463.2 L226.7 1462.9 L224.9 1462.7 L223 1462.5 L221 1462.3 L219.2 1462.1 L217.6 1461.9 L216.2 1461.7 L215 1461.5 L214.2 1461.3 L213.5 1461.1 L213.1 1460.8 L212.8 1460.6 L212.6 1460.4 L212.5 1460.2 L212.4 1460 L212.3 1459.8 L212.3 1459.6 L212.3 1459.4 L212.3 1459.2 L212.3 1459.2 L212.3 1459.4 L212.3 1459.6 L212.3 1459.8 L212.2 1460 L212.1 1460.2 L212 1460.4 L211.8 1460.6 L211.5 1460.8 L211.1 1461.1 L210.4 1461.3 L209.6 1461.5 L208.4 1461.7 L207 1461.9 L205.4 1462.1 L203.6 1462.3 L201.6 1462.5 L199.7 1462.7 L197.9 1462.9 L196.3 1463.2 L195.1 1463.4 L194.1 1463.6 L193.5 1463.8 L193.1 1464 L192.9 1464.2 L192.8 1464.4 L192.8 1464.6 L192.9 1464.8 L193.2 1465.1 L193.7 1465.3 L194.4 1465.5 L195.5 1465.7 L196.8 1465.9 L198.4 1466.1 L200.2 1466.3 L201.9 1466.5 L203.5 1466.7 L204.8 1466.9 L205.8 1467.2 L206.2 1467.4 L206.1 1467.6 L205.5 1467.8 L204.5 1468 L203.1 1468.2 L201.6 1468.4 L200.1 1468.6 L198.7 1468.8 L197.7 1469.1 L197.2 1469.3 L197.2 1469.5 L197.8 1469.7 L198.8 1469.9 L200.3 1470.1 L202 1470.3 L203.8 1470.5 L205.5 1470.7 L207.1 1470.9 L208.5 1471.2 L209.6 1471.4 L210.4 1471.6 L211.1 1471.8 L211.5 1472 L211.8 1472.2 L212 1472.4 L212.1 1472.6 L212.2 1472.8 L212.3 1473.1 L212.3 1473.3 L212.3 1473.5 L212.3 1473.7Z" fill="#5b8bc0" stroke="#000" stroke-width="2.25" stroke-linejoin="round"/>
<path d="M212.3 1459.2v-0.1M212.3 1473.7v0.1" stroke="#000" stroke-width="2.25"/>
<path d="M197.2 1469.4H227.4" stroke="#000" stroke-width="2.0"/>
<path d="M194.5 1465.5H230.1" stroke="#000" stroke-width="2.0"/>
<path d="M194.6 1463.5H230" stroke="#000" stroke-width="2.0"/>
<circle cx="196.5" cy="1469.4" r="5.2" fill="#000"/>
<circle cx="212.3" cy="1463.5" r="5.2" fill="#000"/>
<circle cx="228.1" cy="1465.5" r="5.2" fill="#000"/>
<path d="M273.3 1554.9 L273.4 1553.9 L273.4 1552.9 L273.4 1551.9 L273.4 1550.9 L273.5 1549.9 L273.7 1548.9 L273.9 1547.9 L274.3 1546.9 L274.8 1545.9 L275.5 1544.9 L276.6 1543.9 L277.9 1542.9 L279.5 1541.8 L281.4 1540.8 L283.4 1539.8 L285.5 1538.8 L287.5 1537.8 L289.2 1536.8 L290.4 1535.8 L291 1534.8 L291 1533.8 L290.4 1532.8 L289.3 1531.8 L287.8 1530.8 L286.2 1529.8 L284.7 1528.8 L283.5 1527.8 L282.8 1526.7 L282.7 1525.7 L283.2 1524.7 L284.2 1523.7 L285.6 1522.7 L287.2 1521.7 L288.9 1520.7 L290.4 1519.7 L291.7 1518.7 L292.5 1517.7 L292.8 1516.7 L292.8 1515.7 L292.6 1514.7 L292.3 1513.7 L292.1 1512.7 L292 1511.7 L292.2 1510.6 L292.4 1509.6 L292.7 1508.6 L292.8 1507.6 L292.7 1506.6 L292.1 1505.6 L291.1 1504.6 L289.6 1503.6 L287.7 1502.6 L285.7 1501.6 L283.5 1500.6 L281.4 1499.6 L279.5 1498.6 L277.9 1497.6 L276.6 1496.6 L275.6 1495.6 L274.8 1494.5 L274.3 1493.5 L273.9 1492.5 L273.7 1491.5 L273.5 1490.5 L273.4 1489.5 L273.4 1488.5 L273.4 1487.5 L273.4 1486.5 L273.3 1485.5 L273.3 1485.5 L273.3 1486.5 L273.3 1487.5 L273.3 1488.5 L273.2 1489.5 L273.2 1490.5 L273 1491.5 L272.8 1492.5 L272.4 1493.5 L271.9 1494.5 L271.1 1495.6 L270.1 1496.6 L268.8 1497.6 L267.2 1498.6 L265.3 1499.6 L263.2 1500.6 L261 1501.6 L258.9 1502.6 L257.1 1503.6 L255.6 1504.6 L254.6 1505.6 L254 1506.6 L253.8 1507.6 L254 1508.6 L254.3 1509.6 L254.5 1510.6 L254.7 1511.7 L254.6 1512.7 L254.4 1513.7 L254.1 1514.7 L253.8 1515.7 L253.9 1516.7 L254.2 1517.7 L255 1518.7 L256.2 1519.7 L257.8 1520.7 L259.5 1521.7 L261.1 1522.7 L262.5 1523.7 L263.5 1524.7 L264 1525.7 L263.8 1526.7 L263.1 1527.8 L262 1528.8 L260.5 1529.8 L258.9 1530.8 L257.4 1531.8 L256.3 1532.8 L255.6 1533.8 L255.6 1534.8 L256.3 1535.8 L257.5 1536.8 L259.2 1537.8 L261.2 1538.8 L263.2 1539.8 L265.3 1540.8 L267.2 1541.8 L268.8 1542.9 L270.1 1543.9 L271.1 1544.9 L271.9 1545.9 L272.4 1546.9 L272.8 1547.9 L273 1548.9 L273.2 1549.9 L273.2 1550.9 L273.3 1551.9 L273.3 1552.9 L273.3 1553.9 L273.3 1554.9Z" fill="#5b8bc0" stroke="#000" stroke-width="2.25" stroke-linejoin="round"/>
<path d="M273.3 1485.5v-0.1M273.3 1554.9v0.1" stroke="#000" stroke-width="2.25"/>
<path d="M255.6 1534.4H291" stroke="#000" stroke-width="2.0"/>
<path d="M254.2 1517.6H292.5" stroke="#000" stroke-width="2.0"/>
<path d="M254.3 1506H292.3" stroke="#000" stroke-width="2.0"/>
<circle cx="273.3" cy="1506" r="5.2" fill="#000"/>
<circle cx="273.3" cy="1517.6" r="5.2" fill="#000"/>
<circle cx="273.3" cy="1534.4" r="5.2" fill="#000"/>
<path d="M334.4 1510 L334.4 1509.6 L334.4 1509.2 L334.4 1508.8 L334.4 1508.3 L334.5 1507.9 L334.5 1507.5 L334.6 1507.1 L334.8 1506.7 L335.1 1506.2 L335.4 1505.8 L335.9 1505.4 L336.5 1505 L337.3 1504.6 L338.2 1504.1 L339.2 1503.7 L340.3 1503.3 L341.4 1502.9 L342.5 1502.5 L343.3 1502 L343.9 1501.6 L344.2 1501.2 L344.1 1500.8 L343.7 1500.4 L343.1 1499.9 L342.2 1499.5 L341.1 1499.1 L340 1498.7 L338.9 1498.3 L338 1497.8 L337.1 1497.4 L336.5 1497 L336.1 1496.6 L335.9 1496.2 L336 1495.7 L336.4 1495.3 L337 1494.9 L338 1494.5 L339.3 1494.1 L340.9 1493.6 L342.8 1493.2 L344.9 1492.8 L347 1492.4 L349.2 1492 L351.1 1491.5 L352.6 1491.1 L353.5 1490.7 L353.9 1490.3 L353.5 1489.9 L352.6 1489.4 L351.1 1489 L349.2 1488.6 L347 1488.2 L344.8 1487.8 L342.7 1487.3 L340.8 1486.9 L339.2 1486.5 L337.8 1486.1 L336.8 1485.7 L336 1485.2 L335.4 1484.8 L335 1484.4 L334.8 1484 L334.6 1483.6 L334.5 1483.1 L334.5 1482.7 L334.4 1482.3 L334.4 1481.9 L334.4 1481.5 L334.4 1481 L334.4 1481 L334.4 1481.5 L334.4 1481.9 L334.3 1482.3 L334.3 1482.7 L334.2 1483.1 L334.1 1483.6 L334 1484 L333.7 1484.4 L333.3 1484.8 L332.8 1485.2 L332 1485.7 L330.9 1486.1 L329.6 1486.5 L327.9 1486.9 L326 1487.3 L323.9 1487.8 L321.7 1488.2 L319.6 1488.6 L317.7 1489 L316.2 1489.4 L315.2 1489.9 L314.9 1490.3 L315.2 1490.7 L316.2 1491.1 L317.7 1491.5 L319.6 1492 L321.7 1492.4 L323.9 1492.8 L326 1493.2 L327.9 1493.6 L329.5 1494.1 L330.8 1494.5 L331.7 1494.9 L332.4 1495.3 L332.7 1495.7 L332.8 1496.2 L332.6 1496.6 L332.2 1497 L331.6 1497.4 L330.8 1497.8 L329.8 1498.3 L328.8 1498.7 L327.7 1499.1 L326.6 1499.5 L325.7 1499.9 L325 1500.4 L324.6 1500.8 L324.6 1501.2 L324.9 1501.6 L325.5 1502 L326.3 1502.5 L327.3 1502.9 L328.4 1503.3 L329.5 1503.7 L330.6 1504.1 L331.5 1504.6 L332.3 1505 L332.9 1505.4 L333.4 1505.8 L333.7 1506.2 L333.9 1506.7 L334.1 1507.1 L334.2 1507.5 L334.3 1507.9 L334.3 1508.3 L334.4 1508.8 L334.4 1509.2 L334.4 1509.6 L334.4 1510Z" fill="#5b8bc0" stroke="#000" stroke-width="2.25" stroke-linejoin="round"/>
<path d="M334.4 1481v-0.1M334.4 1510v0.1" stroke="#000" stroke-width="2.25"/>
<path d="M324.6 1501.1H344.2" stroke="#000" stroke-width="2.0"/>
<path d="M315.1 1490.6H353.7" stroke="#000" stroke-width="2.0"/>
<path d="M315.1 1490H353.7" stroke="#000" stroke-width="2.0"/>
<circle cx="322.6" cy="1490" r="5.2" fill="#000"/>
<circle cx="346" cy="1490.6" r="5.2" fill="#000"/>
<circle cx="334.4" cy="1501.1" r="5.2" fill="#000"/>
<path d="M395.4 1500.8 L395.4 1500.4 L395.4 1500 L395.5 1499.6 L395.5 1499.2 L395.6 1498.9 L395.8 1498.5 L396 1498.1 L396.4 1497.7 L397 1497.3 L397.7 1496.9 L398.8 1496.6 L400.2 1496.2 L401.9 1495.8 L403.9 1495.4 L406 1495 L408.2 1494.6 L410.3 1494.2 L412.1 1493.9 L413.4 1493.5 L414 1493.1 L414.1 1492.7 L413.5 1492.3 L412.4 1491.9 L411.1 1491.6 L409.7 1491.2 L408.5 1490.8 L407.7 1490.4 L407.4 1490 L407.6 1489.6 L408.4 1489.2 L409.7 1488.9 L411.1 1488.5 L412.5 1488.1 L413.7 1487.7 L414.6 1487.3 L414.9 1486.9 L414.8 1486.6 L414.3 1486.2 L413.5 1485.8 L412.8 1485.4 L412.2 1485 L412 1484.6 L412.1 1484.2 L412.6 1483.9 L413.3 1483.5 L414 1483.1 L414.6 1482.7 L414.8 1482.3 L414.5 1481.9 L413.6 1481.6 L412.2 1481.2 L410.4 1480.8 L408.3 1480.4 L406.1 1480 L403.9 1479.6 L401.9 1479.2 L400.2 1478.9 L398.8 1478.5 L397.7 1478.1 L397 1477.7 L396.4 1477.3 L396 1476.9 L395.8 1476.6 L395.6 1476.2 L395.5 1475.8 L395.5 1475.4 L395.4 1475 L395.4 1474.6 L395.4 1474.2 L395.4 1474.2 L395.4 1474.6 L395.4 1475 L395.4 1475.4 L395.3 1475.8 L395.2 1476.2 L395.1 1476.6 L394.8 1476.9 L394.5 1477.3 L393.9 1477.7 L393.1 1478.1 L392 1478.5 L390.6 1478.9 L388.9 1479.2 L386.9 1479.6 L384.8 1480 L382.6 1480.4 L380.4 1480.8 L378.6 1481.2 L377.2 1481.6 L376.3 1481.9 L376 1482.3 L376.3 1482.7 L376.8 1483.1 L377.6 1483.5 L378.3 1483.9 L378.7 1484.2 L378.9 1484.6 L378.6 1485 L378 1485.4 L377.3 1485.8 L376.6 1486.2 L376.1 1486.6 L375.9 1486.9 L376.3 1487.3 L377.1 1487.7 L378.3 1488.1 L379.7 1488.5 L381.2 1488.9 L382.4 1489.2 L383.2 1489.6 L383.5 1490 L383.2 1490.4 L382.4 1490.8 L381.1 1491.2 L379.7 1491.6 L378.4 1491.9 L377.3 1492.3 L376.8 1492.7 L376.8 1493.1 L377.5 1493.5 L378.8 1493.9 L380.5 1494.2 L382.6 1494.6 L384.8 1495 L387 1495.4 L388.9 1495.8 L390.6 1496.2 L392 1496.6 L393.1 1496.9 L393.9 1497.3 L394.5 1497.7 L394.8 1498.1 L395.1 1498.5 L395.2 1498.9 L395.3 1499.2 L395.4 1499.6 L395.4 1500 L395.4 1500.4 L395.4 1500.8Z" fill="#5b8bc0" stroke="#000" stroke-width="2.25" stroke-linejoin="round"/>
<path d="M395.4 1474.2v-0.1M395.4 1500.8v0.1" stroke="#000" stroke-width="2.25"/>
<path d="M376.8 1492.9H414.1" stroke="#000" stroke-width="2.0"/>
<path d="M376 1487.1H414.8" stroke="#000" stroke-width="2.0"/>
<path d="M376.2 1482.1H414.6" stroke="#000" stroke-width="2.0"/>
<circle cx="386" cy="1482.1" r="5.2" fill="#000"/>
<circle cx="386" cy="1492.9" r="5.2" fill="#000"/>
<circle cx="404.6" cy="1487.1" r="5.2" fill="#000"/>
<path d="M456.5 1522.4 L456.5 1521.9 L456.5 1521.4 L456.5 1521 L456.5 1520.5 L456.6 1520 L456.7 1519.5 L456.9 1519.1 L457.1 1518.6 L457.5 1518.1 L458 1517.7 L458.7 1517.2 L459.7 1516.7 L460.8 1516.2 L462.2 1515.8 L463.7 1515.3 L465.2 1514.8 L466.6 1514.4 L467.9 1513.9 L468.9 1513.4 L469.4 1512.9 L469.5 1512.5 L469 1512 L468.2 1511.5 L467 1511.1 L465.7 1510.6 L464.3 1510.1 L462.9 1509.6 L461.8 1509.2 L461 1508.7 L460.6 1508.2 L460.5 1507.8 L461 1507.3 L461.8 1506.8 L463 1506.4 L464.4 1505.9 L466.1 1505.4 L467.9 1504.9 L469.7 1504.5 L471.4 1504 L472.9 1503.5 L474.1 1503.1 L475 1502.6 L475.7 1502.1 L476 1501.6 L476 1501.2 L475.6 1500.7 L475 1500.2 L474 1499.8 L472.8 1499.3 L471.3 1498.8 L469.6 1498.3 L467.8 1497.9 L465.9 1497.4 L464.1 1496.9 L462.4 1496.5 L461 1496 L459.8 1495.5 L458.8 1495 L458 1494.6 L457.5 1494.1 L457.1 1493.6 L456.9 1493.2 L456.7 1492.7 L456.6 1492.2 L456.5 1491.8 L456.5 1491.3 L456.5 1490.8 L456.5 1490.3 L456.5 1489.9 L456.5 1489.9 L456.5 1490.3 L456.4 1490.8 L456.4 1491.3 L456.4 1491.8 L456.3 1492.2 L456.2 1492.7 L456.1 1493.2 L455.8 1493.6 L455.4 1494.1 L454.9 1494.6 L454.1 1495 L453.2 1495.5 L451.9 1496 L450.5 1496.5 L448.8 1496.9 L447 1497.4 L445.2 1497.9 L443.3 1498.3 L441.6 1498.8 L440.1 1499.3 L438.9 1499.8 L437.9 1500.2 L437.3 1500.7 L437 1501.2 L437 1501.6 L437.3 1502.1 L437.9 1502.6 L438.8 1503.1 L440 1503.5 L441.5 1504 L443.2 1504.5 L445 1504.9 L446.8 1505.4 L448.5 1505.9 L450 1506.4 L451.1 1506.8 L452 1507.3 L452.4 1507.8 L452.4 1508.2 L451.9 1508.7 L451.1 1509.2 L450 1509.6 L448.7 1510.1 L447.2 1510.6 L445.9 1511.1 L444.7 1511.5 L443.9 1512 L443.5 1512.5 L443.5 1512.9 L444.1 1513.4 L445 1513.9 L446.3 1514.4 L447.7 1514.8 L449.3 1515.3 L450.7 1515.8 L452.1 1516.2 L453.2 1516.7 L454.2 1517.2 L454.9 1517.7 L455.4 1518.1 L455.8 1518.6 L456.1 1519.1 L456.2 1519.5 L456.3 1520 L456.4 1520.5 L456.4 1521 L456.4 1521.4 L456.5 1521.9 L456.5 1522.4Z" fill="#5b8bc0" stroke="#000" stroke-width="2.25" stroke-linejoin="round"/>
<path d="M456.5 1489.9v-0.1M456.5 1522.4v0.1" stroke="#000" stroke-width="2.25"/>
<path d="M443.5 1512.7H469.4" stroke="#000" stroke-width="2.0"/>
<path d="M439.3 1503.3H473.6" stroke="#000" stroke-width="2.0"/>
<path d="M439.4 1499.6H473.6" stroke="#000" stroke-width="2.0"/>
<circle cx="446.5" cy="1499.6" r="5.2" fill="#000"/>
<circle cx="466.5" cy="1503.3" r="5.2" fill="#000"/>
<circle cx="447.2" cy="1512.7" r="5.2" fill="#000"/>
<path d="M517.5 1523.8 L517.5 1523.6 L517.5 1523.3 L517.5 1523 L517.6 1522.7 L517.6 1522.5 L517.7 1522.2 L517.8 1521.9 L518 1521.6 L518.2 1521.4 L518.6 1521.1 L519.1 1520.8 L519.8 1520.5 L520.6 1520.3 L521.5 1520 L522.6 1519.7 L523.8 1519.4 L524.9 1519.1 L526 1518.9 L526.8 1518.6 L527.4 1518.3 L527.6 1518 L527.5 1517.8 L527 1517.5 L526.3 1517.2 L525.3 1516.9 L524.2 1516.7 L523 1516.4 L521.9 1516.1 L521 1515.8 L520.2 1515.6 L519.6 1515.3 L519.3 1515 L519.2 1514.7 L519.4 1514.5 L520 1514.2 L520.8 1513.9 L521.9 1513.6 L523.4 1513.3 L525.2 1513.1 L527.2 1512.8 L529.3 1512.5 L531.4 1512.2 L533.4 1512 L535.1 1511.7 L536.4 1511.4 L537 1511.1 L537 1510.9 L536.4 1510.6 L535.1 1510.3 L533.5 1510 L531.5 1509.8 L529.3 1509.5 L527.2 1509.2 L525.1 1508.9 L523.3 1508.7 L521.8 1508.4 L520.6 1508.1 L519.6 1507.8 L518.9 1507.5 L518.4 1507.3 L518.1 1507 L517.8 1506.7 L517.7 1506.4 L517.6 1506.2 L517.6 1505.9 L517.5 1505.6 L517.5 1505.3 L517.5 1505.1 L517.5 1504.8 L517.5 1504.8 L517.5 1505.1 L517.5 1505.3 L517.5 1505.6 L517.4 1505.9 L517.4 1506.2 L517.3 1506.4 L517.2 1506.7 L516.9 1507 L516.6 1507.3 L516.1 1507.5 L515.4 1507.8 L514.4 1508.1 L513.2 1508.4 L511.7 1508.7 L509.9 1508.9 L507.8 1509.2 L505.7 1509.5 L503.5 1509.8 L501.5 1510 L499.9 1510.3 L498.6 1510.6 L498 1510.9 L498 1511.1 L498.6 1511.4 L499.9 1511.7 L501.6 1512 L503.6 1512.2 L505.7 1512.5 L507.8 1512.8 L509.8 1513.1 L511.6 1513.3 L513.1 1513.6 L514.2 1513.9 L515 1514.2 L515.6 1514.5 L515.8 1514.7 L515.7 1515 L515.4 1515.3 L514.8 1515.6 L514 1515.8 L513.1 1516.1 L512 1516.4 L510.8 1516.7 L509.7 1516.9 L508.7 1517.2 L508 1517.5 L507.5 1517.8 L507.4 1518 L507.6 1518.3 L508.2 1518.6 L509 1518.9 L510.1 1519.1 L511.2 1519.4 L512.4 1519.7 L513.5 1520 L514.4 1520.3 L515.2 1520.5 L515.9 1520.8 L516.4 1521.1 L516.8 1521.4 L517 1521.6 L517.2 1521.9 L517.3 1522.2 L517.4 1522.5 L517.4 1522.7 L517.5 1523 L517.5 1523.3 L517.5 1523.6 L517.5 1523.8Z" fill="#5b8bc0" stroke="#000" stroke-width="2.25" stroke-linejoin="round"/>
<path d="M517.5 1504.8v-0.1M517.5 1523.8v0.1" stroke="#000" stroke-width="2.25"/>
<path d="M507.4 1518H527.6" stroke="#000" stroke-width="2.0"/>
<path d="M498.5 1511.4H536.5" stroke="#000" stroke-width="2.0"/>
<path d="M498.5 1510.6H536.5" stroke="#000" stroke-width="2.0"/>
<circle cx="501.8" cy="1518" r="5.2" fill="#000"/>
<circle cx="533.5" cy="1511.4" r="5.2" fill="#000"/>
<circle cx="517.5" cy="1510.6" r="5.2" fill="#000"/>
<path d="M578.5 1527.3 L578.5 1526.9 L578.6 1526.4 L578.6 1525.9 L578.6 1525.5 L578.6 1525 L578.7 1524.6 L578.8 1524.1 L579 1523.7 L579.3 1523.2 L579.6 1522.7 L580.1 1522.3 L580.8 1521.8 L581.6 1521.4 L582.5 1520.9 L583.6 1520.5 L584.7 1520 L585.9 1519.5 L586.9 1519.1 L587.8 1518.6 L588.3 1518.2 L588.6 1517.7 L588.5 1517.3 L588 1516.8 L587.3 1516.3 L586.3 1515.9 L585.2 1515.4 L584.1 1515 L583 1514.5 L582 1514.1 L581.2 1513.6 L580.7 1513.1 L580.3 1512.7 L580.2 1512.2 L580.4 1511.8 L580.9 1511.3 L581.7 1510.9 L582.8 1510.4 L584.2 1510 L585.9 1509.5 L587.9 1509 L590.1 1508.6 L592.2 1508.1 L594.3 1507.7 L596 1507.2 L597.3 1506.8 L598 1506.3 L598 1505.8 L597.5 1505.4 L596.3 1504.9 L594.6 1504.5 L592.6 1504 L590.5 1503.6 L588.3 1503.1 L586.3 1502.6 L584.5 1502.2 L582.9 1501.7 L581.7 1501.3 L580.7 1500.8 L580 1500.4 L579.5 1499.9 L579.1 1499.4 L578.9 1499 L578.7 1498.5 L578.7 1498.1 L578.6 1497.6 L578.6 1497.2 L578.6 1496.7 L578.5 1496.2 L578.5 1495.8 L578.5 1495.8 L578.5 1496.2 L578.5 1496.7 L578.5 1497.2 L578.5 1497.6 L578.4 1498.1 L578.3 1498.5 L578.2 1499 L578 1499.4 L577.6 1499.9 L577.1 1500.4 L576.4 1500.8 L575.4 1501.3 L574.2 1501.7 L572.6 1502.2 L570.8 1502.6 L568.8 1503.1 L566.6 1503.6 L564.4 1504 L562.5 1504.5 L560.8 1504.9 L559.6 1505.4 L559 1505.8 L559.1 1506.3 L559.8 1506.8 L561.1 1507.2 L562.8 1507.7 L564.9 1508.1 L567 1508.6 L569.1 1509 L571.1 1509.5 L572.9 1510 L574.3 1510.4 L575.4 1510.9 L576.2 1511.3 L576.7 1511.8 L576.8 1512.2 L576.8 1512.7 L576.4 1513.1 L575.8 1513.6 L575 1514.1 L574.1 1514.5 L573 1515 L571.9 1515.4 L570.8 1515.9 L569.8 1516.3 L569.1 1516.8 L568.6 1517.3 L568.5 1517.7 L568.8 1518.2 L569.3 1518.6 L570.2 1519.1 L571.2 1519.5 L572.3 1520 L573.5 1520.5 L574.5 1520.9 L575.5 1521.4 L576.3 1521.8 L577 1522.3 L577.5 1522.7 L577.8 1523.2 L578.1 1523.7 L578.3 1524.1 L578.4 1524.6 L578.4 1525 L578.5 1525.5 L578.5 1525.9 L578.5 1526.4 L578.5 1526.9 L578.5 1527.3Z" fill="#5b8bc0" stroke="#000" stroke-width="2.25" stroke-linejoin="round"/>
<path d="M578.5 1495.8v-0.1M578.5 1527.3v0.1" stroke="#000" stroke-width="2.25"/>
<path d="M568.5 1517.6H588.5" stroke="#000" stroke-width="2.0"/>
<path d="M559.5 1506.6H597.5" stroke="#000" stroke-width="2.0"/>
<path d="M559.5 1505.5H597.6" stroke="#000" stroke-width="2.0"/>
<circle cx="569.3" cy="1505.5" r="5.2" fill="#000"/>
<circle cx="587.9" cy="1506.6" r="5.2" fill="#000"/>
<circle cx="578.5" cy="1517.6" r="5.2" fill="#000"/>
<path d="M639.6 1490.1 L639.6 1489.7 L639.6 1489.2 L639.6 1488.8 L639.6 1488.3 L639.7 1487.9 L639.8 1487.4 L639.9 1487 L640.1 1486.5 L640.5 1486.1 L640.9 1485.6 L641.6 1485.2 L642.4 1484.7 L643.4 1484.3 L644.6 1483.8 L645.9 1483.4 L647.2 1482.9 L648.5 1482.5 L649.7 1482 L650.6 1481.6 L651.1 1481.1 L651.2 1480.7 L650.9 1480.2 L650.2 1479.8 L649.2 1479.3 L648 1478.9 L646.7 1478.4 L645.4 1478 L644.3 1477.5 L643.4 1477.1 L642.8 1476.6 L642.5 1476.2 L642.5 1475.7 L643 1475.3 L643.8 1474.8 L644.9 1474.4 L646.3 1473.9 L648 1473.5 L649.8 1473 L651.7 1472.6 L653.6 1472.1 L655.4 1471.7 L656.9 1471.2 L658 1470.8 L658.8 1470.4 L659.1 1469.9 L658.9 1469.5 L658.3 1469 L657.3 1468.6 L655.9 1468.1 L654.2 1467.7 L652.3 1467.2 L650.4 1466.8 L648.5 1466.3 L646.7 1465.9 L645.1 1465.4 L643.7 1465 L642.6 1464.5 L641.7 1464.1 L641 1463.6 L640.5 1463.2 L640.2 1462.7 L639.9 1462.3 L639.8 1461.8 L639.7 1461.4 L639.6 1460.9 L639.6 1460.5 L639.6 1460 L639.6 1459.6 L639.6 1459.1 L639.6 1459.1 L639.6 1459.6 L639.6 1460 L639.5 1460.5 L639.5 1460.9 L639.5 1461.4 L639.4 1461.8 L639.2 1462.3 L639 1462.7 L638.7 1463.2 L638.2 1463.6 L637.5 1464.1 L636.6 1464.5 L635.5 1465 L634.1 1465.4 L632.5 1465.9 L630.7 1466.3 L628.8 1466.8 L626.8 1467.2 L625 1467.7 L623.3 1468.1 L621.9 1468.6 L620.9 1469 L620.2 1469.5 L620.1 1469.9 L620.4 1470.4 L621.1 1470.8 L622.3 1471.2 L623.8 1471.7 L625.5 1472.1 L627.4 1472.6 L629.3 1473 L631.2 1473.5 L632.9 1473.9 L634.3 1474.4 L635.4 1474.8 L636.2 1475.3 L636.6 1475.7 L636.7 1476.2 L636.4 1476.6 L635.8 1477.1 L634.9 1477.5 L633.8 1478 L632.5 1478.4 L631.2 1478.9 L630 1479.3 L629 1479.8 L628.3 1480.2 L628 1480.7 L628.1 1481.1 L628.6 1481.6 L629.5 1482 L630.6 1482.5 L631.9 1482.9 L633.3 1483.4 L634.6 1483.8 L635.8 1484.3 L636.8 1484.7 L637.6 1485.2 L638.2 1485.6 L638.7 1486.1 L639 1486.5 L639.2 1487 L639.4 1487.4 L639.5 1487.9 L639.5 1488.3 L639.5 1488.8 L639.6 1489.2 L639.6 1489.7 L639.6 1490.1Z" fill="#5b8bc0" stroke="#000" stroke-width="2.25" stroke-linejoin="round"/>
<path d="M639.6 1459.1v-0.1M639.6 1490.1v0.1" stroke="#000" stroke-width="2.25"/>
<path d="M628 1480.8H651.2" stroke="#000" stroke-width="2.0"/>
<path d="M622.2 1471.2H657" stroke="#000" stroke-width="2.0"/>
<path d="M622.2 1468.4H656.9" stroke="#000" stroke-width="2.0"/>
<circle cx="630.6" cy="1468.4" r="5.2" fill="#000"/>
<circle cx="649.6" cy="1471.2" r="5.2" fill="#000"/>
<circle cx="629.9" cy="1480.8" r="5.2" fill="#000"/>
<path d="M700.6 1468.2 L700.6 1468.1 L700.6 1467.9 L700.7 1467.7 L700.7 1467.5 L700.8 1467.3 L701 1467.1 L701.2 1466.9 L701.6 1466.7 L702.2 1466.5 L703 1466.4 L704.1 1466.2 L705.5 1466 L707.2 1465.8 L709.2 1465.6 L711.4 1465.4 L713.6 1465.2 L715.7 1465 L717.5 1464.8 L718.9 1464.7 L719.7 1464.5 L719.9 1464.3 L719.5 1464.1 L718.8 1463.9 L717.8 1463.7 L716.9 1463.5 L716.2 1463.3 L715.8 1463.1 L716 1463 L716.6 1462.8 L717.5 1462.6 L718.5 1462.4 L719.4 1462.2 L720 1462 L720.1 1461.8 L719.8 1461.6 L719 1461.4 L717.8 1461.3 L716.5 1461.1 L715.3 1460.9 L714.4 1460.7 L714 1460.5 L714.1 1460.3 L714.7 1460.1 L715.7 1459.9 L716.9 1459.7 L718.1 1459.6 L719.1 1459.4 L719.6 1459.2 L719.5 1459 L718.8 1458.8 L717.5 1458.6 L715.7 1458.4 L713.6 1458.2 L711.4 1458 L709.2 1457.9 L707.2 1457.7 L705.5 1457.5 L704.1 1457.3 L703 1457.1 L702.2 1456.9 L701.6 1456.7 L701.2 1456.5 L701 1456.3 L700.8 1456.2 L700.7 1456 L700.7 1455.8 L700.6 1455.6 L700.6 1455.4 L700.6 1455.2 L700.6 1455.2 L700.6 1455.4 L700.6 1455.6 L700.6 1455.8 L700.5 1456 L700.4 1456.2 L700.3 1456.3 L700 1456.5 L699.6 1456.7 L699.1 1456.9 L698.3 1457.1 L697.2 1457.3 L695.8 1457.5 L694.1 1457.7 L692.1 1457.9 L689.9 1458 L687.7 1458.2 L685.6 1458.4 L683.8 1458.6 L682.5 1458.8 L681.7 1459 L681.7 1459.2 L682.2 1459.4 L683.1 1459.6 L684.3 1459.7 L685.6 1459.9 L686.6 1460.1 L687.2 1460.3 L687.3 1460.5 L686.8 1460.7 L685.9 1460.9 L684.7 1461.1 L683.4 1461.3 L682.3 1461.4 L681.5 1461.6 L681.1 1461.8 L681.3 1462 L681.9 1462.2 L682.8 1462.4 L683.8 1462.6 L684.7 1462.8 L685.3 1463 L685.4 1463.1 L685.1 1463.3 L684.4 1463.5 L683.4 1463.7 L682.5 1463.9 L681.7 1464.1 L681.4 1464.3 L681.6 1464.5 L682.4 1464.7 L683.7 1464.8 L685.5 1465 L687.6 1465.2 L689.9 1465.4 L692.1 1465.6 L694.1 1465.8 L695.8 1466 L697.2 1466.2 L698.3 1466.4 L699.1 1466.5 L699.6 1466.7 L700 1466.9 L700.3 1467.1 L700.4 1467.3 L700.5 1467.5 L700.6 1467.7 L700.6 1467.9 L700.6 1468.1 L700.6 1468.2Z" fill="#5b8bc0" stroke="#000" stroke-width="2.25" stroke-linejoin="round"/>
<path d="M700.6 1455.2v-0.1M700.6 1468.2v0.1" stroke="#000" stroke-width="2.25"/>
<path d="M681.5 1464.4H719.7" stroke="#000" stroke-width="2.0"/>
<path d="M681.1 1461.8H720.1" stroke="#000" stroke-width="2.0"/>
<path d="M681.7 1459.1H719.5" stroke="#000" stroke-width="2.0"/>
<circle cx="685" cy="1464.4" r="5.2" fill="#000"/>
<circle cx="700.6" cy="1459.1" r="5.2" fill="#000"/>
<circle cx="716.6" cy="1461.8" r="5.2" fill="#000"/>
<path d="M761.7 1482.1 L761.7 1481.9 L761.7 1481.6 L761.7 1481.3 L761.7 1481 L761.8 1480.8 L761.9 1480.5 L762 1480.2 L762.2 1479.9 L762.5 1479.6 L762.9 1479.4 L763.5 1479.1 L764.3 1478.8 L765.2 1478.5 L766.4 1478.3 L767.6 1478 L768.9 1477.7 L770.2 1477.4 L771.3 1477.2 L772.1 1476.9 L772.7 1476.6 L772.8 1476.3 L772.5 1476 L771.9 1475.8 L771 1475.5 L769.8 1475.2 L768.6 1474.9 L767.3 1474.7 L766.2 1474.4 L765.3 1474.1 L764.6 1473.8 L764.2 1473.6 L764.2 1473.3 L764.4 1473 L765.1 1472.7 L766 1472.5 L767.3 1472.2 L768.8 1471.9 L770.6 1471.6 L772.6 1471.3 L774.6 1471.1 L776.5 1470.8 L778.2 1470.5 L779.6 1470.2 L780.6 1470 L781.2 1469.7 L781.2 1469.4 L780.6 1469.1 L779.6 1468.9 L778.2 1468.6 L776.5 1468.3 L774.5 1468 L772.5 1467.8 L770.6 1467.5 L768.7 1467.2 L767.1 1466.9 L765.7 1466.6 L764.6 1466.4 L763.7 1466.1 L763 1465.8 L762.6 1465.5 L762.2 1465.3 L762 1465 L761.9 1464.7 L761.8 1464.4 L761.7 1464.2 L761.7 1463.9 L761.7 1463.6 L761.7 1463.3 L761.7 1463.1 L761.7 1463.1 L761.7 1463.3 L761.6 1463.6 L761.6 1463.9 L761.6 1464.2 L761.5 1464.4 L761.5 1464.7 L761.3 1465 L761.1 1465.3 L760.8 1465.5 L760.3 1465.8 L759.6 1466.1 L758.7 1466.4 L757.6 1466.6 L756.2 1466.9 L754.6 1467.2 L752.8 1467.5 L750.8 1467.8 L748.8 1468 L746.9 1468.3 L745.1 1468.6 L743.7 1468.9 L742.7 1469.1 L742.2 1469.4 L742.2 1469.7 L742.7 1470 L743.7 1470.2 L745.1 1470.5 L746.8 1470.8 L748.7 1471.1 L750.7 1471.3 L752.7 1471.6 L754.5 1471.9 L756 1472.2 L757.3 1472.5 L758.3 1472.7 L758.9 1473 L759.2 1473.3 L759.1 1473.6 L758.7 1473.8 L758 1474.1 L757.1 1474.4 L756 1474.7 L754.8 1474.9 L753.5 1475.2 L752.4 1475.5 L751.4 1475.8 L750.8 1476 L750.5 1476.3 L750.7 1476.6 L751.2 1476.9 L752.1 1477.2 L753.2 1477.4 L754.4 1477.7 L755.7 1478 L757 1478.3 L758.1 1478.5 L759 1478.8 L759.8 1479.1 L760.4 1479.4 L760.8 1479.6 L761.1 1479.9 L761.3 1480.2 L761.5 1480.5 L761.6 1480.8 L761.6 1481 L761.6 1481.3 L761.6 1481.6 L761.7 1481.9 L761.7 1482.1Z" fill="#5b8bc0" stroke="#000" stroke-width="2.25" stroke-linejoin="round"/>
<path d="M761.7 1463.1v-0.1M761.7 1482.1v0.1" stroke="#000" stroke-width="2.25"/>
<path d="M750.5 1476.4H772.8" stroke="#000" stroke-width="2.0"/>
<path d="M743.9 1470.3H779.4" stroke="#000" stroke-width="2.0"/>
<path d="M743.9 1468.8H779.4" stroke="#000" stroke-width="2.0"/>
<circle cx="746.2" cy="1476.4" r="5.2" fill="#000"/>
<circle cx="777.5" cy="1470.3" r="5.2" fill="#000"/>
<circle cx="761.7" cy="1468.8" r="5.2" fill="#000"/>
<path d="M822.7 1505.3 L822.7 1505.1 L822.7 1504.9 L822.8 1504.7 L822.8 1504.5 L822.9 1504.3 L823 1504.1 L823.3 1503.9 L823.7 1503.8 L824.2 1503.6 L825 1503.4 L826.1 1503.2 L827.5 1503 L829.2 1502.8 L831.1 1502.6 L833.3 1502.4 L835.5 1502.2 L837.6 1502.1 L839.5 1501.9 L840.9 1501.7 L841.8 1501.5 L842.1 1501.3 L842 1501.1 L841.5 1500.9 L840.8 1500.7 L840.2 1500.5 L839.8 1500.4 L839.7 1500.2 L840 1500 L840.6 1499.8 L841.2 1499.6 L841.8 1499.4 L842.2 1499.2 L842.1 1499 L841.6 1498.8 L840.6 1498.7 L839.3 1498.5 L837.8 1498.3 L836.3 1498.1 L835.1 1497.9 L834.3 1497.7 L834.1 1497.5 L834.5 1497.3 L835.4 1497.1 L836.7 1497 L838.2 1496.8 L839.6 1496.6 L840.6 1496.4 L841.2 1496.2 L841.2 1496 L840.5 1495.8 L839.3 1495.6 L837.5 1495.4 L835.4 1495.3 L833.3 1495.1 L831.1 1494.9 L829.2 1494.7 L827.5 1494.5 L826.1 1494.3 L825 1494.1 L824.2 1493.9 L823.7 1493.7 L823.3 1493.5 L823 1493.4 L822.9 1493.2 L822.8 1493 L822.8 1492.8 L822.7 1492.6 L822.7 1492.4 L822.7 1492.2 L822.7 1492.2 L822.7 1492.4 L822.7 1492.6 L822.6 1492.8 L822.6 1493 L822.5 1493.2 L822.4 1493.4 L822.1 1493.5 L821.7 1493.7 L821.2 1493.9 L820.4 1494.1 L819.3 1494.3 L817.9 1494.5 L816.2 1494.7 L814.3 1494.9 L812.1 1495.1 L810 1495.3 L807.9 1495.4 L806.1 1495.6 L804.9 1495.8 L804.2 1496 L804.2 1496.2 L804.8 1496.4 L805.8 1496.6 L807.2 1496.8 L808.7 1497 L810 1497.1 L810.9 1497.3 L811.3 1497.5 L811.1 1497.7 L810.3 1497.9 L809.1 1498.1 L807.6 1498.3 L806.1 1498.5 L804.8 1498.7 L803.8 1498.8 L803.3 1499 L803.2 1499.2 L803.6 1499.4 L804.2 1499.6 L804.8 1499.8 L805.4 1500 L805.7 1500.2 L805.6 1500.4 L805.2 1500.5 L804.6 1500.7 L803.9 1500.9 L803.4 1501.1 L803.3 1501.3 L803.6 1501.5 L804.5 1501.7 L805.9 1501.9 L807.8 1502.1 L809.9 1502.2 L812.1 1502.4 L814.3 1502.6 L816.2 1502.8 L817.9 1503 L819.3 1503.2 L820.4 1503.4 L821.2 1503.6 L821.7 1503.8 L822.1 1503.9 L822.4 1504.1 L822.5 1504.3 L822.6 1504.5 L822.6 1504.7 L822.7 1504.9 L822.7 1505.1 L822.7 1505.3Z" fill="#5b8bc0" stroke="#000" stroke-width="2.25" stroke-linejoin="round"/>
<path d="M822.7 1492.2v-0.1M822.7 1505.3v0.1" stroke="#000" stroke-width="2.25"/>
<path d="M803.5 1501.4H841.9" stroke="#000" stroke-width="2.0"/>
<path d="M803.3 1499H842.1" stroke="#000" stroke-width="2.0"/>
<path d="M804.2 1496.1H841.2" stroke="#000" stroke-width="2.0"/>
<circle cx="807" cy="1501.4" r="5.2" fill="#000"/>
<circle cx="822.7" cy="1496.1" r="5.2" fill="#000"/>
<circle cx="838.7" cy="1499" r="5.2" fill="#000"/>
<path d="M212.3 1443V1283.3H822.7V1471.8" stroke="#000" stroke-width="2.2" fill="none"/>
<path d="M273.34000000000003 1485V1314H822.7V1314" stroke="#000" stroke-width="2.2" fill="none"/>
<path d="M456.46000000000004 1435V1346H822.7V1346" stroke="#000" stroke-width="2.2" fill="none"/>
<path d="M639.5799999999999 1453.4V1376.3H822.7V1376.3" stroke="#000" stroke-width="2.2" fill="none"/>
<path d="M700.62 1443V1406.3H822.7V1406.3" stroke="#000" stroke-width="2.2" fill="none"/>
<path d="M761.6600000000001 1449.5V1435.5H822.7V1435.5" stroke="#000" stroke-width="2.2" fill="none"/>
<path d="M336.7 1460.3H583.8" stroke="#000" stroke-width="2.2"/>
<text x="518.5" y="1290.4" font-family="DejaVu Sans" font-size="33" letter-spacing="2.8" stroke="#000" stroke-width="1.0" text-anchor="middle">****</text>
<text x="557.6999999999999" y="1321.4" font-family="DejaVu Sans" font-size="33" letter-spacing="2.8" stroke="#000" stroke-width="1.0" text-anchor="middle">**</text>
<text x="650.8" y="1343.7" font-family="Liberation Sans" font-size="33.5" text-anchor="middle">ns</text>
<text x="740.4" y="1385.3" font-family="DejaVu Sans" font-size="33" letter-spacing="2.8" stroke="#000" stroke-width="1.0" text-anchor="middle">***</text>
<text x="767.4" y="1412.6" font-family="DejaVu Sans" font-size="33" letter-spacing="2.8" stroke="#000" stroke-width="1.0" text-anchor="middle">****</text>
<text x="793.1999999999999" y="1442.9" font-family="DejaVu Sans" font-size="33" letter-spacing="2.8" stroke="#000" stroke-width="1.0" text-anchor="middle">***</text>
<path d="M1022.7 1296.3V1759.9M1004.5 1759.9H1718.8" stroke="#000" stroke-width="2.3" fill="none"/>
<text x="997.6" y="1769.9" font-family="Liberation Sans" font-weight="bold" font-size="28" text-anchor="end">0</text>
<path d="M1004.5 1644H1022.7" stroke="#000" stroke-width="2.3"/>
<text x="997.6" y="1654" font-family="Liberation Sans" font-weight="bold" font-size="28" text-anchor="end">5</text>
<path d="M1004.5 1528.1H1022.7" stroke="#000" stroke-width="2.3"/>
<text x="997.6" y="1538.1" font-family="Liberation Sans" font-weight="bold" font-size="28" text-anchor="end">10</text>
<path d="M1004.5 1412.2H1022.7" stroke="#000" stroke-width="2.3"/>
<text x="997.6" y="1422.2" font-family="Liberation Sans" font-weight="bold" font-size="28" text-anchor="end">15</text>
<path d="M1004.5 1296.3H1022.7" stroke="#000" stroke-width="2.3"/>
<text x="997.6" y="1306.3" font-family="Liberation Sans" font-weight="bold" font-size="28" text-anchor="end">20</text>
<text transform="translate(945.7 1529.1) rotate(-90)" font-family="Liberation Sans" font-weight="bold" font-size="32" text-anchor="middle">Area Under the Curve</text>
<path d="M1067.3 1759.9V1778.2" stroke="#000" stroke-width="2.3"/>
<text transform="translate(1072.9 1805.7) rotate(-45)" font-family="Liberation Sans" font-weight="bold" font-size="29.3" text-anchor="end">CR1</text>
<path d="M1134.5 1759.9V1778.2" stroke="#000" stroke-width="2.3"/>
<text transform="translate(1140.1 1805.7) rotate(-45)" font-family="Liberation Sans" font-weight="bold" font-size="29.3" text-anchor="end">CR2</text>
<path d="M1201.8 1759.9V1778.2" stroke="#000" stroke-width="2.3"/>
<text transform="translate(1207.4 1805.7) rotate(-45)" font-family="Liberation Sans" font-weight="bold" font-size="29.3" text-anchor="end">CR3</text>
<path d="M1269 1759.9V1778.2" stroke="#000" stroke-width="2.3"/>
<text transform="translate(1274.6 1805.7) rotate(-45)" font-family="Liberation Sans" font-weight="bold" font-size="29.3" text-anchor="end">CR4</text>
<path d="M1336.2 1759.9V1778.2" stroke="#000" stroke-width="2.3"/>
<text transform="translate(1341.8 1805.7) rotate(-45)" font-family="Liberation Sans" font-weight="bold" font-size="29.3" text-anchor="end">CR5</text>
<path d="M1403.5 1759.9V1778.2" stroke="#000" stroke-width="2.3"/>
<text transform="translate(1409 1805.7) rotate(-45)" font-family="Liberation Sans" font-weight="bold" font-size="29.3" text-anchor="end">CR6</text>
<path d="M1470.7 1759.9V1778.2" stroke="#000" stroke-width="2.3"/>
<text transform="translate(1476.3 1805.7) rotate(-45)" font-family="Liberation Sans" font-weight="bold" font-size="29.3" text-anchor="end">CR7</text>
<path d="M1537.9 1759.9V1778.2" stroke="#000" stroke-width="2.3"/>
<text transform="translate(1543.5 1805.7) rotate(-45)" font-family="Liberation Sans" font-weight="bold" font-size="29.3" text-anchor="end">CR8</text>
<path d="M1605.1 1759.9V1778.2" stroke="#000" stroke-width="2.3"/>
<text transform="translate(1610.7 1805.7) rotate(-45)" font-family="Liberation Sans" font-weight="bold" font-size="29.3" text-anchor="end">CR9</text>
<path d="M1672.4 1759.9V1778.2" stroke="#000" stroke-width="2.3"/>
<text transform="translate(1678 1805.7) rotate(-45)" font-family="Liberation Sans" font-weight="bold" font-size="29.3" text-anchor="end">SCNJ1</text>
<path d="M1067.3 1423.6 L1067.3 1423.3 L1067.3 1423 L1067.3 1422.8 L1067.4 1422.5 L1067.4 1422.2 L1067.5 1421.9 L1067.7 1421.6 L1067.9 1421.3 L1068.3 1421 L1068.9 1420.7 L1069.7 1420.5 L1070.8 1420.2 L1072.1 1419.9 L1073.8 1419.6 L1075.8 1419.3 L1078.1 1419 L1080.5 1418.7 L1082.8 1418.4 L1085 1418.2 L1086.9 1417.9 L1088.2 1417.6 L1088.8 1417.3 L1088.7 1417 L1088 1416.7 L1086.5 1416.4 L1084.6 1416.1 L1082.4 1415.9 L1080 1415.6 L1077.7 1415.3 L1075.5 1415 L1073.6 1414.7 L1072 1414.4 L1070.7 1414.1 L1069.9 1413.9 L1069.4 1413.6 L1069.2 1413.3 L1069.3 1413 L1069.6 1412.7 L1070.3 1412.4 L1071.1 1412.1 L1072.2 1411.8 L1073.4 1411.6 L1074.6 1411.3 L1075.9 1411 L1076.9 1410.7 L1077.7 1410.4 L1078.2 1410.1 L1078.4 1409.8 L1078.1 1409.5 L1077.5 1409.3 L1076.5 1409 L1075.4 1408.7 L1074.1 1408.4 L1072.9 1408.1 L1071.7 1407.8 L1070.6 1407.5 L1069.8 1407.2 L1069 1407 L1068.5 1406.7 L1068.1 1406.4 L1067.8 1406.1 L1067.6 1405.8 L1067.5 1405.5 L1067.4 1405.2 L1067.4 1404.9 L1067.3 1404.7 L1067.3 1404.4 L1067.3 1404.1 L1067.3 1403.8 L1067.3 1403.8 L1067.3 1404.1 L1067.3 1404.4 L1067.3 1404.7 L1067.2 1404.9 L1067.2 1405.2 L1067.1 1405.5 L1067 1405.8 L1066.8 1406.1 L1066.5 1406.4 L1066.1 1406.7 L1065.6 1407 L1064.8 1407.2 L1064 1407.5 L1062.9 1407.8 L1061.7 1408.1 L1060.5 1408.4 L1059.2 1408.7 L1058.1 1409 L1057.1 1409.3 L1056.5 1409.5 L1056.2 1409.8 L1056.4 1410.1 L1056.9 1410.4 L1057.7 1410.7 L1058.7 1411 L1060 1411.3 L1061.2 1411.6 L1062.4 1411.8 L1063.5 1412.1 L1064.3 1412.4 L1065 1412.7 L1065.3 1413 L1065.4 1413.3 L1065.2 1413.6 L1064.7 1413.9 L1063.9 1414.1 L1062.6 1414.4 L1061 1414.7 L1059.1 1415 L1056.9 1415.3 L1054.6 1415.6 L1052.2 1415.9 L1050 1416.1 L1048.1 1416.4 L1046.6 1416.7 L1045.9 1417 L1045.8 1417.3 L1046.4 1417.6 L1047.7 1417.9 L1049.6 1418.2 L1051.8 1418.4 L1054.1 1418.7 L1056.5 1419 L1058.8 1419.3 L1060.8 1419.6 L1062.5 1419.9 L1063.8 1420.2 L1064.9 1420.5 L1065.7 1420.7 L1066.3 1421 L1066.7 1421.3 L1066.9 1421.6 L1067.1 1421.9 L1067.2 1422.2 L1067.2 1422.5 L1067.3 1422.8 L1067.3 1423 L1067.3 1423.3 L1067.3 1423.6Z" fill="#5b8bc0" stroke="#000" stroke-width="2.25" stroke-linejoin="round"/>
<path d="M1067.3 1403.8v-0.1M1067.3 1423.6v0.1" stroke="#000" stroke-width="2.25"/>
<path d="M1046.3 1417.5H1088.3" stroke="#000" stroke-width="2.0"/>
<path d="M1046.3 1416.8H1088.3" stroke="#000" stroke-width="2.0"/>
<path d="M1056.3 1409.9H1078.3" stroke="#000" stroke-width="2.0"/>
<circle cx="1049.5" cy="1417.5" r="5.0" fill="#000"/>
<circle cx="1067.3" cy="1409.9" r="5.0" fill="#000"/>
<circle cx="1085.2" cy="1417.5" r="5.0" fill="#000"/>
<path d="M1134.5 1456.8 L1134.5 1455.8 L1134.6 1454.8 L1134.6 1453.8 L1134.6 1452.8 L1134.7 1451.8 L1134.9 1450.8 L1135.2 1449.8 L1135.6 1448.8 L1136.2 1447.8 L1137.1 1446.8 L1138.3 1445.8 L1139.8 1444.9 L1141.6 1443.9 L1143.8 1442.9 L1146.2 1441.9 L1148.6 1440.9 L1151 1439.9 L1153 1438.9 L1154.5 1437.9 L1155.5 1436.9 L1155.9 1435.9 L1155.8 1434.9 L1155.3 1433.9 L1154.6 1432.9 L1153.9 1431.9 L1153.5 1431 L1153.4 1430 L1153.7 1429 L1154.3 1428 L1155 1427 L1155.7 1426 L1156 1425 L1155.9 1424 L1155.3 1423 L1154.2 1422 L1152.7 1421 L1151 1420 L1149.4 1419 L1148.1 1418 L1147.2 1417.1 L1147 1416.1 L1147.5 1415.1 L1148.5 1414.1 L1149.9 1413.1 L1151.5 1412.1 L1153.1 1411.1 L1154.3 1410.1 L1154.9 1409.1 L1154.9 1408.1 L1154.2 1407.1 L1152.8 1406.1 L1150.8 1405.1 L1148.6 1404.1 L1146.1 1403.2 L1143.8 1402.2 L1141.6 1401.2 L1139.8 1400.2 L1138.3 1399.2 L1137.1 1398.2 L1136.2 1397.2 L1135.6 1396.2 L1135.2 1395.2 L1134.9 1394.2 L1134.7 1393.2 L1134.6 1392.2 L1134.6 1391.2 L1134.6 1390.2 L1134.5 1389.3 L1134.5 1388.3 L1134.5 1388.3 L1134.5 1389.3 L1134.5 1390.2 L1134.5 1391.2 L1134.4 1392.2 L1134.3 1393.2 L1134.2 1394.2 L1133.9 1395.2 L1133.5 1396.2 L1132.9 1397.2 L1132 1398.2 L1130.8 1399.2 L1129.3 1400.2 L1127.4 1401.2 L1125.3 1402.2 L1122.9 1403.2 L1120.5 1404.1 L1118.2 1405.1 L1116.3 1406.1 L1114.9 1407.1 L1114.2 1408.1 L1114.1 1409.1 L1114.8 1410.1 L1116 1411.1 L1117.5 1412.1 L1119.1 1413.1 L1120.6 1414.1 L1121.6 1415.1 L1122 1416.1 L1121.8 1417.1 L1121 1418 L1119.7 1419 L1118.1 1420 L1116.4 1421 L1114.9 1422 L1113.8 1423 L1113.1 1424 L1113 1425 L1113.4 1426 L1114 1427 L1114.7 1428 L1115.3 1429 L1115.6 1430 L1115.6 1431 L1115.2 1431.9 L1114.5 1432.9 L1113.8 1433.9 L1113.3 1434.9 L1113.1 1435.9 L1113.5 1436.9 L1114.5 1437.9 L1116.1 1438.9 L1118.1 1439.9 L1120.4 1440.9 L1122.9 1441.9 L1125.2 1442.9 L1127.4 1443.9 L1129.3 1444.9 L1130.8 1445.8 L1132 1446.8 L1132.9 1447.8 L1133.5 1448.8 L1133.9 1449.8 L1134.2 1450.8 L1134.3 1451.8 L1134.4 1452.8 L1134.5 1453.8 L1134.5 1454.8 L1134.5 1455.8 L1134.5 1456.8Z" fill="#5b8bc0" stroke="#000" stroke-width="2.25" stroke-linejoin="round"/>
<path d="M1134.5 1388.3v-0.1M1134.5 1456.8v0.1" stroke="#000" stroke-width="2.25"/>
<path d="M1113.4 1436.5H1155.7" stroke="#000" stroke-width="2.0"/>
<path d="M1113.1 1424H1155.9" stroke="#000" stroke-width="2.0"/>
<path d="M1114.2 1408.5H1154.9" stroke="#000" stroke-width="2.0"/>
<circle cx="1134.5" cy="1408.5" r="5.0" fill="#000"/>
<circle cx="1134.5" cy="1424" r="5.0" fill="#000"/>
<circle cx="1134.5" cy="1436.5" r="5.0" fill="#000"/>
<path d="M1201.8 1424.6 L1201.8 1424.3 L1201.8 1424.1 L1201.8 1423.8 L1201.9 1423.5 L1202 1423.3 L1202.1 1423 L1202.4 1422.8 L1202.8 1422.5 L1203.5 1422.3 L1204.4 1422 L1205.6 1421.8 L1207.1 1421.5 L1209 1421.3 L1211.2 1421 L1213.6 1420.7 L1216.1 1420.5 L1218.4 1420.2 L1220.3 1420 L1221.8 1419.7 L1222.6 1419.5 L1222.7 1419.2 L1222.1 1419 L1221.1 1418.7 L1219.8 1418.5 L1218.4 1418.2 L1217.3 1418 L1216.6 1417.7 L1216.5 1417.4 L1217 1417.2 L1218 1416.9 L1219.4 1416.7 L1220.8 1416.4 L1222 1416.2 L1222.9 1415.9 L1223.3 1415.7 L1223.1 1415.4 L1222.4 1415.2 L1221.4 1414.9 L1220.2 1414.6 L1219.3 1414.4 L1218.6 1414.1 L1218.5 1413.9 L1218.8 1413.6 L1219.6 1413.4 L1220.7 1413.1 L1221.7 1412.9 L1222.6 1412.6 L1223 1412.4 L1222.8 1412.1 L1221.9 1411.9 L1220.4 1411.6 L1218.4 1411.3 L1216.1 1411.1 L1213.6 1410.8 L1211.2 1410.6 L1209 1410.3 L1207.1 1410.1 L1205.6 1409.8 L1204.4 1409.6 L1203.5 1409.3 L1202.8 1409.1 L1202.4 1408.8 L1202.1 1408.6 L1202 1408.3 L1201.9 1408 L1201.8 1407.8 L1201.8 1407.5 L1201.8 1407.3 L1201.8 1407 L1201.8 1407 L1201.7 1407.3 L1201.7 1407.5 L1201.7 1407.8 L1201.6 1408 L1201.5 1408.3 L1201.4 1408.6 L1201.1 1408.8 L1200.7 1409.1 L1200.1 1409.3 L1199.2 1409.6 L1198 1409.8 L1196.4 1410.1 L1194.5 1410.3 L1192.3 1410.6 L1189.9 1410.8 L1187.5 1411.1 L1185.1 1411.3 L1183.1 1411.6 L1181.6 1411.9 L1180.8 1412.1 L1180.5 1412.4 L1180.9 1412.6 L1181.8 1412.9 L1182.9 1413.1 L1183.9 1413.4 L1184.7 1413.6 L1185 1413.9 L1184.9 1414.1 L1184.3 1414.4 L1183.3 1414.6 L1182.2 1414.9 L1181.1 1415.2 L1180.5 1415.4 L1180.3 1415.7 L1180.6 1415.9 L1181.5 1416.2 L1182.7 1416.4 L1184.2 1416.7 L1185.5 1416.9 L1186.5 1417.2 L1187 1417.4 L1186.9 1417.7 L1186.2 1418 L1185.1 1418.2 L1183.8 1418.5 L1182.4 1418.7 L1181.4 1419 L1180.8 1419.2 L1180.9 1419.5 L1181.7 1419.7 L1183.2 1420 L1185.2 1420.2 L1187.5 1420.5 L1189.9 1420.7 L1192.3 1421 L1194.5 1421.3 L1196.4 1421.5 L1198 1421.8 L1199.2 1422 L1200.1 1422.3 L1200.7 1422.5 L1201.1 1422.8 L1201.4 1423 L1201.5 1423.3 L1201.6 1423.5 L1201.7 1423.8 L1201.7 1424.1 L1201.7 1424.3 L1201.8 1424.6Z" fill="#5b8bc0" stroke="#000" stroke-width="2.25" stroke-linejoin="round"/>
<path d="M1201.8 1407v-0.1M1201.8 1424.6v0.1" stroke="#000" stroke-width="2.25"/>
<path d="M1180.9 1419.4H1222.6" stroke="#000" stroke-width="2.0"/>
<path d="M1180.3 1415.7H1223.2" stroke="#000" stroke-width="2.0"/>
<path d="M1180.7 1412.2H1222.8" stroke="#000" stroke-width="2.0"/>
<circle cx="1184.8" cy="1419.4" r="5.0" fill="#000"/>
<circle cx="1201.8" cy="1412.2" r="5.0" fill="#000"/>
<circle cx="1221.5" cy="1415.7" r="5.0" fill="#000"/>
<path d="M1269 1457.2 L1269 1456.1 L1269 1455.1 L1269 1454.1 L1269.1 1453 L1269.2 1452 L1269.4 1451 L1269.6 1449.9 L1270 1448.9 L1270.6 1447.9 L1271.5 1446.8 L1272.7 1445.8 L1274.2 1444.8 L1276 1443.7 L1278.1 1442.7 L1280.5 1441.7 L1282.9 1440.6 L1285.2 1439.6 L1287.3 1438.5 L1288.9 1437.5 L1289.9 1436.5 L1290.4 1435.4 L1290.4 1434.4 L1290.1 1433.4 L1289.5 1432.3 L1289.1 1431.3 L1288.8 1430.3 L1288.8 1429.2 L1289.1 1428.2 L1289.6 1427.2 L1290.1 1426.1 L1290.5 1425.1 L1290.5 1424.1 L1290 1423 L1289 1422 L1287.6 1421 L1285.9 1419.9 L1284.1 1418.9 L1282.5 1417.8 L1281.2 1416.8 L1280.5 1415.8 L1280.5 1414.7 L1281.1 1413.7 L1282.3 1412.7 L1283.8 1411.6 L1285.5 1410.6 L1287.1 1409.6 L1288.4 1408.5 L1289 1407.5 L1289 1406.5 L1288.3 1405.4 L1286.9 1404.4 L1285 1403.4 L1282.8 1402.3 L1280.4 1401.3 L1278.1 1400.3 L1276 1399.2 L1274.1 1398.2 L1272.7 1397.2 L1271.5 1396.1 L1270.6 1395.1 L1270 1394 L1269.6 1393 L1269.4 1392 L1269.2 1390.9 L1269.1 1389.9 L1269 1388.9 L1269 1387.8 L1269 1386.8 L1269 1385.8 L1269 1385.8 L1269 1386.8 L1269 1387.8 L1268.9 1388.9 L1268.9 1389.9 L1268.8 1390.9 L1268.6 1392 L1268.4 1393 L1267.9 1394 L1267.3 1395.1 L1266.5 1396.1 L1265.3 1397.2 L1263.8 1398.2 L1262 1399.2 L1259.9 1400.3 L1257.6 1401.3 L1255.2 1402.3 L1253 1403.4 L1251.1 1404.4 L1249.7 1405.4 L1249 1406.5 L1248.9 1407.5 L1249.6 1408.5 L1250.9 1409.6 L1252.5 1410.6 L1254.2 1411.6 L1255.7 1412.7 L1256.9 1413.7 L1257.5 1414.7 L1257.4 1415.8 L1256.8 1416.8 L1255.5 1417.8 L1253.9 1418.9 L1252.1 1419.9 L1250.4 1421 L1249 1422 L1248 1423 L1247.5 1424.1 L1247.5 1425.1 L1247.8 1426.1 L1248.4 1427.2 L1248.9 1428.2 L1249.2 1429.2 L1249.2 1430.3 L1248.9 1431.3 L1248.4 1432.3 L1247.9 1433.4 L1247.6 1434.4 L1247.6 1435.4 L1248.1 1436.5 L1249.1 1437.5 L1250.7 1438.5 L1252.8 1439.6 L1255.1 1440.6 L1257.5 1441.7 L1259.8 1442.7 L1262 1443.7 L1263.8 1444.8 L1265.3 1445.8 L1266.5 1446.8 L1267.3 1447.9 L1267.9 1448.9 L1268.4 1449.9 L1268.6 1451 L1268.8 1452 L1268.9 1453 L1268.9 1454.1 L1269 1455.1 L1269 1456.1 L1269 1457.2Z" fill="#5b8bc0" stroke="#000" stroke-width="2.25" stroke-linejoin="round"/>
<path d="M1269 1385.8v-0.1M1269 1457.2v0.1" stroke="#000" stroke-width="2.25"/>
<path d="M1247.9 1436.1H1290.1" stroke="#000" stroke-width="2.0"/>
<path d="M1247.7 1423.6H1290.2" stroke="#000" stroke-width="2.0"/>
<path d="M1249 1406.9H1289" stroke="#000" stroke-width="2.0"/>
<circle cx="1269" cy="1406.9" r="5.0" fill="#000"/>
<circle cx="1269" cy="1423.6" r="5.0" fill="#000"/>
<circle cx="1269" cy="1436.1" r="5.0" fill="#000"/>
<path d="M1336.2 1443.9 L1336.2 1443.5 L1336.3 1443.2 L1336.3 1442.8 L1336.3 1442.4 L1336.4 1442 L1336.6 1441.6 L1336.9 1441.2 L1337.3 1440.8 L1337.9 1440.5 L1338.8 1440.1 L1339.9 1439.7 L1341.5 1439.3 L1343.3 1438.9 L1345.5 1438.5 L1347.9 1438.1 L1350.3 1437.8 L1352.7 1437.4 L1354.7 1437 L1356.2 1436.6 L1357.2 1436.2 L1357.6 1435.8 L1357.5 1435.4 L1356.9 1435.1 L1356.2 1434.7 L1355.6 1434.3 L1355.1 1433.9 L1355.1 1433.5 L1355.4 1433.1 L1356 1432.7 L1356.7 1432.4 L1357.4 1432 L1357.7 1431.6 L1357.6 1431.2 L1357 1430.8 L1355.9 1430.4 L1354.4 1430 L1352.7 1429.7 L1351.1 1429.3 L1349.8 1428.9 L1349 1428.5 L1348.8 1428.1 L1349.2 1427.7 L1350.2 1427.3 L1351.6 1427 L1353.2 1426.6 L1354.8 1426.2 L1356 1425.8 L1356.6 1425.4 L1356.6 1425 L1355.9 1424.6 L1354.5 1424.3 L1352.5 1423.9 L1350.3 1423.5 L1347.8 1423.1 L1345.5 1422.7 L1343.3 1422.3 L1341.5 1422 L1339.9 1421.6 L1338.8 1421.2 L1337.9 1420.8 L1337.3 1420.4 L1336.9 1420 L1336.6 1419.6 L1336.4 1419.3 L1336.3 1418.9 L1336.3 1418.5 L1336.3 1418.1 L1336.2 1417.7 L1336.2 1417.3 L1336.2 1417.3 L1336.2 1417.7 L1336.2 1418.1 L1336.2 1418.5 L1336.1 1418.9 L1336 1419.3 L1335.8 1419.6 L1335.6 1420 L1335.2 1420.4 L1334.5 1420.8 L1333.7 1421.2 L1332.5 1421.6 L1331 1422 L1329.1 1422.3 L1327 1422.7 L1324.6 1423.1 L1322.2 1423.5 L1319.9 1423.9 L1318 1424.3 L1316.6 1424.6 L1315.8 1425 L1315.8 1425.4 L1316.5 1425.8 L1317.7 1426.2 L1319.2 1426.6 L1320.8 1427 L1322.2 1427.3 L1323.3 1427.7 L1323.7 1428.1 L1323.5 1428.5 L1322.7 1428.9 L1321.3 1429.3 L1319.7 1429.7 L1318 1430 L1316.5 1430.4 L1315.4 1430.8 L1314.8 1431.2 L1314.7 1431.6 L1315.1 1432 L1315.7 1432.4 L1316.5 1432.7 L1317.1 1433.1 L1317.4 1433.5 L1317.3 1433.9 L1316.9 1434.3 L1316.2 1434.7 L1315.5 1435.1 L1315 1435.4 L1314.8 1435.8 L1315.2 1436.2 L1316.2 1436.6 L1317.8 1437 L1319.8 1437.4 L1322.1 1437.8 L1324.6 1438.1 L1326.9 1438.5 L1329.1 1438.9 L1331 1439.3 L1332.5 1439.7 L1333.7 1440.1 L1334.5 1440.5 L1335.2 1440.8 L1335.6 1441.2 L1335.8 1441.6 L1336 1442 L1336.1 1442.4 L1336.2 1442.8 L1336.2 1443.2 L1336.2 1443.5 L1336.2 1443.9Z" fill="#5b8bc0" stroke="#000" stroke-width="2.25" stroke-linejoin="round"/>
<path d="M1336.2 1417.3v-0.1M1336.2 1443.9v0.1" stroke="#000" stroke-width="2.25"/>
<path d="M1315.1 1436.1H1357.4" stroke="#000" stroke-width="2.0"/>
<path d="M1314.8 1431.2H1357.6" stroke="#000" stroke-width="2.0"/>
<path d="M1315.8 1425.2H1356.6" stroke="#000" stroke-width="2.0"/>
<circle cx="1318.6" cy="1436.1" r="5.0" fill="#000"/>
<circle cx="1354.9" cy="1431.2" r="5.0" fill="#000"/>
<circle cx="1336.2" cy="1425.2" r="5.0" fill="#000"/>
<path d="M1403.5 1433.4 L1403.5 1432.9 L1403.5 1432.4 L1403.5 1431.8 L1403.5 1431.3 L1403.6 1430.8 L1403.8 1430.3 L1404 1429.8 L1404.3 1429.3 L1404.8 1428.8 L1405.5 1428.3 L1406.4 1427.7 L1407.6 1427.2 L1409.1 1426.7 L1410.8 1426.2 L1412.7 1425.7 L1414.7 1425.2 L1416.5 1424.7 L1418.1 1424.1 L1419.3 1423.6 L1419.9 1423.1 L1419.9 1422.6 L1419.3 1422.1 L1418.2 1421.6 L1416.7 1421.1 L1415.1 1420.6 L1413.4 1420 L1411.9 1419.5 L1410.8 1419 L1410.1 1418.5 L1409.9 1418 L1410.4 1417.5 L1411.3 1417 L1412.7 1416.4 L1414.5 1415.9 L1416.4 1415.4 L1418.3 1414.9 L1420.1 1414.4 L1421.7 1413.9 L1422.9 1413.4 L1423.8 1412.9 L1424.4 1412.3 L1424.8 1411.8 L1424.9 1411.3 L1425 1410.8 L1424.9 1410.3 L1424.6 1409.8 L1424.2 1409.3 L1423.4 1408.7 L1422.3 1408.2 L1420.9 1407.7 L1419.2 1407.2 L1417.2 1406.7 L1415.1 1406.2 L1412.9 1405.7 L1411 1405.2 L1409.2 1404.6 L1407.7 1404.1 L1406.4 1403.6 L1405.5 1403.1 L1404.8 1402.6 L1404.3 1402.1 L1404 1401.6 L1403.8 1401 L1403.6 1400.5 L1403.5 1400 L1403.5 1399.5 L1403.5 1399 L1403.5 1398.5 L1403.5 1398 L1403.4 1398 L1403.4 1398.5 L1403.4 1399 L1403.4 1399.5 L1403.4 1400 L1403.3 1400.5 L1403.1 1401 L1402.9 1401.6 L1402.6 1402.1 L1402.1 1402.6 L1401.4 1403.1 L1400.5 1403.6 L1399.2 1404.1 L1397.7 1404.6 L1395.9 1405.2 L1394 1405.7 L1391.8 1406.2 L1389.7 1406.7 L1387.7 1407.2 L1386 1407.7 L1384.6 1408.2 L1383.5 1408.7 L1382.7 1409.3 L1382.3 1409.8 L1382 1410.3 L1382 1410.8 L1382 1411.3 L1382.1 1411.8 L1382.5 1412.3 L1383.1 1412.9 L1384 1413.4 L1385.2 1413.9 L1386.8 1414.4 L1388.6 1414.9 L1390.5 1415.4 L1392.4 1415.9 L1394.2 1416.4 L1395.6 1417 L1396.5 1417.5 L1397 1418 L1396.8 1418.5 L1396.1 1419 L1395 1419.5 L1393.5 1420 L1391.8 1420.6 L1390.2 1421.1 L1388.7 1421.6 L1387.6 1422.1 L1387 1422.6 L1387 1423.1 L1387.6 1423.6 L1388.8 1424.1 L1390.4 1424.7 L1392.2 1425.2 L1394.2 1425.7 L1396.1 1426.2 L1397.8 1426.7 L1399.3 1427.2 L1400.5 1427.7 L1401.4 1428.3 L1402.1 1428.8 L1402.6 1429.3 L1402.9 1429.8 L1403.1 1430.3 L1403.3 1430.8 L1403.4 1431.3 L1403.4 1431.8 L1403.4 1432.4 L1403.4 1432.9 L1403.4 1433.4Z" fill="#5b8bc0" stroke="#000" stroke-width="2.25" stroke-linejoin="round"/>
<path d="M1403.5 1398v-0.1M1403.5 1433.4v0.1" stroke="#000" stroke-width="2.25"/>
<path d="M1387 1422.9H1419.9" stroke="#000" stroke-width="2.0"/>
<path d="M1384 1413.4H1422.9" stroke="#000" stroke-width="2.0"/>
<path d="M1384 1408.5H1422.9" stroke="#000" stroke-width="2.0"/>
<circle cx="1393.5" cy="1408.5" r="5.0" fill="#000"/>
<circle cx="1413.8" cy="1413.4" r="5.0" fill="#000"/>
<circle cx="1393.5" cy="1422.9" r="5.0" fill="#000"/>
<path d="M1470.7 1435.1 L1470.7 1434.6 L1470.7 1434.1 L1470.7 1433.5 L1470.8 1433 L1470.9 1432.5 L1471 1432 L1471.3 1431.5 L1471.6 1430.9 L1472.2 1430.4 L1473 1429.9 L1474 1429.4 L1475.4 1428.9 L1477.1 1428.3 L1479 1427.8 L1481.2 1427.3 L1483.4 1426.8 L1485.4 1426.3 L1487.2 1425.8 L1488.5 1425.2 L1489.2 1424.7 L1489.2 1424.2 L1488.5 1423.7 L1487.3 1423.2 L1485.7 1422.6 L1483.9 1422.1 L1482.2 1421.6 L1480.7 1421.1 L1479.8 1420.6 L1479.4 1420 L1479.6 1419.5 L1480.5 1419 L1481.8 1418.5 L1483.6 1418 L1485.5 1417.4 L1487.4 1416.9 L1489.1 1416.4 L1490.5 1415.9 L1491.4 1415.4 L1492 1414.8 L1492.2 1414.3 L1492.2 1413.8 L1492.1 1413.3 L1492 1412.8 L1492.1 1412.3 L1492.1 1411.7 L1492.2 1411.2 L1492.1 1410.7 L1491.6 1410.2 L1490.8 1409.7 L1489.6 1409.1 L1487.9 1408.6 L1485.8 1408.1 L1483.6 1407.6 L1481.3 1407.1 L1479.1 1406.5 L1477.1 1406 L1475.4 1405.5 L1474 1405 L1473 1404.5 L1472.2 1403.9 L1471.6 1403.4 L1471.3 1402.9 L1471 1402.4 L1470.9 1401.9 L1470.8 1401.3 L1470.7 1400.8 L1470.7 1400.3 L1470.7 1399.8 L1470.7 1399.3 L1470.7 1399.3 L1470.7 1399.8 L1470.7 1400.3 L1470.6 1400.8 L1470.6 1401.3 L1470.5 1401.9 L1470.3 1402.4 L1470.1 1402.9 L1469.7 1403.4 L1469.2 1403.9 L1468.4 1404.5 L1467.3 1405 L1465.9 1405.5 L1464.2 1406 L1462.2 1406.5 L1460.1 1407.1 L1457.8 1407.6 L1455.5 1408.1 L1453.5 1408.6 L1451.8 1409.1 L1450.5 1409.7 L1449.7 1410.2 L1449.3 1410.7 L1449.2 1411.2 L1449.2 1411.7 L1449.3 1412.3 L1449.3 1412.8 L1449.3 1413.3 L1449.2 1413.8 L1449.2 1414.3 L1449.4 1414.8 L1450 1415.4 L1450.9 1415.9 L1452.3 1416.4 L1454 1416.9 L1455.9 1417.4 L1457.8 1418 L1459.5 1418.5 L1460.9 1419 L1461.8 1419.5 L1462 1420 L1461.6 1420.6 L1460.6 1421.1 L1459.2 1421.6 L1457.5 1422.1 L1455.7 1422.6 L1454.1 1423.2 L1452.9 1423.7 L1452.2 1424.2 L1452.2 1424.7 L1452.9 1425.2 L1454.2 1425.8 L1455.9 1426.3 L1458 1426.8 L1460.2 1427.3 L1462.3 1427.8 L1464.3 1428.3 L1465.9 1428.9 L1467.3 1429.4 L1468.4 1429.9 L1469.2 1430.4 L1469.7 1430.9 L1470.1 1431.5 L1470.3 1432 L1470.5 1432.5 L1470.6 1433 L1470.6 1433.5 L1470.7 1434.1 L1470.7 1434.6 L1470.7 1435.1Z" fill="#5b8bc0" stroke="#000" stroke-width="2.25" stroke-linejoin="round"/>
<path d="M1470.7 1399.3v-0.1M1470.7 1435.1v0.1" stroke="#000" stroke-width="2.25"/>
<path d="M1452.2 1424.5H1489.2" stroke="#000" stroke-width="2.0"/>
<path d="M1450.1 1415.4H1491.3" stroke="#000" stroke-width="2.0"/>
<path d="M1450.2 1409.9H1491.2" stroke="#000" stroke-width="2.0"/>
<circle cx="1461.2" cy="1409.9" r="5.0" fill="#000"/>
<circle cx="1479.9" cy="1415.4" r="5.0" fill="#000"/>
<circle cx="1461.2" cy="1424.5" r="5.0" fill="#000"/>
<path d="M1537.9 1464.9 L1537.9 1463.6 L1537.9 1462.3 L1538 1461.1 L1538 1459.8 L1538.1 1458.6 L1538.3 1457.3 L1538.5 1456 L1539 1454.8 L1539.6 1453.5 L1540.4 1452.2 L1541.6 1451 L1543.1 1449.7 L1544.9 1448.4 L1547.1 1447.2 L1549.4 1445.9 L1551.8 1444.6 L1554.1 1443.4 L1556.2 1442.1 L1557.8 1440.8 L1558.8 1439.6 L1559.3 1438.3 L1559.3 1437.1 L1559 1435.8 L1558.5 1434.5 L1558 1433.3 L1557.7 1432 L1557.7 1430.7 L1558 1429.5 L1558.5 1428.2 L1559.1 1426.9 L1559.4 1425.7 L1559.4 1424.4 L1558.9 1423.1 L1557.9 1421.9 L1556.5 1420.6 L1554.8 1419.3 L1553 1418.1 L1551.4 1416.8 L1550.1 1415.5 L1549.5 1414.3 L1549.4 1413 L1550 1411.8 L1551.2 1410.5 L1552.7 1409.2 L1554.4 1408 L1556 1406.7 L1557.3 1405.4 L1558 1404.2 L1557.9 1402.9 L1557.2 1401.6 L1555.8 1400.4 L1553.9 1399.1 L1551.7 1397.8 L1549.3 1396.6 L1547 1395.3 L1544.9 1394 L1543.1 1392.8 L1541.6 1391.5 L1540.4 1390.3 L1539.6 1389 L1539 1387.7 L1538.5 1386.5 L1538.3 1385.2 L1538.1 1383.9 L1538 1382.7 L1538 1381.4 L1537.9 1380.1 L1537.9 1378.9 L1537.9 1377.6 L1537.9 1377.6 L1537.9 1378.9 L1537.9 1380.1 L1537.9 1381.4 L1537.8 1382.7 L1537.7 1383.9 L1537.5 1385.2 L1537.3 1386.5 L1536.9 1387.7 L1536.3 1389 L1535.4 1390.3 L1534.2 1391.5 L1532.8 1392.8 L1530.9 1394 L1528.8 1395.3 L1526.5 1396.6 L1524.1 1397.8 L1521.9 1399.1 L1520 1400.4 L1518.6 1401.6 L1517.9 1402.9 L1517.9 1404.2 L1518.5 1405.4 L1519.8 1406.7 L1521.4 1408 L1523.1 1409.2 L1524.6 1410.5 L1525.8 1411.8 L1526.4 1413 L1526.4 1414.3 L1525.7 1415.5 L1524.4 1416.8 L1522.8 1418.1 L1521 1419.3 L1519.3 1420.6 L1517.9 1421.9 L1516.9 1423.1 L1516.4 1424.4 L1516.4 1425.7 L1516.8 1426.9 L1517.3 1428.2 L1517.8 1429.5 L1518.1 1430.7 L1518.1 1432 L1517.8 1433.3 L1517.4 1434.5 L1516.8 1435.8 L1516.5 1437.1 L1516.5 1438.3 L1517 1439.6 L1518 1440.8 L1519.6 1442.1 L1521.7 1443.4 L1524 1444.6 L1526.4 1445.9 L1528.8 1447.2 L1530.9 1448.4 L1532.7 1449.7 L1534.2 1451 L1535.4 1452.2 L1536.3 1453.5 L1536.9 1454.8 L1537.3 1456 L1537.5 1457.3 L1537.7 1458.6 L1537.8 1459.8 L1537.9 1461.1 L1537.9 1462.3 L1537.9 1463.6 L1537.9 1464.9Z" fill="#5b8bc0" stroke="#000" stroke-width="2.25" stroke-linejoin="round"/>
<path d="M1537.9 1377.6v-0.1M1537.9 1464.9v0.1" stroke="#000" stroke-width="2.25"/>
<path d="M1516.8 1439.1H1559" stroke="#000" stroke-width="2.0"/>
<path d="M1516.7 1423.8H1559.2" stroke="#000" stroke-width="2.0"/>
<path d="M1517.9 1403.4H1557.9" stroke="#000" stroke-width="2.0"/>
<circle cx="1537.9" cy="1403.4" r="5.0" fill="#000"/>
<circle cx="1537.9" cy="1423.8" r="5.0" fill="#000"/>
<circle cx="1537.9" cy="1439.1" r="5.0" fill="#000"/>
<path d="M1583.6 1423.8H1626.6" stroke="#000" stroke-width="2.0"/>
<circle cx="1587.3" cy="1424.5" r="5.0" fill="#000"/>
<circle cx="1605.1" cy="1423.8" r="5.0" fill="#000"/>
<circle cx="1623" cy="1423.8" r="5.0" fill="#000"/>
<path d="M1672.4 1440.7 L1672.4 1440.1 L1672.4 1439.5 L1672.4 1439 L1672.5 1438.4 L1672.5 1437.8 L1672.6 1437.2 L1672.8 1436.7 L1673.1 1436.1 L1673.5 1435.5 L1674.2 1434.9 L1675.1 1434.4 L1676.2 1433.8 L1677.7 1433.2 L1679.5 1432.6 L1681.7 1432.1 L1684 1431.5 L1686.4 1430.9 L1688.7 1430.4 L1690.8 1429.8 L1692.5 1429.2 L1693.5 1428.6 L1693.9 1428.1 L1693.5 1427.5 L1692.4 1426.9 L1690.7 1426.3 L1688.6 1425.8 L1686.2 1425.2 L1683.8 1424.6 L1681.5 1424 L1679.5 1423.5 L1677.7 1422.9 L1676.3 1422.3 L1675.2 1421.8 L1674.5 1421.2 L1674.2 1420.6 L1674.1 1420 L1674.3 1419.5 L1674.7 1418.9 L1675.4 1418.3 L1676.3 1417.7 L1677.4 1417.2 L1678.6 1416.6 L1679.8 1416 L1681 1415.4 L1681.9 1414.9 L1682.7 1414.3 L1683.1 1413.7 L1683.2 1413.2 L1682.8 1412.6 L1682.2 1412 L1681.2 1411.4 L1680.1 1410.9 L1678.9 1410.3 L1677.7 1409.7 L1676.6 1409.1 L1675.5 1408.6 L1674.7 1408 L1674 1407.4 L1673.5 1406.8 L1673.1 1406.3 L1672.8 1405.7 L1672.7 1405.1 L1672.5 1404.6 L1672.5 1404 L1672.4 1403.4 L1672.4 1402.8 L1672.4 1402.3 L1672.4 1401.7 L1672.4 1401.1 L1672.4 1401.1 L1672.4 1401.7 L1672.4 1402.3 L1672.3 1402.8 L1672.3 1403.4 L1672.3 1404 L1672.2 1404.6 L1672.1 1405.1 L1671.9 1405.7 L1671.6 1406.3 L1671.2 1406.8 L1670.7 1407.4 L1670 1408 L1669.2 1408.6 L1668.2 1409.1 L1667 1409.7 L1665.8 1410.3 L1664.6 1410.9 L1663.5 1411.4 L1662.6 1412 L1661.9 1412.6 L1661.6 1413.2 L1661.6 1413.7 L1662 1414.3 L1662.8 1414.9 L1663.8 1415.4 L1664.9 1416 L1666.2 1416.6 L1667.3 1417.2 L1668.4 1417.7 L1669.3 1418.3 L1670 1418.9 L1670.5 1419.5 L1670.7 1420 L1670.6 1420.6 L1670.2 1421.2 L1669.5 1421.8 L1668.5 1422.3 L1667 1422.9 L1665.3 1423.5 L1663.2 1424 L1660.9 1424.6 L1658.5 1425.2 L1656.1 1425.8 L1654 1426.3 L1652.4 1426.9 L1651.3 1427.5 L1650.9 1428.1 L1651.2 1428.6 L1652.3 1429.2 L1653.9 1429.8 L1656 1430.4 L1658.3 1430.9 L1660.8 1431.5 L1663.1 1432.1 L1665.2 1432.6 L1667 1433.2 L1668.5 1433.8 L1669.7 1434.4 L1670.6 1434.9 L1671.2 1435.5 L1671.6 1436.1 L1671.9 1436.7 L1672.1 1437.2 L1672.2 1437.8 L1672.3 1438.4 L1672.3 1439 L1672.3 1439.5 L1672.4 1440.1 L1672.4 1440.7Z" fill="#5b8bc0" stroke="#000" stroke-width="2.25" stroke-linejoin="round"/>
<path d="M1672.4 1401.1v-0.1M1672.4 1440.7v0.1" stroke="#000" stroke-width="2.25"/>
<path d="M1651.1 1428.4H1693.6" stroke="#000" stroke-width="2.0"/>
<path d="M1651.1 1427.7H1693.6" stroke="#000" stroke-width="2.0"/>
<path d="M1661.6 1413.4H1683.1" stroke="#000" stroke-width="2.0"/>
<circle cx="1672.4" cy="1413.4" r="5.0" fill="#000"/>
<circle cx="1661.5" cy="1427.7" r="5.0" fill="#000"/>
<circle cx="1682.7" cy="1427.7" r="5.0" fill="#000"/>
<path d="M1340.2 1334.8V1311.7H1672.37V1390" stroke="#000" stroke-width="2.2" fill="none"/>
<path d="M1068.9 1361.7H1618.8" stroke="#000" stroke-width="2.2"/>
<text x="1504.7" y="1309" font-family="Liberation Sans" font-size="34" text-anchor="middle">ns</text>
<path d="M173.3 1940.8V2395.6M155.3 2395.6H857.1" stroke="#000" stroke-width="2.2" fill="none"/>
<text x="149" y="2405.8" font-family="Liberation Sans" font-weight="bold" font-size="28.5" text-anchor="end">0</text>
<path d="M155.3 2281.9H173.3" stroke="#000" stroke-width="2.2"/>
<text x="149" y="2292.1" font-family="Liberation Sans" font-weight="bold" font-size="28.5" text-anchor="end">5</text>
<path d="M155.3 2168.2H173.3" stroke="#000" stroke-width="2.2"/>
<text x="149" y="2178.4" font-family="Liberation Sans" font-weight="bold" font-size="28.5" text-anchor="end">10</text>
<path d="M155.3 2054.5H173.3" stroke="#000" stroke-width="2.2"/>
<text x="149" y="2064.7" font-family="Liberation Sans" font-weight="bold" font-size="28.5" text-anchor="end">15</text>
<path d="M155.3 1940.8H173.3" stroke="#000" stroke-width="2.2"/>
<text x="149" y="1951" font-family="Liberation Sans" font-weight="bold" font-size="28.5" text-anchor="end">20</text>
<text transform="translate(92.3 2168.4) rotate(-90)" font-family="Liberation Sans" font-weight="bold" font-size="31.4" text-anchor="middle">Area Under the Curve</text>
<path d="M216.7 2395.6V2413.9" stroke="#000" stroke-width="2.2"/>
<text transform="translate(221.9 2437.7) rotate(-45)" font-family="Liberation Sans" font-weight="bold" font-size="25.4" text-anchor="end">ZM1</text>
<path d="M282.7 2395.6V2413.9" stroke="#000" stroke-width="2.2"/>
<text transform="translate(287.9 2437.7) rotate(-45)" font-family="Liberation Sans" font-weight="bold" font-size="25.4" text-anchor="end">ZM5</text>
<path d="M348.8 2395.6V2413.9" stroke="#000" stroke-width="2.2"/>
<text transform="translate(354 2437.7) rotate(-45)" font-family="Liberation Sans" font-weight="bold" font-size="25.4" text-anchor="end">ZM6</text>
<path d="M414.8 2395.6V2413.9" stroke="#000" stroke-width="2.2"/>
<text transform="translate(420 2437.7) rotate(-45)" font-family="Liberation Sans" font-weight="bold" font-size="25.4" text-anchor="end">ZM7</text>
<path d="M480.8 2395.6V2413.9" stroke="#000" stroke-width="2.2"/>
<text transform="translate(486 2437.7) rotate(-45)" font-family="Liberation Sans" font-weight="bold" font-size="25.4" text-anchor="end">ZM8</text>
<path d="M546.8 2395.6V2413.9" stroke="#000" stroke-width="2.2"/>
<text transform="translate(552 2437.7) rotate(-45)" font-family="Liberation Sans" font-weight="bold" font-size="25.4" text-anchor="end">ZM9</text>
<path d="M612.9 2395.6V2413.9" stroke="#000" stroke-width="2.2"/>
<text transform="translate(618.1 2437.7) rotate(-45)" font-family="Liberation Sans" font-weight="bold" font-size="25.4" text-anchor="end">ZM10</text>
<path d="M678.9 2395.6V2413.9" stroke="#000" stroke-width="2.2"/>
<text transform="translate(684.1 2437.7) rotate(-45)" font-family="Liberation Sans" font-weight="bold" font-size="25.4" text-anchor="end">ZM11</text>
<path d="M744.9 2395.6V2413.9" stroke="#000" stroke-width="2.2"/>
<text transform="translate(750.1 2437.7) rotate(-45)" font-family="Liberation Sans" font-weight="bold" font-size="25.4" text-anchor="end">ZM12</text>
<path d="M811 2395.6V2413.9" stroke="#000" stroke-width="2.2"/>
<text transform="translate(816.2 2437.7) rotate(-45)" font-family="Liberation Sans" font-weight="bold" font-size="25.4" text-anchor="end">SCNJ1</text>
<path d="M216.7 2091 L216.7 2089.6 L216.7 2088.1 L216.7 2086.7 L216.8 2085.2 L216.8 2083.8 L216.9 2082.4 L217.1 2080.9 L217.3 2079.5 L217.7 2078 L218.2 2076.6 L218.9 2075.2 L219.8 2073.7 L220.9 2072.3 L222.2 2070.8 L223.6 2069.4 L225.1 2068 L226.6 2066.5 L227.8 2065.1 L228.8 2063.6 L229.4 2062.2 L229.5 2060.8 L229.2 2059.3 L228.4 2057.9 L227.3 2056.4 L225.9 2055 L224.5 2053.6 L223.1 2052.1 L221.9 2050.7 L220.9 2049.2 L220.2 2047.8 L219.9 2046.4 L220 2044.9 L220.4 2043.5 L221.3 2042 L222.6 2040.6 L224.1 2039.2 L226 2037.7 L228 2036.3 L230.1 2034.8 L232.2 2033.4 L234.1 2032 L235.8 2030.5 L237 2029.1 L237.9 2027.6 L238.2 2026.2 L238 2024.7 L237.3 2023.3 L236.2 2021.9 L234.7 2020.4 L232.8 2019 L230.8 2017.5 L228.6 2016.1 L226.5 2014.7 L224.5 2013.2 L222.8 2011.8 L221.2 2010.3 L220 2008.9 L219 2007.5 L218.3 2006 L217.7 2004.6 L217.3 2003.1 L217.1 2001.7 L216.9 2000.3 L216.8 1998.8 L216.8 1997.4 L216.7 1995.9 L216.7 1994.5 L216.7 1993.1 L216.7 1991.6 L216.7 1991.6 L216.7 1993.1 L216.7 1994.5 L216.7 1995.9 L216.6 1997.4 L216.6 1998.8 L216.5 2000.3 L216.3 2001.7 L216.1 2003.1 L215.7 2004.6 L215.1 2006 L214.4 2007.5 L213.4 2008.9 L212.2 2010.3 L210.6 2011.8 L208.9 2013.2 L206.9 2014.7 L204.8 2016.1 L202.6 2017.5 L200.6 2019 L198.7 2020.4 L197.2 2021.9 L196.1 2023.3 L195.4 2024.7 L195.2 2026.2 L195.5 2027.6 L196.4 2029.1 L197.6 2030.5 L199.3 2032 L201.2 2033.4 L203.3 2034.8 L205.4 2036.3 L207.4 2037.7 L209.3 2039.2 L210.8 2040.6 L212.1 2042 L213 2043.5 L213.4 2044.9 L213.5 2046.4 L213.2 2047.8 L212.5 2049.2 L211.5 2050.7 L210.3 2052.1 L208.9 2053.6 L207.5 2055 L206.1 2056.4 L205 2057.9 L204.2 2059.3 L203.9 2060.8 L204 2062.2 L204.6 2063.6 L205.6 2065.1 L206.8 2066.5 L208.3 2068 L209.8 2069.4 L211.2 2070.8 L212.5 2072.3 L213.6 2073.7 L214.5 2075.2 L215.2 2076.6 L215.7 2078 L216.1 2079.5 L216.3 2080.9 L216.5 2082.4 L216.6 2083.8 L216.6 2085.2 L216.7 2086.7 L216.7 2088.1 L216.7 2089.6 L216.7 2091Z" fill="#5b8bc0" stroke="#000" stroke-width="2.25" stroke-linejoin="round"/>
<path d="M216.7 1991.6v-0.1M216.7 2091v0.1" stroke="#000" stroke-width="2.25"/>
<path d="M197.5 2030.4H235.9" stroke="#000" stroke-width="2.0"/>
<circle cx="207.9" cy="2021.5" r="5.3" fill="#333"/>
<circle cx="226.3" cy="2030.4" r="5.3" fill="#333"/>
<circle cx="217.1" cy="2061.1" r="5.3" fill="#333"/>
<path d="M282.7 2101.5 L282.7 2100.1 L282.8 2098.7 L282.8 2097.3 L282.8 2095.9 L282.9 2094.5 L283.1 2093.1 L283.3 2091.6 L283.7 2090.2 L284.2 2088.8 L284.9 2087.4 L286 2086 L287.3 2084.6 L288.9 2083.2 L290.8 2081.8 L292.9 2080.4 L295 2079 L297 2077.6 L298.7 2076.2 L299.9 2074.7 L300.6 2073.3 L300.6 2071.9 L299.9 2070.5 L298.8 2069.1 L297.2 2067.7 L295.4 2066.3 L293.7 2064.9 L292.2 2063.5 L291.2 2062.1 L290.7 2060.7 L290.8 2059.2 L291.5 2057.8 L292.8 2056.4 L294.4 2055 L296.3 2053.6 L298.3 2052.2 L300.1 2050.8 L301.6 2049.4 L302.8 2048 L303.6 2046.6 L304 2045.2 L304.2 2043.8 L304.2 2042.3 L304.2 2040.9 L304.2 2039.5 L304.2 2038.1 L304.2 2036.7 L303.9 2035.3 L303.4 2033.9 L302.5 2032.5 L301.2 2031.1 L299.5 2029.7 L297.4 2028.3 L295.2 2026.8 L293 2025.4 L290.9 2024 L289 2022.6 L287.3 2021.2 L286 2019.8 L284.9 2018.4 L284.2 2017 L283.7 2015.6 L283.3 2014.2 L283.1 2012.8 L282.9 2011.3 L282.8 2009.9 L282.8 2008.5 L282.8 2007.1 L282.7 2005.7 L282.7 2004.3 L282.7 2004.3 L282.7 2005.7 L282.7 2007.1 L282.7 2008.5 L282.6 2009.9 L282.5 2011.3 L282.4 2012.8 L282.2 2014.2 L281.8 2015.6 L281.3 2017 L280.5 2018.4 L279.5 2019.8 L278.1 2021.2 L276.5 2022.6 L274.6 2024 L272.4 2025.4 L270.2 2026.8 L268 2028.3 L266 2029.7 L264.3 2031.1 L263 2032.5 L262.1 2033.9 L261.5 2035.3 L261.3 2036.7 L261.2 2038.1 L261.2 2039.5 L261.2 2040.9 L261.2 2042.3 L261.3 2043.8 L261.4 2045.2 L261.9 2046.6 L262.7 2048 L263.8 2049.4 L265.4 2050.8 L267.2 2052.2 L269.1 2053.6 L271 2055 L272.7 2056.4 L273.9 2057.8 L274.6 2059.2 L274.8 2060.7 L274.3 2062.1 L273.2 2063.5 L271.7 2064.9 L270 2066.3 L268.3 2067.7 L266.7 2069.1 L265.5 2070.5 L264.9 2071.9 L264.9 2073.3 L265.5 2074.7 L266.8 2076.2 L268.5 2077.6 L270.5 2079 L272.6 2080.4 L274.7 2081.8 L276.5 2083.2 L278.2 2084.6 L279.5 2086 L280.5 2087.4 L281.3 2088.8 L281.8 2090.2 L282.2 2091.6 L282.4 2093.1 L282.5 2094.5 L282.6 2095.9 L282.7 2097.3 L282.7 2098.7 L282.7 2100.1 L282.7 2101.5Z" fill="#5b8bc0" stroke="#000" stroke-width="2.25" stroke-linejoin="round"/>
<path d="M282.7 2004.3v-0.1M282.7 2101.5v0.1" stroke="#000" stroke-width="2.25"/>
<path d="M264.9 2072.7H300.6" stroke="#000" stroke-width="2.0"/>
<path d="M262.5 2047.7H303" stroke="#000" stroke-width="2.0"/>
<path d="M262.6 2033.1H302.9" stroke="#000" stroke-width="2.0"/>
<circle cx="283.5" cy="2033.1" r="5.3" fill="#333"/>
<circle cx="283.5" cy="2047.7" r="5.3" fill="#333"/>
<circle cx="283.5" cy="2072.7" r="5.3" fill="#333"/>
<path d="M348.8 2105.5 L348.8 2104.1 L348.8 2102.6 L348.8 2101.2 L348.9 2099.7 L348.9 2098.3 L349.1 2096.8 L349.3 2095.4 L349.6 2093.9 L350.1 2092.5 L350.8 2091 L351.8 2089.6 L353 2088.2 L354.5 2086.7 L356.2 2085.3 L358.1 2083.8 L360.1 2082.4 L362 2080.9 L363.6 2079.5 L364.7 2078 L365.4 2076.6 L365.4 2075.1 L364.8 2073.7 L363.7 2072.3 L362.2 2070.8 L360.5 2069.4 L358.8 2067.9 L357.3 2066.5 L356.2 2065 L355.6 2063.6 L355.5 2062.1 L355.9 2060.7 L356.9 2059.2 L358.4 2057.8 L360.1 2056.4 L362 2054.9 L364 2053.5 L365.8 2052 L367.3 2050.6 L368.4 2049.1 L369.3 2047.7 L369.8 2046.2 L370.1 2044.8 L370.2 2043.4 L370.3 2041.9 L370.2 2040.5 L369.9 2039 L369.5 2037.6 L368.8 2036.1 L367.7 2034.7 L366.3 2033.2 L364.6 2031.8 L362.6 2030.3 L360.5 2028.9 L358.4 2027.5 L356.3 2026 L354.5 2024.6 L353 2023.1 L351.8 2021.7 L350.8 2020.2 L350.1 2018.8 L349.6 2017.3 L349.3 2015.9 L349.1 2014.4 L348.9 2013 L348.9 2011.6 L348.8 2010.1 L348.8 2008.7 L348.8 2007.2 L348.8 2005.8 L348.8 2005.8 L348.7 2007.2 L348.7 2008.7 L348.7 2010.1 L348.7 2011.6 L348.6 2013 L348.5 2014.4 L348.2 2015.9 L347.9 2017.3 L347.4 2018.8 L346.7 2020.2 L345.8 2021.7 L344.5 2023.1 L343 2024.6 L341.2 2026 L339.2 2027.5 L337 2028.9 L334.9 2030.3 L332.9 2031.8 L331.2 2033.2 L329.8 2034.7 L328.7 2036.1 L328 2037.6 L327.6 2039 L327.3 2040.5 L327.3 2041.9 L327.3 2043.4 L327.4 2044.8 L327.7 2046.2 L328.2 2047.7 L329.1 2049.1 L330.3 2050.6 L331.8 2052 L333.5 2053.5 L335.5 2054.9 L337.4 2056.4 L339.2 2057.8 L340.6 2059.2 L341.6 2060.7 L342.1 2062.1 L342 2063.6 L341.3 2065 L340.2 2066.5 L338.7 2067.9 L337 2069.4 L335.3 2070.8 L333.8 2072.3 L332.7 2073.7 L332.1 2075.1 L332.1 2076.6 L332.8 2078 L333.9 2079.5 L335.5 2080.9 L337.4 2082.4 L339.4 2083.8 L341.3 2085.3 L343 2086.7 L344.5 2088.2 L345.8 2089.6 L346.7 2091 L347.4 2092.5 L347.9 2093.9 L348.2 2095.4 L348.5 2096.8 L348.6 2098.3 L348.7 2099.7 L348.7 2101.2 L348.7 2102.6 L348.7 2104.1 L348.8 2105.5Z" fill="#5b8bc0" stroke="#000" stroke-width="2.25" stroke-linejoin="round"/>
<path d="M348.8 2005.8v-0.1M348.8 2105.5v0.1" stroke="#000" stroke-width="2.25"/>
<path d="M332.1 2075.9H365.4" stroke="#000" stroke-width="2.0"/>
<path d="M329.2 2049.3H368.3" stroke="#000" stroke-width="2.0"/>
<path d="M329.2 2035.4H368.3" stroke="#000" stroke-width="2.0"/>
<circle cx="349.2" cy="2035.4" r="5.3" fill="#333"/>
<circle cx="349.2" cy="2049.3" r="5.3" fill="#333"/>
<circle cx="349.2" cy="2075.9" r="5.3" fill="#333"/>
<path d="M414.8 2087.6 L414.8 2086.8 L414.8 2086.1 L414.8 2085.4 L414.9 2084.7 L415 2084 L415.2 2083.3 L415.4 2082.5 L415.8 2081.8 L416.4 2081.1 L417.2 2080.4 L418.4 2079.7 L419.9 2078.9 L421.6 2078.2 L423.7 2077.5 L426 2076.8 L428.3 2076.1 L430.5 2075.4 L432.4 2074.6 L433.8 2073.9 L434.5 2073.2 L434.5 2072.5 L433.8 2071.8 L432.5 2071.1 L430.9 2070.3 L429.2 2069.6 L427.6 2068.9 L426.3 2068.2 L425.6 2067.5 L425.5 2066.7 L426.1 2066 L427.2 2065.3 L428.8 2064.6 L430.6 2063.9 L432.4 2063.2 L434 2062.4 L435.3 2061.7 L436 2061 L436.3 2060.3 L436.2 2059.6 L435.8 2058.9 L435.4 2058.1 L435.2 2057.4 L435.1 2056.7 L435.3 2056 L435.6 2055.3 L436 2054.5 L436.2 2053.8 L436.1 2053.1 L435.5 2052.4 L434.4 2051.7 L432.8 2051 L430.8 2050.2 L428.5 2049.5 L426.1 2048.8 L423.8 2048.1 L421.7 2047.4 L419.9 2046.7 L418.4 2045.9 L417.2 2045.2 L416.4 2044.5 L415.8 2043.8 L415.4 2043.1 L415.2 2042.3 L415 2041.6 L414.9 2040.9 L414.8 2040.2 L414.8 2039.5 L414.8 2038.8 L414.8 2038 L414.8 2038 L414.8 2038.8 L414.8 2039.5 L414.7 2040.2 L414.7 2040.9 L414.6 2041.6 L414.4 2042.3 L414.2 2043.1 L413.8 2043.8 L413.2 2044.5 L412.3 2045.2 L411.2 2045.9 L409.7 2046.7 L407.9 2047.4 L405.8 2048.1 L403.5 2048.8 L401.1 2049.5 L398.8 2050.2 L396.8 2051 L395.1 2051.7 L394 2052.4 L393.5 2053.1 L393.3 2053.8 L393.6 2054.5 L393.9 2055.3 L394.3 2056 L394.5 2056.7 L394.4 2057.4 L394.1 2058.1 L393.7 2058.9 L393.4 2059.6 L393.3 2060.3 L393.6 2061 L394.3 2061.7 L395.5 2062.4 L397.1 2063.2 L399 2063.9 L400.8 2064.6 L402.4 2065.3 L403.5 2066 L404.1 2066.7 L404 2067.5 L403.3 2068.2 L402 2068.9 L400.4 2069.6 L398.7 2070.3 L397 2071.1 L395.8 2071.8 L395.1 2072.5 L395.1 2073.2 L395.8 2073.9 L397.2 2074.6 L399 2075.4 L401.2 2076.1 L403.6 2076.8 L405.8 2077.5 L407.9 2078.2 L409.7 2078.9 L411.2 2079.7 L412.3 2080.4 L413.2 2081.1 L413.8 2081.8 L414.2 2082.5 L414.4 2083.3 L414.6 2084 L414.7 2084.7 L414.7 2085.4 L414.8 2086.1 L414.8 2086.8 L414.8 2087.6Z" fill="#5b8bc0" stroke="#000" stroke-width="2.25" stroke-linejoin="round"/>
<path d="M414.8 2038v-0.1M414.8 2087.6v0.1" stroke="#000" stroke-width="2.25"/>
<path d="M395.1 2072.9H434.5" stroke="#000" stroke-width="2.0"/>
<path d="M393.7 2061.1H435.9" stroke="#000" stroke-width="2.0"/>
<path d="M393.8 2052.7H435.8" stroke="#000" stroke-width="2.0"/>
<circle cx="406.1" cy="2052.7" r="5.3" fill="#333"/>
<circle cx="424.5" cy="2061.1" r="5.3" fill="#333"/>
<circle cx="415" cy="2072.9" r="5.3" fill="#333"/>
<path d="M480.8 2101.8 L480.8 2100.5 L480.8 2099.1 L480.9 2097.7 L480.9 2096.3 L481 2095 L481.1 2093.6 L481.3 2092.2 L481.6 2090.8 L482.1 2089.5 L482.8 2088.1 L483.7 2086.7 L484.8 2085.3 L486.3 2084 L487.9 2082.6 L489.7 2081.2 L491.6 2079.8 L493.4 2078.5 L494.9 2077.1 L496.1 2075.7 L496.7 2074.3 L496.7 2073 L496.1 2071.6 L495.1 2070.2 L493.7 2068.8 L492 2067.4 L490.4 2066.1 L488.9 2064.7 L487.7 2063.3 L487 2061.9 L486.7 2060.6 L487.1 2059.2 L487.9 2057.8 L489.2 2056.4 L490.8 2055.1 L492.7 2053.7 L494.6 2052.3 L496.5 2050.9 L498.2 2049.6 L499.6 2048.2 L500.7 2046.8 L501.5 2045.4 L502 2044.1 L502.2 2042.7 L502.3 2041.3 L502.2 2039.9 L501.9 2038.6 L501.4 2037.2 L500.6 2035.8 L499.4 2034.4 L497.9 2033.1 L496.1 2031.7 L494.2 2030.3 L492.1 2028.9 L490 2027.6 L488.1 2026.2 L486.3 2024.8 L484.9 2023.4 L483.7 2022.1 L482.8 2020.7 L482.1 2019.3 L481.6 2017.9 L481.3 2016.6 L481.1 2015.2 L481 2013.8 L480.9 2012.4 L480.9 2011.1 L480.8 2009.7 L480.8 2008.3 L480.8 2006.9 L480.8 2006.9 L480.8 2008.3 L480.8 2009.7 L480.8 2011.1 L480.7 2012.4 L480.7 2013.8 L480.5 2015.2 L480.3 2016.6 L480 2017.9 L479.5 2019.3 L478.9 2020.7 L478 2022.1 L476.8 2023.4 L475.3 2024.8 L473.6 2026.2 L471.6 2027.6 L469.6 2028.9 L467.5 2030.3 L465.5 2031.7 L463.7 2033.1 L462.2 2034.4 L461.1 2035.8 L460.3 2037.2 L459.7 2038.6 L459.4 2039.9 L459.3 2041.3 L459.4 2042.7 L459.7 2044.1 L460.2 2045.4 L460.9 2046.8 L462 2048.2 L463.4 2049.6 L465.1 2050.9 L467 2052.3 L469 2053.7 L470.8 2055.1 L472.5 2056.4 L473.8 2057.8 L474.6 2059.2 L474.9 2060.6 L474.7 2061.9 L473.9 2063.3 L472.8 2064.7 L471.3 2066.1 L469.6 2067.4 L468 2068.8 L466.5 2070.2 L465.5 2071.6 L464.9 2073 L465 2074.3 L465.6 2075.7 L466.7 2077.1 L468.2 2078.5 L470 2079.8 L471.9 2081.2 L473.7 2082.6 L475.4 2084 L476.8 2085.3 L478 2086.7 L478.9 2088.1 L479.5 2089.5 L480 2090.8 L480.3 2092.2 L480.5 2093.6 L480.7 2095 L480.7 2096.3 L480.8 2097.7 L480.8 2099.1 L480.8 2100.5 L480.8 2101.8Z" fill="#5b8bc0" stroke="#000" stroke-width="2.25" stroke-linejoin="round"/>
<path d="M480.8 2006.9v-0.1M480.8 2101.8v0.1" stroke="#000" stroke-width="2.25"/>
<path d="M465 2073.6H496.7" stroke="#000" stroke-width="2.0"/>
<path d="M461.6 2047.7H500" stroke="#000" stroke-width="2.0"/>
<path d="M461.6 2035.2H500" stroke="#000" stroke-width="2.0"/>
<circle cx="481.1" cy="2035.2" r="5.3" fill="#333"/>
<circle cx="481.1" cy="2047.7" r="5.3" fill="#333"/>
<circle cx="481.1" cy="2073.6" r="5.3" fill="#333"/>
<path d="M546.9 2099.1 L546.9 2098.9 L546.9 2098.8 L546.9 2098.6 L546.9 2098.4 L547 2098.3 L547.1 2098.1 L547.2 2097.9 L547.5 2097.8 L547.9 2097.6 L548.4 2097.5 L549.2 2097.3 L550.2 2097.1 L551.6 2097 L553.2 2096.8 L555.2 2096.7 L557.4 2096.5 L559.8 2096.3 L562.1 2096.2 L564.3 2096 L566.2 2095.8 L567.6 2095.7 L568.3 2095.5 L568.3 2095.4 L567.7 2095.2 L566.4 2095 L564.5 2094.9 L562.4 2094.7 L560 2094.6 L557.7 2094.4 L555.4 2094.2 L553.5 2094.1 L551.8 2093.9 L550.5 2093.7 L549.6 2093.6 L549 2093.4 L548.8 2093.3 L548.9 2093.1 L549.2 2092.9 L549.8 2092.8 L550.7 2092.6 L551.7 2092.4 L552.9 2092.3 L554.2 2092.1 L555.4 2092 L556.5 2091.8 L557.4 2091.6 L557.9 2091.5 L558 2091.3 L557.8 2091.2 L557.1 2091 L556.2 2090.8 L555.1 2090.7 L553.8 2090.5 L552.5 2090.3 L551.3 2090.2 L550.3 2090 L549.4 2089.9 L548.6 2089.7 L548.1 2089.5 L547.6 2089.4 L547.4 2089.2 L547.2 2089.1 L547 2088.9 L547 2088.7 L546.9 2088.6 L546.9 2088.4 L546.9 2088.2 L546.9 2088.1 L546.9 2087.9 L546.8 2087.9 L546.8 2088.1 L546.8 2088.2 L546.8 2088.4 L546.8 2088.6 L546.7 2088.7 L546.7 2088.9 L546.5 2089.1 L546.3 2089.2 L546.1 2089.4 L545.6 2089.5 L545.1 2089.7 L544.3 2089.9 L543.4 2090 L542.4 2090.2 L541.2 2090.3 L539.9 2090.5 L538.6 2090.7 L537.5 2090.8 L536.6 2091 L535.9 2091.2 L535.7 2091.3 L535.8 2091.5 L536.3 2091.6 L537.2 2091.8 L538.3 2092 L539.5 2092.1 L540.8 2092.3 L542 2092.4 L543 2092.6 L543.9 2092.8 L544.5 2092.9 L544.8 2093.1 L544.9 2093.3 L544.7 2093.4 L544.1 2093.6 L543.2 2093.7 L541.9 2093.9 L540.2 2094.1 L538.3 2094.2 L536 2094.4 L533.7 2094.6 L531.3 2094.7 L529.2 2094.9 L527.3 2095 L526 2095.2 L525.3 2095.4 L525.4 2095.5 L526.1 2095.7 L527.5 2095.8 L529.4 2096 L531.6 2096.2 L533.9 2096.3 L536.3 2096.5 L538.5 2096.7 L540.5 2096.8 L542.1 2097 L543.5 2097.1 L544.5 2097.3 L545.3 2097.5 L545.8 2097.6 L546.2 2097.8 L546.5 2097.9 L546.6 2098.1 L546.7 2098.3 L546.8 2098.4 L546.8 2098.6 L546.8 2098.8 L546.8 2098.9 L546.8 2099.1Z" fill="#5b8bc0" stroke="#000" stroke-width="2.25" stroke-linejoin="round"/>
<path d="M546.8 2087.9v-0.1M546.8 2099.1v0.1" stroke="#000" stroke-width="2.25"/>
<path d="M526 2095.7H567.7" stroke="#000" stroke-width="2.0"/>
<path d="M526 2095.2H567.7" stroke="#000" stroke-width="2.0"/>
<path d="M535.7 2091.3H558" stroke="#000" stroke-width="2.0"/>
<circle cx="529.8" cy="2095.7" r="5.3" fill="#333"/>
<circle cx="547" cy="2091.3" r="5.3" fill="#333"/>
<circle cx="564.3" cy="2095.2" r="5.3" fill="#333"/>
<path d="M612.9 2137.4 L612.9 2136.9 L612.9 2136.5 L612.9 2136.1 L612.9 2135.7 L613 2135.3 L613.1 2134.9 L613.2 2134.5 L613.4 2134.1 L613.7 2133.7 L614.2 2133.3 L614.8 2132.9 L615.5 2132.5 L616.5 2132.1 L617.6 2131.7 L618.9 2131.3 L620.2 2130.9 L621.5 2130.5 L622.7 2130.1 L623.6 2129.7 L624.2 2129.3 L624.4 2128.9 L624.2 2128.5 L623.6 2128.1 L622.7 2127.6 L621.5 2127.2 L620.2 2126.8 L618.9 2126.4 L617.7 2126 L616.7 2125.6 L615.9 2125.2 L615.3 2124.8 L615.1 2124.4 L615.2 2124 L615.6 2123.6 L616.3 2123.2 L617.5 2122.8 L618.9 2122.4 L620.7 2122 L622.8 2121.6 L625.1 2121.2 L627.4 2120.8 L629.6 2120.4 L631.5 2120 L633 2119.6 L634 2119.2 L634.4 2118.8 L634.1 2118.3 L633.1 2117.9 L631.6 2117.5 L629.7 2117.1 L627.5 2116.7 L625.2 2116.3 L622.9 2115.9 L620.8 2115.5 L618.9 2115.1 L617.4 2114.7 L616.1 2114.3 L615.1 2113.9 L614.4 2113.5 L613.8 2113.1 L613.5 2112.7 L613.2 2112.3 L613.1 2111.9 L613 2111.5 L612.9 2111.1 L612.9 2110.7 L612.9 2110.3 L612.9 2109.9 L612.9 2109.5 L612.9 2109.5 L612.9 2109.9 L612.9 2110.3 L612.8 2110.7 L612.8 2111.1 L612.8 2111.5 L612.7 2111.9 L612.5 2112.3 L612.3 2112.7 L611.9 2113.1 L611.4 2113.5 L610.7 2113.9 L609.7 2114.3 L608.4 2114.7 L606.8 2115.1 L605 2115.5 L602.8 2115.9 L600.6 2116.3 L598.3 2116.7 L596.1 2117.1 L594.1 2117.5 L592.6 2117.9 L591.7 2118.3 L591.4 2118.8 L591.7 2119.2 L592.7 2119.6 L594.2 2120 L596.2 2120.4 L598.4 2120.8 L600.7 2121.2 L602.9 2121.6 L605 2122 L606.8 2122.4 L608.3 2122.8 L609.4 2123.2 L610.2 2123.6 L610.6 2124 L610.7 2124.4 L610.4 2124.8 L609.9 2125.2 L609.1 2125.6 L608 2126 L606.8 2126.4 L605.5 2126.8 L604.2 2127.2 L603.1 2127.6 L602.1 2128.1 L601.6 2128.5 L601.3 2128.9 L601.6 2129.3 L602.2 2129.7 L603.1 2130.1 L604.3 2130.5 L605.6 2130.9 L606.9 2131.3 L608.1 2131.7 L609.3 2132.1 L610.2 2132.5 L611 2132.9 L611.6 2133.3 L612 2133.7 L612.3 2134.1 L612.6 2134.5 L612.7 2134.9 L612.8 2135.3 L612.8 2135.7 L612.8 2136.1 L612.9 2136.5 L612.9 2136.9 L612.9 2137.4Z" fill="#5b8bc0" stroke="#000" stroke-width="2.25" stroke-linejoin="round"/>
<path d="M612.9 2109.5v-0.1M612.9 2137.4v0.1" stroke="#000" stroke-width="2.25"/>
<path d="M601.3 2128.9H624.4" stroke="#000" stroke-width="2.0"/>
<path d="M592.7 2119.5H633.1" stroke="#000" stroke-width="2.0"/>
<path d="M592.6 2117.9H633.1" stroke="#000" stroke-width="2.0"/>
<circle cx="604.1" cy="2117.9" r="5.3" fill="#333"/>
<circle cx="622.1" cy="2119.5" r="5.3" fill="#333"/>
<circle cx="613.5" cy="2128.9" r="5.3" fill="#333"/>
<path d="M678.9 2086.8 L678.9 2086.1 L678.9 2085.4 L678.9 2084.8 L679 2084.1 L679 2083.4 L679.1 2082.7 L679.3 2082 L679.5 2081.3 L679.9 2080.6 L680.4 2079.9 L681.2 2079.2 L682.1 2078.5 L683.4 2077.9 L684.9 2077.2 L686.7 2076.5 L688.7 2075.8 L690.8 2075.1 L693 2074.4 L695.1 2073.7 L697 2073 L698.6 2072.3 L699.7 2071.6 L700.3 2071 L700.4 2070.3 L699.9 2069.6 L698.9 2068.9 L697.4 2068.2 L695.6 2067.5 L693.6 2066.8 L691.4 2066.1 L689.3 2065.4 L687.3 2064.8 L685.5 2064.1 L684 2063.4 L682.9 2062.7 L682.2 2062 L681.8 2061.3 L681.8 2060.6 L682.2 2059.9 L683 2059.2 L684 2058.5 L685.2 2057.9 L686.6 2057.2 L688 2056.5 L689.3 2055.8 L690.3 2055.1 L691 2054.4 L691.4 2053.7 L691.2 2053 L690.6 2052.3 L689.7 2051.6 L688.4 2051 L687 2050.3 L685.6 2049.6 L684.2 2048.9 L682.9 2048.2 L681.9 2047.5 L681 2046.8 L680.3 2046.1 L679.9 2045.4 L679.5 2044.8 L679.3 2044.1 L679.1 2043.4 L679 2042.7 L679 2042 L678.9 2041.3 L678.9 2040.6 L678.9 2039.9 L678.9 2039.2 L678.9 2039.2 L678.9 2039.9 L678.9 2040.6 L678.9 2041.3 L678.8 2042 L678.8 2042.7 L678.7 2043.4 L678.5 2044.1 L678.3 2044.8 L678 2045.4 L677.5 2046.1 L676.8 2046.8 L675.9 2047.5 L674.9 2048.2 L673.6 2048.9 L672.2 2049.6 L670.8 2050.3 L669.4 2051 L668.2 2051.6 L667.2 2052.3 L666.6 2053 L666.5 2053.7 L666.8 2054.4 L667.5 2055.1 L668.6 2055.8 L669.9 2056.5 L671.2 2057.2 L672.6 2057.9 L673.9 2058.5 L674.9 2059.2 L675.6 2059.9 L676 2060.6 L676 2061.3 L675.6 2062 L674.9 2062.7 L673.8 2063.4 L672.3 2064.1 L670.6 2064.8 L668.6 2065.4 L666.4 2066.1 L664.3 2066.8 L662.2 2067.5 L660.4 2068.2 L658.9 2068.9 L657.9 2069.6 L657.4 2070.3 L657.5 2071 L658.1 2071.6 L659.2 2072.3 L660.8 2073 L662.7 2073.7 L664.8 2074.4 L667 2075.1 L669.1 2075.8 L671.1 2076.5 L672.9 2077.2 L674.4 2077.9 L675.7 2078.5 L676.7 2079.2 L677.4 2079.9 L677.9 2080.6 L678.3 2081.3 L678.5 2082 L678.7 2082.7 L678.8 2083.4 L678.8 2084.1 L678.9 2084.8 L678.9 2085.4 L678.9 2086.1 L678.9 2086.8Z" fill="#5b8bc0" stroke="#000" stroke-width="2.25" stroke-linejoin="round"/>
<path d="M678.9 2039.2v-0.1M678.9 2086.8v0.1" stroke="#000" stroke-width="2.25"/>
<path d="M659.5 2072.5H698.3" stroke="#000" stroke-width="2.0"/>
<path d="M659.5 2068.6H698.3" stroke="#000" stroke-width="2.0"/>
<path d="M666.5 2053.6H691.3" stroke="#000" stroke-width="2.0"/>
<circle cx="679.3" cy="2053.6" r="5.3" fill="#333"/>
<circle cx="669.9" cy="2072.5" r="5.3" fill="#333"/>
<circle cx="688.7" cy="2068.6" r="5.3" fill="#333"/>
<path d="M744.9 2129.6 L744.9 2128.3 L745 2127 L745 2125.7 L745 2124.3 L745 2123 L745.1 2121.7 L745.2 2120.4 L745.4 2119.1 L745.7 2117.8 L746 2116.4 L746.5 2115.1 L747.2 2113.8 L748 2112.5 L749 2111.2 L750.2 2109.9 L751.4 2108.5 L752.6 2107.2 L753.7 2105.9 L754.6 2104.6 L755.3 2103.3 L755.7 2102 L755.7 2100.6 L755.3 2099.3 L754.6 2098 L753.6 2096.7 L752.5 2095.4 L751.3 2094.1 L750.1 2092.7 L749 2091.4 L748.1 2090.1 L747.4 2088.8 L746.9 2087.5 L746.6 2086.2 L746.7 2084.8 L747 2083.5 L747.6 2082.2 L748.6 2080.9 L749.9 2079.6 L751.6 2078.2 L753.6 2076.9 L755.8 2075.6 L758.2 2074.3 L760.6 2073 L762.8 2071.7 L764.6 2070.3 L765.9 2069 L766.4 2067.7 L766.3 2066.4 L765.4 2065.1 L763.9 2063.8 L761.9 2062.4 L759.6 2061.1 L757.1 2059.8 L754.8 2058.5 L752.6 2057.2 L750.7 2055.9 L749.1 2054.5 L747.9 2053.2 L746.9 2051.9 L746.2 2050.6 L745.8 2049.3 L745.4 2048 L745.2 2046.6 L745.1 2045.3 L745 2044 L745 2042.7 L745 2041.4 L745 2040.1 L744.9 2038.7 L744.9 2038.7 L744.9 2040.1 L744.9 2041.4 L744.9 2042.7 L744.8 2044 L744.8 2045.3 L744.6 2046.6 L744.4 2048 L744.1 2049.3 L743.6 2050.6 L742.9 2051.9 L742 2053.2 L740.8 2054.5 L739.2 2055.9 L737.3 2057.2 L735.1 2058.5 L732.7 2059.8 L730.3 2061.1 L728 2062.4 L726 2063.8 L724.5 2065.1 L723.6 2066.4 L723.4 2067.7 L724 2069 L725.3 2070.3 L727.1 2071.7 L729.3 2073 L731.6 2074.3 L734 2075.6 L736.3 2076.9 L738.3 2078.2 L740 2079.6 L741.3 2080.9 L742.3 2082.2 L742.9 2083.5 L743.2 2084.8 L743.2 2086.2 L743 2087.5 L742.5 2088.8 L741.8 2090.1 L740.9 2091.4 L739.8 2092.7 L738.6 2094.1 L737.4 2095.4 L736.3 2096.7 L735.3 2098 L734.6 2099.3 L734.2 2100.6 L734.2 2102 L734.6 2103.3 L735.2 2104.6 L736.2 2105.9 L737.3 2107.2 L738.5 2108.5 L739.7 2109.9 L740.8 2111.2 L741.8 2112.5 L742.7 2113.8 L743.3 2115.1 L743.8 2116.4 L744.2 2117.8 L744.5 2119.1 L744.7 2120.4 L744.8 2121.7 L744.8 2123 L744.9 2124.3 L744.9 2125.7 L744.9 2127 L744.9 2128.3 L744.9 2129.6Z" fill="#5b8bc0" stroke="#000" stroke-width="2.25" stroke-linejoin="round"/>
<path d="M744.9 2038.7v-0.1M744.9 2129.6v0.1" stroke="#000" stroke-width="2.25"/>
<path d="M734.2 2101.3H755.7" stroke="#000" stroke-width="2.0"/>
<path d="M723.4 2067.7H766.4" stroke="#000" stroke-width="2.0"/>
<path d="M723.5 2067H766.4" stroke="#000" stroke-width="2.0"/>
<circle cx="735.6" cy="2067" r="5.3" fill="#333"/>
<circle cx="754.4" cy="2067.7" r="5.3" fill="#333"/>
<circle cx="745" cy="2101.3" r="5.3" fill="#333"/>
<path d="M811 2134.5 L811 2133 L811 2131.5 L811 2130 L811 2128.5 L811.1 2127 L811.1 2125.5 L811.3 2124 L811.4 2122.5 L811.7 2121 L812.1 2119.5 L812.6 2117.9 L813.2 2116.4 L814 2114.9 L815 2113.4 L816.1 2111.9 L817.3 2110.4 L818.5 2108.9 L819.7 2107.4 L820.6 2105.9 L821.3 2104.4 L821.7 2102.8 L821.7 2101.3 L821.4 2099.8 L820.7 2098.3 L819.8 2096.8 L818.6 2095.3 L817.4 2093.8 L816.3 2092.3 L815.2 2090.8 L814.2 2089.3 L813.5 2087.8 L813 2086.2 L812.7 2084.7 L812.7 2083.2 L812.9 2081.7 L813.5 2080.2 L814.4 2078.7 L815.7 2077.2 L817.3 2075.7 L819.3 2074.2 L821.5 2072.7 L823.9 2071.1 L826.3 2069.6 L828.5 2068.1 L830.4 2066.6 L831.8 2065.1 L832.5 2063.6 L832.4 2062.1 L831.7 2060.6 L830.3 2059.1 L828.3 2057.6 L826.1 2056.1 L823.7 2054.5 L821.3 2053 L819.1 2051.5 L817.1 2050 L815.5 2048.5 L814.1 2047 L813.1 2045.5 L812.4 2044 L811.9 2042.5 L811.5 2041 L811.3 2039.5 L811.2 2037.9 L811.1 2036.4 L811 2034.9 L811 2033.4 L811 2031.9 L811 2030.4 L811 2030.4 L811 2031.9 L810.9 2033.4 L810.9 2034.9 L810.9 2036.4 L810.8 2037.9 L810.6 2039.5 L810.4 2041 L810.1 2042.5 L809.5 2044 L808.8 2045.5 L807.8 2047 L806.5 2048.5 L804.8 2050 L802.9 2051.5 L800.7 2053 L798.3 2054.5 L795.9 2056.1 L793.6 2057.6 L791.7 2059.1 L790.3 2060.6 L789.5 2062.1 L789.5 2063.6 L790.2 2065.1 L791.5 2066.6 L793.4 2068.1 L795.6 2069.6 L798 2071.1 L800.4 2072.7 L802.7 2074.2 L804.6 2075.7 L806.2 2077.2 L807.5 2078.7 L808.4 2080.2 L809 2081.7 L809.3 2083.2 L809.3 2084.7 L809 2086.2 L808.5 2087.8 L807.7 2089.3 L806.8 2090.8 L805.7 2092.3 L804.5 2093.8 L803.3 2095.3 L802.2 2096.8 L801.2 2098.3 L800.6 2099.8 L800.2 2101.3 L800.2 2102.8 L800.6 2104.4 L801.3 2105.9 L802.3 2107.4 L803.4 2108.9 L804.6 2110.4 L805.8 2111.9 L806.9 2113.4 L807.9 2114.9 L808.7 2116.4 L809.4 2117.9 L809.9 2119.5 L810.3 2121 L810.5 2122.5 L810.7 2124 L810.8 2125.5 L810.9 2127 L810.9 2128.5 L810.9 2130 L811 2131.5 L811 2133 L811 2134.5Z" fill="#5b8bc0" stroke="#000" stroke-width="2.25" stroke-linejoin="round"/>
<path d="M811 2030.4v-0.1M811 2134.5v0.1" stroke="#000" stroke-width="2.25"/>
<path d="M800.2 2102H821.7" stroke="#000" stroke-width="2.0"/>
<path d="M789.5 2062.9H832.5" stroke="#000" stroke-width="2.0"/>
<path d="M789.5 2062.9H832.5" stroke="#000" stroke-width="2.0"/>
<circle cx="802.2" cy="2062.9" r="5.3" fill="#333"/>
<circle cx="820.3" cy="2062.9" r="5.3" fill="#333"/>
<circle cx="810.9" cy="2102" r="5.3" fill="#333"/>
<path d="M379.5 1961V1928H811.7V2014.3" stroke="#000" stroke-width="2.1" fill="none"/>
<path d="M606.6 2060V1957.7H811.7V1957.7" stroke="#000" stroke-width="2.1" fill="none"/>
<path d="M713.4 2012.8V1989.6H811.7V1989.6" stroke="#000" stroke-width="2.1" fill="none"/>
<path d="M211.4 1974H548.9" stroke="#000" stroke-width="2.1"/>
<path d="M667.4 2022.7H751.9" stroke="#000" stroke-width="2.1"/>
<text x="580.7" y="1924" font-family="Liberation Sans" font-size="32" text-anchor="middle">ns</text>
<text x="713.4" y="1965.6" font-family="DejaVu Sans" font-size="33" letter-spacing="0" stroke="#000" stroke-width="1.0" text-anchor="middle">*</text>
<text x="762.7" y="1984.2" font-family="Liberation Sans" font-size="32" text-anchor="middle">ns</text>
<path d="M1023.4 1933.8V2398M1005 2398H1663.9" stroke="#000" stroke-width="2.2" fill="none"/>
<text x="1000.3" y="2408.2" font-family="Liberation Sans" font-weight="bold" font-size="28.5" text-anchor="end">0</text>
<path d="M1005 2281.9H1023.4" stroke="#000" stroke-width="2.2"/>
<text x="1000.3" y="2292.2" font-family="Liberation Sans" font-weight="bold" font-size="28.5" text-anchor="end">5</text>
<path d="M1005 2165.9H1023.4" stroke="#000" stroke-width="2.2"/>
<text x="1000.3" y="2176.1" font-family="Liberation Sans" font-weight="bold" font-size="28.5" text-anchor="end">10</text>
<path d="M1005 2049.8H1023.4" stroke="#000" stroke-width="2.2"/>
<text x="1000.3" y="2060.1" font-family="Liberation Sans" font-weight="bold" font-size="28.5" text-anchor="end">15</text>
<path d="M1005 1933.8H1023.4" stroke="#000" stroke-width="2.2"/>
<text x="1000.3" y="1944" font-family="Liberation Sans" font-weight="bold" font-size="28.5" text-anchor="end">20</text>
<text transform="translate(948 2166.4) rotate(-90)" font-family="Liberation Sans" font-weight="bold" font-size="32.05" text-anchor="middle">Area Under the Curve</text>
<path d="M1064.4 2398V2416.3" stroke="#000" stroke-width="2.2"/>
<text transform="translate(1069.5 2441.4) rotate(-45)" font-family="Liberation Sans" font-weight="bold" font-size="25.8" text-anchor="end">ZR1</text>
<path d="M1126.3 2398V2416.3" stroke="#000" stroke-width="2.2"/>
<text transform="translate(1131.4 2441.4) rotate(-45)" font-family="Liberation Sans" font-weight="bold" font-size="25.8" text-anchor="end">ZR2</text>
<path d="M1188.2 2398V2416.3" stroke="#000" stroke-width="2.2"/>
<text transform="translate(1193.3 2441.4) rotate(-45)" font-family="Liberation Sans" font-weight="bold" font-size="25.8" text-anchor="end">ZR3</text>
<path d="M1250 2398V2416.3" stroke="#000" stroke-width="2.2"/>
<text transform="translate(1255.1 2441.4) rotate(-45)" font-family="Liberation Sans" font-weight="bold" font-size="25.8" text-anchor="end">ZR4</text>
<path d="M1311.9 2398V2416.3" stroke="#000" stroke-width="2.2"/>
<text transform="translate(1317 2441.4) rotate(-45)" font-family="Liberation Sans" font-weight="bold" font-size="25.8" text-anchor="end">ZR5</text>
<path d="M1373.8 2398V2416.3" stroke="#000" stroke-width="2.2"/>
<text transform="translate(1378.9 2441.4) rotate(-45)" font-family="Liberation Sans" font-weight="bold" font-size="25.8" text-anchor="end">ZR6</text>
<path d="M1435.7 2398V2416.3" stroke="#000" stroke-width="2.2"/>
<text transform="translate(1440.8 2441.4) rotate(-45)" font-family="Liberation Sans" font-weight="bold" font-size="25.8" text-anchor="end">ZR7</text>
<path d="M1497.6 2398V2416.3" stroke="#000" stroke-width="2.2"/>
<text transform="translate(1502.7 2441.4) rotate(-45)" font-family="Liberation Sans" font-weight="bold" font-size="25.8" text-anchor="end">ZR8</text>
<path d="M1559.4 2398V2416.3" stroke="#000" stroke-width="2.2"/>
<text transform="translate(1564.5 2441.4) rotate(-45)" font-family="Liberation Sans" font-weight="bold" font-size="25.8" text-anchor="end">ZR9</text>
<path d="M1621.3 2398V2416.3" stroke="#000" stroke-width="2.2"/>
<text transform="translate(1626.4 2441.4) rotate(-45)" font-family="Liberation Sans" font-weight="bold" font-size="25.8" text-anchor="end">SCNJ1</text>
<path d="M1064.4 2099.9 L1064.4 2098.7 L1064.4 2097.5 L1064.4 2096.4 L1064.5 2095.2 L1064.6 2094 L1064.7 2092.8 L1064.9 2091.6 L1065.2 2090.5 L1065.6 2089.3 L1066.2 2088.1 L1067.1 2086.9 L1068.2 2085.7 L1069.6 2084.5 L1071.2 2083.4 L1073.1 2082.2 L1075 2081 L1077.1 2079.8 L1079 2078.6 L1080.8 2077.5 L1082.3 2076.3 L1083.5 2075.1 L1084.4 2073.9 L1085 2072.7 L1085.3 2071.5 L1085.4 2070.4 L1085.3 2069.2 L1084.9 2068 L1084.2 2066.8 L1083.2 2065.6 L1082 2064.5 L1080.4 2063.3 L1078.6 2062.1 L1076.7 2060.9 L1074.8 2059.7 L1073.1 2058.5 L1071.6 2057.4 L1070.5 2056.2 L1069.8 2055 L1069.6 2053.8 L1069.9 2052.6 L1070.7 2051.5 L1071.9 2050.3 L1073.3 2049.1 L1074.9 2047.9 L1076.5 2046.7 L1077.8 2045.5 L1078.8 2044.4 L1079.3 2043.2 L1079.3 2042 L1078.7 2040.8 L1077.6 2039.6 L1076.2 2038.5 L1074.5 2037.3 L1072.7 2036.1 L1071 2034.9 L1069.5 2033.7 L1068.1 2032.5 L1067.1 2031.4 L1066.2 2030.2 L1065.6 2029 L1065.2 2027.8 L1064.9 2026.6 L1064.7 2025.5 L1064.6 2024.3 L1064.5 2023.1 L1064.4 2021.9 L1064.4 2020.7 L1064.4 2019.5 L1064.4 2018.4 L1064.4 2018.4 L1064.4 2019.5 L1064.4 2020.7 L1064.4 2021.9 L1064.3 2023.1 L1064.2 2024.3 L1064.1 2025.5 L1063.9 2026.6 L1063.6 2027.8 L1063.2 2029 L1062.6 2030.2 L1061.7 2031.4 L1060.7 2032.5 L1059.3 2033.7 L1057.8 2034.9 L1056.1 2036.1 L1054.3 2037.3 L1052.6 2038.5 L1051.2 2039.6 L1050.1 2040.8 L1049.5 2042 L1049.5 2043.2 L1050 2044.4 L1051 2045.5 L1052.3 2046.7 L1053.9 2047.9 L1055.5 2049.1 L1056.9 2050.3 L1058.1 2051.5 L1058.9 2052.6 L1059.2 2053.8 L1059 2055 L1058.3 2056.2 L1057.2 2057.4 L1055.7 2058.5 L1054 2059.7 L1052.1 2060.9 L1050.2 2062.1 L1048.4 2063.3 L1046.8 2064.5 L1045.6 2065.6 L1044.6 2066.8 L1043.9 2068 L1043.5 2069.2 L1043.4 2070.4 L1043.5 2071.5 L1043.8 2072.7 L1044.4 2073.9 L1045.3 2075.1 L1046.5 2076.3 L1048 2077.5 L1049.8 2078.6 L1051.7 2079.8 L1053.8 2081 L1055.7 2082.2 L1057.6 2083.4 L1059.2 2084.5 L1060.6 2085.7 L1061.7 2086.9 L1062.6 2088.1 L1063.2 2089.3 L1063.6 2090.5 L1063.9 2091.6 L1064.1 2092.8 L1064.2 2094 L1064.3 2095.2 L1064.4 2096.4 L1064.4 2097.5 L1064.4 2098.7 L1064.4 2099.9Z" fill="#5b8bc0" stroke="#000" stroke-width="2.25" stroke-linejoin="round"/>
<path d="M1064.4 2018.4v-0.1M1064.4 2099.9v0.1" stroke="#000" stroke-width="2.25"/>
<path d="M1045.8 2065.4H1083" stroke="#000" stroke-width="2.0"/>
<circle cx="1064.4" cy="2042.7" r="5.3" fill="#333"/>
<circle cx="1064.4" cy="2065.4" r="5.3" fill="#333"/>
<circle cx="1064.4" cy="2075.6" r="5.3" fill="#333"/>
<path d="M1126.3 2116.2 L1126.3 2114.4 L1126.3 2112.6 L1126.3 2110.8 L1126.3 2109 L1126.4 2107.2 L1126.5 2105.4 L1126.6 2103.6 L1126.8 2101.8 L1127.1 2100 L1127.6 2098.2 L1128.2 2096.4 L1129 2094.6 L1130 2092.8 L1131.1 2091 L1132.4 2089.2 L1133.7 2087.5 L1135 2085.7 L1136.2 2083.9 L1137.1 2082.1 L1137.7 2080.3 L1137.9 2078.5 L1137.6 2076.7 L1137 2074.9 L1136 2073.1 L1134.9 2071.3 L1133.6 2069.5 L1132.3 2067.7 L1131.1 2065.9 L1130.1 2064.1 L1129.3 2062.3 L1128.8 2060.5 L1128.7 2058.7 L1128.9 2057 L1129.4 2055.2 L1130.3 2053.4 L1131.5 2051.6 L1133.1 2049.8 L1134.9 2048 L1137 2046.2 L1139.2 2044.4 L1141.3 2042.6 L1143.4 2040.8 L1145.1 2039 L1146.4 2037.2 L1147.1 2035.4 L1147.3 2033.6 L1146.8 2031.8 L1145.8 2030 L1144.3 2028.2 L1142.4 2026.4 L1140.3 2024.7 L1138.1 2022.9 L1135.9 2021.1 L1133.9 2019.3 L1132.1 2017.5 L1130.6 2015.7 L1129.4 2013.9 L1128.4 2012.1 L1127.7 2010.3 L1127.2 2008.5 L1126.9 2006.7 L1126.6 2004.9 L1126.5 2003.1 L1126.4 2001.3 L1126.3 1999.5 L1126.3 1997.7 L1126.3 1995.9 L1126.3 1994.1 L1126.3 1992.4 L1126.3 1992.4 L1126.3 1994.1 L1126.3 1995.9 L1126.2 1997.7 L1126.2 1999.5 L1126.2 2001.3 L1126.1 2003.1 L1125.9 2004.9 L1125.7 2006.7 L1125.3 2008.5 L1124.8 2010.3 L1124.1 2012.1 L1123.2 2013.9 L1121.9 2015.7 L1120.4 2017.5 L1118.7 2019.3 L1116.7 2021.1 L1114.5 2022.9 L1112.3 2024.7 L1110.2 2026.4 L1108.3 2028.2 L1106.8 2030 L1105.7 2031.8 L1105.3 2033.6 L1105.4 2035.4 L1106.2 2037.2 L1107.5 2039 L1109.2 2040.8 L1111.2 2042.6 L1113.4 2044.4 L1115.6 2046.2 L1117.6 2048 L1119.5 2049.8 L1121.1 2051.6 L1122.3 2053.4 L1123.2 2055.2 L1123.7 2057 L1123.9 2058.7 L1123.7 2060.5 L1123.3 2062.3 L1122.5 2064.1 L1121.5 2065.9 L1120.3 2067.7 L1119 2069.5 L1117.7 2071.3 L1116.5 2073.1 L1115.6 2074.9 L1114.9 2076.7 L1114.7 2078.5 L1114.9 2080.3 L1115.4 2082.1 L1116.3 2083.9 L1117.5 2085.7 L1118.8 2087.5 L1120.2 2089.2 L1121.4 2091 L1122.6 2092.8 L1123.6 2094.6 L1124.4 2096.4 L1125 2098.2 L1125.4 2100 L1125.7 2101.8 L1125.9 2103.6 L1126.1 2105.4 L1126.2 2107.2 L1126.2 2109 L1126.2 2110.8 L1126.3 2112.6 L1126.3 2114.4 L1126.3 2116.2Z" fill="#5b8bc0" stroke="#000" stroke-width="2.25" stroke-linejoin="round"/>
<path d="M1126.3 1992.4v-0.1M1126.3 2116.2v0.1" stroke="#000" stroke-width="2.25"/>
<path d="M1114.7 2078.6H1137.9" stroke="#000" stroke-width="2.0"/>
<path d="M1106.9 2038.2H1145.6" stroke="#000" stroke-width="2.0"/>
<path d="M1106.9 2029.9H1145.7" stroke="#000" stroke-width="2.0"/>
<circle cx="1116.8" cy="2029.9" r="5.3" fill="#333"/>
<circle cx="1135.6" cy="2038.2" r="5.3" fill="#333"/>
<circle cx="1126.2" cy="2078.6" r="5.3" fill="#333"/>
<path d="M1188.2 2084.2 L1188.2 2083.9 L1188.2 2083.6 L1188.2 2083.3 L1188.3 2083 L1188.3 2082.7 L1188.5 2082.4 L1188.7 2082.1 L1189 2081.8 L1189.5 2081.5 L1190.2 2081.1 L1191.2 2080.8 L1192.4 2080.5 L1194 2080.2 L1195.7 2079.9 L1197.8 2079.6 L1199.9 2079.3 L1202 2079 L1203.9 2078.7 L1205.6 2078.4 L1206.9 2078.1 L1207.9 2077.8 L1208.6 2077.5 L1208.9 2077.2 L1209.1 2076.9 L1209.2 2076.6 L1209.2 2076.2 L1209.1 2075.9 L1208.9 2075.6 L1208.5 2075.3 L1207.8 2075 L1206.8 2074.7 L1205.4 2074.4 L1203.7 2074.1 L1201.9 2073.8 L1200 2073.5 L1198.2 2073.2 L1196.7 2072.9 L1195.7 2072.6 L1195.1 2072.3 L1195.2 2072 L1195.7 2071.6 L1196.8 2071.3 L1198.3 2071 L1199.9 2070.7 L1201.6 2070.4 L1203.1 2070.1 L1204.2 2069.8 L1204.8 2069.5 L1204.8 2069.2 L1204.2 2068.9 L1203 2068.6 L1201.4 2068.3 L1199.5 2068 L1197.6 2067.7 L1195.6 2067.4 L1193.9 2067.1 L1192.4 2066.7 L1191.2 2066.4 L1190.2 2066.1 L1189.5 2065.8 L1189 2065.5 L1188.7 2065.2 L1188.5 2064.9 L1188.3 2064.6 L1188.3 2064.3 L1188.2 2064 L1188.2 2063.7 L1188.2 2063.4 L1188.2 2063.1 L1188.2 2063.1 L1188.1 2063.4 L1188.1 2063.7 L1188.1 2064 L1188.1 2064.3 L1188 2064.6 L1187.9 2064.9 L1187.6 2065.2 L1187.3 2065.5 L1186.8 2065.8 L1186.1 2066.1 L1185.2 2066.4 L1183.9 2066.7 L1182.4 2067.1 L1180.7 2067.4 L1178.8 2067.7 L1176.8 2068 L1174.9 2068.3 L1173.3 2068.6 L1172.2 2068.9 L1171.5 2069.2 L1171.5 2069.5 L1172.1 2069.8 L1173.2 2070.1 L1174.7 2070.4 L1176.4 2070.7 L1178 2071 L1179.5 2071.3 L1180.6 2071.6 L1181.2 2072 L1181.2 2072.3 L1180.7 2072.6 L1179.6 2072.9 L1178.1 2073.2 L1176.3 2073.5 L1174.4 2073.8 L1172.6 2074.1 L1170.9 2074.4 L1169.6 2074.7 L1168.5 2075 L1167.8 2075.3 L1167.4 2075.6 L1167.2 2075.9 L1167.2 2076.2 L1167.2 2076.6 L1167.2 2076.9 L1167.4 2077.2 L1167.8 2077.5 L1168.4 2077.8 L1169.4 2078.1 L1170.7 2078.4 L1172.4 2078.7 L1174.4 2079 L1176.5 2079.3 L1178.6 2079.6 L1180.6 2079.9 L1182.4 2080.2 L1183.9 2080.5 L1185.1 2080.8 L1186.1 2081.1 L1186.8 2081.5 L1187.3 2081.8 L1187.6 2082.1 L1187.9 2082.4 L1188 2082.7 L1188.1 2083 L1188.1 2083.3 L1188.1 2083.6 L1188.1 2083.9 L1188.2 2084.2Z" fill="#5b8bc0" stroke="#000" stroke-width="2.25" stroke-linejoin="round"/>
<path d="M1188.2 2063.1v-0.1M1188.2 2084.2v0.1" stroke="#000" stroke-width="2.25"/>
<path d="M1168.9 2077.9H1207.4" stroke="#000" stroke-width="2.0"/>
<path d="M1168.9 2074.9H1207.5" stroke="#000" stroke-width="2.0"/>
<path d="M1171.5 2069.3H1204.8" stroke="#000" stroke-width="2.0"/>
<circle cx="1172.2" cy="2077.9" r="5.3" fill="#333"/>
<circle cx="1188.3" cy="2069.3" r="5.3" fill="#333"/>
<circle cx="1204" cy="2074.9" r="5.3" fill="#333"/>
<path d="M1250 2124.3 L1250.1 2122.8 L1250.1 2121.3 L1250.1 2119.8 L1250.2 2118.4 L1250.3 2116.9 L1250.4 2115.4 L1250.7 2113.9 L1251.1 2112.4 L1251.7 2111 L1252.6 2109.5 L1253.7 2108 L1255.3 2106.5 L1257.1 2105.1 L1259.3 2103.6 L1261.6 2102.1 L1264 2100.6 L1266.3 2099.1 L1268.2 2097.7 L1269.7 2096.2 L1270.6 2094.7 L1270.8 2093.2 L1270.4 2091.8 L1269.6 2090.3 L1268.5 2088.8 L1267.5 2087.3 L1266.7 2085.9 L1266.4 2084.4 L1266.6 2082.9 L1267.2 2081.4 L1268.1 2079.9 L1269.2 2078.5 L1270.2 2077 L1270.9 2075.5 L1271 2074 L1270.7 2072.6 L1269.8 2071.1 L1268.6 2069.6 L1267.2 2068.1 L1265.9 2066.6 L1264.9 2065.2 L1264.5 2063.7 L1264.5 2062.2 L1265.2 2060.7 L1266.3 2059.3 L1267.6 2057.8 L1268.9 2056.3 L1269.9 2054.8 L1270.5 2053.3 L1270.4 2051.9 L1269.6 2050.4 L1268.2 2048.9 L1266.3 2047.4 L1264 2046 L1261.6 2044.5 L1259.3 2043 L1257.1 2041.5 L1255.3 2040 L1253.7 2038.6 L1252.6 2037.1 L1251.7 2035.6 L1251.1 2034.1 L1250.7 2032.7 L1250.4 2031.2 L1250.3 2029.7 L1250.2 2028.2 L1250.1 2026.7 L1250.1 2025.3 L1250.1 2023.8 L1250 2022.3 L1250 2022.3 L1250 2023.8 L1250 2025.3 L1250 2026.7 L1249.9 2028.2 L1249.8 2029.7 L1249.7 2031.2 L1249.4 2032.7 L1249 2034.1 L1248.4 2035.6 L1247.5 2037.1 L1246.3 2038.6 L1244.8 2040 L1243 2041.5 L1240.8 2043 L1238.5 2044.5 L1236.1 2046 L1233.8 2047.4 L1231.9 2048.9 L1230.5 2050.4 L1229.7 2051.9 L1229.6 2053.3 L1230.1 2054.8 L1231.2 2056.3 L1232.5 2057.8 L1233.8 2059.3 L1234.9 2060.7 L1235.5 2062.2 L1235.6 2063.7 L1235.1 2065.2 L1234.2 2066.6 L1232.9 2068.1 L1231.5 2069.6 L1230.3 2071.1 L1229.4 2072.6 L1229 2074 L1229.2 2075.5 L1229.9 2077 L1230.9 2078.5 L1232 2079.9 L1232.9 2081.4 L1233.5 2082.9 L1233.7 2084.4 L1233.3 2085.9 L1232.6 2087.3 L1231.6 2088.8 L1230.5 2090.3 L1229.7 2091.8 L1229.3 2093.2 L1229.5 2094.7 L1230.4 2096.2 L1231.8 2097.7 L1233.8 2099.1 L1236.1 2100.6 L1238.5 2102.1 L1240.8 2103.6 L1243 2105.1 L1244.8 2106.5 L1246.3 2108 L1247.5 2109.5 L1248.4 2111 L1249 2112.4 L1249.4 2113.9 L1249.7 2115.4 L1249.8 2116.9 L1249.9 2118.4 L1250 2119.8 L1250 2121.3 L1250 2122.8 L1250 2124.3Z" fill="#5b8bc0" stroke="#000" stroke-width="2.25" stroke-linejoin="round"/>
<path d="M1250 2022.3v-0.1M1250 2124.3v0.1" stroke="#000" stroke-width="2.25"/>
<path d="M1229.4 2094.2H1270.6" stroke="#000" stroke-width="2.0"/>
<path d="M1229.1 2074H1271" stroke="#000" stroke-width="2.0"/>
<path d="M1229.7 2052.4H1270.4" stroke="#000" stroke-width="2.0"/>
<circle cx="1250" cy="2052.4" r="5.3" fill="#333"/>
<circle cx="1250" cy="2074" r="5.3" fill="#333"/>
<circle cx="1250" cy="2094.2" r="5.3" fill="#333"/>
<path d="M1311.9 2077.5 L1311.9 2077.4 L1311.9 2077.3 L1312 2077.2 L1312 2077.2 L1312.1 2077.1 L1312.2 2077 L1312.3 2076.9 L1312.5 2076.9 L1312.8 2076.8 L1313.3 2076.7 L1313.9 2076.6 L1314.8 2076.5 L1315.8 2076.5 L1317.2 2076.4 L1318.7 2076.3 L1320.5 2076.2 L1322.5 2076.2 L1324.6 2076.1 L1326.7 2076 L1328.7 2075.9 L1330.4 2075.8 L1331.8 2075.8 L1332.6 2075.7 L1332.9 2075.6 L1332.6 2075.5 L1331.8 2075.5 L1330.5 2075.4 L1328.9 2075.3 L1327 2075.2 L1325.1 2075.1 L1323.2 2075.1 L1321.5 2075 L1320.1 2074.9 L1319.1 2074.8 L1318.4 2074.8 L1318.2 2074.7 L1318.2 2074.6 L1318.6 2074.5 L1319.2 2074.5 L1319.9 2074.4 L1320.7 2074.3 L1321.4 2074.2 L1322 2074.1 L1322.3 2074.1 L1322.5 2074 L1322.3 2073.9 L1321.9 2073.8 L1321.2 2073.8 L1320.3 2073.7 L1319.3 2073.6 L1318.3 2073.5 L1317.2 2073.4 L1316.2 2073.4 L1315.3 2073.3 L1314.5 2073.2 L1313.9 2073.1 L1313.3 2073.1 L1312.9 2073 L1312.6 2072.9 L1312.4 2072.8 L1312.2 2072.8 L1312.1 2072.7 L1312 2072.6 L1312 2072.5 L1312 2072.4 L1311.9 2072.4 L1311.9 2072.3 L1311.9 2072.2 L1311.9 2072.1 L1311.9 2072.1 L1311.9 2072.2 L1311.9 2072.3 L1311.9 2072.4 L1311.9 2072.4 L1311.9 2072.5 L1311.8 2072.6 L1311.7 2072.7 L1311.6 2072.8 L1311.5 2072.8 L1311.2 2072.9 L1310.9 2073 L1310.5 2073.1 L1310 2073.1 L1309.3 2073.2 L1308.5 2073.3 L1307.6 2073.4 L1306.6 2073.4 L1305.6 2073.5 L1304.5 2073.6 L1303.5 2073.7 L1302.7 2073.8 L1302 2073.8 L1301.6 2073.9 L1301.4 2074 L1301.5 2074.1 L1301.9 2074.1 L1302.4 2074.2 L1303.1 2074.3 L1303.9 2074.4 L1304.6 2074.5 L1305.2 2074.5 L1305.6 2074.6 L1305.7 2074.7 L1305.4 2074.8 L1304.7 2074.8 L1303.7 2074.9 L1302.3 2075 L1300.6 2075.1 L1298.7 2075.1 L1296.8 2075.2 L1294.9 2075.3 L1293.3 2075.4 L1292 2075.5 L1291.2 2075.5 L1290.9 2075.6 L1291.2 2075.7 L1292.1 2075.8 L1293.4 2075.8 L1295.1 2075.9 L1297.1 2076 L1299.2 2076.1 L1301.3 2076.2 L1303.3 2076.2 L1305.1 2076.3 L1306.7 2076.4 L1308 2076.5 L1309.1 2076.5 L1309.9 2076.6 L1310.5 2076.7 L1311 2076.8 L1311.3 2076.9 L1311.5 2076.9 L1311.7 2077 L1311.8 2077.1 L1311.8 2077.2 L1311.9 2077.2 L1311.9 2077.3 L1311.9 2077.4 L1311.9 2077.5Z" fill="#5b8bc0" stroke="#000" stroke-width="2.25" stroke-linejoin="round"/>
<path d="M1311.9 2072.1v-0.1M1311.9 2077.5v0.1" stroke="#000" stroke-width="2.25"/>
<path d="M1290.9 2075.6H1332.9" stroke="#000" stroke-width="2.0"/>
<path d="M1290.9 2075.6H1332.9" stroke="#000" stroke-width="2.0"/>
<path d="M1301.4 2074H1322.5" stroke="#000" stroke-width="2.0"/>
<circle cx="1296.4" cy="2075.6" r="5.3" fill="#333"/>
<circle cx="1312" cy="2074" r="5.3" fill="#333"/>
<circle cx="1327.7" cy="2075.6" r="5.3" fill="#333"/>
<path d="M1373.8 2100.6 L1373.8 2099.8 L1373.8 2099 L1373.8 2098.2 L1373.9 2097.4 L1373.9 2096.6 L1374 2095.7 L1374.2 2094.9 L1374.4 2094.1 L1374.7 2093.3 L1375.2 2092.5 L1376 2091.7 L1376.9 2090.8 L1378.2 2090 L1379.7 2089.2 L1381.5 2088.4 L1383.6 2087.6 L1385.8 2086.8 L1388.1 2086 L1390.2 2085.1 L1392.1 2084.3 L1393.6 2083.5 L1394.5 2082.7 L1394.8 2081.9 L1394.5 2081.1 L1393.5 2080.2 L1392 2079.4 L1390.1 2078.6 L1388 2077.8 L1385.8 2077 L1383.6 2076.2 L1381.5 2075.3 L1379.8 2074.5 L1378.3 2073.7 L1377.2 2072.9 L1376.5 2072.1 L1376.1 2071.3 L1376 2070.4 L1376.2 2069.6 L1376.7 2068.8 L1377.5 2068 L1378.5 2067.2 L1379.7 2066.4 L1381 2065.5 L1382.3 2064.7 L1383.4 2063.9 L1384.3 2063.1 L1384.9 2062.3 L1385.1 2061.5 L1384.9 2060.6 L1384.3 2059.8 L1383.4 2059 L1382.2 2058.2 L1381 2057.4 L1379.7 2056.6 L1378.4 2055.7 L1377.3 2054.9 L1376.4 2054.1 L1375.6 2053.3 L1375.1 2052.5 L1374.6 2051.7 L1374.3 2050.8 L1374.1 2050 L1374 2049.2 L1373.9 2048.4 L1373.9 2047.6 L1373.8 2046.8 L1373.8 2045.9 L1373.8 2045.1 L1373.8 2044.3 L1373.8 2044.3 L1373.8 2045.1 L1373.8 2045.9 L1373.8 2046.8 L1373.7 2047.6 L1373.7 2048.4 L1373.6 2049.2 L1373.5 2050 L1373.3 2050.8 L1373 2051.7 L1372.5 2052.5 L1372 2053.3 L1371.2 2054.1 L1370.3 2054.9 L1369.2 2055.7 L1367.9 2056.6 L1366.6 2057.4 L1365.4 2058.2 L1364.2 2059 L1363.3 2059.8 L1362.7 2060.6 L1362.5 2061.5 L1362.7 2062.3 L1363.3 2063.1 L1364.2 2063.9 L1365.3 2064.7 L1366.6 2065.5 L1367.9 2066.4 L1369.1 2067.2 L1370.1 2068 L1370.9 2068.8 L1371.4 2069.6 L1371.6 2070.4 L1371.5 2071.3 L1371.1 2072.1 L1370.4 2072.9 L1369.3 2073.7 L1367.8 2074.5 L1366.1 2075.3 L1364 2076.2 L1361.8 2077 L1359.6 2077.8 L1357.5 2078.6 L1355.6 2079.4 L1354.1 2080.2 L1353.1 2081.1 L1352.8 2081.9 L1353.1 2082.7 L1354 2083.5 L1355.5 2084.3 L1357.4 2085.1 L1359.5 2086 L1361.8 2086.8 L1364 2087.6 L1366.1 2088.4 L1367.9 2089.2 L1369.4 2090 L1370.7 2090.8 L1371.6 2091.7 L1372.4 2092.5 L1372.9 2093.3 L1373.2 2094.1 L1373.4 2094.9 L1373.6 2095.7 L1373.7 2096.6 L1373.7 2097.4 L1373.8 2098.2 L1373.8 2099 L1373.8 2099.8 L1373.8 2100.6Z" fill="#5b8bc0" stroke="#000" stroke-width="2.25" stroke-linejoin="round"/>
<path d="M1373.8 2044.3v-0.1M1373.8 2100.6v0.1" stroke="#000" stroke-width="2.25"/>
<path d="M1354.1 2083.5H1393.5" stroke="#000" stroke-width="2.0"/>
<path d="M1354.1 2080.3H1393.5" stroke="#000" stroke-width="2.0"/>
<path d="M1362.5 2061.5H1385.1" stroke="#000" stroke-width="2.0"/>
<circle cx="1373.9" cy="2061.5" r="5.3" fill="#333"/>
<circle cx="1364.5" cy="2083.5" r="5.3" fill="#333"/>
<circle cx="1383.3" cy="2080.3" r="5.3" fill="#333"/>
<path d="M1435.7 2046.7 L1435.7 2046.4 L1435.7 2046.1 L1435.7 2045.9 L1435.8 2045.6 L1435.8 2045.3 L1435.9 2045 L1436.1 2044.8 L1436.4 2044.5 L1436.9 2044.2 L1437.5 2043.9 L1438.3 2043.7 L1439.4 2043.4 L1440.8 2043.1 L1442.4 2042.8 L1444.2 2042.6 L1446.2 2042.3 L1448.2 2042 L1450.1 2041.7 L1451.9 2041.5 L1453.5 2041.2 L1454.7 2040.9 L1455.6 2040.6 L1456.3 2040.4 L1456.6 2040.1 L1456.7 2039.8 L1456.5 2039.5 L1456 2039.3 L1455.3 2039 L1454.2 2038.7 L1452.9 2038.4 L1451.3 2038.2 L1449.4 2037.9 L1447.5 2037.6 L1445.6 2037.3 L1443.9 2037.1 L1442.5 2036.8 L1441.4 2036.5 L1440.8 2036.2 L1440.7 2036 L1441 2035.7 L1441.8 2035.4 L1443 2035.1 L1444.5 2034.9 L1446 2034.6 L1447.6 2034.3 L1448.9 2034 L1449.9 2033.8 L1450.4 2033.5 L1450.3 2033.2 L1449.7 2032.9 L1448.7 2032.7 L1447.2 2032.4 L1445.6 2032.1 L1443.9 2031.8 L1442.2 2031.6 L1440.7 2031.3 L1439.3 2031 L1438.3 2030.7 L1437.5 2030.5 L1436.9 2030.2 L1436.4 2029.9 L1436.1 2029.6 L1435.9 2029.4 L1435.8 2029.1 L1435.8 2028.8 L1435.7 2028.5 L1435.7 2028.3 L1435.7 2028 L1435.7 2027.7 L1435.7 2027.7 L1435.7 2028 L1435.7 2028.3 L1435.6 2028.5 L1435.6 2028.8 L1435.5 2029.1 L1435.4 2029.4 L1435.2 2029.6 L1434.9 2029.9 L1434.5 2030.2 L1433.9 2030.5 L1433.1 2030.7 L1432 2031 L1430.7 2031.3 L1429.2 2031.6 L1427.5 2031.8 L1425.8 2032.1 L1424.1 2032.4 L1422.7 2032.7 L1421.6 2032.9 L1421.1 2033.2 L1421 2033.5 L1421.5 2033.8 L1422.5 2034 L1423.8 2034.3 L1425.3 2034.6 L1426.9 2034.9 L1428.3 2035.1 L1429.5 2035.4 L1430.3 2035.7 L1430.7 2036 L1430.6 2036.2 L1429.9 2036.5 L1428.9 2036.8 L1427.4 2037.1 L1425.7 2037.3 L1423.8 2037.6 L1421.9 2037.9 L1420.1 2038.2 L1418.5 2038.4 L1417.1 2038.7 L1416.1 2039 L1415.3 2039.3 L1414.9 2039.5 L1414.7 2039.8 L1414.8 2040.1 L1415.1 2040.4 L1415.7 2040.6 L1416.7 2040.9 L1417.9 2041.2 L1419.4 2041.5 L1421.2 2041.7 L1423.2 2042 L1425.2 2042.3 L1427.1 2042.6 L1429 2042.8 L1430.6 2043.1 L1431.9 2043.4 L1433 2043.7 L1433.9 2043.9 L1434.5 2044.2 L1434.9 2044.5 L1435.2 2044.8 L1435.4 2045 L1435.5 2045.3 L1435.6 2045.6 L1435.6 2045.9 L1435.7 2046.1 L1435.7 2046.4 L1435.7 2046.7Z" fill="#5b8bc0" stroke="#000" stroke-width="2.25" stroke-linejoin="round"/>
<path d="M1435.7 2027.7v-0.1M1435.7 2046.7v0.1" stroke="#000" stroke-width="2.25"/>
<path d="M1417.2 2041H1454.2" stroke="#000" stroke-width="2.0"/>
<path d="M1417.1 2038.7H1454.2" stroke="#000" stroke-width="2.0"/>
<path d="M1421 2033.4H1450.3" stroke="#000" stroke-width="2.0"/>
<circle cx="1420.1" cy="2041" r="5.3" fill="#333"/>
<circle cx="1435.8" cy="2033.4" r="5.3" fill="#333"/>
<circle cx="1451.4" cy="2038.7" r="5.3" fill="#333"/>
<path d="M1497.6 2113.6 L1497.6 2112.6 L1497.6 2111.6 L1497.6 2110.6 L1497.6 2109.6 L1497.7 2108.5 L1497.8 2107.5 L1497.9 2106.5 L1498.1 2105.5 L1498.4 2104.5 L1498.9 2103.4 L1499.5 2102.4 L1500.3 2101.4 L1501.2 2100.4 L1502.4 2099.4 L1503.6 2098.4 L1505 2097.3 L1506.3 2096.3 L1507.4 2095.3 L1508.4 2094.3 L1508.9 2093.3 L1509.1 2092.3 L1508.9 2091.2 L1508.2 2090.2 L1507.3 2089.2 L1506.1 2088.2 L1504.8 2087.2 L1503.5 2086.1 L1502.3 2085.1 L1501.3 2084.1 L1500.6 2083.1 L1500.1 2082.1 L1499.9 2081.1 L1500.1 2080 L1500.6 2079 L1501.5 2078 L1502.7 2077 L1504.2 2076 L1506.1 2075 L1508.1 2073.9 L1510.3 2072.9 L1512.5 2071.9 L1514.5 2070.9 L1516.3 2069.9 L1517.6 2068.8 L1518.4 2067.8 L1518.6 2066.8 L1518.1 2065.8 L1517.1 2064.8 L1515.6 2063.8 L1513.7 2062.7 L1511.6 2061.7 L1509.4 2060.7 L1507.2 2059.7 L1505.2 2058.7 L1503.4 2057.7 L1501.9 2056.6 L1500.7 2055.6 L1499.7 2054.6 L1499 2053.6 L1498.5 2052.6 L1498.1 2051.5 L1497.9 2050.5 L1497.8 2049.5 L1497.7 2048.5 L1497.6 2047.5 L1497.6 2046.5 L1497.6 2045.4 L1497.6 2044.4 L1497.6 2043.4 L1497.6 2043.4 L1497.6 2044.4 L1497.5 2045.4 L1497.5 2046.5 L1497.5 2047.5 L1497.4 2048.5 L1497.4 2049.5 L1497.2 2050.5 L1497 2051.5 L1496.6 2052.6 L1496.1 2053.6 L1495.4 2054.6 L1494.5 2055.6 L1493.2 2056.6 L1491.7 2057.7 L1489.9 2058.7 L1487.9 2059.7 L1485.7 2060.7 L1483.5 2061.7 L1481.4 2062.7 L1479.5 2063.8 L1478 2064.8 L1477 2065.8 L1476.6 2066.8 L1476.7 2067.8 L1477.5 2068.8 L1478.8 2069.9 L1480.6 2070.9 L1482.6 2071.9 L1484.8 2072.9 L1487 2073.9 L1489.1 2075 L1490.9 2076 L1492.4 2077 L1493.7 2078 L1494.5 2079 L1495 2080 L1495.2 2081.1 L1495 2082.1 L1494.5 2083.1 L1493.8 2084.1 L1492.8 2085.1 L1491.6 2086.1 L1490.3 2087.2 L1489 2088.2 L1487.8 2089.2 L1486.9 2090.2 L1486.2 2091.2 L1486 2092.3 L1486.2 2093.3 L1486.8 2094.3 L1487.7 2095.3 L1488.8 2096.3 L1490.1 2097.3 L1491.5 2098.4 L1492.8 2099.4 L1493.9 2100.4 L1494.9 2101.4 L1495.7 2102.4 L1496.3 2103.4 L1496.7 2104.5 L1497 2105.5 L1497.2 2106.5 L1497.4 2107.5 L1497.4 2108.5 L1497.5 2109.6 L1497.5 2110.6 L1497.5 2111.6 L1497.6 2112.6 L1497.6 2113.6Z" fill="#5b8bc0" stroke="#000" stroke-width="2.25" stroke-linejoin="round"/>
<path d="M1497.6 2043.4v-0.1M1497.6 2113.6v0.1" stroke="#000" stroke-width="2.25"/>
<path d="M1486 2092.3H1509.1" stroke="#000" stroke-width="2.0"/>
<path d="M1478.2 2069.3H1517" stroke="#000" stroke-width="2.0"/>
<path d="M1478.1 2064.7H1517" stroke="#000" stroke-width="2.0"/>
<circle cx="1488.3" cy="2064.7" r="5.3" fill="#333"/>
<circle cx="1507.1" cy="2069.3" r="5.3" fill="#333"/>
<circle cx="1497.6" cy="2092.3" r="5.3" fill="#333"/>
<path d="M1559.4 2190.1 L1559.4 2188.6 L1559.5 2187.1 L1559.5 2185.5 L1559.5 2184 L1559.5 2182.5 L1559.6 2180.9 L1559.7 2179.4 L1559.9 2177.9 L1560.2 2176.4 L1560.5 2174.8 L1561 2173.3 L1561.7 2171.8 L1562.5 2170.2 L1563.5 2168.7 L1564.5 2167.2 L1565.7 2165.6 L1566.9 2164.1 L1568 2162.6 L1568.9 2161.1 L1569.6 2159.5 L1569.9 2158 L1569.9 2156.5 L1569.5 2154.9 L1568.8 2153.4 L1567.9 2151.9 L1566.8 2150.4 L1565.6 2148.8 L1564.5 2147.3 L1563.4 2145.8 L1562.5 2144.2 L1561.8 2142.7 L1561.3 2141.2 L1561.1 2139.6 L1561.1 2138.1 L1561.4 2136.6 L1562.1 2135.1 L1563 2133.5 L1564.3 2132 L1566 2130.5 L1567.9 2128.9 L1570.1 2127.4 L1572.5 2125.9 L1574.8 2124.4 L1577 2122.8 L1578.7 2121.3 L1579.9 2119.8 L1580.4 2118.2 L1580.3 2116.7 L1579.4 2115.2 L1577.9 2113.6 L1575.9 2112.1 L1573.6 2110.6 L1571.3 2109.1 L1569 2107.5 L1566.9 2106 L1565 2104.5 L1563.5 2102.9 L1562.3 2101.4 L1561.4 2099.9 L1560.7 2098.3 L1560.2 2096.8 L1559.9 2095.3 L1559.7 2093.8 L1559.6 2092.2 L1559.5 2090.7 L1559.5 2089.2 L1559.5 2087.6 L1559.5 2086.1 L1559.4 2084.6 L1559.4 2084.6 L1559.4 2086.1 L1559.4 2087.6 L1559.4 2089.2 L1559.4 2090.7 L1559.3 2092.2 L1559.2 2093.8 L1559 2095.3 L1558.6 2096.8 L1558.2 2098.3 L1557.5 2099.9 L1556.6 2101.4 L1555.4 2102.9 L1553.9 2104.5 L1552 2106 L1549.9 2107.5 L1547.6 2109.1 L1545.2 2110.6 L1543 2112.1 L1541 2113.6 L1539.5 2115.2 L1538.6 2116.7 L1538.4 2118.2 L1539 2119.8 L1540.2 2121.3 L1541.9 2122.8 L1544.1 2124.4 L1546.4 2125.9 L1548.7 2127.4 L1551 2128.9 L1552.9 2130.5 L1554.6 2132 L1555.9 2133.5 L1556.8 2135.1 L1557.4 2136.6 L1557.8 2138.1 L1557.8 2139.6 L1557.5 2141.2 L1557.1 2142.7 L1556.4 2144.2 L1555.5 2145.8 L1554.4 2147.3 L1553.3 2148.8 L1552.1 2150.4 L1551 2151.9 L1550 2153.4 L1549.3 2154.9 L1549 2156.5 L1548.9 2158 L1549.3 2159.5 L1550 2161.1 L1550.9 2162.6 L1552 2164.1 L1553.2 2165.6 L1554.3 2167.2 L1555.4 2168.7 L1556.4 2170.2 L1557.2 2171.8 L1557.9 2173.3 L1558.4 2174.8 L1558.7 2176.4 L1559 2177.9 L1559.2 2179.4 L1559.3 2180.9 L1559.3 2182.5 L1559.4 2184 L1559.4 2185.5 L1559.4 2187.1 L1559.4 2188.6 L1559.4 2190.1Z" fill="#5b8bc0" stroke="#000" stroke-width="2.25" stroke-linejoin="round"/>
<path d="M1559.4 2084.6v-0.1M1559.4 2190.1v0.1" stroke="#000" stroke-width="2.25"/>
<path d="M1549 2157.3H1569.9" stroke="#000" stroke-width="2.0"/>
<path d="M1538.5 2118.3H1580.4" stroke="#000" stroke-width="2.0"/>
<path d="M1538.5 2117.4H1580.3" stroke="#000" stroke-width="2.0"/>
<circle cx="1550" cy="2117.4" r="5.3" fill="#333"/>
<circle cx="1568.3" cy="2118.3" r="5.3" fill="#333"/>
<circle cx="1559.3" cy="2157.3" r="5.3" fill="#333"/>
<path d="M1621.3 2075.6 L1621.3 2075.4 L1621.3 2075.2 L1621.4 2074.9 L1621.4 2074.7 L1621.4 2074.4 L1621.5 2074.2 L1621.7 2073.9 L1621.9 2073.7 L1622.3 2073.5 L1622.8 2073.2 L1623.6 2073 L1624.6 2072.7 L1625.9 2072.5 L1627.5 2072.2 L1629.5 2072 L1631.6 2071.8 L1633.9 2071.5 L1636.2 2071.3 L1638.4 2071 L1640.2 2070.8 L1641.5 2070.5 L1642.3 2070.3 L1642.3 2070.1 L1641.7 2069.8 L1640.4 2069.6 L1638.6 2069.3 L1636.5 2069.1 L1634.2 2068.8 L1631.9 2068.6 L1629.8 2068.4 L1627.8 2068.1 L1626.2 2067.9 L1625 2067.6 L1624.1 2067.4 L1623.5 2067.1 L1623.2 2066.9 L1623.3 2066.6 L1623.6 2066.4 L1624.2 2066.2 L1625.1 2065.9 L1626.1 2065.7 L1627.3 2065.4 L1628.5 2065.2 L1629.7 2064.9 L1630.8 2064.7 L1631.6 2064.5 L1632.1 2064.2 L1632.2 2064 L1632 2063.7 L1631.4 2063.5 L1630.5 2063.2 L1629.4 2063 L1628.1 2062.8 L1626.9 2062.5 L1625.7 2062.3 L1624.7 2062 L1623.8 2061.8 L1623.1 2061.5 L1622.5 2061.3 L1622.1 2061.1 L1621.8 2060.8 L1621.6 2060.6 L1621.5 2060.3 L1621.4 2060.1 L1621.4 2059.8 L1621.4 2059.6 L1621.3 2059.4 L1621.3 2059.1 L1621.3 2058.9 L1621.3 2058.9 L1621.3 2059.1 L1621.3 2059.4 L1621.3 2059.6 L1621.3 2059.8 L1621.2 2060.1 L1621.1 2060.3 L1621 2060.6 L1620.8 2060.8 L1620.5 2061.1 L1620.1 2061.3 L1619.6 2061.5 L1618.9 2061.8 L1618 2062 L1616.9 2062.3 L1615.8 2062.5 L1614.5 2062.8 L1613.3 2063 L1612.2 2063.2 L1611.2 2063.5 L1610.6 2063.7 L1610.4 2064 L1610.5 2064.2 L1611.1 2064.5 L1611.9 2064.7 L1612.9 2064.9 L1614.2 2065.2 L1615.4 2065.4 L1616.6 2065.7 L1617.6 2065.9 L1618.4 2066.2 L1619 2066.4 L1619.4 2066.6 L1619.4 2066.9 L1619.2 2067.1 L1618.6 2067.4 L1617.7 2067.6 L1616.4 2067.9 L1614.8 2068.1 L1612.9 2068.4 L1610.7 2068.6 L1608.4 2068.8 L1606.1 2069.1 L1604 2069.3 L1602.2 2069.6 L1601 2069.8 L1600.3 2070.1 L1600.4 2070.3 L1601.1 2070.5 L1602.4 2070.8 L1604.3 2071 L1606.4 2071.3 L1608.7 2071.5 L1611 2071.8 L1613.2 2072 L1615.1 2072.2 L1616.7 2072.5 L1618 2072.7 L1619.1 2073 L1619.8 2073.2 L1620.3 2073.5 L1620.7 2073.7 L1621 2073.9 L1621.1 2074.2 L1621.2 2074.4 L1621.3 2074.7 L1621.3 2074.9 L1621.3 2075.2 L1621.3 2075.4 L1621.3 2075.6Z" fill="#5b8bc0" stroke="#000" stroke-width="2.25" stroke-linejoin="round"/>
<path d="M1621.3 2058.9v-0.1M1621.3 2075.6v0.1" stroke="#000" stroke-width="2.25"/>
<path d="M1601 2070.5H1641.6" stroke="#000" stroke-width="2.0"/>
<path d="M1601 2069.8H1641.7" stroke="#000" stroke-width="2.0"/>
<path d="M1610.4 2064H1632.2" stroke="#000" stroke-width="2.0"/>
<circle cx="1605.3" cy="2070.5" r="5.3" fill="#333"/>
<circle cx="1621.2" cy="2064" r="5.3" fill="#333"/>
<circle cx="1637.1" cy="2069.8" r="5.3" fill="#333"/>
<path d="M1355 1973V1949.8H1623.4V2043" stroke="#000" stroke-width="2.1" fill="none"/>
<path d="M1561 2067.8V2004H1623.4V2004" stroke="#000" stroke-width="2.1" fill="none"/>
<path d="M1065.7 1980.5H1501.6" stroke="#000" stroke-width="2.1"/>
<text x="1501.6" y="1946.6" font-family="Liberation Sans" font-size="32" text-anchor="middle">ns</text>
<text x="1591.9" y="2010.8" font-family="DejaVu Sans" font-size="33" letter-spacing="2.8" stroke="#000" stroke-width="1.0" text-anchor="middle">***</text>
</svg>
</body></html>
